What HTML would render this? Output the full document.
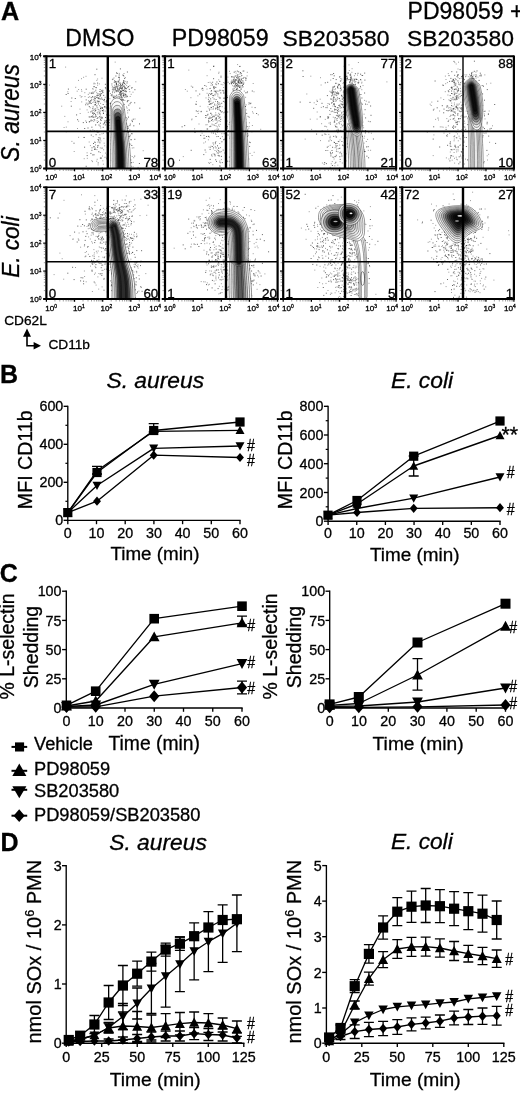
<!DOCTYPE html>
<html lang="en">
<head>
<meta charset="utf-8">
<title>Figure</title>
<style>
html,body{margin:0;padding:0;background:#fff;}
body{width:520px;height:1093px;overflow:hidden;}
svg{display:block;font-family:'Liberation Sans', sans-serif;fill:#000;}
text{stroke:#000;stroke-width:.3px;}
</style>
</head>
<body>
<svg width="520" height="1093" viewBox="0 0 520 1093">
<defs>
<clipPath id="cp00"><rect x="46.4" y="56.3" width="112.6" height="112.2"/></clipPath>
<clipPath id="cp01"><rect x="165" y="56.3" width="112.6" height="112.2"/></clipPath>
<clipPath id="cp02"><rect x="283.2" y="56.3" width="112.9" height="112.2"/></clipPath>
<clipPath id="cp03"><rect x="402.2" y="56.3" width="111.7" height="112.2"/></clipPath>
<clipPath id="cp10"><rect x="46.4" y="187.3" width="112.6" height="111.7"/></clipPath>
<clipPath id="cp11"><rect x="165" y="187.3" width="112.6" height="111.7"/></clipPath>
<clipPath id="cp12"><rect x="283.2" y="187.3" width="112.9" height="111.7"/></clipPath>
<clipPath id="cp13"><rect x="402.2" y="187.3" width="111.7" height="111.7"/></clipPath>
</defs>
<rect x="0" y="0" width="520" height="1093" fill="#fff"/>
<text x="1.1" y="19.7" font-size="25.2" font-weight="bold">A</text>
<text x="99.8" y="45.9" font-size="23" text-anchor="middle">DMSO</text>
<text x="220.2" y="46" font-size="23.2" text-anchor="middle">PD98059</text>
<text x="336" y="46" font-size="22.9" text-anchor="middle">SB203580</text>
<text x="407.6" y="18.6" font-size="23">PD98059 +</text>
<text x="407" y="45.5" font-size="22.9">SB203580</text>
<text transform="translate(19.1 112.9) rotate(-90) scale(1 1.1)" font-size="22.8" font-style="italic" text-anchor="middle">S. aureus</text>
<text transform="translate(18.6 247.1) rotate(-90) scale(1 1.07)" font-size="22.6" font-style="italic" text-anchor="middle">E. coli</text>
<g clip-path="url(#cp00)">
<path d="M114.5 92.6h0M124.5 86.4h0M114 89.5h0M123.2 93.3h0M126.9 96.9h0M119.5 88.1h0M120.4 91h0M118.4 89.6h0M121.2 94.8h0M113.6 88.8h0M113.4 90h0M116.5 91.5h0M118.7 94.6h0M119.6 92.6h0M120.5 83h0M123.1 90h0M124.3 85.8h0M124.5 89.1h0M123.5 93.3h0M127.4 87.4h0M122.5 93.6h0M115.4 87.2h0M122.7 100.6h0M124.4 97.4h0M128 87.7h0M116.9 103.7h0M121.1 96.8h0M120.8 95.3h0M120.6 83.8h0M119.5 92.6h0M116.6 95.6h0M125 88h0M111.9 83.7h0M120 94.5h0M119.3 73.4h0M123.6 106.2h0M131.2 94.3h0M120.5 100.9h0M119.6 103h0M122.9 92.1h0M111.8 85h0M117.3 86.3h0M118.5 90.8h0M121.9 96h0M117.9 88.4h0M117.8 81.3h0M120.8 91.4h0M129.8 91.7h0M112.8 91.3h0M112.8 114.4h0M125 94h0M122.7 75h0M115.9 98.5h0M127.4 81.7h0M116.9 85.1h0M114.6 85.2h0M125.6 94.8h0M119.4 80.8h0M112 94.9h0M126.5 95.9h0M118.3 82.2h0M112.4 79.6h0M120 91.1h0M125.5 84.3h0M111.1 95.3h0M116.9 99.2h0M123.2 85.3h0M116.6 87h0M123.5 96.2h0M119.5 94.2h0M116.6 91.7h0M121 97.1h0M124.9 89.1h0M121 90.8h0M120.9 88.5h0M122.4 90.5h0M119 90.4h0M121.6 85.5h0M115.5 82.6h0M124 73.5h0M118.8 85.7h0M119.4 85.7h0M119.4 96.4h0M118.2 82h0M121.6 88.3h0M126.6 85.4h0M123.4 95.6h0M125.8 81.4h0M124.7 87.3h0M118.2 86.1h0M122.2 104.6h0M132.3 87.6h0M112.3 87.2h0M124.2 93.8h0M112.7 86.3h0M118.9 90.1h0M116 100.6h0M121.6 93.1h0M112.8 88.8h0M121.8 89.1h0M121 98.4h0M118.2 101h0M118.3 96.3h0M125.4 77.6h0M122.3 103.2h0M114.8 88.1h0M119.2 89h0M125.3 88.4h0M119.4 87.6h0M115.5 88.3h0M129.8 85.8h0M123.9 76.2h0M116.1 90.9h0M122.2 99.1h0M121.1 94.7h0M118.5 84.3h0M116.2 97.7h0M120 94.6h0M115.3 88.6h0M116.7 95.1h0M116.4 83.4h0M123.7 82.3h0M122 86h0M116 104.5h0M123.2 114.6h0M121.8 87.6h0M122.3 83.6h0M120.6 86.5h0M114.4 96.1h0M122.2 89.3h0M112.4 89.6h0M113.2 89.8h0M114.9 87.3h0M117.7 88.4h0M121.2 94.3h0M130.2 96.5h0M112.6 92.8h0M117.7 97h0M93.9 83.9h0M101.2 118h0M97.5 93.8h0M107.9 92.6h0M94.1 83.1h0M93.1 97.1h0M97.2 132.4h0M97.6 85.2h0M100.8 94.8h0M98.7 93.8h0M97.5 101.5h0M93.7 117.3h0M99.9 134.7h0M94.8 96.6h0M93.1 92.9h0M94.4 86.6h0M99.5 105.7h0M89.4 93h0M95.7 109.8h0M97.9 132.1h0M90.1 101.6h0M99 101.6h0M88.3 94.4h0M113.5 113.7h0M96.1 103.3h0M104.9 101.8h0M88.7 103.3h0M95.7 124.6h0M97.7 107.9h0M98.1 109.5h0M98 102.2h0M114.8 104h0M111.6 117.6h0M81.7 101.9h0M96.7 92.7h0M110.8 103.1h0M98.7 109.8h0M94.4 104.9h0M88.3 112.3h0M99.5 91.5h0M115.3 105.6h0M97.5 97.2h0M94.5 113.4h0M94.4 91.8h0M89.7 96.7h0M110.4 93.5h0M100.4 107h0M97 118.5h0M107 115.3h0M88.6 100.7h0M92.4 115.8h0M101.2 108.7h0M101.6 90.4h0M98.6 97.7h0M86 76.3h0M94 119.5h0M97.6 79h0M100.6 108.4h0M90.6 100.6h0M95.7 96.7h0M103.2 111h0M96.3 87.8h0M97.2 112.5h0M95.7 90.9h0M112.5 92.1h0M104.4 99.3h0M111.6 95.8h0M98.1 117.4h0M93.6 114.5h0M100.5 91.7h0M102.7 92.8h0M103.3 124.1h0M89.3 101.7h0M107.9 102.4h0M98.9 101.9h0M96.8 80.4h0M106.6 114.6h0M105.2 121.6h0M86.2 103.2h0M93 112.7h0M108.3 102.4h0M104.2 99.7h0M102.8 90.2h0M105.7 88.7h0M87.1 103.2h0M100.4 94.1h0M94.5 109.2h0M100.1 118.1h0M93.2 136.6h0M103.6 109.7h0M105.2 111.1h0M84.8 92.7h0M101.3 107.3h0M93.9 101.2h0M100.3 114.9h0M103.5 123.9h0M97 131h0M103.5 100.4h0M81.2 97.2h0M100.2 94.8h0M89.7 103.5h0M94.7 142.1h0M89.4 121.5h0M95.8 90.1h0M100.2 111.9h0M83.6 77.3h0M97.1 120.8h0M105 122.7h0M102.8 110.7h0M97.3 100.7h0M90.2 107.7h0M99.8 93.9h0M100.6 103.4h0M100.2 98.7h0M95.7 115.6h0M103.3 110.7h0M87.1 109.9h0M80.2 113.5h0M102.9 90.7h0M104.8 106.9h0M119.6 108.4h0M99.5 98.2h0M93.7 99.4h0M89.9 117.1h0M97.8 114h0M97.3 95.3h0M99.4 101.3h0M100 110.1h0M93.2 89.1h0M102.2 110.6h0M100 111.2h0M95.7 108.6h0M99.4 83.9h0M93.3 113.1h0M96.9 107.1h0M92.9 92.1h0M104.2 107.3h0M92.4 120.6h0M102.4 91.3h0M104.5 123.2h0M105.2 97.3h0M106.4 104.8h0M95.1 83.7h0M103.5 133.3h0M88.4 97.4h0M90.3 130.3h0M93 116.2h0M89.4 101.9h0M92.9 102.5h0M116.3 85.9h0M94.4 130.8h0M98.5 121.6h0M100.2 99.3h0M114.5 103.7h0M94.7 97.4h0M92.6 88.7h0M102.8 160.8h0M104.9 157.3h0M95.5 144.9h0M98.6 145.4h0M97.9 142.1h0M110.5 143.9h0M100.7 128h0M74.2 151.5h0M108.3 127.9h0M90.4 145.6h0M84.2 158.7h0M98.8 151.6h0M100.1 137.8h0M97.5 145.5h0M106.2 157.2h0M94.2 146.5h0M97.2 159.3h0M100.3 152.5h0M87.3 158.3h0M102.3 167.6h0M84.2 137.4h0M100.3 147.9h0M100.3 158.1h0M98.7 151.8h0M97.9 146.1h0M116.8 153h0M96.7 161.2h0M94.9 174.1h0M104.2 143.2h0M103.9 138.4h0M103.4 164.2h0M105.9 171.1h0M103.6 149.8h0M99 141.7h0M93.7 121.3h0M96.9 149.6h0M102.5 156h0M92.8 129.8h0M91.8 160.7h0M110.6 140.1h0M98.1 164.9h0M119.3 166.4h0M94.7 142.2h0M99.9 169.6h0M105.6 153.1h0M106.6 171.6h0M102.1 147.8h0M87.1 152.8h0M89.2 142h0M92.5 161.6h0M102 133.8h0M104.7 145.8h0M100.9 140.9h0M95.4 142.5h0M122.7 160.4h0M123.5 163.5h0M120.3 135h0M123.6 146.4h0M129.6 137.9h0M115.6 144.5h0M114.6 123.4h0M123.2 119.3h0M125.4 150.1h0M121.2 164.2h0M132.2 156.5h0M124.4 149.9h0M128.2 143.5h0M119 146.6h0M123.9 133.8h0M111.7 145.1h0M126.7 139h0M124.8 127.3h0M143.2 150.7h0M122.9 99.3h0M122.6 151.7h0M118.1 150h0M130.9 131.4h0M128.4 140.5h0M127.7 112.9h0M127.5 118.9h0M112.2 161.4h0M125.3 160.4h0M124.3 147.7h0M123.6 159.1h0M124.9 123.7h0M120.1 140.7h0M119.8 115.5h0M110.5 166.1h0M120.9 118h0M119.6 144.7h0M123.1 132.5h0M119.2 154.5h0M133.7 157.7h0M118.2 145h0M125.6 138.2h0M120.6 131.8h0M120.6 118.5h0M120.5 102.8h0M124.6 146.9h0M125.1 123.3h0M120.4 154.5h0M122.4 141.2h0M127.4 132.2h0M115 91.7h0M124.1 167.9h0M120.1 127.9h0M116.2 144.6h0M127.9 143h0M116 149.4h0M126.8 163.2h0M122.2 144.7h0M119.5 108.4h0M121.6 130.5h0M117.2 148.2h0M115.7 122.3h0M119.7 150h0M127.9 138h0M124.9 157.8h0M109.9 98.7h0M116.5 156.9h0M116.3 147.1h0M120 175.8h0M126.6 120.2h0M119.8 154.4h0M125.7 133.2h0M123.7 149.8h0M118.2 145.1h0M112.6 136.3h0M113.3 125.8h0M114.3 172.7h0M118 167.2h0M118.7 103.4h0M113.6 136.7h0M118.4 148.2h0M121.9 107.8h0M118.6 134h0M124.3 138.2h0M130.1 155.6h0M128.8 172.6h0M123.5 129.7h0M121.8 161.2h0M120.8 115.9h0M116.5 167.1h0M128.7 100.5h0M127.7 100.5h0M126.5 150.2h0M119.7 121.1h0M125.4 132.8h0M119.4 113.8h0M117.6 118.7h0M123.4 139.4h0M119.6 169.8h0M125.3 134.6h0M118.1 148.5h0M125.9 95.1h0M120.6 156.4h0M119.2 109h0M123.1 123.2h0M123.4 144.3h0M121.4 138.9h0M118.7 130.1h0M118.3 122.5h0M124.2 137.5h0M126.4 123.2h0M125.6 141.6h0M115.3 137.2h0M124.3 114.3h0M129.7 144.9h0M135.8 81.8h0M110.5 149.6h0M121.4 121.5h0M115.1 163.5h0M119.1 159.6h0M126.5 136h0M124.8 100.4h0M112.6 158.5h0M127.2 101.8h0M120.6 118.9h0M123.2 132.4h0M117.9 127.7h0M115.9 158.6h0M118.8 149.1h0M126.7 124.1h0M121.7 107.4h0M120.3 122.6h0M124.8 142.5h0M117.3 146.1h0M106.4 122.5h0M125.8 178.5h0M106.9 159h0M123.3 157.1h0M120.9 121.8h0M124.5 153.9h0M125.7 134.2h0M117.8 118.9h0M127.7 110.7h0M113.6 134.1h0M131.3 162.6h0M118.5 145.5h0M115.2 118h0M120.3 134.5h0M125.4 129.7h0M102 148.5h0M121.6 116h0M135.8 182.7h0M117.3 135.9h0M127.1 108.1h0M124.4 134.7h0M129 109.7h0M121.9 174.9h0M120.3 166.1h0M129.4 147.5h0M123.7 110.1h0M108.5 120.4h0M123.1 122.9h0M120 142.6h0M125 144.4h0M112.3 162.6h0M111.6 103.2h0M129.5 110.2h0M125.2 165.9h0M121 136.6h0M114 114.6h0M123.4 145.4h0M119.5 111.9h0M119.3 146.3h0M132 133.9h0M121.5 114.3h0M111.3 153.6h0M116 148.2h0M106.5 132.9h0M119.1 178.6h0M119.1 177.1h0M118.8 113.3h0M119.8 137.6h0M117.4 143.7h0M106.9 154.8h0M119.1 141.2h0M125.9 124.8h0M116.8 144.6h0M133.2 162.4h0M127.3 146h0M114.7 160h0M131.1 139.5h0M116 139h0M116.5 139.2h0M128.5 134h0M126.5 106.9h0M115.2 62.1h0M125.9 200.3h0M123.6 155.5h0M126.1 152.2h0M114.3 109.7h0M121.7 175.2h0M120.7 97.2h0M135 119h0M128 138.1h0M114.2 128.9h0M128 155.1h0M123.9 141.9h0M116.6 133.6h0M123.4 158.6h0M115.3 126.3h0M123.8 126.7h0M114.6 151.8h0M133 92.2h0M121.2 136.7h0M126.4 157.5h0M125.1 136.9h0M116.7 189.4h0M126.5 143.1h0M133.1 166.8h0M118.4 157.4h0M107.9 134.7h0M117.7 146.4h0M121.7 118h0M115.6 145.2h0M133.8 147.8h0M129.4 145.2h0M118.1 148.8h0M117.3 136.6h0M122 109.6h0M108.2 104h0M116.2 157.2h0M118.3 148.7h0M111.2 131.3h0M124.7 138.2h0M121.9 152.5h0M119.8 167.4h0M138.1 167.4h0M124.8 117.9h0M132.3 148h0M130.7 144.1h0M107.9 118.8h0M121.4 133.9h0M121.4 112.2h0M114 77.9h0M122.1 113.6h0M115.4 142.6h0M126.2 148h0M117.9 111h0M124.5 142.2h0M116.1 185.7h0M109.9 125.5h0M131.4 166.3h0M120.4 136h0M61.7 106.2h0M64.1 127.5h0M95.6 125.2h0M85.7 120.9h0M67.8 91.8h0M68 121.8h0M90.6 102.8h0M77.2 91.2h0M78.6 137.3h0M66.3 127.1h0M64.8 116.4h0M49.5 85.1h0M80.1 95.7h0M71.9 141.4h0M98.1 111.8h0M99.4 94.7h0M81.9 96.5h0M81.8 91.3h0M81.5 78.7h0M102 78.2h0M75.7 87.3h0M78.6 89.5h0M80 109.1h0M71.1 101.5h0M78.6 121.2h0M77.5 128.5h0M85 96.6h0M78.5 80.4h0M65.6 67.1h0M81.5 89.7h0" stroke="#8c8c8c" stroke-width="0.85" stroke-linecap="square" fill="none"/><path d="M122.2 97.7h0M114.5 80.9h0M131.6 88h0M116.5 82h0M124.9 91.5h0M111.9 94.9h0M134.9 89.7h0M123.8 80.7h0M122.5 84.3h0M128.4 86.5h0M125.7 94.4h0M120.6 84.5h0M121.3 91.5h0M120.8 85.8h0M123.5 94.9h0M120.8 95.4h0M123.9 82h0M131 102.4h0M125 95h0M120.3 99.5h0M121.1 93.7h0M127 83h0M124.5 83.6h0M118.1 91.6h0M116.9 86.7h0M123.2 100h0M122.6 87.7h0M123.5 90.6h0M113.9 101.2h0M126.5 88.7h0M116.5 72.9h0M126.3 91.3h0M119.2 75h0M119.4 79.1h0M113.1 96.2h0M123.8 83.1h0M129.3 89.4h0M119.4 83.1h0M126 91.8h0M116.8 90.6h0M117.9 100h0M120.8 94.1h0M121.5 97h0M123.4 75.4h0M124.6 78.4h0M117.3 73.4h0M116.3 84.2h0M116.6 102.3h0M118.5 81.2h0M117.1 101.6h0M120.9 91.7h0M116.6 84.5h0M117.2 90.7h0M125.1 90.5h0M114.3 82.3h0M113.7 97.7h0M113 79.1h0M115.8 96.3h0M118.5 77.3h0M115.5 81.4h0M115.8 103.9h0M122.6 84.9h0M120.6 87.6h0M120.9 85.9h0M123.7 81h0M124.9 87.3h0M116.5 83.5h0M123.2 82.5h0M125.4 88.3h0M117.3 87.9h0M113.4 97.4h0M115.2 86.9h0M119.4 97.9h0M123.4 95.3h0M122.1 88.3h0M120.2 88.5h0M125.8 96.9h0M123.9 95.8h0M117.4 89.2h0M121.8 99.5h0M119.5 77.3h0M123.2 86.5h0M120.5 101.2h0M119.9 93.2h0M123 90.5h0M115.9 76h0M120.6 92.5h0M121 91.2h0M127.4 72h0M121.8 88.6h0M115.3 89.3h0M119.4 89.3h0M99.4 112.8h0M96.8 105.8h0M91.3 97.7h0M110.6 103.6h0M109.5 91h0M93.9 86.7h0M104.5 106.7h0M91.7 93.2h0M91.2 103.5h0M108 106h0M97.7 118.1h0M102.4 108.5h0M106.9 102.8h0M108 105.5h0M102.2 117.4h0M102 118.3h0M94.2 113.4h0M93 93.3h0M104.5 122.7h0M86.5 122.3h0M90.8 111.9h0M103.2 104.5h0M95.2 102.4h0M92.5 96.7h0M92.8 108.6h0M91.7 99.8h0M109.2 122.6h0M100.1 89.6h0M98.1 98.2h0M98.1 139.5h0M95.7 102.1h0M95.4 104.8h0M99.6 116.7h0M97.6 83.1h0M93.2 110.2h0M100.5 95.3h0M92 111.1h0M109.7 120h0M98.4 101.3h0M100.4 123.2h0M90.9 121h0M95.7 110.5h0M100 96.3h0M95.1 117h0M92.5 113.2h0M101.1 120.5h0M102.2 99.4h0M106.3 108h0M86.2 99.9h0M100.5 108.5h0M94.9 98.7h0M100.2 126.1h0M89.3 106.6h0M96 87.5h0M105.4 84.3h0M107.7 101.5h0M96.8 69.2h0M95 111.1h0M105.6 117.5h0M98.7 98.6h0M100 113.7h0M99 125h0M94.7 120h0M101.3 93.5h0M93.1 106.9h0M114.2 115h0M95.2 98.6h0M105.9 106.9h0M95.6 114.4h0M103.7 95.4h0M111 106.2h0M105.4 87.7h0M106.9 101.6h0M101.7 98h0M89.8 102.1h0M105.3 124.9h0M91.2 120.1h0M103.5 113.4h0M96.7 97.4h0M90.9 100.8h0M91.8 116.5h0M96.1 116.4h0M106.5 100.8h0M97 95.4h0M101 117h0M102.9 92.3h0M104.5 99.9h0M87.9 104.7h0M89.2 116.9h0M110.3 103.6h0M103.4 113.2h0M85.7 104.8h0M93 117.3h0M105 120.8h0M94.8 100.3h0M102.5 110.5h0M111.4 128.7h0M108 125.6h0M101.9 91.2h0M107.4 121.6h0M95.3 104.6h0M102.3 107.5h0M91.1 116.9h0M98.4 103.9h0M93.8 146.8h0M93.5 143.5h0M91.9 150.3h0M91.3 135.1h0M92.8 154.9h0M84.1 137.5h0M97.4 122.5h0M98.8 131.9h0M92 147.8h0M111.7 153.9h0M117.7 131.5h0M91.9 127.2h0M111.6 160.4h0M107.1 158.5h0M111.6 134.5h0M94 154.8h0M120.1 134.7h0M94.6 149.4h0M95.2 149.3h0M119.1 121h0M98.9 137.7h0M113.1 133.8h0M101.1 158.1h0M98.7 140.3h0M108 137.4h0M100.9 158.1h0M90.9 153.4h0M97.6 147.3h0M100.2 139h0M98.2 162.9h0M86.2 166.3h0M95 148h0M84.6 147.2h0M96.1 134.7h0M87.2 155.6h0M103.2 127.3h0M113.6 115.1h0M110.1 115.3h0M121.1 174.2h0M134.7 156.1h0M127.4 140h0M116.3 116.5h0M127.3 163.4h0M127.6 101.2h0M111 137.4h0M125.6 133.9h0M117.7 146.5h0M119.7 139h0M117.4 129.8h0M107.3 147.2h0M120.7 128.8h0M116.5 163.2h0M113.7 161.1h0M123.3 154.8h0M119.5 157.3h0M131.8 133.6h0M121.8 139.2h0M124.1 150.6h0M127.7 126.9h0M123 99.9h0M116.9 168.6h0M119.8 134.1h0M119.4 156.4h0M118.6 131.8h0M120.1 169.1h0M116.7 147.2h0M131.1 139.8h0M111.2 118.9h0M113.9 87.5h0M125.2 123.2h0M118.4 157.7h0M121.3 147.7h0M118.3 154.3h0M127 158.6h0M128.1 143.6h0M129.2 143.7h0M128.5 117.1h0M121.3 167.6h0M132.4 121.6h0M115.7 113h0M123.5 131.7h0M127.1 154.7h0M120 120.4h0M130.1 135.2h0M110.6 119.5h0M127.7 131.1h0M133.8 125.8h0M126.9 160.8h0M122.4 151.6h0M120.2 147.3h0M127.4 150.7h0M123 110.1h0M123.9 114h0M120.9 118.6h0M115.8 125.5h0M119.6 105.4h0M122.4 138.4h0M108.7 108.2h0M139.8 108.2h0M131.8 145.5h0M121.3 139.5h0M114.8 128.3h0M113.8 109.7h0M128.4 132.4h0M126.5 128.2h0M118.7 135.8h0M123 160h0M118.6 147.7h0M99.9 142.8h0M125.9 177.2h0M117 109.4h0M119.4 186.3h0M125.9 137.2h0M123.9 140.9h0M122.9 134.2h0M110.3 128.2h0M125 134.1h0M128.3 128.2h0M117.2 148.6h0M115.5 101.5h0M126.9 146.1h0M121.8 119.9h0M117.9 153.9h0M129.7 136.5h0M117.3 168.3h0M137 176h0M120.6 167.7h0M127.4 128.7h0M119.2 123.1h0M111.9 104.3h0M119.4 112.5h0M118.6 115.2h0M117.1 117.8h0M114.7 118.6h0M120.4 68.9h0M111.3 160.5h0M133.3 119.2h0M124.3 109.8h0M114.3 142.8h0M124.9 124.1h0M122.6 174.4h0M128.8 105.2h0M127.8 139.6h0M130.1 103.7h0M139.4 163.5h0M124.5 164.9h0M119 151.2h0M118.4 122.1h0M124.2 142.9h0M130.3 124.1h0M119.5 155.9h0M127.6 159.7h0M116.2 163.2h0M122.8 163.8h0M127.9 126.2h0M121.6 105.2h0M119.3 167.7h0M119.7 120.5h0M127.4 96.3h0M115.1 120.1h0M119.1 117.4h0M134.7 102.8h0M117.8 108.6h0M139.5 123.9h0M128.6 145h0M114.3 153.7h0M121.9 125.8h0M126.7 162.6h0M127.3 151.9h0M134.8 139.3h0M130.8 160h0M119.5 159.8h0M122.8 118.7h0M120.1 138.8h0M124.2 124.7h0M129.8 130h0M128.8 168.4h0M121 100.4h0M114.1 101.6h0M128.5 141.5h0M114.3 97.2h0M129.9 125.6h0M117.4 152.2h0M115.9 138h0M115.7 128.5h0M122.5 144.9h0M128.6 136.3h0M122.8 134.4h0M115.3 116.4h0M119 158.7h0M123.9 112.8h0M126.2 117.8h0M117.1 172.1h0M124.2 104.4h0M121.1 131.4h0M132 120.3h0M124.2 130.7h0M123.4 111.7h0M121.8 126.6h0M131.2 162.7h0M108.3 116.6h0M123.6 157.1h0M116.2 143.9h0M115.2 90.1h0M88 128h0M83.3 122.6h0M86.2 89.2h0M68.1 93.5h0M71.8 98h0M100.6 119.6h0M91.2 93.1h0M71.3 106.2h0M66.2 94.5h0M76.6 114.9h0M84.7 128.5h0M75.3 98.5h0M98.2 95.4h0M74 143.2h0M77.6 119.7h0M89.4 121.9h0M95 74.7h0M68.4 89.1h0M106.6 120.7h0M66.3 131.7h0" stroke="#3a3a3a" stroke-width="0.8" stroke-linecap="square" fill="none"/>
<path d="M116.6 98C115.6 98.1 114.3 98.6 113.5 99.2C112.7 99.8 112.3 100.7 111.8 101.5C111.3 102.2 110.9 102.2 110.6 103.9C110.4 105.6 110.3 109 110.2 111.6C110.1 114.1 110.1 116.7 110.1 119.2C110.1 121.8 110.1 124.4 110.1 126.9C110.1 129.5 110.1 132.1 110.2 134.6C110.2 137.2 110.3 139.7 110.3 142.2C110.4 144.7 110.4 147.2 110.4 149.7C110.4 152.1 110.4 154.5 110.4 157C110.4 159.5 110.4 162 110.4 164.6C110.4 167.1 110.3 170.2 110.5 172.1C110.7 174.1 110.9 175 111.7 176.3C112.4 177.7 113.5 179.3 115 180.3C116.6 181.2 118.9 182 120.8 182C122.7 182 125 181.1 126.5 180.1C128 179.1 129.1 177.5 129.8 176.1C130.5 174.7 130.7 173.8 130.8 171.9C131 169.9 130.8 166.8 130.7 164.2C130.6 161.6 130.5 159.1 130.4 156.5C130.2 153.9 130.1 151.2 129.8 148.6C129.6 146 129.3 143.4 128.9 140.9C128.6 138.3 128.2 135.7 127.8 133.2C127.5 130.7 127.1 128.2 126.8 125.7C126.4 123.2 126 120.7 125.7 118.2C125.3 115.7 125 113.2 124.6 110.6C124.2 108.1 123.7 104.7 123.2 103.1C122.8 101.5 122.3 101.6 121.8 100.9C121.2 100.2 120.7 99.3 119.8 98.8C118.9 98.3 117.6 97.9 116.6 98Z" fill="#fff" fill-opacity=".92"/>
<path d="M116.6 98C115.6 98.1 114.3 98.6 113.5 99.2C112.7 99.8 112.3 100.7 111.8 101.5C111.3 102.2 110.9 102.2 110.6 103.9C110.4 105.6 110.3 109 110.2 111.6C110.1 114.1 110.1 116.7 110.1 119.2C110.1 121.8 110.1 124.4 110.1 126.9C110.1 129.5 110.1 132.1 110.2 134.6C110.2 137.2 110.3 139.7 110.3 142.2C110.4 144.7 110.4 147.2 110.4 149.7C110.4 152.1 110.4 154.5 110.4 157C110.4 159.5 110.4 162 110.4 164.6C110.4 167.1 110.3 170.2 110.5 172.1C110.7 174.1 110.9 175 111.7 176.3C112.4 177.7 113.5 179.3 115 180.3C116.6 181.2 118.9 182 120.8 182C122.7 182 125 181.1 126.5 180.1C128 179.1 129.1 177.5 129.8 176.1C130.5 174.7 130.7 173.8 130.8 171.9C131 169.9 130.8 166.8 130.7 164.2C130.6 161.6 130.5 159.1 130.4 156.5C130.2 153.9 130.1 151.2 129.8 148.6C129.6 146 129.3 143.4 128.9 140.9C128.6 138.3 128.2 135.7 127.8 133.2C127.5 130.7 127.1 128.2 126.8 125.7C126.4 123.2 126 120.7 125.7 118.2C125.3 115.7 125 113.2 124.6 110.6C124.2 108.1 123.7 104.7 123.2 103.1C122.8 101.5 122.3 101.6 121.8 100.9C121.2 100.2 120.7 99.3 119.8 98.8C118.9 98.3 117.6 97.9 116.6 98Z" fill="none" stroke="rgba(0,0,0,0.8)" stroke-width="0.5"/>
<path d="M116.8 101.6C115.9 101.7 114.8 102.2 114 102.7C113.3 103.2 112.9 104.1 112.5 104.8C112.1 105.5 111.8 105.3 111.6 106.9C111.5 108.5 111.5 111.9 111.5 114.4C111.5 117 111.5 119.5 111.5 122C111.6 124.5 111.6 127 111.6 129.5C111.7 132 111.8 134.6 111.8 137.1C111.9 139.6 112 142 112.1 144.4C112.1 146.9 112.2 149.2 112.2 151.7C112.2 154.1 112.2 156.6 112.2 159C112.2 161.5 112.2 164 112.3 166.5C112.3 168.9 112.2 172.1 112.4 173.9C112.6 175.7 112.7 176.2 113.3 177.4C113.9 178.5 114.8 179.8 116.1 180.6C117.3 181.3 119.2 182 120.8 182C122.4 182 124.3 181.3 125.5 180.5C126.7 179.7 127.6 178.3 128.2 177.2C128.8 176 128.9 175.5 129 173.7C129.1 171.9 129 168.7 128.9 166.2C128.9 163.7 128.8 161.2 128.7 158.7C128.6 156.1 128.4 153.6 128.3 151C128.1 148.5 127.8 145.9 127.5 143.3C127.3 140.8 126.9 138.3 126.6 135.8C126.3 133.3 125.9 130.9 125.6 128.5C125.3 126 125 123.5 124.6 121.1C124.3 118.6 124 116.1 123.7 113.7C123.3 111.2 123 107.8 122.6 106.2C122.3 104.7 122 104.9 121.5 104.2C121 103.6 120.5 102.8 119.7 102.4C118.9 101.9 117.8 101.6 116.8 101.6Z" fill="none" stroke="rgba(0,0,0,0.8)" stroke-width="0.5"/>
<path d="M117 105.3C116.2 105.3 115.2 105.8 114.6 106.2C114 106.7 113.6 107.4 113.3 108C113 108.6 112.8 108.4 112.7 109.9C112.6 111.4 112.7 114.8 112.7 117.2C112.8 119.7 112.8 122.1 112.9 124.6C112.9 127 113 129.5 113.1 132C113.2 134.4 113.3 136.9 113.4 139.3C113.5 141.7 113.6 144.1 113.6 146.5C113.7 148.9 113.7 151.3 113.8 153.7C113.8 156.1 113.8 158.5 113.8 160.9C113.8 163.3 113.9 165.8 113.9 168.2C114 170.6 114 173.8 114.1 175.5C114.3 177.2 114.3 177.4 114.8 178.3C115.3 179.2 116 180.2 117 180.9C118 181.5 119.5 182 120.8 182C122.1 182 123.6 181.4 124.6 180.8C125.6 180.1 126.3 179 126.7 178.1C127.2 177.2 127.2 177 127.3 175.3C127.4 173.6 127.4 170.4 127.3 168C127.3 165.5 127.2 163.1 127.1 160.6C127.1 158.2 127 155.7 126.8 153.2C126.7 150.7 126.5 148.2 126.3 145.8C126 143.3 125.7 140.8 125.5 138.3C125.2 135.9 124.8 133.5 124.5 131.1C124.3 128.6 124 126.2 123.7 123.8C123.4 121.4 123.1 119 122.8 116.6C122.5 114.2 122.2 110.8 121.9 109.3C121.7 107.8 121.5 108.1 121.1 107.5C120.7 107 120.2 106.3 119.6 105.9C118.9 105.5 117.9 105.2 117 105.3Z" fill="rgba(0,0,0,0.1)" stroke="rgba(0,0,0,0.8)" stroke-width="0.5"/>
<path d="M117.3 108.9C116.6 109 115.8 109.3 115.2 109.7C114.7 110.1 114.3 110.7 114.1 111.2C113.9 111.7 113.9 111.3 113.9 112.8C113.8 114.2 113.8 117.5 113.9 119.9C113.9 122.3 114 124.7 114.1 127.1C114.2 129.5 114.3 131.9 114.4 134.3C114.5 136.7 114.7 139.1 114.8 141.4C114.9 143.8 115 146.1 115 148.5C115.1 150.8 115.2 153.1 115.2 155.5C115.2 157.8 115.2 160.2 115.3 162.6C115.3 165 115.3 167.4 115.4 169.7C115.4 172.1 115.4 175.3 115.5 176.9C115.6 178.4 115.7 178.4 116.1 179.1C116.4 179.8 117 180.6 117.8 181.1C118.6 181.6 119.8 182 120.8 182C121.8 182 123 181.5 123.8 181C124.5 180.5 125.1 179.7 125.5 178.9C125.8 178.2 125.9 178.3 126 176.7C126.1 175.2 126 172 125.9 169.6C125.9 167.2 125.8 164.8 125.8 162.4C125.7 160 125.7 157.6 125.5 155.2C125.4 152.8 125.3 150.3 125.1 147.9C124.9 145.5 124.7 143.1 124.4 140.7C124.2 138.3 123.9 135.9 123.6 133.6C123.3 131.2 123.1 128.8 122.8 126.5C122.5 124.1 122.3 121.8 122 119.4C121.8 117 121.3 113.7 121.1 112.3C120.9 110.9 121 111.3 120.7 110.8C120.4 110.3 119.9 109.8 119.4 109.4C118.8 109.1 118 108.9 117.3 108.9Z" fill="rgba(0,0,0,0.35)" stroke="rgba(0,0,0,0.8)" stroke-width="0.5"/>
<path d="M117.5 112.6C116.9 112.6 116.3 112.9 115.9 113.2C115.4 113.5 115.1 114 115 114.4C114.8 114.8 114.8 114.3 114.8 115.7C114.8 117 114.8 120.3 114.9 122.6C115 125 115.1 127.3 115.2 129.6C115.4 131.9 115.5 134.3 115.6 136.6C115.7 138.9 115.9 141.2 116 143.5C116.1 145.8 116.2 148.1 116.3 150.4C116.3 152.6 116.4 154.9 116.4 157.2C116.4 159.5 116.5 161.8 116.5 164.2C116.5 166.5 116.6 168.8 116.6 171.1C116.6 173.4 116.6 176.6 116.7 178.1C116.8 179.5 116.9 179.2 117.1 179.7C117.4 180.3 117.9 180.9 118.5 181.3C119.1 181.7 120 182 120.8 182C121.6 182 122.5 181.6 123.1 181.2C123.7 180.9 124.1 180.2 124.4 179.6C124.7 179.1 124.7 179.4 124.8 178C124.8 176.5 124.8 173.3 124.7 171C124.7 168.7 124.7 166.3 124.6 164C124.5 161.7 124.5 159.4 124.4 157C124.3 154.7 124.2 152.3 124.1 150C123.9 147.6 123.7 145.3 123.5 143C123.3 140.6 123 138.3 122.8 136C122.6 133.7 122.3 131.4 122.1 129.1C121.8 126.8 121.6 124.5 121.4 122.2C121.1 119.9 120.8 116.6 120.6 115.3C120.4 113.9 120.5 114.5 120.3 114.1C120 113.7 119.7 113.2 119.2 113C118.7 112.7 118.1 112.5 117.5 112.6Z" fill="rgba(0,0,0,0.5)" stroke="rgba(0,0,0,0.8)" stroke-width="0.5"/>
<path d="M117.7 116.2C117.3 116.2 116.8 116.4 116.5 116.7C116.2 116.9 116 117.3 115.8 117.6C115.7 117.9 115.7 117.3 115.7 118.5C115.7 119.8 115.8 123.1 115.9 125.3C116.1 127.6 116.2 129.8 116.3 132.1C116.5 134.3 116.6 136.6 116.8 138.8C116.9 141.1 117 143.3 117.1 145.5C117.2 147.7 117.3 150 117.4 152.2C117.5 154.4 117.5 156.7 117.5 158.9C117.6 161.1 117.6 163.4 117.6 165.6C117.7 167.9 117.7 170.1 117.7 172.4C117.8 174.6 117.8 177.8 117.9 179.1C117.9 180.5 117.9 180 118.2 180.4C118.4 180.8 118.7 181.2 119.1 181.5C119.6 181.8 120.2 182 120.8 182C121.4 182 122 181.7 122.5 181.5C122.9 181.2 123.2 180.7 123.4 180.3C123.6 179.9 123.6 180.4 123.7 179.1C123.7 177.7 123.6 174.6 123.6 172.3C123.6 170.1 123.6 167.8 123.5 165.5C123.5 163.3 123.4 161 123.4 158.8C123.3 156.5 123.2 154.2 123.1 152C123 149.7 122.8 147.4 122.7 145.2C122.5 142.9 122.3 140.6 122 138.4C121.8 136.1 121.6 133.9 121.4 131.7C121.2 129.4 120.9 127.2 120.7 125C120.5 122.7 120.2 119.5 120.1 118.3C119.9 117 120 117.6 119.8 117.3C119.6 117 119.4 116.7 119 116.5C118.7 116.3 118.2 116.2 117.7 116.2Z" fill="rgba(0,0,0,0.65)" stroke="rgba(0,0,0,0.8)" stroke-width="0.5"/>
<path d="M118 119.8C117.7 119.8 117.4 120 117.2 120.1C117 120.3 116.8 120.5 116.7 120.7C116.6 120.9 116.6 120.2 116.6 121.3C116.7 122.5 116.9 125.7 117 127.9C117.2 130.1 117.3 132.3 117.4 134.5C117.6 136.6 117.8 138.8 117.9 141C118.1 143.2 118.2 145.3 118.3 147.5C118.4 149.7 118.5 151.9 118.5 154C118.6 156.2 118.6 158.4 118.7 160.6C118.7 162.7 118.7 164.9 118.8 167.1C118.8 169.3 118.8 171.5 118.9 173.7C118.9 175.8 118.9 179 119 180.2C119 181.4 119 180.7 119.2 181C119.3 181.2 119.5 181.5 119.8 181.7C120 181.9 120.5 182 120.8 182C121.1 182 121.6 181.8 121.8 181.7C122.1 181.5 122.3 181.2 122.4 180.9C122.5 180.7 122.6 181.4 122.6 180.2C122.6 179 122.5 175.8 122.5 173.6C122.5 171.4 122.5 169.2 122.4 167C122.4 164.9 122.3 162.7 122.3 160.5C122.2 158.3 122.2 156.1 122.1 153.9C122 151.7 121.9 149.5 121.8 147.3C121.6 145.1 121.4 142.9 121.3 140.7C121.1 138.6 120.8 136.4 120.6 134.2C120.4 132 120.2 129.9 120.1 127.7C119.9 125.5 119.6 122.3 119.5 121.1C119.4 120 119.4 120.7 119.3 120.6C119.2 120.4 119 120.2 118.8 120C118.6 119.9 118.2 119.8 118 119.8Z" fill="rgba(0,0,0,0.6)" stroke="rgba(0,0,0,0.8)" stroke-width="0.5"/>
</g>
<path d="M46.4 55.5V169.4M159 55.5V169.4" fill="none" stroke="#000" stroke-width="2.2"/>
<line x1="43.2" y1="56.3" x2="159" y2="56.3" stroke="#000" stroke-width="1.9"/>
<line x1="43.2" y1="168.5" x2="159.9" y2="168.5" stroke="#000" stroke-width="1.9"/>
<line x1="107.8" y1="56.3" x2="107.8" y2="168.5" stroke="#000" stroke-width="2.4"/>
<line x1="46.4" y1="131.4" x2="159" y2="131.4" stroke="#000" stroke-width="1.6"/>
<line x1="43.2" y1="168.5" x2="46.4" y2="168.5" stroke="#000" stroke-width="1.2"/>
<line x1="46.4" y1="168.5" x2="46.4" y2="171.3" stroke="#000" stroke-width="1.2"/>
<text x="41.5" y="171.9" font-size="8.1" text-anchor="end">10<tspan font-size="4.9" dy="-2.5">0</tspan></text>
<text x="45.2" y="180.2" font-size="8.1">10<tspan font-size="4.9" dy="-2.5">0</tspan></text>
<line x1="43.2" y1="140.45" x2="46.4" y2="140.45" stroke="#000" stroke-width="1.2"/>
<line x1="74.55" y1="168.5" x2="74.55" y2="171.3" stroke="#000" stroke-width="1.2"/>
<text x="41.5" y="143.85" font-size="8.1" text-anchor="end">10<tspan font-size="4.9" dy="-2.5">1</tspan></text>
<text x="72.9" y="180.2" font-size="8.1">10<tspan font-size="4.9" dy="-2.5">1</tspan></text>
<line x1="43.2" y1="112.4" x2="46.4" y2="112.4" stroke="#000" stroke-width="1.2"/>
<line x1="102.7" y1="168.5" x2="102.7" y2="171.3" stroke="#000" stroke-width="1.2"/>
<text x="41.5" y="115.8" font-size="8.1" text-anchor="end">10<tspan font-size="4.9" dy="-2.5">2</tspan></text>
<text x="100.6" y="180.2" font-size="8.1">10<tspan font-size="4.9" dy="-2.5">2</tspan></text>
<line x1="43.2" y1="84.35" x2="46.4" y2="84.35" stroke="#000" stroke-width="1.2"/>
<line x1="130.85" y1="168.5" x2="130.85" y2="171.3" stroke="#000" stroke-width="1.2"/>
<text x="41.5" y="87.75" font-size="8.1" text-anchor="end">10<tspan font-size="4.9" dy="-2.5">3</tspan></text>
<text x="128.3" y="180.2" font-size="8.1">10<tspan font-size="4.9" dy="-2.5">3</tspan></text>
<line x1="43.2" y1="56.3" x2="46.4" y2="56.3" stroke="#000" stroke-width="1.2"/>
<line x1="159" y1="168.5" x2="159" y2="171.3" stroke="#000" stroke-width="1.2"/>
<text x="41.5" y="59.7" font-size="8.1" text-anchor="end">10<tspan font-size="4.9" dy="-2.5">4</tspan></text>
<text x="160.9" y="180.2" font-size="8.1" text-anchor="end">10<tspan font-size="4.9" dy="-2.5">4</tspan></text>
<path d="M45.4 160.1h-1.6M54.9 169.4v1.6M45.4 155.1h-1.6M59.8 169.4v1.6M45.4 151.6h-1.6M63.3 169.4v1.6M45.4 148.9h-1.6M66.1 169.4v1.6M45.4 146.7h-1.6M68.3 169.4v1.6M45.4 144.8h-1.6M70.2 169.4v1.6M45.4 143.2h-1.6M71.8 169.4v1.6M45.4 141.7h-1.6M73.3 169.4v1.6M45.4 132h-1.6M83 169.4v1.6M45.4 127.1h-1.6M88 169.4v1.6M45.4 123.6h-1.6M91.5 169.4v1.6M45.4 120.8h-1.6M94.2 169.4v1.6M45.4 118.6h-1.6M96.5 169.4v1.6M45.4 116.7h-1.6M98.3 169.4v1.6M45.4 115.1h-1.6M100 169.4v1.6M45.4 113.7h-1.6M101.4 169.4v1.6M45.4 104h-1.6M111.2 169.4v1.6M45.4 99h-1.6M116.1 169.4v1.6M45.4 95.5h-1.6M119.6 169.4v1.6M45.4 92.8h-1.6M122.4 169.4v1.6M45.4 90.6h-1.6M124.6 169.4v1.6M45.4 88.7h-1.6M126.5 169.4v1.6M45.4 87.1h-1.6M128.1 169.4v1.6M45.4 85.6h-1.6M129.6 169.4v1.6M45.4 75.9h-1.6M139.3 169.4v1.6M45.4 71h-1.6M144.3 169.4v1.6M45.4 67.5h-1.6M147.8 169.4v1.6M45.4 64.7h-1.6M150.5 169.4v1.6M45.4 62.5h-1.6M152.8 169.4v1.6M45.4 60.6h-1.6M154.6 169.4v1.6M45.4 59h-1.6M156.3 169.4v1.6M45.4 57.6h-1.6M157.7 169.4v1.6" stroke="#444" stroke-width=".5" fill="none"/>
<text x="48.7" y="68.1" font-size="13.4">1</text>
<text x="158.3" y="68.1" font-size="13.4" text-anchor="end">21</text>
<text x="48.7" y="167" font-size="13.4">0</text>
<text x="158.3" y="167" font-size="13.4" text-anchor="end">78</text>
<g clip-path="url(#cp01)">
<path d="M237.5 88.6h0M232.6 89.1h0M241.5 79.5h0M244.3 91.1h0M236.1 80.1h0M238.5 80.4h0M238 80.5h0M236.2 80.1h0M242.1 83.4h0M235.4 81.7h0M234.5 81.4h0M233.3 81.1h0M235.4 82.2h0M231.9 82.6h0M242.1 80.7h0M247.1 75.9h0M245.7 77.8h0M242.9 71.1h0M232.8 76.6h0M238.6 81h0M226.9 80.2h0M238 82.2h0M239.9 74h0M231.8 81h0M240 66.3h0M239 76.7h0M235.1 86.8h0M233.4 81.1h0M235 76.1h0M237.8 94.3h0M237.8 76.7h0M237.4 90.7h0M236.7 89.3h0M235.9 87.1h0M236.1 73.1h0M238.2 74.8h0M226.6 91.3h0M234.4 86.1h0M247.3 72.3h0M233.3 91h0M234.6 85.4h0M231.5 76.5h0M235.9 83.5h0M238.9 80.3h0M239.3 93.8h0M241 89.4h0M239.5 80.7h0M241 88.8h0M235.6 84.2h0M235.6 96h0M239.3 83.7h0M240.5 87.1h0M232 80.1h0M237.4 74.7h0M234.5 91.4h0M241.2 78.7h0M238.9 86.5h0M231.7 84h0M239.5 76.5h0M240.5 95.4h0M239.3 83.1h0M240 90.7h0M237.2 83.2h0M234.5 82.8h0M240.4 82.5h0M240 83.2h0M235.5 87.1h0M240.9 76.7h0M232.7 85.7h0M244.2 77.4h0M238.8 79.6h0M225.5 81h0M235 80.2h0M240.1 80.4h0M242 87.2h0M233.1 81.5h0M241.7 82.1h0M236.4 89.8h0M231.3 83h0M240.2 81.1h0M235.4 82.9h0M236.7 95h0M232.8 81.8h0M227.9 77.1h0M233.3 81.9h0M237.9 85.9h0M240.6 72.7h0M235.3 71.4h0M237.8 78.5h0M238.3 77.3h0M233.1 90.9h0M230.2 73.6h0M242.2 78.5h0M239.4 78.3h0M239.4 90.5h0M237.6 64.6h0M222.9 84.8h0M218.7 73.3h0M203 88.9h0M219.5 106.4h0M217.2 93.9h0M210.1 82.3h0M219.3 126.3h0M210.4 69.8h0M209.3 137h0M226.1 98.6h0M213.6 116.2h0M209.1 102.4h0M215.8 92.9h0M218.5 125h0M216.3 119.2h0M224.1 97.8h0M210.7 113.4h0M216.6 123.1h0M216.6 84.7h0M207.1 75.7h0M219.7 98h0M216.2 99.5h0M220.5 121.4h0M214.6 130.3h0M214.2 88h0M213.4 108.1h0M201.3 111.3h0M213.8 88.9h0M220.4 117.1h0M207.1 93.3h0M225 112.2h0M217.4 108.9h0M214.9 105.5h0M227.2 96h0M208 106.8h0M209.1 147.1h0M209.8 104.1h0M205.9 124.8h0M215.5 133.3h0M211 109.1h0M211.6 93.4h0M212.6 131h0M206.9 129h0M226.4 100.8h0M208.7 118.9h0M211 85.3h0M208 114.2h0M217.5 132.1h0M222.2 106.7h0M216.5 92.7h0M212.8 97.6h0M223.4 112.8h0M221 77.5h0M209.8 118.5h0M215.9 130h0M209 97.5h0M219.2 104.3h0M214.8 125.5h0M209.1 101.7h0M220.2 124.4h0M213.1 109.3h0M210.8 94h0M197.9 95.8h0M220.5 111.2h0M212.7 82.1h0M218.8 91.2h0M209.8 121.6h0M219.1 116.1h0M225.7 78.3h0M218.7 79.8h0M215.4 123.5h0M215.5 101.4h0M214.3 91.2h0M219 97.2h0M210.9 107.3h0M220.3 104.1h0M217.4 126.9h0M225.1 138.4h0M223.8 92.8h0M218.7 118.2h0M214.9 94.3h0M217.3 130.3h0M224.9 112.2h0M226.6 116.8h0M205.5 141.9h0M206.3 86.3h0M218.6 107.8h0M211.4 83.6h0M213 121.1h0M214.1 124.9h0M215.9 107.9h0M213 124.9h0M215.7 112.8h0M223.6 87.5h0M209.7 88.6h0M213.5 87.4h0M208.7 101.4h0M219 72.2h0M216.2 108.3h0M215.1 115.2h0M223.7 82.6h0M212.3 82.6h0M229.5 71.3h0M225.9 89.9h0M220 110.4h0M220.7 90.3h0M218.4 104.6h0M217 104.9h0M202.9 90.5h0M206.7 115.7h0M209.4 93.5h0M217.4 122h0M210.8 101.1h0M208.5 94.4h0M225.1 117h0M208.4 139.8h0M213.4 102.3h0M216.1 99.5h0M226.5 111.1h0M218.6 113.3h0M214 116.2h0M217.8 96h0M210.5 88.4h0M218 94.1h0M215.2 95h0M200.2 106.3h0M219.5 109.1h0M216.4 118.2h0M221.2 84.4h0M214.6 86.7h0M222.5 111.7h0M210.5 118.1h0M215.1 156h0M204 135.4h0M220.5 162.8h0M221.2 167.9h0M229.3 161.3h0M221.4 151.6h0M217.8 130.8h0M229.4 157.1h0M219.5 155.7h0M218.9 151.9h0M222.4 136.6h0M218.7 148.3h0M220.1 166.3h0M219.1 156.3h0M210.4 147.4h0M215 150.5h0M213.6 144.8h0M216.5 151.4h0M220.5 147.6h0M208.8 162.6h0M209.4 163.5h0M217 129h0M212 124.1h0M219.8 161h0M216.2 126h0M210.8 162.5h0M231.5 143.4h0M207.1 124.7h0M221.4 159.6h0M213.6 147.5h0M212.8 164.7h0M219.7 162.2h0M229.9 122.4h0M219.7 143.5h0M211 146.2h0M217.3 150h0M215.3 146.6h0M215.9 141.5h0M205.9 152.2h0M212.2 156.2h0M216.6 136.6h0M215.4 143.7h0M218 152.7h0M213.2 153.9h0M215.9 134.5h0M224.6 153h0M221.8 133.7h0M203.8 143h0M217.2 152.9h0M218.3 153.7h0M213.4 148.8h0M211.6 132.9h0M223.6 139.8h0M204.9 138.2h0M234.7 108h0M247.9 129.8h0M239.2 160.4h0M231.7 105.4h0M252.4 125.5h0M238.1 153.6h0M233 130.4h0M233.5 130.9h0M242.2 128h0M244.3 148.3h0M230.5 103.6h0M234.5 134.9h0M246.1 109.9h0M242.6 137.6h0M249 102.6h0M238.2 123.2h0M245.8 119.4h0M247.5 160.8h0M250 103.2h0M240.6 135h0M233.7 111.6h0M254.2 152.3h0M249.2 117.5h0M235.2 162.8h0M245.6 151.2h0M253.3 113.2h0M240.1 158.4h0M236.2 149.4h0M236.3 91.5h0M236.6 130.7h0M235.9 110h0M237 139h0M249.4 122.8h0M241.2 95.4h0M253.2 83.5h0M231.6 147.2h0M236.1 145.9h0M247.2 92.7h0M234 86.6h0M250.1 153.4h0M245.2 118.3h0M237.5 136.3h0M239.7 168.5h0M242.2 176.6h0M235.2 149.7h0M239.8 122.1h0M231.9 94.9h0M237.9 141.9h0M247.7 130.5h0M235 115.8h0M247.1 133.4h0M246.2 104.9h0M248.9 159h0M247.5 144.4h0M249.2 126.4h0M254 91.8h0M240.5 93.5h0M232.9 123.3h0M229 124.3h0M236.6 99.1h0M244 132.1h0M245.8 122.7h0M232.7 138h0M247.1 92.3h0M248.8 128.2h0M252.1 155.5h0M236.4 106.5h0M235.3 125.9h0M234.8 132.3h0M231 121.5h0M260.7 129.3h0M243.5 107.8h0M240.5 83.7h0M244.4 121.7h0M243.1 137.9h0M244.5 144.1h0M240.6 162.6h0M237.7 87.2h0M229.8 138.2h0M238.5 107.3h0M236.4 122.5h0M246.5 140.1h0M252.5 111.8h0M246 132h0M243.6 108.1h0M241.5 138.1h0M251.9 131.9h0M242.3 147.4h0M241.4 89.1h0M237.5 152.9h0M245.8 77.9h0M225.7 92h0M244 122.4h0M237.5 152.5h0M245.6 97.3h0M244.3 177.1h0M238.1 152.1h0M248.8 116.6h0M241.1 119.6h0M242.1 131h0M232.5 143.8h0M232.7 146.2h0M233.2 129.3h0M239.7 135.8h0M238.3 147.3h0M244.8 112.4h0M232 138.1h0M243.2 129.7h0M240.1 99.6h0M243.5 84h0M248.8 104.1h0M227.2 121h0M241.4 121.9h0M240.1 94.8h0M227.9 169.2h0M244.6 154.5h0M247.2 159.7h0M245 128.8h0M238.5 79h0M241 109h0M247.9 116.3h0M247.8 133.7h0M238.3 137.6h0M238.5 163.5h0M244.9 141.8h0M233.3 142.5h0M251 103.2h0M240.7 145.8h0M230.3 136.6h0M243 129.3h0M242.9 165.6h0M241.1 122.1h0M239.7 139.1h0M258.3 114.8h0M238.4 101.4h0M229.8 122.4h0M235.5 158.6h0M251.2 178.8h0M252 107.2h0M247.5 91.7h0M237.5 124.2h0M250.5 142.6h0M225.2 131.9h0M247.6 126.5h0M195.6 104.2h0M211 91.2h0M201.6 88.9h0M198.7 111.1h0M192 119h0M199 124h0M217.9 115.2h0M185.4 89.5h0M190.9 97.7h0M188.8 70.1h0M191.3 86.2h0M207 62.7h0M187.3 91.2h0M207 89.1h0M197.4 111.5h0M208.3 82.5h0M209.1 108.7h0M206 97.9h0M191.7 119.8h0M196.4 101.6h0M194.6 128.8h0M183.3 156.6h0M202.1 133.2h0M198.3 113.4h0" stroke="#8c8c8c" stroke-width="0.85" stroke-linecap="square" fill="none"/><path d="M233.6 79.8h0M238.1 96.6h0M235.1 80.8h0M240.4 81.6h0M243 81h0M241.3 73.7h0M234.3 82h0M235.8 76h0M239.2 85.8h0M233.8 90h0M241.6 82.9h0M231.9 77.1h0M238.9 82.6h0M243.8 71h0M237.3 71.1h0M238.5 82h0M243.8 83h0M236.6 89.9h0M238 85.1h0M236.9 88.8h0M236.7 94.3h0M238.2 86h0M243 86.8h0M237.1 86.2h0M235.4 84.1h0M238.7 71.8h0M229.7 83.7h0M241.7 82.6h0M246 78.6h0M232 93.6h0M241.8 75.5h0M241.2 79.9h0M236.3 83.6h0M236.1 85.6h0M238.6 81.2h0M237.3 84.4h0M234 79.9h0M239.8 66.5h0M237.9 81.8h0M237.3 75.9h0M238.4 92.6h0M231.2 82h0M234.2 78.1h0M231.5 83.4h0M233.5 83.3h0M239.5 79.7h0M236.4 85.6h0M236.5 77.7h0M234.1 88.3h0M228 82.2h0M234 77.1h0M241 85.8h0M237.9 77.8h0M240.4 72.6h0M232.4 82.4h0M235.1 93.1h0M245.8 80.2h0M234.2 72.2h0M237.3 95.5h0M241.7 83h0M242.5 85.5h0M245.8 92.8h0M235.5 79.8h0M236.8 79.9h0M211.5 90.7h0M211.8 114.9h0M213.5 86.9h0M214.1 116.7h0M220.2 98h0M224 98.4h0M227.7 112h0M209.4 101h0M217.8 107.2h0M211.5 120.4h0M219 102.9h0M207.7 114.9h0M196 90.9h0M212.2 103.2h0M215.2 91.1h0M216.9 82h0M217.6 101.5h0M220.3 110.5h0M208.9 118.3h0M212.5 84.9h0M221.4 112h0M213.2 106.5h0M219.7 114.3h0M218.2 136.5h0M214.3 88.1h0M211.7 117.8h0M209.5 110h0M220.8 92.9h0M215.7 91.6h0M213.6 66.4h0M199.7 94.1h0M210.8 126.2h0M200.7 135.4h0M220.4 138.4h0M213.6 78.7h0M215.8 84h0M217 91.1h0M213.8 66.2h0M222.9 90.4h0M213.4 133.1h0M202.5 88.3h0M209.9 126.6h0M215.2 119.9h0M214.7 104.2h0M216 115h0M217.9 109.6h0M221 76.2h0M218.3 129.2h0M205.7 115.5h0M208.6 95.7h0M212.5 119.5h0M205.8 117.6h0M225 83.2h0M216.8 120.1h0M208.4 99.3h0M217.5 107.7h0M225.2 108.2h0M218.1 116.4h0M212.5 116.9h0M216 118.3h0M219.8 90.2h0M210.8 104h0M210.9 113.3h0M209.3 104.5h0M215.5 108.9h0M218.4 83.7h0M215.8 87.4h0M209.9 117.2h0M223.4 101.4h0M210.9 103.7h0M219.6 117.8h0M214.1 99h0M219.1 120.8h0M223.3 91h0M220.2 106.3h0M213.7 95.7h0M212.9 95.5h0M219.8 81.4h0M219.5 106.8h0M201.1 111.7h0M217.6 103.1h0M210.6 98.9h0M216.3 117.9h0M223.8 93.1h0M224.9 102h0M211.9 93.7h0M217.4 106.1h0M221.7 103.3h0M205.1 150h0M212.3 146.5h0M203.8 154.6h0M208.5 136.4h0M218.6 150.7h0M221.9 141.8h0M221.4 156.4h0M218.2 155.5h0M222.3 162.6h0M210.1 149.4h0M224.1 139.6h0M210.2 159.4h0M218.7 148.1h0M215.7 159.8h0M224.2 133.7h0M231.9 171.8h0M204 138.3h0M230.4 149.9h0M217.5 145.8h0M213.1 143h0M216.5 161.4h0M215.4 142.7h0M223.2 150.1h0M213.6 186.5h0M227.2 128h0M211.6 155h0M220.7 119.4h0M219.8 165.9h0M208.6 122h0M220 152h0M214.6 154.2h0M216 147.9h0M206.6 136.5h0M215 155h0M208.6 120.8h0M214.2 170.2h0M231.6 126.3h0M243.5 132.6h0M227.4 126.4h0M227.6 161.2h0M237.7 133.8h0M238.2 115.7h0M230.1 165.1h0M240.2 131.5h0M249.6 142.2h0M241.7 153.4h0M241.5 132.2h0M235.4 105.9h0M235.1 178.8h0M242.6 161.3h0M250.2 103.7h0M248 135.2h0M238.3 141.3h0M239.5 87.5h0M243.5 136.3h0M243.8 103.1h0M247.5 155h0M232.1 108.9h0M234.9 145.5h0M233.3 153.8h0M232.4 150.6h0M240 148.9h0M246.3 154.7h0M242.3 121.7h0M241.7 147h0M235 136.8h0M242 134.6h0M242.5 96.5h0M228.6 179.1h0M229.9 169.9h0M242.5 134.1h0M236.5 135.5h0M228 135h0M238 115.7h0M243.2 84.5h0M243.3 135.4h0M234.8 120.3h0M241.1 106.8h0M245 136h0M241.1 96.1h0M238.5 117.8h0M243 140.1h0M247.1 165.7h0M244.3 125.8h0M241.8 179.2h0M246.7 113.4h0M232.9 138.2h0M233.4 132.6h0M246.6 134.7h0M238.9 132.8h0M235.9 143.2h0M246.1 152.3h0M241.4 166.2h0M240.7 118.3h0M235.1 149.4h0M241.5 110h0M244.7 127.1h0M241.2 116.5h0M245.5 106.5h0M245.5 134.2h0M240.3 166.9h0M237.3 142.5h0M239.7 132.3h0M237.1 108.7h0M241.3 131.9h0M238.6 128.6h0M242 98.1h0M233.6 128.9h0M236.4 104.3h0M231 121.4h0M227.5 97.6h0M247.6 136.4h0M228.6 130.7h0M234.9 174.6h0M249.6 146.4h0M239.7 119.6h0M252.3 91h0M245.4 146.3h0M231.3 140.8h0M255.1 107.6h0M234.9 114.2h0M246 126.9h0M240.4 145.8h0M243.4 78.1h0M239.8 87h0M234.4 126.9h0M241.2 144.7h0M256.6 113.5h0M238.5 82.7h0M241.1 121.9h0M235.3 96.3h0M237.7 106.4h0M201 131h0M192.7 87.2h0M184.7 125.6h0M210.8 94.4h0M196 116.5h0M196.3 104.3h0M209.6 53.9h0M196.3 110.9h0M204.8 85.5h0M211.4 107.5h0M206.9 111.3h0M179.5 160.2h0M207.6 129h0M182.1 126.8h0M191.2 150.3h0M195 132.4h0" stroke="#3a3a3a" stroke-width="0.8" stroke-linecap="square" fill="none"/>
<path d="M236.6 90C235.5 90 234.1 90.6 233.2 91.2C232.3 91.8 231.8 92.8 231.3 93.6C230.7 94.5 230.2 94.4 229.9 96.2C229.6 98.1 229.6 102 229.6 104.9C229.6 107.7 229.7 110.6 229.8 113.4C229.9 116.2 229.9 119 229.9 121.9C230 124.7 230 127.5 230 130.3C230 133.1 230 136 230 138.8C230 141.6 230 144.4 230 147.2C230 150.1 230 152.9 230 155.7C229.9 158.5 229.9 161.3 229.9 164.1C229.9 166.9 229.8 170.5 229.9 172.6C230.1 174.6 230.2 175.3 230.9 176.6C231.5 177.9 232.6 179.4 234 180.3C235.5 181.2 237.7 182 239.5 182C241.3 182 243.5 181.2 244.9 180.2C246.4 179.3 247.4 177.8 248.1 176.5C248.7 175.2 248.8 174.5 248.9 172.4C249.1 170.3 248.8 166.7 248.8 163.9C248.7 161 248.6 158.2 248.4 155.3C248.3 152.5 248.2 149.6 248 146.7C247.8 143.9 247.7 141 247.4 138.2C247.2 135.3 247 132.5 246.8 129.6C246.6 126.8 246.3 124 246.1 121.1C245.9 118.3 245.7 115.4 245.4 112.6C245.2 109.8 245 106.9 244.7 104.1C244.4 101.3 244.1 97.6 243.7 95.8C243.2 94 242.7 94.1 242.1 93.3C241.5 92.5 241 91.5 240.1 91C239.1 90.4 237.7 90 236.6 90Z" fill="#fff" fill-opacity=".92"/>
<path d="M236.6 90C235.5 90 234.1 90.6 233.2 91.2C232.3 91.8 231.8 92.8 231.3 93.6C230.7 94.5 230.2 94.4 229.9 96.2C229.6 98.1 229.6 102 229.6 104.9C229.6 107.7 229.7 110.6 229.8 113.4C229.9 116.2 229.9 119 229.9 121.9C230 124.7 230 127.5 230 130.3C230 133.1 230 136 230 138.8C230 141.6 230 144.4 230 147.2C230 150.1 230 152.9 230 155.7C229.9 158.5 229.9 161.3 229.9 164.1C229.9 166.9 229.8 170.5 229.9 172.6C230.1 174.6 230.2 175.3 230.9 176.6C231.5 177.9 232.6 179.4 234 180.3C235.5 181.2 237.7 182 239.5 182C241.3 182 243.5 181.2 244.9 180.2C246.4 179.3 247.4 177.8 248.1 176.5C248.7 175.2 248.8 174.5 248.9 172.4C249.1 170.3 248.8 166.7 248.8 163.9C248.7 161 248.6 158.2 248.4 155.3C248.3 152.5 248.2 149.6 248 146.7C247.8 143.9 247.7 141 247.4 138.2C247.2 135.3 247 132.5 246.8 129.6C246.6 126.8 246.3 124 246.1 121.1C245.9 118.3 245.7 115.4 245.4 112.6C245.2 109.8 245 106.9 244.7 104.1C244.4 101.3 244.1 97.6 243.7 95.8C243.2 94 242.7 94.1 242.1 93.3C241.5 92.5 241 91.5 240.1 91C239.1 90.4 237.7 90 236.6 90Z" fill="none" stroke="rgba(0,0,0,0.8)" stroke-width="0.5"/>
<path d="M236.7 92.1C235.7 92.2 234.5 92.7 233.7 93.2C233 93.7 232.5 94.5 232.1 95.3C231.6 96 231.2 95.7 231.1 97.6C230.9 99.4 231 103.3 231 106.2C231 109 231.2 111.9 231.2 114.7C231.3 117.6 231.4 120.4 231.4 123.2C231.5 126.1 231.5 128.9 231.5 131.8C231.6 134.6 231.6 137.4 231.6 140.3C231.6 143.1 231.6 145.9 231.6 148.8C231.6 151.6 231.6 154.4 231.6 157.3C231.6 160.1 231.6 162.9 231.6 165.8C231.6 168.6 231.5 172.3 231.7 174.3C231.8 176.2 231.9 176.5 232.4 177.5C233 178.6 233.8 179.9 235 180.6C236.2 181.4 238 182 239.5 182C241 182 242.8 181.3 244 180.6C245.1 179.8 246 178.5 246.5 177.5C247.1 176.4 247.1 176.1 247.2 174.2C247.3 172.2 247.2 168.4 247.1 165.6C247 162.7 247 159.8 246.8 157C246.7 154.1 246.6 151.2 246.5 148.4C246.3 145.5 246.2 142.6 246 139.8C245.8 136.9 245.6 134.1 245.4 131.2C245.2 128.3 245 125.5 244.8 122.6C244.6 119.8 244.3 116.9 244.1 114.1C243.9 111.2 243.7 108.4 243.5 105.5C243.2 102.7 242.9 98.9 242.6 97.1C242.3 95.3 241.9 95.7 241.5 95C241 94.3 240.5 93.5 239.7 93C238.9 92.5 237.7 92.1 236.7 92.1Z" fill="rgba(0,0,0,0.04)" stroke="rgba(0,0,0,0.8)" stroke-width="0.5"/>
<path d="M236.7 94.3C235.9 94.3 234.9 94.7 234.2 95.2C233.6 95.6 233.2 96.4 232.8 97C232.5 97.6 232.2 97.1 232.1 98.9C232 100.6 232.2 104.6 232.2 107.5C232.3 110.4 232.5 113.2 232.5 116.1C232.6 118.9 232.7 121.7 232.8 124.6C232.8 127.4 232.9 130.3 232.9 133.1C232.9 136 233 138.8 233 141.7C233 144.5 233.1 147.3 233.1 150.2C233.1 153 233.1 155.9 233.1 158.7C233.1 161.5 233.1 164.4 233.1 167.2C233.2 170.1 233.1 173.9 233.2 175.8C233.3 177.6 233.3 177.6 233.8 178.4C234.2 179.3 234.9 180.3 235.9 180.9C236.8 181.5 238.3 182 239.5 182C240.7 182 242.1 181.5 243.1 180.8C244 180.2 244.7 179.2 245.2 178.3C245.6 177.5 245.7 177.6 245.7 175.7C245.8 173.8 245.7 169.9 245.6 167.1C245.6 164.2 245.5 161.4 245.4 158.5C245.3 155.6 245.2 152.8 245.1 149.9C245 147 244.8 144.1 244.7 141.3C244.5 138.4 244.3 135.5 244.1 132.7C243.9 129.8 243.8 127 243.6 124.1C243.4 121.3 243.2 118.4 243 115.5C242.8 112.7 242.6 109.8 242.4 107C242.1 104.1 241.9 100.2 241.6 98.5C241.4 96.8 241.2 97.3 240.8 96.7C240.4 96.1 239.9 95.4 239.3 95C238.6 94.6 237.6 94.3 236.7 94.3Z" fill="rgba(0,0,0,0.2)" stroke="rgba(0,0,0,0.8)" stroke-width="0.5"/>
<path d="M236.8 96.4C236.1 96.5 235.3 96.8 234.7 97.2C234.2 97.5 233.8 98.2 233.6 98.7C233.4 99.2 233.4 98.5 233.3 100.2C233.3 101.9 233.3 106 233.4 108.8C233.4 111.7 233.6 114.5 233.7 117.4C233.8 120.2 233.9 123 233.9 125.9C234 128.7 234.1 131.6 234.1 134.4C234.2 137.3 234.2 140.1 234.3 143C234.3 145.8 234.3 148.7 234.4 151.5C234.4 154.3 234.4 157.2 234.4 160C234.4 162.9 234.5 165.7 234.5 168.5C234.5 171.4 234.4 175.3 234.5 177.1C234.6 178.9 234.6 178.5 235 179.2C235.4 179.8 235.9 180.7 236.7 181.1C237.4 181.6 238.6 182 239.5 182C240.4 182 241.6 181.6 242.3 181.1C243.1 180.6 243.6 179.8 244 179.1C244.3 178.4 244.3 178.8 244.4 177C244.5 175.3 244.4 171.3 244.3 168.4C244.3 165.6 244.2 162.7 244.1 159.9C244.1 157 244 154.1 243.9 151.3C243.8 148.4 243.6 145.5 243.5 142.7C243.4 139.8 243.2 136.9 243 134.1C242.9 131.2 242.7 128.4 242.5 125.5C242.3 122.7 242.1 119.8 242 116.9C241.8 114.1 241.6 111.2 241.4 108.4C241.1 105.5 240.8 101.6 240.6 99.9C240.4 98.2 240.4 98.9 240.2 98.4C239.9 97.9 239.5 97.3 238.9 97C238.3 96.7 237.5 96.4 236.8 96.4Z" fill="rgba(0,0,0,0.5)" stroke="rgba(0,0,0,0.8)" stroke-width="0.5"/>
<path d="M236.9 98.6C236.3 98.6 235.7 98.9 235.3 99.2C234.8 99.5 234.5 100 234.4 100.4C234.2 100.8 234.1 100 234.1 101.6C234.1 103.2 234.3 107.3 234.4 110.1C234.4 113 234.6 115.8 234.7 118.6C234.8 121.5 234.9 124.3 235 127.2C235 130 235.1 132.8 235.2 135.7C235.2 138.5 235.3 141.3 235.3 144.2C235.4 147 235.4 149.9 235.5 152.7C235.5 155.5 235.5 158.4 235.6 161.2C235.6 164 235.6 166.9 235.6 169.7C235.6 172.5 235.6 176.5 235.7 178.2C235.7 179.9 235.8 179.3 236 179.8C236.3 180.3 236.7 181 237.3 181.3C237.9 181.7 238.8 182 239.5 182C240.2 182 241.1 181.7 241.7 181.3C242.2 180.9 242.7 180.3 242.9 179.8C243.2 179.3 243.2 179.9 243.3 178.2C243.3 176.5 243.2 172.5 243.2 169.6C243.2 166.8 243.1 163.9 243 161.1C243 158.2 242.9 155.4 242.8 152.5C242.7 149.7 242.6 146.8 242.5 144C242.4 141.1 242.2 138.3 242.1 135.4C241.9 132.6 241.8 129.7 241.6 126.9C241.4 124 241.3 121.2 241.1 118.3C240.9 115.5 240.7 112.6 240.5 109.8C240.3 107 240 102.9 239.9 101.3C239.7 99.7 239.8 100.5 239.5 100.1C239.3 99.7 239 99.3 238.5 99C238.1 98.8 237.4 98.6 236.9 98.6Z" fill="rgba(0,0,0,0.6)" stroke="rgba(0,0,0,0.8)" stroke-width="0.5"/>
<path d="M237 100.7C236.6 100.8 236.1 101 235.8 101.2C235.5 101.4 235.2 101.8 235.1 102.1C235 102.3 234.9 101.4 234.9 103C235 104.5 235.2 108.6 235.3 111.5C235.4 114.3 235.5 117.1 235.6 119.9C235.7 122.8 235.8 125.6 235.9 128.4C236 131.2 236.1 134.1 236.2 136.9C236.2 139.7 236.3 142.5 236.4 145.4C236.4 148.2 236.5 151 236.5 153.8C236.5 156.6 236.6 159.5 236.6 162.3C236.6 165.1 236.7 168 236.7 170.8C236.7 173.6 236.7 177.7 236.7 179.3C236.8 180.9 236.8 180.1 237 180.4C237.2 180.8 237.5 181.2 237.9 181.5C238.3 181.8 239 182 239.5 182C240 182 240.7 181.8 241.1 181.5C241.5 181.2 241.8 180.8 242 180.4C242.2 180 242.2 180.8 242.2 179.2C242.3 177.6 242.2 173.6 242.2 170.7C242.1 167.9 242.1 165.1 242 162.2C242 159.4 241.9 156.6 241.8 153.7C241.8 150.9 241.7 148 241.5 145.2C241.4 142.4 241.3 139.5 241.2 136.7C241 133.9 240.9 131 240.7 128.2C240.6 125.4 240.4 122.5 240.3 119.7C240.1 116.9 240 114 239.8 111.2C239.6 108.4 239.3 104.3 239.2 102.8C239.1 101.2 239.1 102.2 239 101.9C238.8 101.6 238.5 101.3 238.2 101.1C237.9 100.9 237.4 100.7 237 100.7Z" fill="rgba(0,0,0,0.7)" stroke="rgba(0,0,0,0.8)" stroke-width="0.5"/>
<path d="M237.1 102.9C236.8 102.9 236.5 103 236.3 103.2C236.1 103.3 236 103.5 235.9 103.7C235.8 103.9 235.7 102.8 235.8 104.3C235.8 105.8 236.1 109.9 236.2 112.7C236.3 115.6 236.4 118.4 236.6 121.2C236.7 124 236.8 126.8 236.9 129.6C237 132.4 237.1 135.3 237.1 138.1C237.2 140.9 237.3 143.7 237.4 146.5C237.4 149.3 237.5 152.1 237.5 155C237.6 157.8 237.6 160.6 237.6 163.4C237.7 166.2 237.7 169 237.7 171.8C237.7 174.7 237.7 178.8 237.8 180.3C237.8 181.8 237.8 180.8 237.9 181C238.1 181.3 238.3 181.5 238.5 181.7C238.8 181.9 239.2 182 239.5 182C239.8 182 240.2 181.9 240.5 181.7C240.7 181.5 240.9 181.2 241 181C241.2 180.8 241.2 181.8 241.2 180.3C241.2 178.7 241.2 174.6 241.1 171.8C241.1 169 241.1 166.2 241 163.4C241 160.5 240.9 157.7 240.9 154.9C240.8 152.1 240.7 149.2 240.6 146.4C240.5 143.6 240.4 140.8 240.3 138C240.2 135.1 240 132.3 239.9 129.5C239.8 126.7 239.6 123.9 239.5 121C239.3 118.2 239.2 115.4 239 112.6C238.8 109.8 238.6 105.7 238.5 104.2C238.4 102.7 238.4 103.8 238.3 103.6C238.2 103.4 238.1 103.2 237.9 103.1C237.6 103 237.3 102.9 237.1 102.9Z" fill="rgba(0,0,0,0.5)" stroke="rgba(0,0,0,0.8)" stroke-width="0.5"/>
</g>
<path d="M165 55.5V169.4M277.6 55.5V169.4" fill="none" stroke="#000" stroke-width="2.2"/>
<line x1="161.8" y1="56.3" x2="277.6" y2="56.3" stroke="#000" stroke-width="1.9"/>
<line x1="161.8" y1="168.5" x2="278.5" y2="168.5" stroke="#000" stroke-width="1.9"/>
<line x1="226" y1="56.3" x2="226" y2="168.5" stroke="#000" stroke-width="2.4"/>
<line x1="165" y1="131.4" x2="277.6" y2="131.4" stroke="#000" stroke-width="1.6"/>
<line x1="161.8" y1="168.5" x2="165" y2="168.5" stroke="#000" stroke-width="1.2"/>
<line x1="165" y1="168.5" x2="165" y2="171.3" stroke="#000" stroke-width="1.2"/>
<text x="163.8" y="180.2" font-size="8.1">10<tspan font-size="4.9" dy="-2.5">0</tspan></text>
<line x1="161.8" y1="140.45" x2="165" y2="140.45" stroke="#000" stroke-width="1.2"/>
<line x1="193.15" y1="168.5" x2="193.15" y2="171.3" stroke="#000" stroke-width="1.2"/>
<text x="191.5" y="180.2" font-size="8.1">10<tspan font-size="4.9" dy="-2.5">1</tspan></text>
<line x1="161.8" y1="112.4" x2="165" y2="112.4" stroke="#000" stroke-width="1.2"/>
<line x1="221.3" y1="168.5" x2="221.3" y2="171.3" stroke="#000" stroke-width="1.2"/>
<text x="219.2" y="180.2" font-size="8.1">10<tspan font-size="4.9" dy="-2.5">2</tspan></text>
<line x1="161.8" y1="84.35" x2="165" y2="84.35" stroke="#000" stroke-width="1.2"/>
<line x1="249.45" y1="168.5" x2="249.45" y2="171.3" stroke="#000" stroke-width="1.2"/>
<text x="246.9" y="180.2" font-size="8.1">10<tspan font-size="4.9" dy="-2.5">3</tspan></text>
<line x1="161.8" y1="56.3" x2="165" y2="56.3" stroke="#000" stroke-width="1.2"/>
<line x1="277.6" y1="168.5" x2="277.6" y2="171.3" stroke="#000" stroke-width="1.2"/>
<text x="279.5" y="180.2" font-size="8.1" text-anchor="end">10<tspan font-size="4.9" dy="-2.5">4</tspan></text>
<path d="M164 160.1h-1.6M173.5 169.4v1.6M164 155.1h-1.6M178.4 169.4v1.6M164 151.6h-1.6M181.9 169.4v1.6M164 148.9h-1.6M184.7 169.4v1.6M164 146.7h-1.6M186.9 169.4v1.6M164 144.8h-1.6M188.8 169.4v1.6M164 143.2h-1.6M190.4 169.4v1.6M164 141.7h-1.6M191.9 169.4v1.6M164 132h-1.6M201.6 169.4v1.6M164 127.1h-1.6M206.6 169.4v1.6M164 123.6h-1.6M210.1 169.4v1.6M164 120.8h-1.6M212.8 169.4v1.6M164 118.6h-1.6M215.1 169.4v1.6M164 116.7h-1.6M216.9 169.4v1.6M164 115.1h-1.6M218.6 169.4v1.6M164 113.7h-1.6M220 169.4v1.6M164 104h-1.6M229.8 169.4v1.6M164 99h-1.6M234.7 169.4v1.6M164 95.5h-1.6M238.2 169.4v1.6M164 92.8h-1.6M241 169.4v1.6M164 90.6h-1.6M243.2 169.4v1.6M164 88.7h-1.6M245.1 169.4v1.6M164 87.1h-1.6M246.7 169.4v1.6M164 85.6h-1.6M248.2 169.4v1.6M164 75.9h-1.6M257.9 169.4v1.6M164 71h-1.6M262.9 169.4v1.6M164 67.5h-1.6M266.4 169.4v1.6M164 64.7h-1.6M269.1 169.4v1.6M164 62.5h-1.6M271.4 169.4v1.6M164 60.6h-1.6M273.2 169.4v1.6M164 59h-1.6M274.9 169.4v1.6M164 57.6h-1.6M276.3 169.4v1.6" stroke="#444" stroke-width=".5" fill="none"/>
<text x="167.3" y="68.1" font-size="13.4">1</text>
<text x="276.9" y="68.1" font-size="13.4" text-anchor="end">36</text>
<text x="167.3" y="167" font-size="13.4">0</text>
<text x="276.9" y="167" font-size="13.4" text-anchor="end">63</text>
<g clip-path="url(#cp02)">
<path d="M348.1 79.5h0M350.2 79.7h0M349.6 82.7h0M357.5 75.1h0M354.5 80.7h0M351.9 72.3h0M347.2 76.2h0M360.7 87.9h0M348.1 79.8h0M351.8 82.8h0M349.8 85.2h0M348.9 85.4h0M351.8 87.5h0M357.6 82.8h0M354 80.8h0M360.9 80.1h0M361.7 83.1h0M354.4 75.7h0M340.8 78.5h0M350.9 78.2h0M350.6 73.9h0M348 79.5h0M349.6 88.2h0M347 85.6h0M352.1 68.7h0M350.5 79.2h0M352.8 81.1h0M352.4 82.8h0M352.7 80.8h0M346.8 80.2h0M349.7 79.6h0M358.7 81h0M353.1 79.1h0M351.5 77h0M359.3 88.7h0M361.8 75.4h0M355.8 81.4h0M361.9 82.2h0M350.7 81.3h0M350.8 78.5h0M350.3 79.7h0M343.5 82.6h0M352.1 79.7h0M346.2 78.3h0M349.3 70.5h0M350.8 85h0M358.5 83.3h0M350.6 80.6h0M325.9 134.5h0M340.9 127.6h0M340.2 101.1h0M332.5 93.7h0M342.4 120.1h0M338.7 111.5h0M339.8 115.3h0M340.6 119.6h0M346.9 110.7h0M341.8 79.1h0M338.2 94.5h0M336 109.5h0M327.9 118.5h0M345.2 99.8h0M345.4 80.6h0M342.7 99.4h0M341 121.5h0M342.1 112.1h0M340.3 90.9h0M335.4 106.9h0M338.6 84.8h0M338.5 109.5h0M334.6 108.9h0M340.2 85.6h0M340.5 87.1h0M332.7 87h0M340.2 108.2h0M336.9 109.9h0M332.2 99.1h0M340.1 100.4h0M339 98.3h0M343.5 107h0M337.2 127.1h0M334.9 131.2h0M336.5 137.2h0M332.4 74.6h0M334.4 94h0M338.1 108h0M334.1 97.4h0M336.3 120h0M345.6 92.6h0M344.1 66.3h0M334.8 119h0M333.6 99.9h0M330.7 80.1h0M328.1 117.5h0M331.2 99.4h0M332 92.5h0M340.8 117.1h0M346.2 79.7h0M335.2 125.2h0M340.1 110.9h0M336.4 115.6h0M337.7 111.1h0M332.9 92.1h0M333.8 96.3h0M329.6 110.5h0M332.3 91.5h0M337.5 91.9h0M333.3 117.2h0M342.8 102.9h0M344 104.4h0M335.4 109.5h0M338.1 88.2h0M336.7 83.3h0M332.8 89.9h0M335.5 88.8h0M342.6 101.6h0M340 121.6h0M336.3 95.5h0M320.2 99.2h0M345.4 121.8h0M333.4 91.5h0M339.4 117.9h0M327.6 116.7h0M338.8 84.1h0M331.5 140.6h0M333.8 97.6h0M332.9 106h0M339 114.8h0M332.2 111.4h0M339.6 77.3h0M338.1 148.8h0M332.7 100.8h0M336.6 136.7h0M336.1 137.2h0M332.3 111.1h0M344.8 96.8h0M349.4 131.1h0M338.6 105.5h0M327.4 105.9h0M340 106.2h0M338.7 105.4h0M341.1 88.1h0M343.3 92.2h0M337.3 120.4h0M338.8 122.7h0M338.4 93h0M335.1 101.3h0M338.1 129.2h0M329.9 91.3h0M341.5 104.6h0M343.2 116.7h0M338.1 107.6h0M342.4 115.1h0M341.5 124.3h0M344 104.3h0M331.2 111.7h0M337.4 97.6h0M341.1 118.7h0M339.6 123.8h0M342.2 99h0M337.7 86.5h0M334.9 109.9h0M332.4 102.6h0M330.3 122.4h0M342.7 105.8h0M333.9 111.9h0M332.7 95.2h0M334.9 89.6h0M336.9 118.5h0M342.4 99.1h0M336.8 95.7h0M347.8 110.4h0M341.7 101.6h0M345.1 107.1h0M337.9 132.6h0M337.4 93.4h0M328 103.5h0M339.3 123h0M332.4 94.9h0M332.8 89.4h0M347.7 73.1h0M341 80.7h0M334.7 86.1h0M332.2 91.9h0M332.9 94.4h0M337.3 118.6h0M331 153.8h0M330.2 136.3h0M338.2 130.1h0M334 142.2h0M340 140h0M330.2 145.3h0M340.1 148.2h0M350.2 133.1h0M338.2 141.4h0M345.3 143.8h0M342.1 131.4h0M340.1 161.7h0M334.8 165.8h0M339.9 156.6h0M344.4 155.2h0M335.7 136h0M339.6 145.1h0M335 163.4h0M343.3 145.8h0M339.8 167.9h0M328.8 134.4h0M332.3 161.6h0M339.7 156.8h0M338 151.7h0M330.2 139.8h0M334.1 172.9h0M330.3 167.4h0M336.6 143.6h0M332.6 157.1h0M334.1 159h0M331.3 163.8h0M322.4 163h0M343.8 138.2h0M335.1 147.7h0M333.5 157.4h0M336.5 149.1h0M341.6 137h0M342.3 163h0M337.8 165.2h0M331.4 175.7h0M334.4 156.7h0M328.3 146.4h0M327.8 150.5h0M335.8 145.7h0M340.6 152.1h0M344.2 152.2h0M337.2 143.5h0M345 159.9h0M357.8 97.2h0M349.3 121.6h0M368.8 132.7h0M352.1 121.6h0M370.6 150.3h0M386.9 81.9h0M360.7 155.3h0M346.1 137.6h0M361.6 130.2h0M357.7 96.5h0M354.2 148.2h0M358.5 125.1h0M364.1 114.2h0M354.6 114.7h0M347.1 137.9h0M358.1 151.9h0M348.3 137.8h0M360.9 131.1h0M347.2 100.2h0M358.4 62.5h0M350.7 140.6h0M345.3 111.4h0M361.4 103.1h0M355 115.9h0M348.8 123.3h0M358 139.4h0M358.3 97.2h0M363.3 178.5h0M359.5 151h0M351.9 128.6h0M349.7 96.8h0M355.8 184.1h0M349.2 137.3h0M355.6 104.4h0M366.3 141.5h0M355.9 92.5h0M348.8 101.3h0M361.9 135.4h0M355.6 113.4h0M356.4 134.8h0M363 85.6h0M354.6 109.4h0M357.8 123.3h0M362.1 158.1h0M356.4 106.1h0M353.3 120.9h0M355.4 90.3h0M361.8 89.7h0M348 92.9h0M341.8 95.1h0M354 175.6h0M343 83.4h0M345.5 111.2h0M356.3 110.4h0M348.6 154.7h0M350.2 118.2h0M367.6 139.4h0M354.5 151.2h0M352.2 167.8h0M356.3 128.9h0M349.1 106.7h0M364.1 138.2h0M350.1 122.1h0M347 106.6h0M354.4 157.4h0M355.4 164.7h0M340.9 114.8h0M368.4 121.3h0M352.5 139.7h0M352 105.7h0M367.2 104.4h0M349.7 120.7h0M355.7 128h0M362.8 122.1h0M357.2 98.9h0M371.4 133.2h0M350.4 155.7h0M358.5 129.6h0M353 123h0M357.4 96.9h0M358 91.7h0M350.7 133.2h0M358.1 122.8h0M356.2 112.9h0M349.9 112.7h0M353.7 135.7h0M353.7 103.2h0M346.2 169.4h0M352.6 114h0M354.8 126.1h0M351.3 121.1h0M350.8 114.6h0M355.3 117.5h0M353.8 117.3h0M360.2 116.1h0M353.7 130h0M346.4 115h0M359.1 138.2h0M351.9 114.2h0M359 111.9h0M352.5 155.2h0M348.7 102.6h0M364.6 136.2h0M368.3 150.3h0M359.8 121.6h0M352.1 140.8h0M360.8 132.3h0M363.6 127.8h0M343.4 125.1h0M348.9 157h0M357.1 103h0M364.4 150h0M355.9 153.2h0M359.4 94.8h0M350.3 74.9h0M347.5 105.2h0M347.8 115.8h0M351.8 160.2h0M355.7 123.8h0M358.5 157.2h0M349 64.9h0M364.1 143.1h0M348.7 103.4h0M344.2 142.5h0M349.7 87.3h0M358.7 124.9h0M357.2 152.4h0M364.6 100.4h0M343.3 98.6h0M347.2 98.6h0M354.4 144.8h0M366.3 101.2h0M333.5 101.3h0M317.1 119.1h0M321.6 123.7h0M310.8 76.2h0M326.6 126.8h0M327.4 107.7h0M320.5 77.7h0M311.6 129.4h0M321.3 107.4h0M322.2 130.6h0M321.1 85h0M316.2 104.5h0M325.3 119.4h0M310.3 119.2h0M319.9 116.9h0M327.7 129.8h0M305.2 139.1h0M306.8 94h0M329 123.1h0M320.5 140.6h0M317.2 112h0M334.1 122.1h0M316.9 100.2h0M314.2 102.8h0" stroke="#8c8c8c" stroke-width="0.85" stroke-linecap="square" fill="none"/><path d="M355.4 73.7h0M350 74.9h0M360.6 79.5h0M355.5 84.3h0M356.9 79.5h0M358.7 82.5h0M364.7 73.1h0M360.6 74.2h0M354.5 79.3h0M350.7 75.2h0M350.9 80.3h0M351.6 78.9h0M347.9 86h0M347.5 78h0M349.8 81.9h0M364.9 80.1h0M346.7 76.4h0M356 79.1h0M343.7 87.2h0M348.3 86.9h0M350.9 77.2h0M348.4 73h0M350.4 79.7h0M344.5 86.4h0M349.9 82.1h0M345.7 82.3h0M351.3 87.4h0M352.2 84h0M350.8 77.3h0M353.8 84.4h0M360.5 86.4h0M358 73.3h0M339.6 105.2h0M344.8 119.5h0M331 92.2h0M339.9 76.6h0M333.2 78.5h0M326 107.6h0M337.5 87h0M341.1 103.9h0M336.1 127h0M343.9 114.4h0M341.6 113h0M340.4 81.1h0M334.7 109.9h0M335.3 106.5h0M341.3 89.9h0M339.2 115.9h0M328.2 117.9h0M343.3 97.6h0M337.3 107.7h0M345.9 110.2h0M344.1 91h0M335.7 126.5h0M330 137.8h0M333.6 98.9h0M344 121.3h0M342.3 125.9h0M327.7 82.3h0M332.3 90.3h0M336.3 93.8h0M341.7 107.7h0M334.2 86.6h0M333.5 101.2h0M331.5 103h0M340.8 130.4h0M334 103.6h0M332.8 88.1h0M338.8 130.4h0M325.3 82.8h0M336.2 79.6h0M341.9 141.5h0M343.6 107.3h0M335.6 83.3h0M333.8 87.2h0M343.3 117.9h0M335.1 112.5h0M339.4 98.6h0M350.8 106.7h0M341.6 95.5h0M341.7 118.1h0M330.8 108.6h0M327.4 95.6h0M343.9 111.6h0M333.8 97.4h0M332.9 92.6h0M336.8 130.3h0M330 114.4h0M331.6 95.9h0M330.9 98.9h0M338.7 93.3h0M340.1 106.8h0M334.7 122.1h0M344.1 100.5h0M334.6 106h0M342.1 96.6h0M337.2 115.3h0M329.4 104.2h0M342.5 104.6h0M333.9 104.4h0M338.3 116.8h0M337.6 87.7h0M334.2 75.8h0M337.8 93.2h0M334.5 142.5h0M328.6 117h0M330.9 74.7h0M335.3 92.1h0M334.2 104.3h0M336.6 92.8h0M338.3 85.2h0M341.6 116.4h0M335.3 99.2h0M337.5 113.2h0M336.2 100.8h0M337.2 99.1h0M332.1 93.2h0M337.7 110.5h0M333.9 92h0M340.4 88.5h0M337 112.4h0M335 94.8h0M333.6 73.5h0M335.2 117.6h0M334.5 121h0M330.8 153.8h0M336.4 151.2h0M335.8 162.3h0M349.3 152.7h0M341.6 153.9h0M341.9 156h0M325.9 150.5h0M328.9 141h0M324.7 162.5h0M324.9 134h0M336.2 146.9h0M332.6 147.3h0M330.4 152.3h0M327.3 147.2h0M326.4 163.6h0M337.5 177.1h0M335.5 143.7h0M340.2 159.4h0M345.9 160.9h0M344.2 129.5h0M342.6 145.2h0M337.1 145.7h0M330.9 155.9h0M324.2 164.2h0M332.5 152.8h0M339.3 148.4h0M332.4 165.5h0M335.7 156.6h0M336.3 155.3h0M339.9 152.9h0M332 150.5h0M345.9 153.8h0M361.9 140.8h0M345.1 114.3h0M349.6 108.7h0M365 151.5h0M350.3 127.6h0M373.4 139h0M362.3 104.2h0M347.4 143.9h0M350.4 154.2h0M355.1 110.9h0M333.7 136.4h0M356 119.5h0M350.5 128.7h0M347.3 78.4h0M349.9 106.5h0M365.4 132.9h0M360.9 94.5h0M355.5 140.3h0M357 131h0M365.1 109.7h0M344.7 133.5h0M364.6 151.6h0M361.7 163.3h0M363 131h0M361.9 98h0M356 121.6h0M358.9 143.6h0M368.2 146.7h0M371 115.3h0M336.8 123.9h0M348.6 131.2h0M360.7 109.7h0M365.3 130.8h0M352.2 102.7h0M357.2 143.8h0M356.3 79.4h0M356.6 116.5h0M353.9 127.3h0M365.4 130.9h0M356.7 138.8h0M349.3 127.4h0M358.7 155.9h0M354.9 82.1h0M353.4 116h0M357.4 134.6h0M355 132.1h0M366.9 156.2h0M358.8 123.1h0M346 130.8h0M366.6 146.9h0M370.6 106h0M352.1 119.1h0M357.8 132.7h0M368.6 157.8h0M357.8 156.7h0M345.6 98.7h0M362.5 136.6h0M353.3 124.2h0M361.4 146.8h0M360.2 103h0M358.7 142.6h0M338.8 141.6h0M357.7 138.9h0M366.6 131.4h0M364.6 93h0M351.2 119.3h0M356.2 135.1h0M365.6 117.9h0M362.9 125.8h0M351 127h0M369 102.1h0M355.6 102.7h0M359.4 147.2h0M365.5 104.1h0M351.9 88.1h0M361.5 117.7h0M359 151.3h0M347.6 147h0M352.7 127.2h0M347.7 124h0M370.2 121.7h0M357.2 142h0M362.6 75.5h0M358.7 120.2h0M361.7 120.8h0M359.1 123.4h0M348 96.9h0M310 102.4h0M320.5 116.8h0M300.2 102.1h0M338.1 116h0M330.4 124.1h0M323.4 106.7h0M322.2 135.2h0M317.3 101.4h0M302.9 70.8h0M303.1 76.5h0M339.4 84.5h0M325 126.3h0M322 103.3h0M316.6 134.1h0M313.7 108.3h0M315.8 131.4h0" stroke="#3a3a3a" stroke-width="0.8" stroke-linecap="square" fill="none"/>
<path d="M353 122C351.7 122.1 350.1 122.9 349.1 123.7C348.2 124.5 347.6 125.7 347.1 126.7C346.7 127.7 346.6 128.4 346.6 129.8C346.6 131.1 346.9 133.1 347 134.7C347.2 136.4 347.3 138.1 347.4 139.7C347.6 141.4 347.7 143.1 347.8 144.7C347.9 146.4 348 148.1 348.1 149.7C348.2 151.3 348.3 152.9 348.4 154.5C348.4 156.1 348.5 157.7 348.5 159.3C348.6 160.9 348.5 162.5 348.6 164.1C348.6 165.8 348.6 167.4 348.6 169.1C348.7 170.8 348.6 172.7 348.8 174.1C348.9 175.5 349.1 176.4 349.7 177.5C350.3 178.6 351.2 179.9 352.4 180.6C353.6 181.4 355.5 182 357 182C358.5 182 360.4 181.3 361.6 180.5C362.8 179.7 363.6 178.4 364.2 177.3C364.8 176.2 364.9 175.3 365 173.9C365.2 172.5 365 170.5 365 168.9C365 167.2 365 165.5 364.9 163.8C364.9 162.1 364.8 160.3 364.7 158.6C364.6 156.9 364.4 155.1 364.2 153.4C364.1 151.6 363.9 149.9 363.7 148.2C363.4 146.5 363.2 144.8 363 143.1C362.8 141.5 362.5 139.8 362.3 138.2C362.1 136.5 361.8 134.8 361.6 133.2C361.4 131.5 361.2 129.5 360.9 128.2C360.6 126.9 360.4 126.2 359.8 125.3C359.1 124.4 358.3 123.4 357.1 122.8C356 122.3 354.3 121.9 353 122Z" fill="#fff" fill-opacity=".92"/>
<path d="M353 122C351.7 122.1 350.1 122.9 349.1 123.7C348.2 124.5 347.6 125.7 347.1 126.7C346.7 127.7 346.6 128.4 346.6 129.8C346.6 131.1 346.9 133.1 347 134.7C347.2 136.4 347.3 138.1 347.4 139.7C347.6 141.4 347.7 143.1 347.8 144.7C347.9 146.4 348 148.1 348.1 149.7C348.2 151.3 348.3 152.9 348.4 154.5C348.4 156.1 348.5 157.7 348.5 159.3C348.6 160.9 348.5 162.5 348.6 164.1C348.6 165.8 348.6 167.4 348.6 169.1C348.7 170.8 348.6 172.7 348.8 174.1C348.9 175.5 349.1 176.4 349.7 177.5C350.3 178.6 351.2 179.9 352.4 180.6C353.6 181.4 355.5 182 357 182C358.5 182 360.4 181.3 361.6 180.5C362.8 179.7 363.6 178.4 364.2 177.3C364.8 176.2 364.9 175.3 365 173.9C365.2 172.5 365 170.5 365 168.9C365 167.2 365 165.5 364.9 163.8C364.9 162.1 364.8 160.3 364.7 158.6C364.6 156.9 364.4 155.1 364.2 153.4C364.1 151.6 363.9 149.9 363.7 148.2C363.4 146.5 363.2 144.8 363 143.1C362.8 141.5 362.5 139.8 362.3 138.2C362.1 136.5 361.8 134.8 361.6 133.2C361.4 131.5 361.2 129.5 360.9 128.2C360.6 126.9 360.4 126.2 359.8 125.3C359.1 124.4 358.3 123.4 357.1 122.8C356 122.3 354.3 121.9 353 122Z" fill="none" stroke="rgba(0,0,0,0.8)" stroke-width="0.5"/>
<path d="M353.2 123.5C352.1 123.6 350.9 124.2 350.1 124.8C349.4 125.4 348.9 126.4 348.6 127.2C348.2 128 348.2 128.3 348.2 129.6C348.2 130.8 348.5 133 348.7 134.8C348.8 136.5 349 138.2 349.1 139.9C349.2 141.7 349.4 143.4 349.5 145.1C349.6 146.8 349.8 148.5 349.9 150.3C350 152 350.1 153.7 350.2 155.3C350.2 157 350.3 158.6 350.3 160.3C350.3 162 350.3 163.7 350.4 165.5C350.4 167.2 350.4 168.9 350.5 170.6C350.5 172.4 350.5 174.5 350.6 175.8C350.7 177.1 350.8 177.6 351.3 178.5C351.8 179.3 352.5 180.3 353.4 180.9C354.4 181.5 355.8 182 357 182C358.2 182 359.6 181.4 360.6 180.8C361.5 180.2 362.2 179.2 362.6 178.3C363.1 177.5 363.1 177 363.2 175.7C363.3 174.4 363.2 172.2 363.2 170.4C363.2 168.7 363.2 167 363.1 165.2C363.1 163.5 363.1 161.7 363 159.9C362.9 158.2 362.7 156.3 362.6 154.5C362.4 152.7 362.2 150.9 362 149.2C361.8 147.4 361.6 145.6 361.4 143.9C361.2 142.2 360.9 140.4 360.7 138.7C360.5 137 360.3 135.2 360 133.5C359.8 131.8 359.6 129.6 359.3 128.3C359.1 127.1 359 126.8 358.5 126.1C358 125.4 357.3 124.6 356.4 124.1C355.5 123.7 354.2 123.4 353.2 123.5Z" fill="none" stroke="rgba(0,0,0,0.8)" stroke-width="0.5"/>
<path d="M353.3 125C352.6 125.1 351.6 125.5 351.1 126C350.5 126.5 350.1 127.2 349.9 127.8C349.7 128.4 349.6 128.3 349.6 129.5C349.7 130.7 350 133.1 350.1 134.9C350.3 136.7 350.5 138.4 350.6 140.2C350.8 142 350.9 143.8 351.1 145.6C351.2 147.4 351.4 149.1 351.5 150.9C351.6 152.6 351.7 154.4 351.8 156.1C351.9 157.9 351.9 159.6 351.9 161.3C352 163.1 352 164.9 352 166.7C352.1 168.5 352.1 170.3 352.1 172C352.2 173.8 352.2 176.2 352.3 177.4C352.4 178.6 352.4 178.7 352.8 179.4C353.1 180 353.6 180.8 354.3 181.2C355 181.6 356.1 182 357 182C357.9 182 359 181.6 359.7 181.1C360.3 180.7 360.8 179.9 361.2 179.3C361.5 178.6 361.6 178.5 361.6 177.3C361.7 176.1 361.6 173.7 361.6 171.9C361.6 170.1 361.6 168.3 361.5 166.5C361.5 164.7 361.5 162.9 361.4 161.1C361.3 159.3 361.2 157.4 361.1 155.6C360.9 153.7 360.8 151.9 360.6 150.1C360.4 148.3 360.2 146.5 359.9 144.7C359.7 142.9 359.5 141.1 359.3 139.3C359.1 137.5 358.8 135.7 358.6 134C358.4 132.2 358.2 129.8 357.9 128.6C357.7 127.4 357.7 127.5 357.3 126.9C356.9 126.4 356.4 125.8 355.8 125.5C355.1 125.1 354.1 124.9 353.3 125Z" fill="rgba(0,0,0,0.03)" stroke="rgba(0,0,0,0.8)" stroke-width="0.5"/>
<path d="M353.5 126.5C353 126.5 352.3 126.9 351.9 127.2C351.5 127.5 351.3 128 351.1 128.4C350.9 128.8 350.9 128.5 350.9 129.6C351 130.8 351.3 133.3 351.5 135.1C351.7 136.9 351.8 138.8 352 140.6C352.2 142.4 352.4 144.3 352.5 146.1C352.7 147.9 352.8 149.7 353 151.5C353.1 153.3 353.2 155.1 353.3 156.9C353.4 158.7 353.4 160.5 353.4 162.3C353.5 164.2 353.5 166 353.5 167.8C353.6 169.7 353.6 171.5 353.6 173.3C353.7 175.2 353.7 177.7 353.8 178.8C353.8 180 353.8 179.8 354.1 180.2C354.3 180.6 354.7 181.1 355.2 181.4C355.6 181.7 356.4 182 357 182C357.6 182 358.3 181.7 358.8 181.4C359.3 181.1 359.7 180.6 359.9 180.1C360.1 179.7 360.1 179.9 360.2 178.8C360.2 177.6 360.2 175.1 360.1 173.2C360.1 171.4 360.1 169.6 360.1 167.7C360.1 165.9 360 164 360 162.2C359.9 160.3 359.8 158.5 359.7 156.6C359.6 154.7 359.4 152.8 359.2 151C359.1 149.1 358.8 147.3 358.6 145.5C358.4 143.6 358.2 141.8 358 140C357.8 138.1 357.6 136.3 357.3 134.5C357.1 132.7 356.9 130.1 356.7 129C356.5 127.9 356.5 128.2 356.2 127.8C356 127.5 355.6 127 355.2 126.8C354.7 126.6 354 126.4 353.5 126.5Z" fill="rgba(0,0,0,0.08)" stroke="rgba(0,0,0,0.8)" stroke-width="0.5"/>
<path d="M353.7 128C353.4 128 353 128.2 352.8 128.4C352.6 128.5 352.4 128.8 352.3 129C352.3 129.3 352.2 128.7 352.3 129.7C352.4 130.8 352.7 133.5 352.8 135.3C353 137.2 353.2 139.1 353.4 141C353.6 142.8 353.8 144.7 354 146.6C354.1 148.4 354.3 150.3 354.4 152.2C354.6 154 354.7 155.9 354.8 157.7C354.9 159.6 354.9 161.5 354.9 163.3C355 165.2 355 167.1 355 169C355.1 170.9 355.1 172.7 355.1 174.6C355.2 176.5 355.2 179.2 355.2 180.3C355.3 181.3 355.3 180.8 355.4 181C355.5 181.2 355.7 181.5 356 181.7C356.3 181.9 356.7 182 357 182C357.3 182 357.7 181.8 358 181.7C358.3 181.5 358.5 181.2 358.6 181C358.7 180.7 358.7 181.3 358.7 180.2C358.8 179.2 358.7 176.5 358.7 174.6C358.7 172.7 358.7 170.8 358.6 168.9C358.6 167 358.6 165.2 358.5 163.3C358.5 161.4 358.4 159.5 358.3 157.6C358.2 155.7 358.1 153.8 357.9 151.9C357.7 150 357.5 148.1 357.3 146.2C357.1 144.3 356.9 142.5 356.7 140.6C356.5 138.7 356.3 136.9 356.1 135C355.9 133.1 355.6 130.4 355.4 129.4C355.3 128.3 355.3 128.9 355.2 128.7C355.1 128.5 354.8 128.3 354.6 128.2C354.3 128 354 127.9 353.7 128Z" fill="rgba(0,0,0,0.14)" stroke="rgba(0,0,0,0.8)" stroke-width="0.5"/>
<path d="M350.3 84C349.1 84.2 347.7 84.9 346.8 85.7C345.9 86.4 345.4 87.5 345 88.5C344.5 89.5 344 90.2 343.9 91.4C343.7 92.7 344 94.5 344.1 96.1C344.3 97.6 344.4 99.2 344.6 100.7C344.8 102.3 345 103.9 345.2 105.4C345.4 107 345.7 108.6 346 110.1C346.3 111.7 346.6 113.3 347 114.8C347.4 116.4 347.7 117.8 348.2 119.3C348.6 120.8 349 122.2 349.4 123.7C349.8 125.2 350.3 126.6 350.8 128C351.2 129.5 351.8 131.5 352.2 132.5C352.7 133.5 353.2 133.6 353.6 134.1C354.1 134.6 354.5 135.2 355.1 135.5C355.8 135.8 356.7 136.1 357.5 136C358.3 135.9 359.1 135.5 359.7 135C360.3 134.6 360.5 133.9 360.9 133.3C361.2 132.7 361.6 132.6 361.9 131.5C362.2 130.4 362.3 128.3 362.4 126.7C362.5 125.1 362.6 123.4 362.6 121.8C362.6 120.2 362.5 118.6 362.4 117C362.3 115.4 362.1 113.8 362 112.2C361.8 110.7 361.6 109.2 361.5 107.7C361.3 106.2 361.1 104.7 360.8 103.2C360.6 101.7 360.4 100.2 360.2 98.7C359.9 97.1 359.7 95.6 359.4 94.1C359.1 92.5 358.9 90.7 358.5 89.5C358 88.3 357.4 87.7 356.6 86.9C355.9 86.1 355.2 85.2 354.2 84.7C353.1 84.2 351.5 83.8 350.3 84Z" fill="#fff" fill-opacity=".92"/>
<path d="M350.3 84C349.1 84.2 347.7 84.9 346.8 85.7C345.9 86.4 345.4 87.5 345 88.5C344.5 89.5 344 90.2 343.9 91.4C343.7 92.7 344 94.5 344.1 96.1C344.3 97.6 344.4 99.2 344.6 100.7C344.8 102.3 345 103.9 345.2 105.4C345.4 107 345.7 108.6 346 110.1C346.3 111.7 346.6 113.3 347 114.8C347.4 116.4 347.7 117.8 348.2 119.3C348.6 120.8 349 122.2 349.4 123.7C349.8 125.2 350.3 126.6 350.8 128C351.2 129.5 351.8 131.5 352.2 132.5C352.7 133.5 353.2 133.6 353.6 134.1C354.1 134.6 354.5 135.2 355.1 135.5C355.8 135.8 356.7 136.1 357.5 136C358.3 135.9 359.1 135.5 359.7 135C360.3 134.6 360.5 133.9 360.9 133.3C361.2 132.7 361.6 132.6 361.9 131.5C362.2 130.4 362.3 128.3 362.4 126.7C362.5 125.1 362.6 123.4 362.6 121.8C362.6 120.2 362.5 118.6 362.4 117C362.3 115.4 362.1 113.8 362 112.2C361.8 110.7 361.6 109.2 361.5 107.7C361.3 106.2 361.1 104.7 360.8 103.2C360.6 101.7 360.4 100.2 360.2 98.7C359.9 97.1 359.7 95.6 359.4 94.1C359.1 92.5 358.9 90.7 358.5 89.5C358 88.3 357.4 87.7 356.6 86.9C355.9 86.1 355.2 85.2 354.2 84.7C353.1 84.2 351.5 83.8 350.3 84Z" fill="rgba(0,0,0,0.03)" stroke="rgba(0,0,0,0.8)" stroke-width="0.5"/>
<path d="M350.4 84.7C349.4 84.8 348.2 85.4 347.4 86.1C346.7 86.7 346.3 87.6 345.9 88.4C345.6 89.2 345.2 89.7 345.2 90.8C345.1 92 345.3 93.9 345.5 95.4C345.6 96.9 345.8 98.4 345.9 100C346.1 101.5 346.3 103 346.5 104.5C346.7 106.1 347 107.6 347.3 109.1C347.5 110.6 347.8 112.2 348.1 113.7C348.5 115.2 348.8 116.7 349.2 118.1C349.5 119.6 349.9 121 350.3 122.4C350.7 123.9 351 125.3 351.5 126.8C352 128.2 353 130.1 353.4 131.1C353.8 132 353.6 132.1 353.9 132.5C354.2 133 354.6 133.5 355.2 133.8C355.8 134.1 356.6 134.3 357.3 134.3C358 134.2 358.8 133.8 359.3 133.4C359.8 133 360.1 132.4 360.3 131.9C360.5 131.3 360.3 131.4 360.5 130.3C360.7 129.3 361.2 127.1 361.4 125.5C361.5 124 361.4 122.4 361.3 120.8C361.3 119.3 361.2 117.7 361.1 116.1C360.9 114.6 360.7 113.1 360.5 111.6C360.3 110.1 360.2 108.6 360 107.1C359.8 105.7 359.6 104.2 359.3 102.7C359.1 101.2 358.9 99.7 358.7 98.2C358.5 96.8 358.2 95.2 358 93.7C357.7 92.2 357.4 90.4 357.1 89.3C356.7 88.2 356.2 87.8 355.7 87.1C355.1 86.5 354.5 85.7 353.6 85.3C352.7 84.8 351.4 84.6 350.4 84.7Z" fill="rgba(0,0,0,0.18)" stroke="rgba(0,0,0,0.8)" stroke-width="0.5"/>
<path d="M350.5 85.4C349.6 85.5 348.7 86 348.1 86.5C347.5 87 347.2 87.8 346.9 88.4C346.6 89.1 346.3 89.3 346.3 90.4C346.3 91.5 346.5 93.4 346.7 94.8C346.8 96.3 346.9 97.8 347.1 99.3C347.3 100.8 347.5 102.3 347.7 103.7C347.9 105.2 348.1 106.7 348.4 108.2C348.6 109.7 348.9 111.2 349.2 112.6C349.5 114.1 349.8 115.6 350.1 117C350.5 118.5 350.8 119.8 351.1 121.2C351.5 122.7 351.8 124.1 352.2 125.5C352.5 126.9 352.9 128.9 353.2 129.8C353.6 130.7 353.8 130.6 354.1 131C354.5 131.4 354.8 131.9 355.3 132.1C355.8 132.4 356.5 132.6 357.1 132.5C357.7 132.5 358.4 132.1 358.9 131.8C359.3 131.4 359.5 130.9 359.8 130.4C360 130 360.2 130 360.3 129C360.5 128 360.4 126 360.4 124.5C360.4 123 360.3 121.4 360.2 119.9C360.1 118.4 359.9 116.8 359.8 115.3C359.6 113.8 359.4 112.4 359.2 111C359 109.5 358.8 108.1 358.6 106.6C358.4 105.2 358.2 103.7 358 102.3C357.8 100.8 357.6 99.4 357.4 97.9C357.2 96.4 356.9 95 356.7 93.5C356.4 92 356.2 90.2 355.8 89.1C355.5 88.1 355.2 87.9 354.8 87.4C354.3 86.8 353.8 86.2 353.1 85.8C352.4 85.5 351.3 85.3 350.5 85.4Z" fill="rgba(0,0,0,0.35)" stroke="rgba(0,0,0,0.8)" stroke-width="0.5"/>
<path d="M350.6 86.1C349.9 86.2 349.1 86.6 348.7 87C348.2 87.4 347.9 88 347.7 88.5C347.4 89 347.3 89.1 347.3 90.1C347.3 91.1 347.5 93 347.7 94.4C347.8 95.8 348 97.3 348.2 98.7C348.3 100.1 348.5 101.6 348.7 103C348.9 104.5 349.1 105.9 349.3 107.4C349.6 108.8 349.8 110.2 350.1 111.7C350.4 113.1 350.7 114.6 351 116C351.3 117.4 351.6 118.7 351.9 120.1C352.2 121.5 352.5 122.9 352.8 124.3C353.1 125.7 353.5 127.6 353.7 128.4C354 129.3 354.1 129.2 354.4 129.5C354.7 129.8 354.9 130.3 355.4 130.5C355.8 130.7 356.4 130.8 356.9 130.8C357.4 130.7 358 130.4 358.4 130.1C358.8 129.8 359 129.4 359.2 129C359.4 128.6 359.5 128.8 359.6 127.8C359.6 126.9 359.6 124.9 359.5 123.4C359.4 121.9 359.3 120.4 359.1 119C359 117.5 358.8 116 358.6 114.6C358.4 113.2 358.2 111.8 358 110.4C357.8 108.9 357.6 107.5 357.4 106.1C357.2 104.7 357 103.3 356.8 101.9C356.6 100.5 356.4 99 356.2 97.6C356 96.2 355.8 94.8 355.6 93.3C355.3 91.9 355 90 354.8 89.1C354.5 88.1 354.4 88.1 354 87.7C353.7 87.2 353.2 86.7 352.7 86.4C352.1 86.2 351.2 86 350.6 86.1Z" fill="rgba(0,0,0,0.45)" stroke="rgba(0,0,0,0.8)" stroke-width="0.5"/>
<path d="M350.7 86.8C350.1 86.8 349.5 87.2 349.2 87.5C348.8 87.8 348.6 88.3 348.4 88.7C348.2 89.1 348.1 89 348.2 89.9C348.2 90.8 348.4 92.7 348.6 94.1C348.7 95.5 348.9 96.8 349 98.2C349.2 99.6 349.4 101 349.6 102.4C349.8 103.8 350 105.2 350.2 106.6C350.4 108 350.6 109.4 350.9 110.8C351.1 112.2 351.4 113.6 351.7 114.9C351.9 116.3 352.2 117.6 352.5 119C352.8 120.4 353.1 121.7 353.3 123.1C353.6 124.4 353.9 126.3 354.2 127.1C354.4 128 354.4 127.7 354.6 128C354.9 128.3 355.1 128.6 355.5 128.8C355.8 129 356.3 129.1 356.8 129C357.2 129 357.7 128.8 358 128.5C358.3 128.3 358.4 127.9 358.6 127.6C358.7 127.2 358.9 127.4 358.9 126.6C358.9 125.7 358.7 123.7 358.6 122.3C358.5 120.9 358.4 119.5 358.2 118.1C358 116.7 357.8 115.3 357.6 113.9C357.4 112.5 357.2 111.1 357 109.8C356.8 108.4 356.6 107 356.4 105.7C356.2 104.3 356 102.9 355.8 101.6C355.6 100.2 355.4 98.8 355.2 97.4C355 96 354.8 94.6 354.6 93.3C354.4 91.9 354.1 90 353.9 89.1C353.7 88.2 353.6 88.4 353.4 88C353.1 87.7 352.7 87.3 352.3 87.1C351.9 86.9 351.2 86.7 350.7 86.8Z" fill="rgba(0,0,0,0.5)" stroke="rgba(0,0,0,0.8)" stroke-width="0.5"/>
<path d="M350.8 87.5C350.4 87.5 349.9 87.8 349.7 88C349.4 88.2 349.2 88.6 349.1 88.9C349 89.2 348.9 88.9 348.9 89.8C349 90.6 349.2 92.4 349.4 93.8C349.5 95.1 349.7 96.5 349.9 97.8C350 99.2 350.2 100.5 350.4 101.8C350.6 103.2 350.7 104.5 350.9 105.9C351.1 107.2 351.4 108.6 351.6 109.9C351.8 111.3 352.1 112.6 352.3 114C352.6 115.3 352.9 116.6 353.1 117.9C353.4 119.2 353.6 120.5 353.9 121.9C354.1 123.2 354.4 125.1 354.6 125.8C354.8 126.6 354.8 126.3 354.9 126.5C355.1 126.7 355.3 127 355.6 127.1C355.8 127.2 356.2 127.3 356.6 127.3C356.9 127.3 357.3 127.1 357.5 126.9C357.7 126.7 357.9 126.4 358 126.1C358.1 125.9 358.2 126.2 358.1 125.4C358.1 124.6 357.9 122.7 357.8 121.3C357.6 120 357.5 118.6 357.3 117.2C357.1 115.9 356.9 114.5 356.7 113.2C356.5 111.9 356.3 110.5 356.1 109.2C355.9 107.9 355.7 106.6 355.5 105.2C355.3 103.9 355.1 102.6 354.9 101.2C354.7 99.9 354.5 98.6 354.3 97.2C354.2 95.9 354 94.5 353.8 93.2C353.5 91.9 353.3 90 353.1 89.2C352.9 88.4 352.9 88.6 352.7 88.4C352.5 88.1 352.3 87.8 352 87.7C351.6 87.5 351.1 87.4 350.8 87.5Z" fill="rgba(0,0,0,0.5)" stroke="rgba(0,0,0,0.8)" stroke-width="0.5"/>
<path d="M350.9 88.2C350.6 88.2 350.3 88.3 350.2 88.5C350 88.6 349.9 88.9 349.8 89C349.7 89.2 349.7 88.9 349.8 89.6C349.8 90.3 350 92.2 350.2 93.5C350.3 94.8 350.5 96.1 350.7 97.4C350.8 98.7 351 100 351.2 101.3C351.4 102.6 351.5 103.9 351.7 105.2C351.9 106.5 352.1 107.8 352.3 109.1C352.5 110.4 352.8 111.7 353 113C353.2 114.3 353.5 115.6 353.7 116.9C354 118.2 354.2 119.5 354.4 120.7C354.7 122 354.9 123.9 355.1 124.6C355.2 125.3 355.2 124.9 355.3 125C355.4 125.2 355.5 125.4 355.7 125.4C355.9 125.5 356.1 125.6 356.4 125.6C356.6 125.5 356.8 125.4 357 125.3C357.1 125.2 357.2 125 357.3 124.8C357.3 124.6 357.4 125.1 357.4 124.3C357.3 123.6 357.1 121.7 356.9 120.4C356.7 119.1 356.6 117.8 356.4 116.5C356.2 115.2 355.9 113.9 355.7 112.6C355.5 111.3 355.3 110 355.1 108.7C354.9 107.4 354.7 106.1 354.5 104.8C354.4 103.5 354.2 102.2 354 100.9C353.8 99.6 353.6 98.3 353.5 97C353.3 95.7 353.1 94.4 352.9 93.1C352.7 91.8 352.4 90 352.3 89.3C352.2 88.5 352.2 88.9 352.1 88.7C352 88.6 351.8 88.4 351.6 88.3C351.4 88.2 351.1 88.1 350.9 88.2Z" fill="rgba(0,0,0,0.3)" stroke="rgba(0,0,0,0.8)" stroke-width="0.5"/>
</g>
<path d="M283.2 55.5V169.4M396.1 55.5V169.4" fill="none" stroke="#000" stroke-width="2.2"/>
<line x1="280" y1="56.3" x2="396.1" y2="56.3" stroke="#000" stroke-width="1.9"/>
<line x1="280" y1="168.5" x2="397" y2="168.5" stroke="#000" stroke-width="1.9"/>
<line x1="345" y1="56.3" x2="345" y2="168.5" stroke="#000" stroke-width="2.4"/>
<line x1="283.2" y1="131.4" x2="396.1" y2="131.4" stroke="#000" stroke-width="1.6"/>
<line x1="280" y1="168.5" x2="283.2" y2="168.5" stroke="#000" stroke-width="1.2"/>
<line x1="283.2" y1="168.5" x2="283.2" y2="171.3" stroke="#000" stroke-width="1.2"/>
<text x="282" y="180.2" font-size="8.1">10<tspan font-size="4.9" dy="-2.5">0</tspan></text>
<line x1="280" y1="140.45" x2="283.2" y2="140.45" stroke="#000" stroke-width="1.2"/>
<line x1="311.43" y1="168.5" x2="311.43" y2="171.3" stroke="#000" stroke-width="1.2"/>
<text x="309.78" y="180.2" font-size="8.1">10<tspan font-size="4.9" dy="-2.5">1</tspan></text>
<line x1="280" y1="112.4" x2="283.2" y2="112.4" stroke="#000" stroke-width="1.2"/>
<line x1="339.65" y1="168.5" x2="339.65" y2="171.3" stroke="#000" stroke-width="1.2"/>
<text x="337.55" y="180.2" font-size="8.1">10<tspan font-size="4.9" dy="-2.5">2</tspan></text>
<line x1="280" y1="84.35" x2="283.2" y2="84.35" stroke="#000" stroke-width="1.2"/>
<line x1="367.88" y1="168.5" x2="367.88" y2="171.3" stroke="#000" stroke-width="1.2"/>
<text x="365.32" y="180.2" font-size="8.1">10<tspan font-size="4.9" dy="-2.5">3</tspan></text>
<line x1="280" y1="56.3" x2="283.2" y2="56.3" stroke="#000" stroke-width="1.2"/>
<line x1="396.1" y1="168.5" x2="396.1" y2="171.3" stroke="#000" stroke-width="1.2"/>
<text x="398" y="180.2" font-size="8.1" text-anchor="end">10<tspan font-size="4.9" dy="-2.5">4</tspan></text>
<path d="M282.2 160.1h-1.6M291.7 169.4v1.6M282.2 155.1h-1.6M296.7 169.4v1.6M282.2 151.6h-1.6M300.2 169.4v1.6M282.2 148.9h-1.6M302.9 169.4v1.6M282.2 146.7h-1.6M305.2 169.4v1.6M282.2 144.8h-1.6M307.1 169.4v1.6M282.2 143.2h-1.6M308.7 169.4v1.6M282.2 141.7h-1.6M310.1 169.4v1.6M282.2 132h-1.6M319.9 169.4v1.6M282.2 127.1h-1.6M324.9 169.4v1.6M282.2 123.6h-1.6M328.4 169.4v1.6M282.2 120.8h-1.6M331.2 169.4v1.6M282.2 118.6h-1.6M333.4 169.4v1.6M282.2 116.7h-1.6M335.3 169.4v1.6M282.2 115.1h-1.6M336.9 169.4v1.6M282.2 113.7h-1.6M338.4 169.4v1.6M282.2 104h-1.6M348.1 169.4v1.6M282.2 99h-1.6M353.1 169.4v1.6M282.2 95.5h-1.6M356.6 169.4v1.6M282.2 92.8h-1.6M359.4 169.4v1.6M282.2 90.6h-1.6M361.6 169.4v1.6M282.2 88.7h-1.6M363.5 169.4v1.6M282.2 87.1h-1.6M365.1 169.4v1.6M282.2 85.6h-1.6M366.6 169.4v1.6M282.2 75.9h-1.6M376.4 169.4v1.6M282.2 71h-1.6M381.3 169.4v1.6M282.2 67.5h-1.6M384.9 169.4v1.6M282.2 64.7h-1.6M387.6 169.4v1.6M282.2 62.5h-1.6M389.8 169.4v1.6M282.2 60.6h-1.6M391.7 169.4v1.6M282.2 59h-1.6M393.4 169.4v1.6M282.2 57.6h-1.6M394.8 169.4v1.6" stroke="#444" stroke-width=".5" fill="none"/>
<text x="285.5" y="68.1" font-size="13.4">2</text>
<text x="395.4" y="68.1" font-size="13.4" text-anchor="end">77</text>
<text x="285.5" y="167" font-size="13.4">1</text>
<text x="395.4" y="167" font-size="13.4" text-anchor="end">21</text>
<g clip-path="url(#cp03)">
<path d="M465 74.8h0M476.1 74.8h0M470 77.7h0M463.6 78.7h0M463.5 78.1h0M465.5 76.7h0M468.3 76.7h0M470.8 78.6h0M474.1 79.7h0M475.9 72.1h0M474 75h0M473.7 78.4h0M473.2 76.1h0M469.3 78.7h0M476.6 76.1h0M476.4 81.2h0M476.1 78.1h0M472.7 78.2h0M484.8 74.9h0M469.6 74.4h0M478 77.1h0M472.7 84.7h0M470.9 75.5h0M475.3 83.3h0M475.9 75h0M472.8 72.3h0M465.9 76.3h0M474.1 78.5h0M471.3 76.8h0M471.7 76.1h0M455.3 127.4h0M455.4 106.9h0M450.1 109.3h0M443.1 127.2h0M455.7 126.6h0M465.8 117h0M463.1 124.1h0M460.5 96.2h0M458 75.3h0M458.5 62.2h0M461.9 108.6h0M455 89.2h0M453.3 114.9h0M456.8 93.5h0M454.7 75.3h0M457.8 115.4h0M454.5 118.1h0M456.4 50.7h0M455.8 93h0M451.2 110.2h0M464.5 121.2h0M449.7 133.3h0M452.5 87.3h0M456.9 104.2h0M446.8 118.6h0M459.4 104h0M457.2 86.6h0M461.3 111.5h0M455 85.7h0M455.4 85.1h0M451.7 88.5h0M462.1 104.6h0M458.6 90.5h0M462.3 110.1h0M462.3 81.4h0M447.4 82.6h0M462.7 91.9h0M452.9 89.3h0M459.8 107.7h0M456.2 99.7h0M456.6 107.1h0M448.4 125.8h0M457.3 87.3h0M455.2 78.5h0M455.3 96.8h0M462.7 99.9h0M454.1 82.6h0M452.4 88.9h0M458.1 104.2h0M440.9 97.9h0M457.5 76.7h0M454.7 99.5h0M457.9 105.4h0M452.8 115h0M467 96.6h0M458.2 108.1h0M456.6 98h0M458.4 88.4h0M454.8 62.6h0M466.7 74.9h0M445.7 83.7h0M455 98.4h0M446.4 110.5h0M457.3 124.6h0M456.4 98.7h0M460.9 93.4h0M457.5 122.9h0M458.1 77.8h0M458.1 95.8h0M466.1 98.1h0M447.9 95h0M458.5 82.4h0M463.7 104.7h0M457.3 90.5h0M461 78.3h0M461.9 129.5h0M458 129.6h0M458.4 97.3h0M452.9 106.1h0M458.5 88.5h0M457.1 97.8h0M453.1 119.3h0M454.4 103h0M459.1 84.2h0M456.4 96.8h0M460.8 102.2h0M448.7 120.3h0M456.8 76.6h0M461.1 107.7h0M451.1 108.2h0M459.5 78.6h0M457 108.2h0M454.3 139h0M450.4 119.4h0M443.7 99.5h0M448.9 99.8h0M449.2 110.5h0M456.5 89.2h0M453.4 109h0M458 69h0M453.4 99.8h0M454.5 104.8h0M453.1 98h0M459.3 121.8h0M450.9 98.4h0M461.6 105.6h0M456 121.2h0M447.8 106.2h0M462.1 116.9h0M457.6 114.8h0M452.6 93.7h0M451.7 103.1h0M449.6 89.5h0M446 79.5h0M454.7 135.8h0M456.3 106.2h0M445.3 91.7h0M455.2 109.3h0M447.1 110.6h0M442.7 85h0M463.9 83.3h0M460.7 131h0M453.9 86.4h0M448.3 73.6h0M460.4 88.4h0M450 116.5h0M454.2 92.2h0M454.9 111.6h0M454.8 120.3h0M451.9 110.7h0M454 91.1h0M456.2 64h0M460.7 116.2h0M454.2 108.3h0M451.2 87.5h0M454.6 75.4h0M458.6 84.1h0M454.4 94h0M460 96.7h0M450.4 101h0M458.8 98.3h0M463.6 126.3h0M449.9 107.5h0M456.3 137.5h0M450.3 174.1h0M446.4 157.9h0M461.3 151.5h0M452.2 160.2h0M453.2 156.3h0M450.3 152h0M456.6 137.9h0M460.3 175.6h0M460.8 156.3h0M454.6 163.1h0M454.5 146.3h0M454.1 152.5h0M462 158h0M454.1 140.8h0M463.6 145.6h0M460.7 139h0M463.4 135.6h0M448.9 159h0M460.4 144.9h0M457.3 147h0M451.9 150h0M457.5 133.9h0M456.3 157.2h0M457.4 159.8h0M456.6 159.2h0M456.3 149.9h0M455.9 147.7h0M456.6 151.9h0M460.5 155.1h0M456.2 132h0M450.3 144.1h0M458.3 140.8h0M463.9 141h0M458 149.3h0M454.5 158.3h0M456.7 168.9h0M458.1 150.9h0M447.1 136.5h0M450.2 145.9h0M456.8 137.7h0M464.6 137.4h0M451.9 149.5h0M468.7 121.7h0M471.4 113.6h0M482.6 109.5h0M468.8 117.8h0M484.4 114h0M469.5 120.1h0M481.9 135.6h0M486.2 131h0M488.6 154.3h0M475 104.8h0M477.8 121.7h0M489.6 142.3h0M470.4 124h0M466.2 116.4h0M479.1 109.8h0M486.5 83.9h0M470 138.3h0M485 118.9h0M473 109.3h0M475.3 127.2h0M473.6 81h0M469.1 173.8h0M487.2 155.8h0M477.1 112h0M471.6 122.1h0M481.5 101.9h0M483 127h0M492.5 125.8h0M475.1 159.7h0M476.8 94.4h0M464.4 164h0M472.6 132.5h0M472.2 107h0M479.8 152.2h0M472.6 129.1h0M481.5 113.5h0M474.5 113.4h0M471.9 101.9h0M471.2 127.8h0M475.5 100.7h0M470.3 118.7h0M471.8 103.9h0M480.7 129h0M483.3 127.7h0M465.5 159.1h0M472.7 139h0M471 110.6h0M479.7 126.3h0M476.8 103.2h0M470.4 123.1h0M462.8 153h0M479.3 97.6h0M469.4 156h0M472.1 105.7h0M474 98.7h0M476 117.8h0M469.3 82.8h0M477 97.6h0M482.2 145h0M476.1 110.6h0M472.1 143.4h0M473.1 95.3h0M475 138.6h0M472.5 90.5h0M479.6 117.7h0M484.3 161.5h0M472.5 112.9h0M483.3 135.7h0M468.6 116.4h0M474.9 140h0M483.2 176.1h0M480.9 107.1h0M489.2 111h0M474.5 114.2h0M480 119.8h0M475.6 175.2h0M480.4 157.3h0M474 127.9h0M479.9 119.3h0M477.6 147.5h0M474 139.7h0M473.7 143.4h0M459.9 138.3h0M475.4 99.7h0M477.4 86.8h0M464.8 123.3h0M467.5 175.7h0M459.1 136.2h0M459.9 145.5h0M472.5 151.3h0M480.6 159.1h0M469 121.1h0M487.5 160h0M473.3 144.3h0M481.8 137h0M471.2 143.4h0M476.8 151.1h0M470.7 146h0M481.1 160.6h0M467.7 118.2h0M473.6 103.6h0M482.8 137.1h0M484.1 133.4h0M478.6 143.2h0M477.2 157.9h0M478.9 127.4h0M479 135.8h0M474.9 138.1h0M479.5 150.7h0M483.8 132.1h0M484.1 111.5h0M468.8 96.4h0M490.8 83.2h0M488.4 114.5h0M480.1 103.6h0M487.5 130.1h0M479.7 139.3h0M477.9 102.4h0M466.2 111.1h0M475 109h0M441.9 126.9h0M446 127.3h0M440.3 126.9h0M435.6 119.4h0M431.8 102.1h0M438.5 120h0M433.9 134.9h0M431.2 105.5h0M444 133.1h0M453.9 126.8h0M434.1 109.1h0M427.3 132.2h0M430.2 104.2h0M448.5 108h0M447.4 134.6h0M439.6 111h0M445.4 76.1h0M433.2 155.6h0" stroke="#8c8c8c" stroke-width="0.85" stroke-linecap="square" fill="none"/><path d="M471.6 73.1h0M472.8 77.9h0M471.8 79.1h0M471.7 74.8h0M475.6 76.6h0M471.7 77.9h0M462.5 75.7h0M477 70.9h0M479.1 80.4h0M473.1 78.5h0M479.9 75.8h0M471.6 73.2h0M462.1 76.5h0M481.2 75.9h0M474.3 71.3h0M471.4 75.4h0M480.3 73.2h0M464.3 79.6h0M481 74.9h0M470.2 76.1h0M459.4 111.1h0M448.3 90.8h0M453 97.3h0M460.1 69.6h0M451.5 93.5h0M452.5 127.2h0M466.5 104.4h0M457.5 75.2h0M444 109.1h0M449 75.6h0M464.3 83.3h0M464 96h0M453.4 108.6h0M461.4 109.8h0M453.4 79.6h0M450.1 100.6h0M453.4 114.8h0M453.6 125.9h0M454.3 94.8h0M453.4 118.7h0M457.8 121.5h0M456.3 107.4h0M458.3 89.7h0M446.1 129.4h0M456.8 122.5h0M452.1 81.3h0M447.2 105.8h0M457.9 113.7h0M446.8 135.6h0M453.1 109.1h0M455.4 113.1h0M457.1 124.4h0M455.8 89.1h0M455.1 99.8h0M456.4 106.3h0M464.8 127.1h0M460.3 118.6h0M467.1 91.9h0M456.7 72h0M454.4 84h0M454.5 82.2h0M463.7 89.2h0M456.5 97.9h0M454.2 112.3h0M454.8 115.8h0M458.2 74.7h0M451.8 71.7h0M457.4 91.8h0M457.5 108h0M452.2 81.3h0M454.1 80.7h0M460.7 91.2h0M456.8 98h0M454 61.4h0M456.4 95.9h0M457.9 109.9h0M458.3 90.8h0M455.8 85h0M448.8 91.7h0M451.1 111.2h0M448.2 121.4h0M463.6 94.6h0M453.2 79.3h0M458.8 118.7h0M461.6 95.5h0M443.7 112.8h0M451.6 110.3h0M442.3 105.7h0M450.9 100.7h0M453.1 80.7h0M464 94.2h0M451.6 87.2h0M460.1 84.8h0M457 99.4h0M451.5 105.6h0M456 79.7h0M461.6 76.7h0M451.4 87.7h0M457.9 80.9h0M451.6 91h0M455.8 83.3h0M453.9 82.2h0M454.9 93.8h0M452 99.2h0M460.7 82.7h0M450.9 78.4h0M457.3 96h0M459.1 94.2h0M450.2 95.6h0M449.6 81.4h0M460.8 108.6h0M454.5 89.4h0M455.9 122.7h0M453 111.2h0M462.1 115.3h0M461.6 107.9h0M462.7 149.1h0M461.5 152h0M460 162.1h0M450.1 143.3h0M451.6 155.7h0M459.9 171.2h0M447.6 145.3h0M465.7 129.3h0M458.5 147h0M449.9 160.9h0M454.1 149.4h0M466.3 137.5h0M451.1 149.6h0M450.9 146.4h0M450.7 155.9h0M458.6 118.9h0M450.4 141.9h0M443.4 172.6h0M449.5 168.1h0M459.2 156.8h0M454.1 136.7h0M458.8 163.8h0M455.1 145.3h0M453.5 128.3h0M450.5 157.9h0M463.9 142.2h0M451.8 179h0M455.5 146.8h0M478.6 108.6h0M482.7 105.4h0M470.6 130h0M470.8 131.4h0M473.7 142.4h0M470.5 118.9h0M473.9 107.6h0M471.9 107.3h0M467.8 111.8h0M481.6 105.5h0M464.1 117h0M469.3 107.3h0M474.4 61.2h0M476.1 113.6h0M478.9 162.7h0M475 120.1h0M491.2 128.4h0M484.5 100.2h0M479.9 137h0M475.6 112.8h0M477.6 102.8h0M482.2 85.6h0M474.1 119.5h0M494.7 104.5h0M483.8 162.8h0M466.8 100.8h0M477.2 105.5h0M473.9 131.7h0M495.6 143.4h0M486.9 150.4h0M471.2 90.5h0M481.3 124.2h0M475.9 150.2h0M482.4 110.7h0M479.1 124.9h0M482.6 93.9h0M466.4 146.5h0M473.2 98.3h0M463.1 135.9h0M489.9 129h0M463.1 149.1h0M487.1 123.8h0M484.5 128.6h0M463.2 155.8h0M473.8 120.8h0M467.6 159.9h0M472.8 145.2h0M487.3 89.6h0M475.6 102.5h0M486 133h0M474.8 145.2h0M477.9 84.3h0M476 122.5h0M472.4 122h0M481.3 123.8h0M479.8 156.6h0M475.2 82h0M460.8 111.7h0M467.8 113.8h0M483.5 86.2h0M487.2 122.3h0M473.4 120.7h0M479.4 130.4h0M484.5 115.8h0M485 111.2h0M488.4 113.9h0M480.3 92.2h0M488.7 136.1h0M472.5 76.7h0M473.5 124.7h0M479.9 106.7h0M463.8 130.4h0M472.8 157.2h0M467.8 124.6h0M470.8 85.7h0M477.6 140h0M480 117.6h0M478.6 108.3h0M474 112.3h0M476.4 166.6h0M446.8 107.1h0M433.4 110h0M435.1 81h0M433.7 126.8h0M433.2 139.1h0M438 118.1h0M439.7 147h0M448.2 110.8h0M450.9 115.3h0M443.3 85.4h0M437.8 101.2h0M437.2 107.8h0" stroke="#3a3a3a" stroke-width="0.8" stroke-linecap="square" fill="none"/>
<path d="M474.5 112C473.3 112.1 471.8 112.7 470.8 113.3C469.9 114 469.2 115.1 468.8 116C468.3 116.9 468.3 117.3 468.2 118.8C468.2 120.3 468.4 123 468.4 125.1C468.5 127.1 468.6 129.2 468.6 131.3C468.7 133.4 468.7 135.5 468.8 137.6C468.8 139.6 468.9 141.7 468.9 143.8C468.9 145.9 468.9 147.9 468.9 150C468.9 152.1 468.9 154.1 468.9 156.2C468.9 158.3 468.8 160.4 468.8 162.4C468.8 164.5 468.8 166.6 468.8 168.7C468.8 170.8 468.8 173.5 468.9 175C469 176.5 469.1 177 469.7 178C470.2 178.9 470.9 180.1 472 180.7C473 181.4 474.7 182 476 182C477.3 182 479 181.4 480 180.7C481.1 180.1 481.8 178.9 482.3 178C482.9 177 483 176.5 483.1 175C483.2 173.5 483.2 170.8 483.2 168.7C483.2 166.6 483.2 164.5 483.2 162.4C483.2 160.3 483.1 158.2 483.1 156.1C483 154 483 151.9 482.9 149.7C482.8 147.6 482.7 145.5 482.6 143.4C482.5 141.3 482.4 139.2 482.3 137.1C482.2 135 482.1 132.9 482 130.8C481.9 128.7 481.8 126.6 481.7 124.5C481.6 122.4 481.5 119.7 481.3 118.2C481.2 116.7 481.1 116.4 480.5 115.5C480 114.6 479.3 113.6 478.3 113C477.3 112.4 475.7 111.9 474.5 112Z" fill="#fff" fill-opacity=".92"/>
<path d="M474.5 112C473.3 112.1 471.8 112.7 470.8 113.3C469.9 114 469.2 115.1 468.8 116C468.3 116.9 468.3 117.3 468.2 118.8C468.2 120.3 468.4 123 468.4 125.1C468.5 127.1 468.6 129.2 468.6 131.3C468.7 133.4 468.7 135.5 468.8 137.6C468.8 139.6 468.9 141.7 468.9 143.8C468.9 145.9 468.9 147.9 468.9 150C468.9 152.1 468.9 154.1 468.9 156.2C468.9 158.3 468.8 160.4 468.8 162.4C468.8 164.5 468.8 166.6 468.8 168.7C468.8 170.8 468.8 173.5 468.9 175C469 176.5 469.1 177 469.7 178C470.2 178.9 470.9 180.1 472 180.7C473 181.4 474.7 182 476 182C477.3 182 479 181.4 480 180.7C481.1 180.1 481.8 178.9 482.3 178C482.9 177 483 176.5 483.1 175C483.2 173.5 483.2 170.8 483.2 168.7C483.2 166.6 483.2 164.5 483.2 162.4C483.2 160.3 483.1 158.2 483.1 156.1C483 154 483 151.9 482.9 149.7C482.8 147.6 482.7 145.5 482.6 143.4C482.5 141.3 482.4 139.2 482.3 137.1C482.2 135 482.1 132.9 482 130.8C481.9 128.7 481.8 126.6 481.7 124.5C481.6 122.4 481.5 119.7 481.3 118.2C481.2 116.7 481.1 116.4 480.5 115.5C480 114.6 479.3 113.6 478.3 113C477.3 112.4 475.7 111.9 474.5 112Z" fill="none" stroke="rgba(0,0,0,0.8)" stroke-width="0.5"/>
<path d="M474.6 113.7C473.6 113.8 472.4 114.3 471.7 114.8C471 115.3 470.4 116.2 470.1 116.9C469.8 117.6 469.7 117.6 469.7 119.1C469.6 120.5 469.8 123.3 469.9 125.5C470 127.6 470 129.7 470.1 131.9C470.2 134 470.2 136.1 470.3 138.2C470.3 140.4 470.4 142.5 470.4 144.6C470.4 146.7 470.5 148.9 470.5 151C470.5 153.1 470.5 155.2 470.5 157.3C470.5 159.4 470.4 161.6 470.4 163.7C470.4 165.8 470.4 168 470.4 170.1C470.4 172.3 470.4 175.1 470.5 176.5C470.6 178 470.7 178.1 471.1 178.8C471.4 179.6 472 180.5 472.9 181C473.7 181.5 475 182 476 182C477 182 478.3 181.5 479.1 181C480 180.5 480.6 179.6 480.9 178.8C481.3 178.1 481.4 178 481.5 176.5C481.6 175.1 481.6 172.3 481.6 170.1C481.6 168 481.6 165.9 481.6 163.7C481.6 161.6 481.6 159.4 481.5 157.3C481.5 155.1 481.4 153 481.4 150.8C481.3 148.6 481.2 146.5 481.1 144.3C481.1 142.2 481 140 480.9 137.9C480.8 135.7 480.7 133.6 480.6 131.4C480.5 129.3 480.4 127.2 480.3 125C480.1 122.9 480.1 120 479.9 118.6C479.8 117.2 479.7 117.2 479.3 116.5C478.9 115.8 478.3 115 477.5 114.5C476.7 114.1 475.5 113.7 474.6 113.7Z" fill="none" stroke="rgba(0,0,0,0.8)" stroke-width="0.5"/>
<path d="M474.7 115.5C473.9 115.5 473.1 115.9 472.5 116.3C472 116.7 471.6 117.3 471.3 117.8C471.1 118.4 471 118.1 471 119.5C471 120.8 471.2 123.8 471.2 126C471.3 128.1 471.4 130.3 471.5 132.5C471.5 134.6 471.6 136.8 471.7 139C471.7 141.1 471.8 143.3 471.8 145.5C471.8 147.6 471.9 149.8 471.9 151.9C471.9 154.1 471.9 156.2 471.9 158.4C471.9 160.5 471.8 162.7 471.8 164.9C471.8 167.1 471.8 169.2 471.8 171.4C471.9 173.6 471.8 176.6 471.9 177.9C472 179.3 472 179.1 472.3 179.7C472.6 180.2 473.1 180.9 473.7 181.3C474.3 181.7 475.2 182 476 182C476.8 182 477.7 181.7 478.3 181.3C478.9 180.9 479.4 180.2 479.7 179.7C480 179.1 480 179.3 480.1 177.9C480.2 176.6 480.1 173.6 480.2 171.4C480.2 169.2 480.2 167.1 480.2 164.9C480.2 162.7 480.2 160.6 480.1 158.4C480.1 156.2 480.1 154 480 151.8C479.9 149.6 479.9 147.4 479.8 145.2C479.7 143.1 479.6 140.9 479.5 138.7C479.5 136.5 479.4 134.3 479.3 132.2C479.2 130 479.1 127.8 479 125.6C478.8 123.5 478.8 120.5 478.6 119.1C478.5 117.8 478.5 118 478.2 117.5C477.9 117 477.4 116.4 476.9 116.1C476.3 115.7 475.4 115.5 474.7 115.5Z" fill="none" stroke="rgba(0,0,0,0.8)" stroke-width="0.5"/>
<path d="M474.7 117.2C474.2 117.3 473.6 117.5 473.2 117.8C472.9 118.1 472.6 118.5 472.4 118.9C472.2 119.2 472.2 118.7 472.2 120C472.2 121.3 472.4 124.4 472.5 126.6C472.5 128.8 472.6 131 472.7 133.1C472.8 135.3 472.8 137.5 472.9 139.7C473 141.9 473 144.1 473.1 146.3C473.1 148.5 473.1 150.7 473.1 152.9C473.2 155.1 473.2 157.2 473.1 159.4C473.1 161.6 473.1 163.8 473.1 166C473.1 168.2 473.1 170.4 473.1 172.6C473.2 174.8 473.1 177.9 473.2 179.2C473.3 180.5 473.3 180 473.5 180.4C473.7 180.8 474 181.2 474.4 181.5C474.8 181.8 475.5 182 476 182C476.5 182 477.2 181.8 477.6 181.5C478 181.2 478.3 180.8 478.5 180.4C478.7 180 478.7 180.5 478.8 179.2C478.9 177.9 478.8 174.8 478.9 172.6C478.9 170.4 478.9 168.2 478.9 166C478.9 163.8 478.9 161.6 478.9 159.4C478.8 157.2 478.8 155 478.8 152.8C478.7 150.6 478.7 148.4 478.6 146.2C478.5 144 478.4 141.7 478.4 139.5C478.3 137.3 478.2 135.1 478.1 132.9C478 130.7 477.9 128.5 477.8 126.3C477.7 124.1 477.6 121 477.5 119.8C477.4 118.5 477.4 119 477.2 118.7C477 118.3 476.7 117.9 476.3 117.7C475.8 117.4 475.2 117.2 474.7 117.2Z" fill="rgba(0,0,0,0.03)" stroke="rgba(0,0,0,0.8)" stroke-width="0.5"/>
<path d="M474.8 119C474.5 119 474.2 119.1 474 119.3C473.8 119.4 473.6 119.7 473.5 119.9C473.4 120.1 473.4 119.3 473.4 120.5C473.4 121.7 473.6 124.9 473.7 127.2C473.8 129.4 473.9 131.6 473.9 133.8C474 136 474.1 138.3 474.2 140.5C474.2 142.7 474.3 144.9 474.3 147.1C474.4 149.4 474.4 151.6 474.4 153.8C474.4 156 474.4 158.2 474.4 160.4C474.4 162.7 474.4 164.9 474.4 167.1C474.4 169.3 474.4 171.6 474.4 173.8C474.4 176 474.4 179.2 474.5 180.5C474.5 181.7 474.5 180.9 474.6 181.1C474.7 181.3 474.9 181.6 475.1 181.7C475.3 181.9 475.7 182 476 182C476.3 182 476.7 181.9 476.9 181.7C477.1 181.6 477.3 181.3 477.4 181.1C477.5 180.9 477.5 181.7 477.5 180.5C477.6 179.2 477.6 176 477.6 173.8C477.6 171.6 477.6 169.3 477.6 167.1C477.6 164.9 477.6 162.7 477.6 160.4C477.6 158.2 477.6 156 477.5 153.8C477.5 151.5 477.4 149.3 477.4 147.1C477.3 144.8 477.2 142.6 477.2 140.4C477.1 138.2 477 135.9 476.9 133.7C476.8 131.5 476.7 129.3 476.6 127C476.5 124.8 476.4 121.6 476.3 120.4C476.2 119.2 476.3 120 476.2 119.8C476 119.6 475.9 119.4 475.6 119.2C475.4 119.1 475.1 119 474.8 119Z" fill="rgba(0,0,0,0.06)" stroke="rgba(0,0,0,0.8)" stroke-width="0.5"/>
<path d="M470.3 79C469 79.2 467.5 80 466.5 80.8C465.6 81.7 465.2 82.9 464.6 83.9C464.1 85 463.3 85.9 463.1 87.2C462.9 88.5 463.2 90.3 463.3 91.8C463.5 93.4 463.7 94.9 463.9 96.4C464.2 97.9 464.4 99.4 464.7 100.8C465 102.3 465.4 103.7 465.7 105.2C466.1 106.6 466.5 108.1 466.9 109.5C467.3 111 467.8 112.4 468.2 113.8C468.6 115.3 469.1 116.7 469.5 118.1C470 119.5 470.5 120.9 470.9 122.4C471.4 123.8 471.9 125.8 472.4 126.8C472.8 127.8 473.3 127.8 473.7 128.2C474.1 128.7 474.4 129.2 475 129.5C475.5 129.8 476.3 130 477 130C477.7 130 478.5 129.6 479 129.2C479.5 128.9 479.7 128.3 480 127.8C480.4 127.3 480.8 127.2 481.1 126.2C481.4 125.2 481.7 123.1 481.9 121.6C482.2 120 482.4 118.4 482.5 116.8C482.7 115.2 482.8 113.6 482.8 112C482.9 110.4 482.9 108.8 482.9 107.3C482.9 105.7 482.9 104.1 482.8 102.6C482.7 101.1 482.5 99.5 482.3 98C482.2 96.4 481.9 94.9 481.7 93.4C481.4 91.9 481.1 90.5 480.8 89C480.4 87.5 480.2 85.8 479.6 84.6C479 83.5 478 82.9 477.2 82.1C476.3 81.2 475.6 80.2 474.5 79.7C473.3 79.1 471.6 78.8 470.3 79Z" fill="#fff" fill-opacity=".92"/>
<path d="M470.3 79C469 79.2 467.5 80 466.5 80.8C465.6 81.7 465.2 82.9 464.6 83.9C464.1 85 463.3 85.9 463.1 87.2C462.9 88.5 463.2 90.3 463.3 91.8C463.5 93.4 463.7 94.9 463.9 96.4C464.2 97.9 464.4 99.4 464.7 100.8C465 102.3 465.4 103.7 465.7 105.2C466.1 106.6 466.5 108.1 466.9 109.5C467.3 111 467.8 112.4 468.2 113.8C468.6 115.3 469.1 116.7 469.5 118.1C470 119.5 470.5 120.9 470.9 122.4C471.4 123.8 471.9 125.8 472.4 126.8C472.8 127.8 473.3 127.8 473.7 128.2C474.1 128.7 474.4 129.2 475 129.5C475.5 129.8 476.3 130 477 130C477.7 130 478.5 129.6 479 129.2C479.5 128.9 479.7 128.3 480 127.8C480.4 127.3 480.8 127.2 481.1 126.2C481.4 125.2 481.7 123.1 481.9 121.6C482.2 120 482.4 118.4 482.5 116.8C482.7 115.2 482.8 113.6 482.8 112C482.9 110.4 482.9 108.8 482.9 107.3C482.9 105.7 482.9 104.1 482.8 102.6C482.7 101.1 482.5 99.5 482.3 98C482.2 96.4 481.9 94.9 481.7 93.4C481.4 91.9 481.1 90.5 480.8 89C480.4 87.5 480.2 85.8 479.6 84.6C479 83.5 478 82.9 477.2 82.1C476.3 81.2 475.6 80.2 474.5 79.7C473.3 79.1 471.6 78.8 470.3 79Z" fill="none" stroke="rgba(0,0,0,0.8)" stroke-width="0.5"/>
<path d="M470.4 79.9C469.3 80 467.9 80.8 467.1 81.5C466.3 82.2 465.9 83.3 465.4 84.2C465 85.2 464.4 85.9 464.3 87.1C464.1 88.3 464.4 89.9 464.5 91.4C464.7 92.8 464.9 94.2 465.1 95.6C465.3 97 465.5 98.4 465.8 99.8C466.1 101.1 466.4 102.5 466.7 103.9C467 105.2 467.3 106.6 467.7 108C468 109.3 468.4 110.6 468.7 112C469.1 113.3 469.5 114.6 469.9 116C470.2 117.3 470.5 118.7 471 120C471.5 121.4 472.6 123.1 473 124C473.4 125 473.1 125.1 473.4 125.5C473.7 126 474.2 126.6 474.7 126.9C475.3 127.2 476.1 127.4 476.8 127.4C477.5 127.3 478.3 127 478.8 126.6C479.3 126.2 479.7 125.6 479.9 125.1C480.1 124.6 479.9 124.5 480.1 123.5C480.4 122.5 481.1 120.6 481.4 119.1C481.7 117.6 481.7 116.2 481.7 114.7C481.8 113.2 481.9 111.7 481.9 110.3C481.9 108.8 481.8 107.3 481.8 105.9C481.7 104.4 481.6 103 481.5 101.6C481.3 100.1 481.2 98.7 481 97.3C480.8 95.9 480.6 94.5 480.3 93.1C480.1 91.7 479.8 90.3 479.5 89C479.2 87.6 478.9 85.9 478.4 84.9C477.9 83.8 477.2 83.3 476.5 82.6C475.8 81.8 475.1 80.9 474.1 80.5C473.1 80 471.6 79.7 470.4 79.9Z" fill="rgba(0,0,0,0.06)" stroke="rgba(0,0,0,0.8)" stroke-width="0.5"/>
<path d="M470.6 80.7C469.6 80.9 468.4 81.5 467.7 82.1C467 82.8 466.7 83.7 466.3 84.5C465.9 85.3 465.5 85.8 465.4 86.9C465.3 88 465.6 89.6 465.7 90.9C465.9 92.2 466 93.6 466.2 94.9C466.4 96.2 466.7 97.5 466.9 98.7C467.1 100 467.4 101.3 467.6 102.6C467.9 103.9 468.2 105.1 468.5 106.4C468.8 107.7 469.1 109 469.4 110.3C469.7 111.5 470 112.8 470.4 114C470.7 115.3 471 116.5 471.3 117.8C471.6 119.1 472 120.7 472.3 121.6C472.6 122.4 473 122.5 473.3 122.9C473.7 123.4 474 123.9 474.6 124.2C475.1 124.5 476 124.8 476.6 124.7C477.3 124.7 478.1 124.3 478.6 124C479.1 123.6 479.3 123 479.6 122.5C479.9 122 480.3 121.9 480.5 120.9C480.6 120 480.7 118.2 480.7 116.8C480.8 115.5 480.8 114.1 480.8 112.7C480.8 111.4 480.8 110 480.7 108.6C480.7 107.3 480.6 106 480.5 104.6C480.4 103.3 480.3 102 480.1 100.6C480 99.3 479.8 98 479.6 96.7C479.5 95.3 479.2 94 479 92.7C478.8 91.4 478.5 90.2 478.2 88.9C477.9 87.6 477.7 86 477.3 85.1C476.9 84.1 476.4 83.7 475.8 83.1C475.2 82.4 474.6 81.6 473.7 81.2C472.8 80.9 471.6 80.6 470.6 80.7Z" fill="rgba(0,0,0,0.16)" stroke="rgba(0,0,0,0.8)" stroke-width="0.5"/>
<path d="M470.7 81.6C469.9 81.7 468.9 82.3 468.3 82.8C467.7 83.3 467.5 84 467.2 84.7C466.9 85.3 466.6 85.7 466.6 86.7C466.5 87.6 466.8 89.2 466.9 90.4C467 91.6 467.2 92.9 467.4 94.1C467.6 95.3 467.8 96.5 468 97.8C468.2 99 468.4 100.2 468.7 101.4C468.9 102.6 469.1 103.8 469.4 105C469.6 106.2 469.9 107.4 470.2 108.6C470.4 109.7 470.7 110.9 471 112.1C471.2 113.3 471.5 114.5 471.8 115.7C472 116.8 472.3 118.4 472.6 119.2C472.9 120 473.1 120.1 473.4 120.5C473.7 120.9 474.1 121.4 474.6 121.6C475.1 121.9 475.8 122.1 476.4 122.1C477 122 477.8 121.7 478.2 121.4C478.7 121 478.9 120.5 479.2 120C479.4 119.5 479.6 119.5 479.8 118.6C479.9 117.7 479.8 116.1 479.8 114.8C479.8 113.5 479.8 112.3 479.7 111C479.7 109.7 479.6 108.5 479.5 107.2C479.4 106 479.3 104.7 479.2 103.5C479.1 102.2 479 101 478.8 99.8C478.7 98.5 478.5 97.3 478.3 96C478.1 94.8 477.9 93.6 477.7 92.4C477.4 91.2 477.2 90 476.9 88.8C476.7 87.6 476.5 86.1 476.1 85.2C475.8 84.3 475.5 84 475 83.5C474.5 83 474 82.3 473.3 82C472.6 81.7 471.5 81.5 470.7 81.6Z" fill="rgba(0,0,0,0.28)" stroke="rgba(0,0,0,0.8)" stroke-width="0.5"/>
<path d="M470.8 82.5C470.2 82.6 469.4 83 468.9 83.4C468.4 83.8 468.2 84.5 468 85C467.7 85.5 467.6 85.7 467.6 86.6C467.5 87.4 467.8 88.9 467.9 90C468.1 91.2 468.2 92.3 468.4 93.5C468.6 94.6 468.7 95.8 468.9 96.9C469.1 98 469.3 99.1 469.5 100.2C469.7 101.4 469.9 102.5 470.2 103.6C470.4 104.7 470.6 105.8 470.8 107C471.1 108.1 471.3 109.2 471.5 110.3C471.8 111.4 471.9 112.5 472.2 113.6C472.5 114.8 472.9 116.2 473.2 117C473.4 117.7 473.3 117.7 473.5 118.1C473.8 118.4 474.1 118.9 474.6 119.1C475 119.3 475.7 119.5 476.2 119.4C476.7 119.4 477.4 119.1 477.8 118.8C478.2 118.5 478.4 118 478.6 117.6C478.8 117.2 478.7 117.1 478.7 116.4C478.8 115.6 478.9 114 478.9 112.8C478.9 111.6 478.8 110.5 478.7 109.3C478.6 108.1 478.5 107 478.4 105.8C478.3 104.7 478.2 103.5 478.1 102.4C477.9 101.2 477.8 100.1 477.6 98.9C477.5 97.8 477.3 96.6 477.1 95.5C476.9 94.4 476.7 93.2 476.5 92.1C476.3 91 476.1 89.9 475.9 88.8C475.6 87.6 475.4 86.2 475.1 85.4C474.9 84.6 474.7 84.5 474.3 84C473.9 83.6 473.5 83.1 472.9 82.8C472.3 82.6 471.5 82.4 470.8 82.5Z" fill="rgba(0,0,0,0.38)" stroke="rgba(0,0,0,0.8)" stroke-width="0.5"/>
<path d="M471 83.4C470.4 83.4 469.9 83.8 469.5 84.1C469.1 84.4 468.9 84.9 468.8 85.3C468.6 85.7 468.5 85.7 468.5 86.4C468.6 87.2 468.8 88.6 468.9 89.7C469.1 90.7 469.2 91.8 469.4 92.8C469.5 93.9 469.7 95 469.9 96C470.1 97.1 470.2 98.1 470.4 99.2C470.6 100.2 470.8 101.3 471 102.3C471.2 103.4 471.4 104.4 471.6 105.4C471.8 106.5 472 107.5 472.2 108.6C472.4 109.6 472.6 110.7 472.7 111.7C472.9 112.7 473.2 114.2 473.3 114.8C473.5 115.5 473.6 115.4 473.8 115.7C474 116 474.3 116.4 474.6 116.5C475 116.7 475.5 116.9 476 116.8C476.4 116.8 476.9 116.5 477.2 116.3C477.5 116 477.7 115.6 477.9 115.3C478 115 478.1 115 478.1 114.3C478.1 113.6 478 112.1 477.9 111C477.8 110 477.7 108.9 477.6 107.8C477.5 106.7 477.4 105.7 477.3 104.6C477.2 103.5 477 102.5 476.9 101.4C476.7 100.3 476.6 99.3 476.4 98.2C476.3 97.1 476.1 96.1 475.9 95C475.7 93.9 475.6 92.9 475.4 91.9C475.2 90.8 475 89.8 474.8 88.7C474.6 87.7 474.4 86.3 474.2 85.6C474 84.9 473.9 84.9 473.6 84.5C473.3 84.2 473 83.8 472.5 83.6C472.1 83.4 471.5 83.3 471 83.4Z" fill="rgba(0,0,0,0.45)" stroke="rgba(0,0,0,0.8)" stroke-width="0.5"/>
<path d="M471.1 84.2C470.7 84.3 470.3 84.5 470 84.7C469.8 85 469.6 85.3 469.5 85.6C469.4 85.9 469.4 85.8 469.5 86.4C469.5 87.1 469.6 88.4 469.8 89.4C469.9 90.4 470.1 91.4 470.2 92.3C470.4 93.3 470.5 94.3 470.7 95.3C470.8 96.2 471 97.2 471.2 98.2C471.3 99.1 471.5 100.1 471.7 101.1C471.8 102.1 472 103 472.2 104C472.3 105 472.5 105.9 472.7 106.9C472.8 107.9 473 108.8 473.2 109.8C473.4 110.8 473.6 112.1 473.8 112.7C473.9 113.3 473.9 113.2 474 113.4C474.2 113.6 474.4 113.9 474.7 114C474.9 114.1 475.4 114.2 475.7 114.2C476 114.1 476.4 113.9 476.6 113.7C476.9 113.6 477 113.2 477.1 113C477.2 112.7 477.2 112.9 477.2 112.3C477.1 111.6 477 110.3 477 109.3C476.9 108.3 476.7 107.3 476.6 106.3C476.5 105.3 476.4 104.3 476.3 103.4C476.1 102.4 476 101.4 475.9 100.4C475.7 99.4 475.6 98.5 475.4 97.5C475.3 96.5 475.1 95.5 474.9 94.5C474.8 93.6 474.6 92.6 474.4 91.6C474.3 90.7 474.1 89.7 473.9 88.7C473.7 87.8 473.4 86.5 473.3 85.8C473.1 85.2 473.2 85.3 473 85.1C472.8 84.8 472.5 84.6 472.2 84.4C471.9 84.3 471.5 84.2 471.1 84.2Z" fill="rgba(0,0,0,0.5)" stroke="rgba(0,0,0,0.8)" stroke-width="0.5"/>
<path d="M471.2 85.1C471 85.1 470.7 85.3 470.6 85.4C470.4 85.5 470.3 85.8 470.3 85.9C470.2 86.1 470.2 85.9 470.3 86.4C470.3 87 470.5 88.2 470.6 89.1C470.7 90 470.9 90.9 471 91.8C471.2 92.7 471.3 93.6 471.5 94.5C471.6 95.4 471.8 96.3 471.9 97.2C472.1 98.1 472.2 99 472.4 99.9C472.5 100.8 472.7 101.7 472.8 102.6C473 103.5 473.1 104.4 473.3 105.3C473.4 106.2 473.5 107.1 473.7 108C473.8 108.8 474 110.1 474.1 110.6C474.2 111.2 474.2 110.9 474.3 111.1C474.4 111.2 474.5 111.4 474.7 111.4C474.9 111.5 475.1 111.6 475.3 111.5C475.6 111.5 475.8 111.4 475.9 111.3C476.1 111.2 476.2 111 476.2 110.8C476.3 110.7 476.3 110.9 476.3 110.3C476.2 109.8 476.1 108.5 476 107.6C475.8 106.7 475.7 105.8 475.6 104.9C475.5 104 475.4 103.1 475.2 102.2C475.1 101.3 475 100.4 474.8 99.5C474.7 98.6 474.5 97.7 474.4 96.8C474.3 95.9 474.1 95 473.9 94.1C473.8 93.2 473.6 92.3 473.5 91.4C473.3 90.5 473.2 89.6 473 88.7C472.9 87.9 472.6 86.6 472.5 86.1C472.4 85.5 472.5 85.7 472.3 85.6C472.2 85.5 472.1 85.3 471.9 85.2C471.7 85.1 471.4 85.1 471.2 85.1Z" fill="rgba(0,0,0,0.5)" stroke="rgba(0,0,0,0.8)" stroke-width="0.5"/>
</g>
<path d="M402.2 55.5V169.4M513.9 55.5V169.4" fill="none" stroke="#000" stroke-width="2.2"/>
<line x1="399" y1="56.3" x2="513.9" y2="56.3" stroke="#000" stroke-width="1.9"/>
<line x1="399" y1="168.5" x2="514.8" y2="168.5" stroke="#000" stroke-width="1.9"/>
<line x1="463" y1="56.3" x2="463" y2="168.5" stroke="#000" stroke-width="1.4"/>
<line x1="402.2" y1="131.4" x2="513.9" y2="131.4" stroke="#000" stroke-width="1.6"/>
<line x1="399" y1="168.5" x2="402.2" y2="168.5" stroke="#000" stroke-width="1.2"/>
<line x1="402.2" y1="168.5" x2="402.2" y2="171.3" stroke="#000" stroke-width="1.2"/>
<text x="401" y="180.2" font-size="8.1">10<tspan font-size="4.9" dy="-2.5">0</tspan></text>
<line x1="399" y1="140.45" x2="402.2" y2="140.45" stroke="#000" stroke-width="1.2"/>
<line x1="430.12" y1="168.5" x2="430.12" y2="171.3" stroke="#000" stroke-width="1.2"/>
<text x="428.48" y="180.2" font-size="8.1">10<tspan font-size="4.9" dy="-2.5">1</tspan></text>
<line x1="399" y1="112.4" x2="402.2" y2="112.4" stroke="#000" stroke-width="1.2"/>
<line x1="458.05" y1="168.5" x2="458.05" y2="171.3" stroke="#000" stroke-width="1.2"/>
<text x="455.95" y="180.2" font-size="8.1">10<tspan font-size="4.9" dy="-2.5">2</tspan></text>
<line x1="399" y1="84.35" x2="402.2" y2="84.35" stroke="#000" stroke-width="1.2"/>
<line x1="485.97" y1="168.5" x2="485.97" y2="171.3" stroke="#000" stroke-width="1.2"/>
<text x="483.42" y="180.2" font-size="8.1">10<tspan font-size="4.9" dy="-2.5">3</tspan></text>
<line x1="399" y1="56.3" x2="402.2" y2="56.3" stroke="#000" stroke-width="1.2"/>
<line x1="513.9" y1="168.5" x2="513.9" y2="171.3" stroke="#000" stroke-width="1.2"/>
<text x="515.8" y="180.2" font-size="8.1" text-anchor="end">10<tspan font-size="4.9" dy="-2.5">4</tspan></text>
<path d="M401.2 160.1h-1.6M410.6 169.4v1.6M401.2 155.1h-1.6M415.5 169.4v1.6M401.2 151.6h-1.6M419 169.4v1.6M401.2 148.9h-1.6M421.7 169.4v1.6M401.2 146.7h-1.6M423.9 169.4v1.6M401.2 144.8h-1.6M425.8 169.4v1.6M401.2 143.2h-1.6M427.4 169.4v1.6M401.2 141.7h-1.6M428.8 169.4v1.6M401.2 132h-1.6M438.5 169.4v1.6M401.2 127.1h-1.6M443.4 169.4v1.6M401.2 123.6h-1.6M446.9 169.4v1.6M401.2 120.8h-1.6M449.6 169.4v1.6M401.2 118.6h-1.6M451.9 169.4v1.6M401.2 116.7h-1.6M453.7 169.4v1.6M401.2 115.1h-1.6M455.3 169.4v1.6M401.2 113.7h-1.6M456.8 169.4v1.6M401.2 104h-1.6M466.5 169.4v1.6M401.2 99h-1.6M471.4 169.4v1.6M401.2 95.5h-1.6M474.9 169.4v1.6M401.2 92.8h-1.6M477.6 169.4v1.6M401.2 90.6h-1.6M479.8 169.4v1.6M401.2 88.7h-1.6M481.6 169.4v1.6M401.2 87.1h-1.6M483.3 169.4v1.6M401.2 85.6h-1.6M484.7 169.4v1.6M401.2 75.9h-1.6M494.4 169.4v1.6M401.2 71h-1.6M499.3 169.4v1.6M401.2 67.5h-1.6M502.8 169.4v1.6M401.2 64.7h-1.6M505.5 169.4v1.6M401.2 62.5h-1.6M507.7 169.4v1.6M401.2 60.6h-1.6M509.6 169.4v1.6M401.2 59h-1.6M511.2 169.4v1.6M401.2 57.6h-1.6M512.6 169.4v1.6" stroke="#444" stroke-width=".5" fill="none"/>
<text x="404.5" y="68.1" font-size="13.4">2</text>
<text x="513.2" y="68.1" font-size="13.4" text-anchor="end">88</text>
<text x="404.5" y="167" font-size="13.4">0</text>
<text x="513.2" y="167" font-size="13.4" text-anchor="end">10</text>
<g clip-path="url(#cp10)">
<path d="M101.2 225.7h0M106.6 228.8h0M126.4 226.4h0M94.2 219.4h0M104.8 214.3h0M98.7 223.1h0M89.6 224.2h0M108.4 226.9h0M99.3 218.6h0M101.9 232.2h0M110.4 216.9h0M92 218.5h0M92.4 213.1h0M103.4 225.6h0M99.3 223.7h0M108.7 228h0M98.5 221.5h0M97.8 215.5h0M96.9 221.3h0M103.4 224.3h0M99.2 213.8h0M101.8 217.7h0M117.4 218.6h0M99.6 221.8h0M108.7 224.6h0M91.2 235.2h0M108.8 227.3h0M100.6 226.8h0M113.7 221.9h0M101.6 227.1h0M100.1 225.5h0M119.4 224.5h0M101.9 226.5h0M111.9 213.3h0M111.4 222.5h0M109.2 216.1h0M94.9 205.4h0M103.5 220.8h0M110.2 222.5h0M103 220.7h0M110.4 219h0M92.8 229.6h0M113.9 231h0M106 213.4h0M88.9 209h0M107.3 222h0M115.7 224.2h0M113.8 221.7h0M99.9 225.9h0M129 206.1h0M109.9 221.5h0M97.7 231.6h0M107.1 232.6h0M105.3 213.6h0M104.9 230.9h0M104.9 209.9h0M108 225.1h0M110.6 229.4h0M102.6 228.4h0M85.4 214.1h0M102.8 219.6h0M114.2 211.4h0M106.7 231.2h0M109.1 218.7h0M111.3 219.1h0M89.7 228.3h0M94.7 226.5h0M96 214.1h0M97.2 225.7h0M118.6 224.8h0M113.7 232.2h0M107.7 216.9h0M104.7 220.8h0M115.5 222.4h0M93.1 224.1h0M94.2 223.7h0M107.9 225.6h0M106.9 226.5h0M121.9 227.6h0M94.9 224.5h0M121.6 234.6h0M94.1 222.6h0M100.7 214.5h0M103 219.9h0M107.7 224h0M106.8 222.8h0M90 209.7h0M100.6 232.6h0M103.4 227.1h0M110.4 223.3h0M103.2 227.6h0M96.3 221.7h0M102 221.9h0M119.5 215.5h0M111.7 218h0M99.1 233.2h0M103.4 208.3h0M110.7 232.5h0M100.3 214.9h0M111.7 219.4h0M94.7 220.5h0M118.4 215.2h0M97.6 214.8h0M90.7 220.8h0M114.3 222.3h0M125.2 215h0M91.9 214.4h0M105.9 225.7h0M119.5 217.4h0M106.1 222.4h0M114.6 221.9h0M117.9 211.7h0M93.3 227.2h0M125.3 223h0M108.6 228.5h0M111.3 216.4h0M97.8 221h0M110.7 220.3h0M106 231.8h0M110.1 220.3h0M97.6 220.6h0M105.7 232.8h0M92.5 222.9h0M115.3 228.4h0M108.5 222.5h0M103.8 225.2h0M92.6 221.9h0M103.8 214h0M112.8 225.1h0M98.8 229.1h0M99.8 217.7h0M95.6 226.3h0M111.7 219h0M102.9 220.9h0M106.2 230.6h0M98.4 215.2h0M103.6 239.5h0M102.6 222.9h0M123.2 228.3h0M96.7 221.4h0M92.5 219.6h0M105.4 212.8h0M111.3 230h0M120.3 220.6h0M114.4 216h0M98.2 215.6h0M102.6 214.5h0M114.5 225.2h0M107.3 220.7h0M102.6 212.5h0M94.4 223h0M97.4 218.7h0M107.4 214.8h0M109.6 213.3h0M104 222.2h0M106.7 223.7h0M87 226.5h0M97.4 227.3h0M103.6 225.2h0M100.6 205.5h0M105.4 226.4h0M115.6 220.5h0M122.9 220.6h0M127.6 222.3h0M100.1 218.5h0M120.2 228.5h0M101.3 225.2h0M102.5 219h0M102.9 220.1h0M114.5 216.9h0M110.8 212.7h0M115.1 219.5h0M91.6 207.8h0M94.4 221.2h0M105.2 220.9h0M107.5 229h0M104.7 227.9h0M115.1 227.5h0M106.3 229.5h0M115.4 223.6h0M119.7 236.3h0M109.9 241h0M116.9 248.2h0M114.1 247.5h0M116.2 225.9h0M110.8 228.2h0M115.4 238.1h0M122.3 225.2h0M129.2 245.7h0M130.7 220.4h0M119 224.9h0M107.6 249.6h0M113.4 236.9h0M116.9 250.5h0M119.6 239.7h0M116.8 246.2h0M112.6 219.5h0M111 222.8h0M121.4 251.9h0M137.1 236.1h0M123.5 215.4h0M128.9 226.5h0M130.9 224.9h0M121.6 244.7h0M121.4 227.6h0M108.8 251.3h0M127.8 239.5h0M117.1 230.2h0M117.6 220.9h0M110.3 232.5h0M132.3 215.6h0M115.5 233.4h0M122.6 228.8h0M128 246.4h0M108.2 241h0M113.7 256.7h0M125.6 253.3h0M134.3 236.6h0M126.2 225h0M118.9 237h0M116.1 236.2h0M118.1 233.9h0M119.2 228.5h0M112.4 226.6h0M108.6 240.6h0M133.8 235h0M119.1 233.6h0M109.8 239.6h0M131.1 212.1h0M113 256.1h0M112.8 249.1h0M110.3 240.5h0M126.4 238.5h0M134 221.8h0M116.1 235.9h0M108.5 229.8h0M113 254.2h0M112.3 226.8h0M122.5 215h0M118.3 225.8h0M123.9 246.5h0M121.6 230.3h0M119.2 238.5h0M128.3 224.3h0M126.5 279.8h0M125.5 244.5h0M124.3 237.6h0M129.5 240h0M127.3 243.9h0M117.5 241.2h0M115.4 250.7h0M120.4 244.1h0M116.3 243.8h0M119.7 231.6h0M124 246.2h0M131.6 253.4h0M118.1 229.5h0M120.2 233h0M112.8 237.1h0M121.4 240.7h0M119.8 225.2h0M108.2 252.8h0M117.1 224.6h0M113.8 233.3h0M108.3 229.5h0M106.4 235.2h0M116.3 264.3h0M119.3 237.7h0M121.3 256.2h0M112.2 222.1h0M112.5 236.9h0M126.3 240.6h0M125.7 237.5h0M128.2 238.5h0M113.5 269h0M110.1 211.6h0M112.2 264.9h0M132.7 270.3h0M114 252.8h0M120.3 235.2h0M127.7 220.2h0M120.7 217.3h0M119.1 230.6h0M115.1 242.2h0M112.6 221.2h0M122.7 233.9h0M120.9 240.6h0M118.2 230.9h0M116.3 246.6h0M123.9 240.3h0M110 243.9h0M108 250.2h0M125.4 228.5h0M117.7 230.1h0M119.1 259.7h0M116.4 252.8h0M113.5 285.1h0M129.3 253.5h0M118.3 250.2h0M124.3 243.4h0M119.5 263.4h0M131.5 234.3h0M129.8 246.1h0M113.9 223.5h0M106.1 242.1h0M120.8 252.4h0M117.4 254.6h0M110.3 237.6h0M123.9 246.4h0M102.5 237.2h0M119 239.7h0M103.4 221.3h0M109.4 232.7h0M105.7 222.9h0M109.2 238.1h0M115 240.2h0M116.7 236.8h0M113.3 241.7h0M121.9 247.3h0M117.4 233.6h0M122.1 228.1h0M122.4 240.1h0M125.5 233.7h0M109.4 247.4h0M112.1 265.3h0M116 254.7h0M121 213.3h0M109 238.4h0M110.4 236.1h0M119 229.5h0M113.2 252.5h0M117.1 256.7h0M122.7 236.2h0M124.5 251.9h0M121.8 228.6h0M117.6 266.3h0M115.5 258.2h0M112.6 257.8h0M121.6 215.8h0M108.3 217.7h0M115.7 241.8h0M120 242h0M123.9 245.1h0M119.6 219h0M121.5 275.1h0M120.3 238.7h0M109.5 232.3h0M127.3 236.1h0M107.5 268.5h0M119.9 248.6h0M114 225.5h0M133.7 238.9h0M120.3 252.7h0M110.2 242.6h0M121.2 227.1h0M117.3 250.6h0M115.2 235.6h0M114.2 237.9h0M116.5 243.9h0M125.8 239.7h0M109.9 253.8h0M112.1 236.1h0M121.9 248.1h0M118.3 240.9h0M118.9 236.3h0M114 225.5h0M119 236.7h0M115.3 266.3h0M119.3 247.4h0M118.7 241.5h0M122.6 248.5h0M129.4 234.2h0M122.3 243.2h0M117.4 243.7h0M136.6 234h0M104.7 256.8h0M123.4 237h0M102.6 223.5h0M123.8 247.9h0M115.4 232.1h0M124.9 237.4h0M116.7 215.9h0M115.4 251.6h0M111.4 232.4h0M126 282.1h0M119.6 273.9h0M129.9 271h0M126.5 296.7h0M113.7 302.4h0M128.8 284.9h0M111.7 274.2h0M109.3 304.5h0M119.5 265.8h0M111.1 269.7h0M126.7 276.6h0M131.3 267.7h0M126.3 263.3h0M124.6 275h0M117.5 267.5h0M122.4 286.4h0M121.1 285.9h0M109.9 298.8h0M118.6 294.4h0M120.9 278.5h0M129.6 269.9h0M126.3 262.3h0M128.8 271.2h0M102.9 270.4h0M112.5 277h0M123.8 252.8h0M125.3 265.3h0M123.7 274.3h0M136.4 271.3h0M125.3 294h0M136.7 272.7h0M115.6 271h0M126.2 278h0M121.3 268.4h0M118.8 297.2h0M126.1 274.1h0M117.2 293.7h0M126.4 283.2h0M120.2 276.2h0M118.8 281.6h0M128.2 281.8h0M122.5 278.1h0M120.7 276.5h0M116.1 240.6h0M124 269.3h0M126.1 251.1h0M129.2 262.3h0M118.5 281.4h0M130.9 259.2h0M123.9 289.5h0M127 306h0M134.5 287.6h0M129.3 283.4h0M123.8 280.1h0M134.7 267h0M116.7 270.5h0M118.2 271.2h0M134.1 264.6h0M127.9 292.2h0M133.3 298.7h0M122 277.2h0M120.9 262.2h0M136.7 293.5h0M120.6 288.3h0M134.7 267h0M111.3 285.9h0M127 253.2h0M123.3 254.7h0M129.9 306.2h0M126 294.6h0M125.7 276.4h0M116.8 262h0M137.4 262h0M130.2 287.9h0M120.8 257h0M130.2 288.9h0M135.3 297.8h0M124.7 277.2h0M135.4 264.3h0M138 264.9h0M123.7 289.7h0M121.7 281.5h0M114.1 263h0M122.5 281h0M137.7 266.4h0M109.6 255.7h0M116.1 268.4h0M124.2 283.8h0M133.1 285.8h0M111.7 284.9h0M115 248.2h0M128.8 278.8h0M130 276.1h0M137.5 292.5h0M120.4 291.3h0M119.7 286.3h0M121.8 251h0M120.5 266.9h0M130.7 276.7h0M115.1 290.6h0M133.9 272h0M118.9 261.5h0M134.3 266.6h0M120.8 281.1h0M115.8 291.7h0M122.6 294.1h0M136.3 265.6h0M134.4 254.5h0M128.4 250.4h0M127.8 287.6h0M133.2 297h0M120.2 277.5h0M138.2 268.1h0M114.7 275.5h0M127.4 264.9h0M127.9 289h0M122.2 298h0M124.1 268.2h0M126.7 278.5h0M119.3 257.2h0M123.3 248.9h0M121 264.9h0M123.8 243.4h0M136.7 271.6h0M120.9 275.5h0M116.6 276.1h0M125 256.8h0M125.6 265.9h0M121.2 277.3h0M132.6 285.3h0M138.9 291.1h0M137.5 291.7h0M135.7 284.1h0M118.7 272.7h0M117.6 257.2h0M131.5 269.1h0M130.9 285.8h0M135.5 264.5h0M115.4 252.2h0M112.5 286.4h0M112.3 264.5h0M121.1 284.6h0M133.7 275h0M133.2 274.8h0M129.7 290h0M116.9 291.2h0M127 278.7h0M126.6 282.4h0M113.6 282.2h0M115.8 278.8h0M131.6 243.1h0M119.1 286.3h0M129.9 261.3h0M140.6 286.5h0M132.6 252.3h0M122.6 287.2h0M124.5 253.7h0M145.8 273.6h0M111 255.5h0M137.1 261.4h0M134.3 287.1h0M116.5 256.1h0M120.2 285h0M116.9 284.2h0M132.5 286h0M139 275.6h0M137.4 266.8h0M116.4 279.3h0M129.1 288.7h0M122.4 281.2h0M117.7 267.1h0M119.7 295.2h0M124.5 274.4h0M118.1 295.2h0M125.1 260.2h0M121.6 275.7h0M123.3 285.5h0M114.6 283.5h0M124.2 276.8h0M108.8 270.9h0M104.6 269.3h0M98.6 262.2h0M92.4 291.5h0M94.5 274.3h0M97.9 276.9h0M100.7 242.1h0M103.4 238.6h0M85.9 256.1h0M96.4 251.3h0M98.2 251h0M98.8 256.7h0M94.6 230.6h0M105 250h0M88.9 225h0M100.9 237.4h0M86.5 251.6h0M94.2 256.5h0M99.8 263h0M95.1 266.3h0M101.1 267.7h0M100.1 274.1h0M92.5 243.1h0M110.2 248h0M106.9 248.6h0M96.1 285.1h0M111.5 264.6h0M95.6 262.1h0M97.1 252.9h0M106.7 250.2h0M98.9 259.9h0M85.2 252.5h0M114.2 239.3h0M93.2 260.5h0M102.2 261h0M88.3 228.7h0M106.3 253.6h0M95.6 267.6h0M104.2 278.4h0M107.1 292h0M94.1 254.9h0M108.4 245.3h0M84.4 246h0M102.2 273.6h0M98.7 289.1h0M102 270.4h0M102.1 240.7h0M107.8 229h0M84.6 276.5h0M102.1 286.9h0M95.1 283h0M86.2 281.8h0M93.9 249.6h0M107.2 246.6h0M94.4 252.9h0M99.2 263.5h0M98.6 238.5h0M102.9 239.2h0M107 266.9h0M108.1 278.4h0M95.9 267.6h0M101.6 267.6h0M99.3 246.9h0M88.4 254.3h0M102.9 257.2h0M101.6 251.7h0M91.7 241.7h0M100.2 247.6h0M98.9 273.5h0M90.5 266.1h0M114.6 258.1h0M105.3 262.9h0M84.4 271h0M94.8 195.6h0M102 243.5h0M95.4 273h0M90.3 239h0M109.9 234.2h0M102.7 265.1h0M115.7 217.5h0M140.9 199.2h0M107.9 207.1h0M127.8 205.3h0M113.7 210.8h0M133.5 206.5h0M121.7 210.5h0M112.2 207.4h0M129.3 202.9h0M116.1 206.7h0M116.3 210.4h0M115.1 205.3h0M133.2 210.3h0M124.1 209.4h0M124.4 203.5h0M148.1 205.2h0M116.8 203.5h0M120.8 207.4h0M140 215.6h0M124 215.6h0M117.5 202h0M110.2 214.3h0M115.4 203.9h0M127.3 210.7h0M112.3 208.3h0M135.1 208.4h0M127.2 206.6h0M122.2 200.1h0M107.1 206.9h0M128 210.7h0M114.2 210.1h0M126.8 218.3h0M134.1 209.4h0M128.8 212.1h0M120.3 213.5h0M129.5 216.6h0M108.7 216.5h0M146.7 215.3h0M120.2 218.2h0M121.4 206.6h0M131.8 211.9h0M107.7 206.3h0M120 209.5h0M118.3 213.3h0M125.9 207.3h0M103.6 211.8h0M115.4 212.7h0M113.5 209.7h0M118.9 210.5h0M134.4 199.9h0M109.8 206.6h0M124.8 206.6h0M126.5 214.3h0M128.2 211.3h0M126.3 195.9h0M126.6 207h0M126.6 217h0M120.3 209.7h0M130.9 201.3h0M121.9 219.5h0M87.6 247.4h0M70.1 235.6h0M54.1 274.6h0M78.3 238.9h0M88.6 236.9h0M105 261.2h0M110.6 238.9h0M97.5 200.2h0M62.2 258.7h0M81.5 194.8h0M103.7 217.5h0M85 256.8h0M96.1 236.4h0M73.2 239h0M48.4 229.3h0M59.9 253.1h0M85.6 256.3h0M80.6 247.2h0M92.7 255.8h0M75.5 267.5h0M88.2 225.2h0M63.7 279.2h0M118.5 263.3h0M79.1 233h0M59.7 213.2h0M64 200.3h0M86.3 231.3h0M93.3 234.7h0M81 226.3h0M72.8 239.3h0" stroke="#8c8c8c" stroke-width="0.85" stroke-linecap="square" fill="none"/><path d="M107.4 230.8h0M92 232.8h0M107.9 214h0M77.8 226.1h0M131.5 221.6h0M95.2 214.4h0M104 223.8h0M108.5 228.7h0M103.4 228.9h0M102.3 219.4h0M125.7 218.6h0M101.3 220.1h0M103 226.3h0M115.4 221.6h0M102.1 222.5h0M107.9 232.1h0M101.3 221.6h0M100.8 221.1h0M102.3 225.4h0M98.4 230.4h0M117.7 209.1h0M100.8 221.3h0M115.6 237.6h0M105.3 225.7h0M92.4 208.9h0M114 227.9h0M91.8 219.7h0M115.7 225h0M110.8 213.6h0M103.1 222.7h0M104.4 223.1h0M108.5 226.8h0M102.2 218.6h0M93.7 223.7h0M108.1 223.4h0M111.9 207.8h0M116.8 225.5h0M95.3 229.2h0M109.7 231.8h0M109.3 223.2h0M89.3 208.7h0M95.4 222.2h0M104.2 218.2h0M89.4 206.9h0M109.6 229.5h0M96.4 231.2h0M109 224.4h0M110.6 238.1h0M113.3 212.4h0M119.7 233.8h0M97.3 220.7h0M103.5 224.9h0M119.7 222.8h0M111.1 223.3h0M102.1 226.6h0M94.7 222.7h0M99 219.8h0M95.9 217.5h0M113.1 218.8h0M102.6 215.1h0M100.6 223.9h0M93 223h0M110.4 226h0M119.2 226.2h0M88.7 225.8h0M82.6 224.5h0M97 225.4h0M98.5 230.1h0M98.9 212.9h0M106.6 218.1h0M106.3 229.3h0M110.5 218.5h0M107.2 210.3h0M103.5 223h0M85 211.3h0M100.8 216.8h0M108 225.5h0M100.6 228.4h0M101.2 227.9h0M107.7 223h0M95.7 213.8h0M125 214.4h0M107.8 225.6h0M110 212.3h0M107 228.5h0M109.9 221.4h0M106.6 221.2h0M112.9 217.1h0M98.8 228.4h0M115.5 221.2h0M95.7 224.8h0M106.6 228.1h0M91.4 229h0M84.4 225.8h0M111.1 223.3h0M117.3 222.1h0M105.6 218.7h0M91.5 223.6h0M122 212h0M96.1 215.8h0M94.1 224.9h0M99.6 211h0M100.4 221.9h0M89.1 223.7h0M99.9 220.6h0M108.5 226h0M113.8 200.4h0M100.4 218.2h0M96.5 222.8h0M105.4 216h0M96.3 218h0M120.2 232.3h0M107.8 226.6h0M111.7 231.7h0M98.9 239.2h0M108.2 224.7h0M117.2 223.4h0M110.6 224.2h0M93.2 233h0M106.6 226.7h0M116.3 240h0M123.7 240.7h0M114 208.5h0M108 231.9h0M101 239.7h0M111.1 247.9h0M124.2 230.7h0M115.4 222.8h0M118.9 249.3h0M122.2 220.9h0M116.6 238h0M122 212.8h0M125.9 263.8h0M120.1 231.6h0M119.5 231.9h0M110.9 260.1h0M115 248.5h0M121.7 257.8h0M117 241.3h0M108 235.1h0M134.4 232.3h0M119.9 242.5h0M121.9 245.4h0M117.5 230h0M122.1 240.4h0M110.5 231.5h0M106 242h0M130.4 237.7h0M111.6 244.6h0M118.8 219.9h0M121.8 210.3h0M118.3 241.9h0M111 223.7h0M123.4 232.2h0M129.8 244.3h0M124.3 250.6h0M114.8 244.9h0M117.5 273.3h0M112 236.9h0M132.6 252.5h0M122.5 252.3h0M109.8 221.3h0M117.1 242.5h0M124.5 282.7h0M119.6 250.8h0M117 230.7h0M115.6 243.2h0M123 235.8h0M131.3 223.6h0M109 243.8h0M112.3 241.2h0M113.2 235.6h0M107.8 238.4h0M117.8 249h0M127.5 233.6h0M120.2 227.3h0M114.5 255.3h0M122.4 251.2h0M113.7 219.4h0M114.8 235.1h0M118.6 220.5h0M126.6 244.1h0M123.4 224.9h0M109.6 243.5h0M113.3 232.4h0M116.2 237h0M121.5 256.7h0M128.7 248.8h0M127 247.1h0M121.2 233.9h0M122.8 228.4h0M129.2 252.8h0M115.5 237.1h0M132.6 240.5h0M120 256.3h0M136.6 236.8h0M112.2 250.4h0M129.6 254h0M124.4 236.4h0M112.3 260.1h0M121 215.8h0M115.1 236.8h0M107.9 218h0M132.6 238.3h0M124.2 234.3h0M128.7 219.7h0M115.5 252.4h0M126.4 263.6h0M112 244.1h0M127.9 236.1h0M114.1 246.2h0M119.2 254.8h0M120.8 263.4h0M113.2 249.4h0M121.4 244.3h0M124.4 224.9h0M114.2 279h0M119.4 250.7h0M108.4 248.3h0M122.1 233.2h0M125.1 214.4h0M111.5 240.9h0M123 255.1h0M118.9 223.4h0M118.5 232.9h0M116.7 260.6h0M112 237.1h0M132.9 247.1h0M105.7 248.5h0M109.1 249.5h0M117.7 247.6h0M114 237.2h0M123.2 233.2h0M118.4 225.5h0M109 228.3h0M124 256.3h0M119.4 251.5h0M113.7 218.6h0M120.8 231h0M117.4 247.7h0M118.5 231.3h0M131.3 238.6h0M110.1 249.7h0M129.6 242.5h0M125.2 200h0M122.6 239.3h0M121 252.8h0M114.1 237.5h0M110.6 242.6h0M105.5 231.2h0M110.8 280.9h0M107.6 239.9h0M106.9 230h0M113.8 260.1h0M109.1 243.1h0M118.2 232.2h0M112.1 282.7h0M124.3 280.6h0M117.8 275.4h0M123.9 281.3h0M120.7 283.4h0M132.5 283.9h0M122.4 246.7h0M124.1 283.6h0M126.3 283.9h0M140.3 261.7h0M132.6 276.4h0M114.5 269.2h0M119.8 244.1h0M131.5 295.6h0M108.9 270.5h0M115.6 286.7h0M116.8 254.6h0M124.9 266.2h0M121.1 291.5h0M128.6 248.1h0M141.6 250.7h0M127.5 267.1h0M127.3 253.3h0M123.5 267.5h0M124.6 283.1h0M125.9 281.3h0M124.3 279h0M124.7 267.9h0M126.6 282.9h0M127.5 271.1h0M119.7 261.8h0M122.6 260.6h0M132.8 279.1h0M115.1 283.2h0M127.8 275h0M135 262.8h0M129.7 291.6h0M131 237.9h0M125.3 261.4h0M117.6 301.3h0M126.3 283.8h0M119 273.1h0M141 261.2h0M139.3 279h0M126.6 265h0M119.9 273.1h0M126.6 273.2h0M123.5 281.6h0M115.1 276.9h0M125.7 279.8h0M117.8 258.6h0M124.7 259.8h0M128.1 294.1h0M118.2 285.1h0M116.6 262.1h0M110.7 267.1h0M126.9 286.9h0M120.9 283.3h0M122.1 243.2h0M128.3 271.4h0M140.5 265.6h0M125.5 276h0M112.5 250h0M132.7 280.8h0M109.2 264.1h0M115.8 265h0M124.6 305.5h0M132.5 281.6h0M120.4 257.3h0M132.3 270.9h0M136.3 277.8h0M125.3 296.2h0M122.1 257.8h0M112.5 268.1h0M126.6 284.8h0M136.1 281.9h0M125.1 285.9h0M111.9 290.6h0M128.3 284.9h0M126.5 271.4h0M114.6 268h0M110.2 255.9h0M121 260.4h0M125.3 284.3h0M128.5 286.5h0M121.9 309.3h0M122 287.1h0M134.2 286.4h0M141.2 287.3h0M135.2 257.3h0M135.3 289.8h0M128.2 260.5h0M127.6 268.5h0M129 292.2h0M126.7 288.2h0M123.5 273.1h0M136.4 262.8h0M118.3 260.1h0M142.1 291.3h0M125.5 288.9h0M129.1 281.6h0M124.7 275.9h0M127.4 273.3h0M118.1 280.4h0M120.6 269.5h0M118.7 274.4h0M131.4 289.7h0M131.5 284.4h0M136.1 284.9h0M134 278.6h0M125.1 269.4h0M119.4 287.6h0M132 287.3h0M126.6 292.9h0M117.9 295.5h0M136.8 250.6h0M129.2 251.6h0M115.7 257.6h0M107.7 275.5h0M120.4 282h0M101.6 238.6h0M100.9 273.7h0M101.8 275.4h0M85.2 240.4h0M97.1 260.4h0M93.3 230.6h0M103.9 279.2h0M104.3 257.7h0M92.7 262.1h0M107.9 278.2h0M98.2 236.5h0M83.6 283.8h0M92.1 263.7h0M103.8 242.2h0M101.9 265.2h0M101.7 247.9h0M114.9 244.4h0M101 263.3h0M89.8 256.5h0M108.7 272.8h0M94.7 242.6h0M94.2 258.4h0M100.9 261.5h0M111.7 273.2h0M118.1 260.4h0M92.7 264.3h0M91.9 229.1h0M105 264.2h0M94.2 262.9h0M97.6 237h0M105.1 250h0M84.6 244.8h0M105.6 244.1h0M111.1 256.8h0M98.8 235.3h0M111.5 285.1h0M88 246.5h0M103.4 248.2h0M105.5 261.5h0M95.9 264.6h0M114.7 259h0M100.3 243h0M95.2 240.4h0M91.5 260.4h0M83.6 281.2h0M104 290.2h0M106.4 269.1h0M102.3 237.1h0M100 210h0M108 232.2h0M82.8 277.9h0M94.2 282h0M129.6 218.5h0M121.2 212.5h0M126.6 206.3h0M108.1 210.7h0M113.6 204.3h0M120.7 216.6h0M123.1 217.7h0M122.1 206.7h0M119.6 209.2h0M117.6 210.9h0M129.8 209.5h0M118.6 210.3h0M105.7 212.8h0M123.4 207.1h0M107.5 217.8h0M114.1 207.3h0M132 216.5h0M128.2 218.9h0M122.6 211.2h0M116.5 209.6h0M115.3 207.9h0M101.3 214.8h0M104.6 222.3h0M113.2 217.1h0M119.2 210.8h0M115 209.4h0M119.3 208.4h0M135 204.9h0M114.5 212.1h0M119.4 207.5h0M117.4 200.9h0M120.3 211.6h0M112 207.5h0M106.6 208.3h0M100.4 209.4h0M94.9 202.2h0M119.3 204.9h0M126.2 203.5h0M118.3 219.7h0M129.4 201.8h0M87.1 233.7h0M92 270.2h0M83 231.8h0M50.3 217.8h0M96 210.8h0M58.1 218h0M78.8 240.1h0M74.1 279.6h0M72.6 267.3h0M86.3 219.9h0M81.1 277.7h0M79.9 219.7h0M67.8 273.2h0M93.4 215.9h0M92.1 271.2h0M85.8 236.4h0M105.5 261.5h0M80.6 280.9h0M74.6 232.1h0M77.2 242h0" stroke="#3a3a3a" stroke-width="0.8" stroke-linecap="square" fill="none"/>
<path d="M90.5 226.5C90.6 227.4 91.2 228.5 91.8 229.2C92.4 229.9 93.3 230.1 94 230.5C94.8 230.9 95.7 231.4 96.3 231.6C96.9 231.8 97.1 231.6 97.6 231.6C98 231.6 98.5 231.6 98.9 231.6C99.3 231.6 99.8 231.6 100.2 231.6C100.6 231.5 101.1 231.5 101.5 231.5C101.9 231.5 102.4 231.4 102.8 231.4C103.2 231.4 103.6 231.4 103.9 231.4C104.3 231.4 104.7 231.4 105.1 231.4C105.6 231.3 106 231.3 106.4 231.3C106.7 231.3 106.9 231.4 107.5 231.3C108 231.2 109 231.1 109.9 230.6C110.7 230.2 111.9 229.6 112.6 228.6C113.3 227.7 113.9 226.2 114 225C114.1 223.8 113.6 222.2 113.1 221.2C112.5 220.2 111.5 219.4 110.6 218.9C109.7 218.4 108.3 218.1 107.6 218C106.8 217.9 106.5 218 106 218C105.5 218 105 218.1 104.5 218.1C104 218.1 103.5 218.2 103 218.2C102.5 218.3 101.9 218.4 101.5 218.4C101 218.5 100.5 218.6 100.1 218.7C99.6 218.7 99.2 218.8 98.7 218.9C98.2 219 97.8 219.1 97.3 219.2C96.9 219.3 96.4 219.4 96 219.5C95.5 219.6 95.2 219.6 94.6 219.9C94.1 220.2 93.3 221 92.7 221.6C92.1 222.2 91.3 222.7 91 223.5C90.6 224.3 90.4 225.6 90.5 226.5Z" fill="#fff" fill-opacity=".92"/>
<path d="M90.5 226.5C90.6 227.4 91.2 228.5 91.8 229.2C92.4 229.9 93.3 230.1 94 230.5C94.8 230.9 95.7 231.4 96.3 231.6C96.9 231.8 97.1 231.6 97.6 231.6C98 231.6 98.5 231.6 98.9 231.6C99.3 231.6 99.8 231.6 100.2 231.6C100.6 231.5 101.1 231.5 101.5 231.5C101.9 231.5 102.4 231.4 102.8 231.4C103.2 231.4 103.6 231.4 103.9 231.4C104.3 231.4 104.7 231.4 105.1 231.4C105.6 231.3 106 231.3 106.4 231.3C106.7 231.3 106.9 231.4 107.5 231.3C108 231.2 109 231.1 109.9 230.6C110.7 230.2 111.9 229.6 112.6 228.6C113.3 227.7 113.9 226.2 114 225C114.1 223.8 113.6 222.2 113.1 221.2C112.5 220.2 111.5 219.4 110.6 218.9C109.7 218.4 108.3 218.1 107.6 218C106.8 217.9 106.5 218 106 218C105.5 218 105 218.1 104.5 218.1C104 218.1 103.5 218.2 103 218.2C102.5 218.3 101.9 218.4 101.5 218.4C101 218.5 100.5 218.6 100.1 218.7C99.6 218.7 99.2 218.8 98.7 218.9C98.2 219 97.8 219.1 97.3 219.2C96.9 219.3 96.4 219.4 96 219.5C95.5 219.6 95.2 219.6 94.6 219.9C94.1 220.2 93.3 221 92.7 221.6C92.1 222.2 91.3 222.7 91 223.5C90.6 224.3 90.4 225.6 90.5 226.5Z" fill="none" stroke="rgba(0,0,0,0.8)" stroke-width="0.5"/>
<path d="M92.3 226.2C92.4 227 92.9 227.9 93.4 228.5C93.8 229 94.6 229.3 95.2 229.6C95.8 229.9 96.5 230.2 97 230.3C97.5 230.4 97.9 230.3 98.3 230.2C98.7 230.2 99.2 230.2 99.6 230.2C100 230.2 100.5 230.1 100.9 230.1C101.4 230.1 101.8 230.1 102.2 230C102.6 230 103 230 103.4 230C103.8 229.9 104.3 229.9 104.7 229.9C105.1 229.9 105.4 229.9 105.8 229.9C106.2 229.9 106.6 229.9 107 229.9C107.4 229.9 107.7 230 108.2 229.9C108.8 229.8 109.5 229.7 110.2 229.4C110.9 229 111.8 228.6 112.3 227.8C112.8 227.1 113.3 225.9 113.4 225C113.5 224 113.1 222.8 112.7 222C112.2 221.2 111.5 220.6 110.8 220.2C110.1 219.8 109.1 219.6 108.4 219.5C107.8 219.4 107.5 219.4 107 219.5C106.5 219.5 106 219.5 105.5 219.5C105 219.5 104.5 219.6 104 219.6C103.5 219.6 103.1 219.7 102.6 219.7C102.1 219.8 101.6 219.9 101.1 219.9C100.6 220 100.2 220.1 99.8 220.1C99.3 220.2 98.9 220.3 98.4 220.4C98 220.5 97.5 220.6 97.1 220.7C96.6 220.7 96.2 220.7 95.7 220.9C95.2 221.2 94.6 221.7 94.1 222.1C93.6 222.6 92.9 223.1 92.6 223.8C92.3 224.4 92.1 225.4 92.3 226.2Z" fill="none" stroke="rgba(0,0,0,0.8)" stroke-width="0.5"/>
<path d="M94 226C94.1 226.6 94.5 227.3 94.9 227.7C95.2 228.2 95.8 228.4 96.3 228.6C96.8 228.9 97.3 229 97.7 229C98.2 229.1 98.6 229 99 229C99.4 228.9 99.9 228.9 100.3 228.9C100.7 228.8 101.2 228.8 101.6 228.8C102 228.7 102.4 228.7 102.8 228.7C103.2 228.6 103.7 228.6 104.1 228.6C104.5 228.6 104.9 228.6 105.3 228.6C105.7 228.5 106.1 228.5 106.5 228.5C106.9 228.5 107.3 228.5 107.7 228.5C108.1 228.5 108.4 228.6 108.9 228.5C109.3 228.5 109.9 228.5 110.4 228.2C110.9 228 111.6 227.6 112 227.1C112.4 226.5 112.8 225.6 112.8 224.9C112.9 224.2 112.6 223.3 112.3 222.7C111.9 222.1 111.4 221.7 110.9 221.4C110.3 221 109.7 220.9 109.2 220.8C108.7 220.7 108.3 220.8 107.8 220.8C107.3 220.8 106.8 220.8 106.3 220.8C105.9 220.8 105.4 220.8 104.9 220.9C104.5 220.9 104 220.9 103.5 221C103 221 102.6 221.1 102.1 221.1C101.7 221.2 101.2 221.2 100.8 221.3C100.3 221.4 99.9 221.4 99.4 221.5C99 221.6 98.6 221.6 98.1 221.7C97.7 221.8 97.2 221.8 96.8 222C96.4 222.1 95.9 222.4 95.5 222.7C95.1 223.1 94.6 223.5 94.3 224C94.1 224.5 93.9 225.3 94 226Z" fill="rgba(0,0,0,0.03)" stroke="rgba(0,0,0,0.8)" stroke-width="0.5"/>
<path d="M95.8 225.7C95.8 226.2 96.1 226.7 96.4 227C96.6 227.3 97.1 227.5 97.4 227.7C97.7 227.8 98 227.9 98.4 227.9C98.8 227.9 99.3 227.8 99.7 227.8C100.1 227.7 100.5 227.7 101 227.7C101.4 227.6 101.8 227.6 102.2 227.5C102.6 227.5 103 227.5 103.4 227.5C103.8 227.4 104.2 227.4 104.6 227.4C105.1 227.4 105.4 227.4 105.9 227.4C106.3 227.3 106.7 227.3 107.1 227.3C107.5 227.3 107.9 227.3 108.3 227.3C108.7 227.3 109.1 227.4 109.5 227.3C109.8 227.3 110.2 227.3 110.6 227.2C110.9 227 111.4 226.7 111.7 226.4C111.9 226 112.2 225.4 112.2 224.9C112.3 224.4 112.1 223.8 111.9 223.4C111.6 222.9 111.2 222.6 110.9 222.4C110.5 222.2 110.2 222.2 109.8 222.1C109.3 222 108.8 222 108.4 222C107.9 222 107.5 222 107 222C106.6 222 106.1 222 105.7 222C105.2 222 104.8 222.1 104.3 222.1C103.9 222.1 103.5 222.2 103 222.2C102.6 222.3 102.1 222.3 101.7 222.4C101.2 222.4 100.8 222.5 100.4 222.5C99.9 222.6 99.5 222.7 99.1 222.7C98.7 222.8 98.2 222.8 97.8 222.9C97.4 223 97.1 223.2 96.8 223.4C96.5 223.6 96.2 223.9 96 224.3C95.8 224.7 95.7 225.3 95.8 225.7Z" fill="rgba(0,0,0,0.06)" stroke="rgba(0,0,0,0.8)" stroke-width="0.5"/>
<path d="M97.5 225.5C97.5 225.7 97.7 226 97.9 226.2C98 226.4 98.2 226.5 98.4 226.6C98.6 226.7 98.7 226.7 99 226.7C99.3 226.7 99.9 226.6 100.3 226.6C100.7 226.5 101.1 226.5 101.5 226.4C101.9 226.4 102.3 226.3 102.8 226.3C103.2 226.3 103.6 226.3 104 226.2C104.4 226.2 104.8 226.2 105.2 226.2C105.6 226.2 106 226.1 106.4 226.1C106.9 226.1 107.2 226.1 107.7 226.1C108.1 226.1 108.5 226.1 108.9 226.2C109.3 226.2 109.8 226.2 110.1 226.2C110.4 226.2 110.5 226.2 110.7 226.1C110.9 226 111.2 225.9 111.3 225.7C111.5 225.5 111.6 225.1 111.6 224.9C111.7 224.6 111.6 224.2 111.4 224C111.3 223.8 111.1 223.6 110.9 223.5C110.7 223.4 110.6 223.4 110.3 223.3C110 223.3 109.4 223.2 109 223.2C108.6 223.2 108.1 223.2 107.7 223.2C107.3 223.2 106.8 223.2 106.4 223.2C105.9 223.2 105.5 223.2 105.1 223.2C104.7 223.3 104.2 223.3 103.8 223.3C103.4 223.4 102.9 223.4 102.5 223.4C102.1 223.5 101.6 223.5 101.2 223.6C100.8 223.6 100.4 223.7 100 223.8C99.5 223.8 99 223.9 98.7 223.9C98.4 224 98.3 224 98.1 224.2C98 224.3 97.8 224.4 97.7 224.7C97.6 224.9 97.5 225.2 97.5 225.5Z" fill="rgba(0,0,0,0.1)" stroke="rgba(0,0,0,0.8)" stroke-width="0.5"/>
<path d="M107 223C106.7 224.1 106.9 225.6 107.2 226.6C107.5 227.6 108.6 228.4 108.6 229C108.6 229.5 107.4 229 107.3 229.9C107.2 230.8 107.7 232.3 107.9 234.4C108.1 236.5 108.3 239.5 108.5 242.3C108.7 245.1 108.9 248.2 109.1 251.2C109.4 254.1 109.8 257.1 110.1 260C110.4 262.9 110.8 265.9 111.1 268.8C111.4 271.6 111.7 274.4 111.8 277C112 279.6 112 281.6 112.1 284.2C112.1 286.7 112.1 289.5 112.1 292.2C112.1 294.9 111.9 298.3 112.1 300.5C112.3 302.7 112.4 303.8 113.2 305.4C114 306.9 115.3 308.8 117 309.9C118.7 311 121.4 312 123.6 312C125.8 312 128.5 311 130.2 309.9C131.9 308.8 133.2 306.9 134 305.4C134.8 303.8 134.9 302.8 135.1 300.5C135.3 298.2 135.1 294.7 134.9 291.8C134.8 288.8 134.8 285.9 134.4 282.8C134 279.7 133.3 276.1 132.6 273.1C131.8 270.1 130.6 267.4 129.7 264.7C128.9 262 128.1 259.5 127.4 256.8C126.7 254.2 126.2 251.5 125.7 248.8C125.1 246.1 124.7 243.6 124.2 240.8C123.7 237.9 123.8 235.2 122.6 231.9C121.5 228.5 119.3 222.8 117.5 220.6C115.8 218.4 113.5 218.8 112.1 218.7C110.7 218.6 109.7 219.2 108.9 219.9C108 220.6 107.3 221.9 107 223Z" fill="#fff" fill-opacity=".92"/>
<path d="M107 223C106.7 224.1 106.9 225.6 107.2 226.6C107.5 227.6 108.6 228.4 108.6 229C108.6 229.5 107.4 229 107.3 229.9C107.2 230.8 107.7 232.3 107.9 234.4C108.1 236.5 108.3 239.5 108.5 242.3C108.7 245.1 108.9 248.2 109.1 251.2C109.4 254.1 109.8 257.1 110.1 260C110.4 262.9 110.8 265.9 111.1 268.8C111.4 271.6 111.7 274.4 111.8 277C112 279.6 112 281.6 112.1 284.2C112.1 286.7 112.1 289.5 112.1 292.2C112.1 294.9 111.9 298.3 112.1 300.5C112.3 302.7 112.4 303.8 113.2 305.4C114 306.9 115.3 308.8 117 309.9C118.7 311 121.4 312 123.6 312C125.8 312 128.5 311 130.2 309.9C131.9 308.8 133.2 306.9 134 305.4C134.8 303.8 134.9 302.8 135.1 300.5C135.3 298.2 135.1 294.7 134.9 291.8C134.8 288.8 134.8 285.9 134.4 282.8C134 279.7 133.3 276.1 132.6 273.1C131.8 270.1 130.6 267.4 129.7 264.7C128.9 262 128.1 259.5 127.4 256.8C126.7 254.2 126.2 251.5 125.7 248.8C125.1 246.1 124.7 243.6 124.2 240.8C123.7 237.9 123.8 235.2 122.6 231.9C121.5 228.5 119.3 222.8 117.5 220.6C115.8 218.4 113.5 218.8 112.1 218.7C110.7 218.6 109.7 219.2 108.9 219.9C108 220.6 107.3 221.9 107 223Z" fill="none" stroke="rgba(0,0,0,0.8)" stroke-width="0.6"/>
<path d="M108.2 223.3C108 224.2 108.3 225.5 108.4 226.4C108.5 227.2 109 227.8 108.9 228.2C108.9 228.7 108.2 228 108.2 229.1C108.3 230.2 109 232.4 109.3 234.7C109.5 237 109.7 240.1 109.9 243C110.2 245.8 110.4 249 110.7 251.9C111 254.9 111.4 257.8 111.8 260.8C112.2 263.8 112.6 266.9 112.9 269.7C113.3 272.5 113.6 275.2 113.8 277.8C114 280.5 114 282.9 114.1 285.6C114.1 288.3 114.1 291.2 114.2 294C114.2 296.9 114 300.5 114.2 302.6C114.3 304.7 114.4 305.3 115.1 306.6C115.7 307.8 116.8 309.4 118.2 310.3C119.6 311.2 121.8 312 123.6 312C125.4 312 127.6 311.2 129 310.3C130.4 309.4 131.5 307.8 132.1 306.6C132.8 305.3 132.9 304.7 133 302.6C133.2 300.4 133 296.7 132.9 293.7C132.9 290.7 132.8 287.9 132.5 284.8C132.2 281.7 131.8 278.3 131.1 275.2C130.4 272.1 129.3 269.2 128.4 266.3C127.6 263.5 126.8 260.9 126.1 258.2C125.4 255.4 124.9 252.6 124.3 249.9C123.8 247.1 123.4 244.5 122.9 241.6C122.4 238.7 122.4 235.9 121.4 232.6C120.5 229.3 118.4 224 117.1 221.9C115.7 219.8 114.3 220.2 113.1 220C111.9 219.8 110.6 220.1 109.8 220.7C109 221.2 108.5 222.4 108.2 223.3Z" fill="rgba(0,0,0,0.12)" stroke="rgba(0,0,0,0.8)" stroke-width="0.6"/>
<path d="M109.4 223.6C109.2 224.4 109.5 225.5 109.5 226.1C109.5 226.8 109.5 227.2 109.4 227.6C109.3 228 109 227.3 109.2 228.5C109.4 229.7 110.2 232.5 110.5 235C110.9 237.5 111 240.7 111.3 243.6C111.5 246.5 111.8 249.6 112.2 252.6C112.5 255.6 112.9 258.6 113.3 261.6C113.7 264.6 114.3 267.8 114.6 270.6C115 273.5 115.4 276.1 115.6 278.9C115.8 281.6 115.8 284.2 115.9 287C116 289.8 116 292.7 116 295.6C116 298.5 115.9 302.4 116 304.4C116.1 306.4 116.2 306.6 116.7 307.6C117.3 308.7 118.1 309.9 119.2 310.6C120.4 311.4 122.1 312 123.6 312C125.1 312 126.8 311.4 128 310.6C129.1 309.9 129.9 308.7 130.5 307.6C131 306.6 131.1 306.4 131.2 304.4C131.3 302.4 131.2 298.5 131.1 295.5C131.1 292.5 131.1 289.5 130.8 286.4C130.6 283.3 130.3 280 129.7 276.9C129.1 273.8 128.1 270.6 127.3 267.7C126.5 264.8 125.6 262.2 124.9 259.4C124.3 256.6 123.7 253.8 123.2 250.9C122.6 248.1 122.2 245.3 121.8 242.4C121.3 239.5 121.2 236.6 120.4 233.4C119.5 230.1 117.7 225.1 116.6 223.1C115.6 221.1 114.9 221.7 113.9 221.4C113 221.2 111.6 221.1 110.9 221.5C110.1 221.8 109.7 222.8 109.4 223.6Z" fill="rgba(0,0,0,0.3)" stroke="rgba(0,0,0,0.8)" stroke-width="0.6"/>
<path d="M110.7 223.9C110.3 224.5 110.3 225.4 110.2 225.9C110.1 226.5 110.1 226.9 110.1 227.2C110 227.6 109.8 226.7 110.1 228.1C110.3 229.5 111.3 232.7 111.6 235.4C112 238.1 112.1 241.2 112.4 244.2C112.7 247.2 113 250.2 113.4 253.3C113.8 256.3 114.3 259.3 114.7 262.4C115.2 265.4 115.7 268.5 116.1 271.4C116.6 274.3 117 277 117.2 279.8C117.4 282.6 117.4 285.3 117.5 288.2C117.6 291.1 117.6 294.1 117.6 297.1C117.6 300 117.5 304.1 117.6 306C117.7 307.9 117.8 307.7 118.2 308.5C118.6 309.4 119.3 310.3 120.2 310.9C121.1 311.5 122.5 312 123.6 312C124.7 312 126.1 311.5 127 310.9C127.9 310.3 128.6 309.4 129 308.5C129.4 307.7 129.5 307.9 129.6 306C129.7 304.1 129.6 300 129.6 297C129.5 294 129.5 291 129.3 287.9C129.1 284.8 128.9 281.5 128.4 278.3C127.9 275.2 127 272 126.2 269.1C125.5 266.1 124.6 263.4 123.9 260.6C123.2 257.7 122.7 254.8 122.1 252C121.6 249.1 121.2 246.2 120.7 243.2C120.3 240.2 120.2 237.3 119.4 234.1C118.7 231 117.1 226.1 116.3 224.2C115.5 222.3 115.2 223.1 114.5 222.8C113.8 222.5 112.8 222.3 112.1 222.5C111.5 222.7 111 223.3 110.7 223.9Z" fill="rgba(0,0,0,0.4)" stroke="rgba(0,0,0,0.8)" stroke-width="0.6"/>
<path d="M111.7 224.6C111.4 224.9 111.2 225.6 111.1 226C110.9 226.4 110.9 226.8 110.9 227.2C110.8 227.5 110.6 226.5 110.9 227.9C111.2 229.4 112.2 233 112.6 235.8C113.1 238.7 113.2 241.8 113.5 244.8C113.8 247.8 114.1 250.9 114.5 253.9C114.9 257 115.4 260 115.9 263.1C116.4 266.1 117 269.2 117.5 272.1C117.9 275.1 118.3 277.8 118.6 280.6C118.8 283.5 118.8 286.4 118.9 289.4C119 292.3 119 295.4 119 298.4C119 301.4 118.9 305.6 119 307.4C119.1 309.2 119.1 308.7 119.4 309.3C119.8 310 120.3 310.7 121 311.2C121.7 311.6 122.7 312 123.6 312C124.5 312 125.5 311.6 126.2 311.2C126.9 310.7 127.4 310 127.8 309.3C128.1 308.7 128.1 309.2 128.2 307.4C128.3 305.6 128.2 301.3 128.2 298.3C128.2 295.2 128.1 292.2 128 289.1C127.8 286 127.8 282.9 127.3 279.7C126.9 276.6 126.1 273.3 125.4 270.3C124.6 267.3 123.7 264.5 123.1 261.6C122.4 258.7 121.8 255.8 121.3 252.9C120.7 250 120.3 247 119.9 244C119.4 241.1 119.3 238.1 118.7 235C118 231.8 116.6 227.1 115.9 225.3C115.3 223.5 115.2 224.4 114.8 224.2C114.3 223.9 113.7 223.6 113.2 223.7C112.7 223.8 112.1 224.2 111.7 224.6Z" fill="rgba(0,0,0,0.4)" stroke="rgba(0,0,0,0.8)" stroke-width="0.6"/>
<path d="M112.6 225.4C112.3 225.7 112.1 226.1 111.9 226.4C111.8 226.7 111.7 227 111.7 227.3C111.7 227.5 111.5 226.5 111.8 228C112.1 229.5 113.1 233.4 113.5 236.3C114 239.2 114.1 242.3 114.4 245.4C114.8 248.4 115.1 251.5 115.6 254.6C116 257.7 116.5 260.7 117.1 263.7C117.6 266.8 118.3 269.8 118.7 272.8C119.2 275.7 119.6 278.6 119.8 281.5C120.1 284.4 120.1 287.4 120.2 290.4C120.2 293.4 120.2 296.5 120.3 299.5C120.3 302.6 120.2 306.9 120.3 308.7C120.3 310.4 120.3 309.6 120.6 310.1C120.8 310.5 121.2 311.1 121.7 311.4C122.2 311.7 123 312 123.6 312C124.2 312 125 311.7 125.5 311.4C126 311.1 126.4 310.5 126.6 310.1C126.9 309.6 126.9 310.4 126.9 308.7C127 306.9 127 302.6 126.9 299.5C126.9 296.4 126.9 293.4 126.8 290.3C126.7 287.2 126.6 284 126.2 280.9C125.9 277.8 125.2 274.6 124.5 271.5C123.9 268.5 123 265.6 122.3 262.7C121.6 259.7 121 256.8 120.5 253.8C120 250.8 119.5 247.9 119.1 244.9C118.7 241.8 118.5 238.8 117.9 235.7C117.3 232.6 116 228 115.5 226.2C115 224.5 115.2 225.7 114.9 225.5C114.6 225.3 114.1 225 113.8 225C113.4 225 112.9 225.2 112.6 225.4Z" fill="rgba(0,0,0,0.2)" stroke="rgba(0,0,0,0.8)" stroke-width="0.6"/>
<path d="M113.3 226.4C113.1 226.6 112.9 226.8 112.8 227C112.7 227.2 112.6 227.4 112.6 227.6C112.6 227.8 112.4 226.5 112.7 228.1C113 229.6 114 233.8 114.4 236.8C114.9 239.8 115 242.9 115.4 246C115.7 249 116.2 252.1 116.6 255.2C117.1 258.3 117.6 261.3 118.2 264.4C118.8 267.4 119.5 270.4 120 273.4C120.5 276.4 120.9 279.4 121.1 282.4C121.4 285.4 121.4 288.4 121.4 291.5C121.5 294.5 121.5 297.6 121.5 300.7C121.5 303.8 121.5 308.2 121.5 309.9C121.6 311.6 121.6 310.5 121.7 310.8C121.9 311.1 122.1 311.4 122.4 311.6C122.7 311.8 123.2 312 123.6 312C124 312 124.5 311.8 124.8 311.6C125.1 311.4 125.3 311.1 125.5 310.8C125.6 310.5 125.6 311.6 125.7 309.9C125.7 308.2 125.7 303.8 125.7 300.7C125.7 297.6 125.6 294.5 125.6 291.4C125.5 288.3 125.4 285.1 125.1 282C124.8 278.9 124.3 275.8 123.6 272.7C123 269.7 122.1 266.7 121.5 263.7C120.8 260.7 120.2 257.7 119.7 254.7C119.2 251.7 118.7 248.7 118.3 245.6C117.9 242.6 117.7 239.5 117.2 236.4C116.6 233.3 115.5 228.7 115.1 227.1C114.7 225.5 114.9 226.7 114.7 226.6C114.5 226.5 114.3 226.3 114.1 226.3C113.8 226.3 113.5 226.3 113.3 226.4Z" fill="none" stroke="rgba(0,0,0,0.8)" stroke-width="0.6"/>
</g>
<path d="M46.4 186.5V299.9M159 186.5V299.9" fill="none" stroke="#000" stroke-width="2.2"/>
<line x1="43.2" y1="187.3" x2="159" y2="187.3" stroke="#000" stroke-width="1.4"/>
<line x1="43.2" y1="299" x2="159.9" y2="299" stroke="#000" stroke-width="1.9"/>
<line x1="107.8" y1="187.3" x2="107.8" y2="299" stroke="#000" stroke-width="2.4"/>
<line x1="46.4" y1="261.8" x2="159" y2="261.8" stroke="#000" stroke-width="1.6"/>
<line x1="43.2" y1="299" x2="46.4" y2="299" stroke="#000" stroke-width="1.2"/>
<line x1="46.4" y1="299" x2="46.4" y2="301.8" stroke="#000" stroke-width="1.2"/>
<text x="41.5" y="302.4" font-size="8.1" text-anchor="end">10<tspan font-size="4.9" dy="-2.5">0</tspan></text>
<text x="45.2" y="310.7" font-size="8.1">10<tspan font-size="4.9" dy="-2.5">0</tspan></text>
<line x1="43.2" y1="271.07" x2="46.4" y2="271.07" stroke="#000" stroke-width="1.2"/>
<line x1="74.55" y1="299" x2="74.55" y2="301.8" stroke="#000" stroke-width="1.2"/>
<text x="41.5" y="274.47" font-size="8.1" text-anchor="end">10<tspan font-size="4.9" dy="-2.5">1</tspan></text>
<text x="72.9" y="310.7" font-size="8.1">10<tspan font-size="4.9" dy="-2.5">1</tspan></text>
<line x1="43.2" y1="243.15" x2="46.4" y2="243.15" stroke="#000" stroke-width="1.2"/>
<line x1="102.7" y1="299" x2="102.7" y2="301.8" stroke="#000" stroke-width="1.2"/>
<text x="41.5" y="246.55" font-size="8.1" text-anchor="end">10<tspan font-size="4.9" dy="-2.5">2</tspan></text>
<text x="100.6" y="310.7" font-size="8.1">10<tspan font-size="4.9" dy="-2.5">2</tspan></text>
<line x1="43.2" y1="215.23" x2="46.4" y2="215.23" stroke="#000" stroke-width="1.2"/>
<line x1="130.85" y1="299" x2="130.85" y2="301.8" stroke="#000" stroke-width="1.2"/>
<text x="41.5" y="218.63" font-size="8.1" text-anchor="end">10<tspan font-size="4.9" dy="-2.5">3</tspan></text>
<text x="128.3" y="310.7" font-size="8.1">10<tspan font-size="4.9" dy="-2.5">3</tspan></text>
<line x1="43.2" y1="187.3" x2="46.4" y2="187.3" stroke="#000" stroke-width="1.2"/>
<line x1="159" y1="299" x2="159" y2="301.8" stroke="#000" stroke-width="1.2"/>
<text x="41.5" y="190.7" font-size="8.1" text-anchor="end">10<tspan font-size="4.9" dy="-2.5">4</tspan></text>
<text x="160.9" y="310.7" font-size="8.1" text-anchor="end">10<tspan font-size="4.9" dy="-2.5">4</tspan></text>
<path d="M45.4 290.6h-1.6M54.9 299.9v1.6M45.4 285.7h-1.6M59.8 299.9v1.6M45.4 282.2h-1.6M63.3 299.9v1.6M45.4 279.5h-1.6M66.1 299.9v1.6M45.4 277.3h-1.6M68.3 299.9v1.6M45.4 275.4h-1.6M70.2 299.9v1.6M45.4 273.8h-1.6M71.8 299.9v1.6M45.4 272.4h-1.6M73.3 299.9v1.6M45.4 262.7h-1.6M83 299.9v1.6M45.4 257.8h-1.6M88 299.9v1.6M45.4 254.3h-1.6M91.5 299.9v1.6M45.4 251.6h-1.6M94.2 299.9v1.6M45.4 249.3h-1.6M96.5 299.9v1.6M45.4 247.5h-1.6M98.3 299.9v1.6M45.4 245.9h-1.6M100 299.9v1.6M45.4 244.4h-1.6M101.4 299.9v1.6M45.4 234.7h-1.6M111.2 299.9v1.6M45.4 229.8h-1.6M116.1 299.9v1.6M45.4 226.3h-1.6M119.6 299.9v1.6M45.4 223.6h-1.6M122.4 299.9v1.6M45.4 221.4h-1.6M124.6 299.9v1.6M45.4 219.6h-1.6M126.5 299.9v1.6M45.4 217.9h-1.6M128.1 299.9v1.6M45.4 216.5h-1.6M129.6 299.9v1.6M45.4 206.8h-1.6M139.3 299.9v1.6M45.4 201.9h-1.6M144.3 299.9v1.6M45.4 198.4h-1.6M147.8 299.9v1.6M45.4 195.7h-1.6M150.5 299.9v1.6M45.4 193.5h-1.6M152.8 299.9v1.6M45.4 191.6h-1.6M154.6 299.9v1.6M45.4 190h-1.6M156.3 299.9v1.6M45.4 188.6h-1.6M157.7 299.9v1.6" stroke="#444" stroke-width=".5" fill="none"/>
<text x="48.7" y="199.1" font-size="13.4">7</text>
<text x="158.3" y="199.1" font-size="13.4" text-anchor="end">33</text>
<text x="48.7" y="297.5" font-size="13.4">0</text>
<text x="158.3" y="297.5" font-size="13.4" text-anchor="end">60</text>
<g clip-path="url(#cp11)">
<path d="M237.1 218.5h0M217.9 224.9h0M224.7 210.9h0M226 215.4h0M235 223h0M222.6 222.2h0M221 217.5h0M218.5 229h0M223 240.8h0M223.3 229h0M242.7 219.2h0M220.4 222.9h0M222.9 212.3h0M230.5 202.2h0M211.3 205.4h0M230.4 204.1h0M205.2 222.6h0M235.7 223.2h0M223 209h0M194.1 226.6h0M242.1 227h0M222.9 213.2h0M226.3 209.6h0M221.3 234.1h0M232.9 223.6h0M219.3 229.6h0M234.3 210.2h0M218.5 203.5h0M243.9 220.7h0M220.6 221.8h0M203.2 222.7h0M232.2 213.9h0M215.4 230.6h0M220 209.3h0M220 211.3h0M230.2 221.5h0M227.6 225.1h0M198.9 225.5h0M221 216.4h0M220.3 214h0M231.4 220.6h0M214.3 230.4h0M213.2 215.7h0M216.2 227h0M211.4 232h0M231.6 225.7h0M240.2 222.3h0M226.7 217.3h0M213.6 224h0M203.4 209.8h0M234.1 224.7h0M234.1 228.1h0M215.8 235.6h0M222.3 225.5h0M206.4 218.9h0M213.6 227.8h0M238.9 230.6h0M232.5 241.7h0M231.2 223.4h0M228.5 222.5h0M223 212.7h0M215.4 214.5h0M209.6 198.1h0M234.5 222.9h0M206.9 219.3h0M222.7 212.8h0M201.2 224.6h0M231.6 213h0M209.4 218.3h0M202.1 213.9h0M232.3 226h0M229.9 218.2h0M225.9 223.4h0M215.2 227.1h0M229.7 201.7h0M232.5 224.1h0M220.4 231.5h0M222.8 222.4h0M225.7 231.3h0M224.3 219.2h0M214.5 220.3h0M229.4 219.4h0M217.7 231h0M226.8 223.5h0M218.8 230h0M232.5 219.1h0M224.3 221.5h0M223.2 227.7h0M224.7 228.4h0M222.4 218h0M223 212.6h0M223.5 219.2h0M220.3 224.3h0M236.6 228.1h0M207.3 205.6h0M208.5 224.4h0M224.5 212.5h0M217.4 221.5h0M234.6 217.7h0M226.1 227h0M212.4 229.1h0M253 231.2h0M244.4 224.3h0M226.1 219.4h0M209.2 238.8h0M212.2 221h0M224 217.1h0M220.8 218.4h0M229.5 208.9h0M211.5 227.5h0M205.9 226h0M199 216.6h0M217.2 227.3h0M216.9 209.8h0M209.6 223.8h0M220.6 212h0M207.8 237.3h0M240.6 224.5h0M196.9 216.9h0M219.1 220.9h0M224.2 231.8h0M239.2 220.9h0M225.1 227.6h0M227.4 210.4h0M209.9 218.6h0M209.5 208.4h0M234.3 227.2h0M242.1 218.5h0M217.9 226.6h0M234.4 229.7h0M211.1 228.7h0M230.6 230.4h0M211.2 226.2h0M228.7 218.3h0M226.7 229.2h0M214.4 212.2h0M232.6 223.8h0M225.7 221.7h0M212.1 213.8h0M212.5 219h0M230.6 213.6h0M218.4 211.1h0M222.9 223.3h0M218 216.8h0M228.8 216.7h0M226 219.8h0M221.2 213.3h0M222.9 213.5h0M210.3 228.2h0M230.4 222.4h0M211.2 217.1h0M220.3 199.7h0M208.8 213.3h0M211.1 224h0M221.5 233.2h0M221.9 227h0M237.7 232.7h0M222.3 218.4h0M224.1 228.1h0M238.1 224h0M225.7 230.9h0M240.4 221h0M217.4 228.6h0M229 220.2h0M231.5 222.6h0M227.6 221.5h0M228.1 212.8h0M240.8 228.4h0M208.3 223.4h0M200.5 218.9h0M238.1 211.7h0M219.5 219.8h0M209.1 237h0M220.5 223.9h0M221.4 227h0M233.6 216.2h0M218.4 209.3h0M238.9 223.8h0M234.9 233h0M208.8 220.8h0M200.2 216.5h0M215.8 212.3h0M224 218h0M225.8 211.4h0M218 215.8h0M242.9 210.3h0M209.6 228.1h0M224.4 202.9h0M206.7 210.2h0M228.7 223.9h0M213.2 208.5h0M208.9 223.1h0M226.2 242.3h0M244.5 257.6h0M222.8 244.8h0M232.5 244.9h0M233.8 255.9h0M234.5 245.9h0M216.2 270.3h0M234 255.4h0M225.4 247h0M241.5 241.2h0M246.5 214.9h0M249.3 215.8h0M223.1 226.2h0M233.3 232.5h0M246.7 239.9h0M249.9 227.9h0M235 232.7h0M229 244.3h0M250 262.2h0M225.2 237.5h0M235.2 234.8h0M238.7 248.8h0M236.8 252.9h0M240.9 245.9h0M242.1 250.5h0M230.4 237.9h0M235.4 235.1h0M264.9 273.9h0M238 246.1h0M235.7 241.6h0M234.1 256.1h0M239.5 230.5h0M249.3 231.3h0M241.7 245h0M231 219.5h0M233.6 242.5h0M246.2 257.5h0M235.8 257.4h0M253 224.6h0M239.4 224.6h0M254.2 243.7h0M239.9 242.3h0M244.7 232.8h0M222.2 235.2h0M240.2 215h0M246.3 243.7h0M242.4 253.6h0M248.5 262.6h0M239.1 250.5h0M240.9 217.2h0M232.4 208.2h0M229.6 243.6h0M239.5 256.5h0M248.4 242.3h0M239.6 232.4h0M238.3 262.7h0M237.5 233.2h0M240.1 252.2h0M237.6 246.8h0M228.9 233.7h0M245.9 233.3h0M244.3 253.5h0M248.7 270.8h0M238.4 241.9h0M239.3 257.9h0M246.4 256.3h0M234.7 238.5h0M225.8 240.3h0M249 238.6h0M233.7 262.3h0M232.2 227h0M255.1 247.2h0M236.9 258.7h0M245.2 239.7h0M243.9 238.8h0M247 245.9h0M245.9 259.2h0M244.9 243.4h0M236.7 236.2h0M245.7 261.2h0M243.3 235.8h0M236.7 253.9h0M235.7 246h0M239.7 242.1h0M240.7 244.6h0M231 257.3h0M245.2 264.5h0M254.7 210.5h0M236.9 246.7h0M247.6 227.9h0M219.3 230.1h0M230.8 251.9h0M234.2 243.8h0M225.2 234.3h0M232.9 238.4h0M237 254.4h0M254.8 274.9h0M231.6 264.8h0M244.7 243.9h0M224.8 239.2h0M238.9 230.4h0M231.7 216.2h0M232.5 237.7h0M223.5 269.8h0M236.1 258.1h0M237.6 254.3h0M243.7 256.7h0M240 216.9h0M242.6 252.9h0M243.6 223.1h0M219.2 246.1h0M229 250.2h0M241.2 255.8h0M237.2 263.7h0M247 230.6h0M243.1 230.5h0M254.5 261.1h0M228.5 244h0M247.4 250.3h0M248.5 260.3h0M218.6 222.2h0M239.1 265.1h0M258 247.8h0M238 254.5h0M221.7 240.3h0M247.1 242h0M239.6 237.3h0M247 235.7h0M227.4 233.3h0M228.2 227.4h0M238.9 254.8h0M233.7 230.9h0M250.1 227.4h0M253.2 253.7h0M241 237.2h0M232.8 255.9h0M236.1 254.1h0M221.3 252.8h0M249.5 248.4h0M239.8 253.1h0M251.3 220.2h0M235 250.1h0M246.6 236.4h0M240.7 244.6h0M244.3 254.3h0M249.9 241.5h0M228 257.1h0M239.9 243.1h0M234.5 259.5h0M224.1 228.6h0M239.5 238.2h0M248.5 258.6h0M223.9 262.2h0M240.7 252.8h0M223 252.4h0M240.3 230.3h0M236.7 237.9h0M239.9 263.6h0M257.2 246.1h0M233.2 256.5h0M233.4 248.2h0M241.3 247.2h0M245.2 260.7h0M231.3 240.1h0M234.9 227.2h0M235.2 245.1h0M231.3 274.3h0M229.8 256.1h0M212.7 255.8h0M242.3 244h0M240.9 234.8h0M256.1 242.4h0M223.9 259.5h0M235.2 231.2h0M234.1 253.2h0M250.4 227.9h0M240 263h0M245.1 237h0M246.4 236.3h0M222.7 224.6h0M239.5 270h0M240.6 278.4h0M246.1 278.2h0M233.7 281.3h0M242.3 290.8h0M218.8 293.9h0M228.1 275.2h0M247.3 275.4h0M244 289.1h0M236.6 290.5h0M242.9 293.7h0M242.4 263h0M247.6 266.7h0M237 289.1h0M238.5 268.2h0M224.5 276.5h0M244.1 277h0M255.5 258.9h0M232.1 282.8h0M245.2 300h0M259.9 284.6h0M244 280.5h0M246.7 279h0M235.6 292.1h0M243.5 270.5h0M235.2 283.8h0M232.5 287.7h0M238.6 261.1h0M260 273.1h0M257.1 289.3h0M235.3 283.5h0M232.9 279.3h0M215 272.4h0M256.1 272.8h0M208.4 284.9h0M242.5 279h0M247.2 270.6h0M227.1 266.2h0M240.6 262.6h0M258.4 276.9h0M239.7 275.9h0M214.1 281h0M234 266.5h0M220.9 292.6h0M230.8 289.3h0M245 283.5h0M238 278.2h0M249.6 269.1h0M259 271.8h0M241.9 268.6h0M241.4 276.6h0M248.2 276.4h0M251.9 295.9h0M248 298.6h0M243.4 276.9h0M244.7 280.4h0M246.7 275h0M225 289.4h0M246.1 266.2h0M222.9 260.2h0M247.1 296h0M241.9 277.9h0M249.7 294.3h0M231.9 272.1h0M221.3 264.4h0M245.9 271.9h0M241.6 274.9h0M253.9 267.3h0M230.4 279h0M232.6 281.1h0M221.4 283.7h0M249.5 305.2h0M240.2 269.1h0M235.1 268.7h0M244.5 276.6h0M229.6 286.5h0M236.9 279.3h0M241.6 280.1h0M246.7 268h0M242.7 299h0M227.7 279.3h0M239.3 281.4h0M230.4 293.1h0M257.6 275.3h0M242.4 277.4h0M231.7 281.3h0M243.5 257.1h0M244.7 269.6h0M256.6 283.1h0M241.3 276.6h0M250.1 260.1h0M244 293.4h0M242.6 282.8h0M244.1 265.6h0M245.2 286.1h0M250.7 278.9h0M247.7 276.3h0M238.6 305.4h0M230 280h0M249.8 286.5h0M227.4 289.5h0M237.5 260.9h0M227.3 287.9h0M247.2 279.9h0M248.5 277.5h0M244.6 260.4h0M237.7 292h0M235.8 261.1h0M219 263.9h0M230.8 270.3h0M242.9 279.3h0M244.6 288.2h0M227.1 280.6h0M244 284.5h0M250.3 268.2h0M243.1 304.1h0M225.9 266.4h0M229.5 274.6h0M248.9 265.6h0M238.4 278h0M242.6 275.7h0M234.5 264.3h0M246.9 278h0M234.3 256.4h0M248.8 279.4h0M241 292.6h0M240.9 268.4h0M227.5 290.5h0M236.5 282.8h0M247.5 297.7h0M231.5 271.4h0M243.6 274.2h0M225 265h0M221.7 264.8h0M203.7 281.8h0M220.4 253.1h0M221.7 270.8h0M214 272.4h0M214.5 254.7h0M215.1 270.9h0M221 250.7h0M214.6 247.5h0M210.1 250.5h0M223.4 256.5h0M224.8 263.8h0M214.1 267.1h0M218 254.2h0M220.5 243.1h0M204.3 240.6h0M201.2 281.6h0M206 270.6h0M216.4 260.1h0M207.3 282.9h0M230.9 269.6h0M216.1 280h0M225 236.9h0M211.9 257h0M211.5 271.1h0M225.3 239.1h0M221.4 280.1h0M230.1 271.1h0M213.4 275.7h0M235.7 264.5h0M215.7 259.6h0M219.1 249.6h0M226.3 254h0M215.9 259.9h0M229.4 261.1h0M218.5 256.7h0M233.2 248.2h0M212.7 274h0M236.3 292.9h0M222.1 292.6h0M208.8 260.2h0M215.4 266.2h0M215.8 273.6h0M226.6 257.2h0M203 234.3h0M205.2 281.9h0M223.1 279.3h0M202.4 240.5h0M215.9 276.1h0M224.9 260.1h0M219.1 259.7h0M218.5 265.4h0M222 279.6h0M233.6 256.2h0M232.2 239.7h0M232 245.2h0M212.8 275.5h0M216.1 246.3h0M225 270.4h0M217.1 252.3h0M209.4 284.3h0M221.6 251.1h0M222.5 273.3h0M209.8 270.9h0M216.6 265.9h0M220.7 246.5h0M222 289.6h0M223.5 262.4h0M214.4 261.2h0M223.5 263.9h0M221.3 266.9h0M218.5 278h0M222.7 286.7h0M207 265h0M211 273.8h0M226.2 265.5h0M219.4 286.3h0M211 253h0M204 250.2h0M218.6 277.2h0M215 290.3h0M219.1 245.6h0M217.7 252.1h0M212.1 260.3h0M226.9 296.9h0M223.1 269.8h0M223.5 248.3h0M217.5 260.2h0M225.2 234h0M191.4 244.2h0M211.2 227.9h0M219 222.9h0M201.1 233.7h0M210.2 224.5h0M205.2 235.5h0M210.3 226.4h0M204.5 239.3h0M195.7 237.3h0M213.4 241.5h0M193.6 226.2h0M204.7 243.7h0M202.8 234.2h0M209.8 238.1h0M191.6 223.2h0M211.9 216.2h0M205.6 237.6h0M190 231.7h0M195.2 244.5h0M206.8 223.1h0M199.9 219.8h0M196.4 227.3h0M204.2 241h0M229.3 255.9h0M191.2 227.8h0M209.5 260.3h0M215 233.3h0M191.5 238.5h0M225 234.1h0M214.4 221.5h0M206.4 217.2h0M210.2 261.9h0M213.9 249.8h0M194.2 221.1h0M215.5 239.7h0M223 253.3h0M214.2 244.8h0M220 224.1h0M217.9 223.3h0M206.2 200.3h0M209.7 243.8h0M214.8 213.9h0M194.8 220.8h0M194.2 220.4h0M209.7 206.6h0M207 243.1h0M174.2 248.2h0M219.9 222.6h0" stroke="#8c8c8c" stroke-width="0.85" stroke-linecap="square" fill="none"/><path d="M219.1 219.1h0M213.8 226.7h0M231.8 225.8h0M214.3 222.8h0M215.6 227.5h0M234.7 217h0M230.3 216.9h0M232 224.1h0M218.1 218.2h0M218.3 214.5h0M208.8 204.9h0M228.6 222.2h0M228.2 223.9h0M220 217.8h0M238.9 213h0M231.9 224.8h0M223 217.4h0M210.6 220.8h0M212 213.2h0M241.2 216.5h0M232.3 209.8h0M217.2 216.8h0M216.6 217.5h0M216.8 227.3h0M206.5 229.2h0M239.3 220h0M227.9 222.2h0M221.4 217.8h0M234.3 214.7h0M213.5 205.9h0M208.4 225.2h0M218.4 219.5h0M211.4 221.9h0M226.3 228.2h0M228.7 231.9h0M233.9 206.4h0M210.8 224.2h0M232.5 225.8h0M217.9 220h0M212.1 211.9h0M229.2 230.9h0M224.4 214.2h0M228 208.2h0M222.3 225.8h0M222 218.3h0M218.6 210.7h0M215.4 215.7h0M223.8 208.7h0M217.5 218.9h0M196.4 224.9h0M227.2 229h0M203.3 227.3h0M215.6 224.1h0M222.4 213.8h0M213.8 230.2h0M228.4 210.4h0M196.3 225.7h0M237.8 215.5h0M214.4 219.3h0M207.8 210.4h0M216.9 211.6h0M219 218.4h0M201.7 227.1h0M218.4 228.9h0M215.5 220.9h0M213.4 224h0M222.9 219h0M204.8 223.7h0M218.1 232.8h0M222.3 219.3h0M212.2 214.3h0M251 209.6h0M238 218.2h0M230.4 228.1h0M207.1 220.4h0M222.6 223.4h0M228.3 217h0M228.2 214.2h0M208.8 227.8h0M223.6 231.7h0M227.1 219.3h0M247.8 229.6h0M228.8 225.7h0M215.5 219.9h0M242.4 218.9h0M218.3 218.1h0M216.7 219.7h0M227.8 224.4h0M222.2 220.8h0M210.7 219.7h0M237.1 206.5h0M239.2 216.5h0M230.9 216.1h0M222 231.4h0M228.9 212.7h0M220.6 213.7h0M235.9 215.9h0M220.6 210h0M224.2 224.7h0M221.9 221.8h0M244.3 207.5h0M201.4 225.6h0M220.1 220.5h0M222.2 219.7h0M230 220.7h0M204.6 238.6h0M225.5 218.7h0M243.5 217.3h0M222 223h0M228.5 222h0M225.7 225h0M242.2 224.1h0M205.3 217.5h0M226.6 235.6h0M233.6 219.2h0M212.7 216.6h0M222.6 237.4h0M227.2 217.8h0M219.8 230.1h0M221.2 221.3h0M224.4 227.5h0M226.7 220.5h0M218.1 224.5h0M216.9 225.4h0M219.3 217.4h0M225.8 225.2h0M211.5 210.6h0M212.6 223.3h0M233 282h0M235.9 224.4h0M268.6 251.8h0M245.6 245.7h0M247.8 228.9h0M255.2 259.9h0M233.5 265h0M241 217.1h0M253.8 265.2h0M226.9 264.3h0M240.8 232.9h0M223.6 254.6h0M247.6 231.6h0M235.3 250.6h0M243 251.3h0M244.4 252.3h0M233.7 235.1h0M231.8 250h0M243.2 251.5h0M240.6 258.9h0M245.2 234.4h0M231.8 261.9h0M246 244.8h0M247 237h0M226.3 235h0M233 230.9h0M232.9 246.8h0M236.8 250.5h0M242 246.6h0M226.2 248.2h0M231.5 241.8h0M238.4 230.3h0M238.9 244.6h0M245.1 258.2h0M225 256.7h0M236.2 218.3h0M241.8 240.8h0M239 259.7h0M247.2 264.3h0M228.4 254.9h0M238.3 250.7h0M230.2 249.1h0M254.1 224.1h0M236.9 243.9h0M237.9 251.4h0M238.1 231h0M228.4 219.3h0M231.6 225.8h0M215.6 255.4h0M231 231h0M256.5 230.4h0M246.8 272.6h0M239.6 223.7h0M247.8 261.8h0M264.3 240.7h0M247.4 232.2h0M242.1 230.2h0M245.6 249.6h0M248.3 249.5h0M220.1 279.7h0M231.5 252.3h0M245.6 270.6h0M232.7 235.7h0M249.4 265.3h0M243.9 235.7h0M228.4 241.4h0M227.9 244h0M232.4 247.2h0M231.3 227.9h0M240.7 238.7h0M242.6 267.3h0M241.7 260.3h0M243.8 253.1h0M235.8 238h0M231.8 261.5h0M231.2 266.1h0M239.1 250.6h0M237.9 238.3h0M243.1 231.9h0M229.6 239.6h0M246.9 250.5h0M230.4 259h0M238.3 258.2h0M251.5 265.6h0M238 234.6h0M231 260h0M260.3 239.2h0M262.4 234.6h0M252.9 265.8h0M239.3 249.2h0M248 248.7h0M253.2 234.8h0M239.6 244.9h0M246.1 246.4h0M233.9 246.4h0M256.9 239.4h0M220.9 250.3h0M247.9 255.6h0M234.3 243.4h0M243.5 242.3h0M242 247.6h0M246.5 253.1h0M234 254.5h0M234.9 231.5h0M243.2 231.5h0M245.1 253.6h0M241.7 252.7h0M233.6 249.2h0M242.8 273.8h0M233.5 241.5h0M247.5 248.3h0M251.7 221.3h0M229.9 234.6h0M239 254.7h0M245 218.6h0M227.3 273.2h0M246.5 266.5h0M261.1 276h0M239.1 245.2h0M233.7 262.2h0M248.8 273.7h0M239.5 285.6h0M237.6 279.7h0M253.3 284.9h0M258.2 270.8h0M226.4 270.1h0M244.2 271.1h0M243.5 259.8h0M253.8 274.9h0M249.4 277.8h0M234.1 286.3h0M250.7 288.9h0M246.4 287.7h0M239.7 282.2h0M249 270.1h0M246 268.6h0M255 275.9h0M233.9 283.5h0M246.7 283.6h0M237.8 286.3h0M243.9 279.8h0M243.4 285h0M247 297.5h0M243.3 268h0M237.2 284.2h0M220.2 293.3h0M227.1 276.9h0M231 268.4h0M247.2 275.1h0M240.9 279.3h0M225.6 254.1h0M237.3 290h0M248.5 288h0M244.3 279.6h0M234.9 284.5h0M242.8 270.1h0M240.5 289.4h0M252 280.7h0M226.3 299.6h0M236.5 276.9h0M242.8 272.3h0M231 288.8h0M247.3 276.9h0M235.6 289.5h0M240.2 256.6h0M237.7 275.7h0M228.8 289.8h0M233.2 259.6h0M244 281.3h0M244.2 279.2h0M234.4 271.6h0M232.1 275h0M243.1 275.8h0M235.4 287.2h0M244.1 272.3h0M251.2 283.7h0M241.3 256.8h0M254 280.1h0M232.9 274.3h0M237.5 264.5h0M236.6 266.4h0M255.9 261.5h0M240.7 274.9h0M240.6 277.8h0M262.4 263.3h0M253.1 281h0M244.7 266.5h0M238.8 282.1h0M253.8 273.5h0M242.2 286.8h0M244.3 267.1h0M251.6 271h0M248.4 268.8h0M235.9 282.8h0M237.6 281.2h0M225.1 266.4h0M241.4 281.8h0M241.5 280.1h0M248.2 270.4h0M251.9 281.7h0M247.5 287.1h0M232.5 279.7h0M230.2 291.9h0M235.8 282.3h0M236.1 280.9h0M238.5 277.4h0M239.5 287.4h0M240.2 266.2h0M212.4 280.4h0M208.6 263.7h0M218.9 272.5h0M212 252.9h0M216.7 269.9h0M212.1 257h0M221.1 253.7h0M206.6 254h0M213.4 266.9h0M214.8 238.2h0M215.9 278h0M220.6 257.3h0M211.4 267.4h0M218.1 288.6h0M218.6 252.2h0M228.3 287h0M205.7 272.4h0M220.1 249.9h0M222.3 254.4h0M230 284.7h0M207.5 289.9h0M224.3 269.6h0M220.5 256.1h0M221.9 272h0M210.5 247.5h0M221.9 277h0M206.5 284.6h0M213.8 265.9h0M218.1 258.6h0M212.1 287.9h0M209.3 260.4h0M234.5 242.2h0M221 261.5h0M215.1 283.8h0M218.3 269.9h0M216 254.2h0M217.9 264.1h0M218.6 262.7h0M213.2 242.5h0M226.3 264.7h0M223.2 267.2h0M219.6 235.6h0M210.3 274.8h0M218.5 261.5h0M211.4 266h0M218 258h0M199.1 300.5h0M224.1 260.6h0M212.9 266.7h0M221 269.2h0M225.9 255.6h0M227.6 270.1h0M217.9 256.1h0M216.1 252.9h0M209.9 249.3h0M232.5 248.9h0M215.6 260h0M229.2 252.1h0M206.3 262.9h0M219.3 275h0M216.2 249.1h0M204.3 233.5h0M193.2 231.8h0M206.9 251.9h0M197.4 244.3h0M215.9 220h0M198.9 246.5h0M215.8 229h0M190.9 246.9h0M214.4 228.7h0M194.1 244h0M204.4 225.9h0M217 224.8h0M222.6 225.8h0M211.9 211.9h0M220.6 256h0M183.2 244.9h0M193.4 223.1h0M193.5 235.1h0M188.7 219.1h0M197.4 228h0M205 237.7h0M209.5 221.9h0M198.9 217.9h0M205.8 223h0M210 233.3h0M185.2 248.8h0M205.6 225.4h0M222.2 248.1h0M187.9 233.3h0M201.2 243.5h0M208.6 254.8h0" stroke="#3a3a3a" stroke-width="0.8" stroke-linecap="square" fill="none"/>
<path d="M239 254C237.2 254.1 235 254.9 233.6 255.9C232.2 256.8 231.2 258.4 230.6 259.8C229.9 261.1 229.7 262.4 229.5 263.8C229.3 265.2 229.5 266.6 229.5 268C229.5 269.4 229.4 270.8 229.4 272.2C229.4 273.6 229.3 275 229.3 276.4C229.2 277.8 229.2 279.2 229.1 280.6C229.1 282 229.1 283.4 229.1 284.8C229.1 286.1 229.1 287.6 229.1 288.9C229.1 290.3 229.2 291.6 229.2 293C229.2 294.3 229.2 295.7 229.3 297C229.3 298.4 229.1 299.7 229.3 301.1C229.5 302.5 229.7 304.2 230.5 305.6C231.3 307.1 232.5 309 234.2 310C235.9 311.1 238.4 312 240.5 312C242.6 312 245.1 311.1 246.8 310C248.5 309 249.7 307.2 250.5 305.6C251.3 304.1 251.5 302.4 251.7 300.9C251.8 299.4 251.7 298.1 251.6 296.6C251.6 295.2 251.6 293.8 251.5 292.4C251.5 290.9 251.4 289.5 251.3 288.1C251.2 286.7 251.1 285.3 251 283.9C250.9 282.5 250.8 281.1 250.6 279.7C250.5 278.4 250.3 277 250.2 275.6C250 274.2 249.9 272.8 249.8 271.5C249.6 270.1 249.5 268.7 249.4 267.3C249.3 265.9 249.4 264.5 249.1 263.2C248.8 261.8 248.5 260.5 247.8 259.2C247 257.9 246 256.4 244.5 255.5C243 254.7 240.8 253.9 239 254Z" fill="#fff" fill-opacity=".92"/>
<path d="M239 254C237.2 254.1 235 254.9 233.6 255.9C232.2 256.8 231.2 258.4 230.6 259.8C229.9 261.1 229.7 262.4 229.5 263.8C229.3 265.2 229.5 266.6 229.5 268C229.5 269.4 229.4 270.8 229.4 272.2C229.4 273.6 229.3 275 229.3 276.4C229.2 277.8 229.2 279.2 229.1 280.6C229.1 282 229.1 283.4 229.1 284.8C229.1 286.1 229.1 287.6 229.1 288.9C229.1 290.3 229.2 291.6 229.2 293C229.2 294.3 229.2 295.7 229.3 297C229.3 298.4 229.1 299.7 229.3 301.1C229.5 302.5 229.7 304.2 230.5 305.6C231.3 307.1 232.5 309 234.2 310C235.9 311.1 238.4 312 240.5 312C242.6 312 245.1 311.1 246.8 310C248.5 309 249.7 307.2 250.5 305.6C251.3 304.1 251.5 302.4 251.7 300.9C251.8 299.4 251.7 298.1 251.6 296.6C251.6 295.2 251.6 293.8 251.5 292.4C251.5 290.9 251.4 289.5 251.3 288.1C251.2 286.7 251.1 285.3 251 283.9C250.9 282.5 250.8 281.1 250.6 279.7C250.5 278.4 250.3 277 250.2 275.6C250 274.2 249.9 272.8 249.8 271.5C249.6 270.1 249.5 268.7 249.4 267.3C249.3 265.9 249.4 264.5 249.1 263.2C248.8 261.8 248.5 260.5 247.8 259.2C247 257.9 246 256.4 244.5 255.5C243 254.7 240.8 253.9 239 254Z" fill="none" stroke="rgba(0,0,0,0.8)" stroke-width="0.55"/>
<path d="M239 254.5C237.5 254.5 235.7 255.2 234.6 256C233.4 256.8 232.6 258.1 232.1 259.2C231.5 260.3 231.4 261.2 231.3 262.5C231.1 263.8 231.3 265.5 231.3 267.1C231.3 268.6 231.3 270.1 231.2 271.6C231.2 273.1 231.2 274.6 231.2 276.2C231.1 277.7 231.1 279.2 231.1 280.7C231.1 282.2 231.1 283.7 231.1 285.2C231.1 286.7 231.1 288.3 231.1 289.8C231.2 291.2 231.2 292.7 231.2 294.2C231.3 295.6 231.3 297.1 231.3 298.6C231.3 300 231.3 301.6 231.5 303C231.7 304.4 231.7 305.6 232.3 306.8C233 308 234 309.5 235.3 310.4C236.7 311.2 238.8 312 240.5 312C242.2 312 244.3 311.2 245.7 310.4C247 309.5 248 308 248.7 306.8C249.3 305.6 249.4 304.4 249.5 303C249.7 301.6 249.6 299.9 249.6 298.4C249.6 296.8 249.6 295.2 249.6 293.7C249.5 292.1 249.4 290.6 249.4 289.1C249.3 287.5 249.2 286 249.1 284.5C249 283 248.9 281.5 248.7 280C248.6 278.5 248.4 277 248.3 275.5C248.1 274 248 272.5 247.9 271C247.8 269.5 247.6 268 247.5 266.5C247.4 265 247.5 263.3 247.3 262C247 260.7 246.8 259.8 246.2 258.7C245.6 257.7 244.7 256.4 243.5 255.7C242.3 255 240.5 254.4 239 254.5Z" fill="rgba(0,0,0,0.06)" stroke="rgba(0,0,0,0.8)" stroke-width="0.55"/>
<path d="M239 254.9C237.9 255 236.5 255.5 235.6 256.1C234.7 256.8 234 257.8 233.6 258.6C233.2 259.5 233.1 260 233 261.2C232.9 262.5 233 264.5 233 266.1C233.1 267.7 233.1 269.4 233.1 271C233.1 272.6 233.1 274.3 233 275.9C233 277.6 233 279.2 233 280.8C233 282.4 233 284.1 233.1 285.7C233.1 287.3 233.1 289 233.2 290.6C233.2 292.2 233.2 293.7 233.3 295.3C233.3 296.9 233.3 298.5 233.3 300.1C233.4 301.7 233.3 303.7 233.5 305C233.6 306.3 233.6 307 234.1 307.9C234.6 308.9 235.4 310 236.5 310.7C237.5 311.4 239.2 312 240.5 312C241.8 312 243.5 311.4 244.5 310.7C245.6 310 246.4 308.9 246.9 307.9C247.4 307 247.4 306.3 247.5 305C247.7 303.6 247.6 301.7 247.6 300C247.6 298.4 247.6 296.7 247.6 295.1C247.5 293.4 247.5 291.7 247.4 290C247.3 288.4 247.2 286.8 247.1 285.2C247 283.5 246.9 281.9 246.8 280.3C246.7 278.7 246.5 277 246.4 275.4C246.3 273.8 246.1 272.2 246 270.6C245.9 268.9 245.8 267.3 245.7 265.7C245.6 264.1 245.6 262.1 245.4 260.8C245.3 259.6 245.1 259.1 244.7 258.3C244.2 257.5 243.5 256.5 242.6 255.9C241.6 255.4 240.2 254.9 239 254.9Z" fill="rgba(0,0,0,0.14)" stroke="rgba(0,0,0,0.8)" stroke-width="0.55"/>
<path d="M239 255.4C238.2 255.4 237.1 255.8 236.4 256.3C235.8 256.8 235.3 257.5 235 258.2C234.7 258.8 234.6 258.9 234.5 260.1C234.5 261.3 234.6 263.6 234.6 265.3C234.6 267.1 234.7 268.8 234.7 270.5C234.7 272.3 234.7 274 234.7 275.7C234.7 277.5 234.7 279.2 234.7 280.9C234.8 282.7 234.8 284.4 234.8 286.1C234.9 287.9 234.9 289.6 235 291.3C235 293 235 294.7 235.1 296.4C235.1 298.1 235.1 299.8 235.1 301.6C235.2 303.3 235.1 305.5 235.2 306.7C235.3 308 235.3 308.2 235.7 309C236.1 309.7 236.7 310.5 237.5 311C238.3 311.6 239.5 312 240.5 312C241.5 312 242.7 311.6 243.5 311C244.3 310.5 244.9 309.7 245.3 309C245.7 308.2 245.7 308 245.8 306.7C245.9 305.5 245.9 303.2 245.9 301.5C245.9 299.7 245.8 298 245.8 296.2C245.8 294.5 245.7 292.7 245.7 291C245.6 289.2 245.5 287.5 245.4 285.7C245.3 284 245.2 282.3 245.1 280.5C245 278.8 244.8 277.1 244.7 275.4C244.6 273.6 244.5 271.9 244.4 270.2C244.3 268.5 244.2 266.7 244.1 265C244 263.3 244 261 243.8 259.8C243.7 258.6 243.6 258.5 243.3 257.9C242.9 257.3 242.4 256.6 241.7 256.1C241 255.7 239.9 255.4 239 255.4Z" fill="rgba(0,0,0,0.2)" stroke="rgba(0,0,0,0.8)" stroke-width="0.55"/>
<path d="M239.1 255.9C238.5 255.9 237.8 256.2 237.3 256.5C236.9 256.8 236.6 257.3 236.3 257.7C236.1 258.1 236.1 257.9 236.1 259C236 260.1 236.1 262.7 236.2 264.5C236.2 266.4 236.3 268.2 236.3 270C236.3 271.9 236.3 273.7 236.4 275.6C236.4 277.4 236.4 279.2 236.5 281.1C236.5 282.9 236.6 284.8 236.6 286.6C236.7 288.4 236.7 290.2 236.8 292C236.8 293.9 236.8 295.7 236.9 297.5C236.9 299.3 236.9 301.1 236.9 303C236.9 304.8 236.9 307.3 237 308.5C237 309.6 237.1 309.5 237.3 310C237.6 310.4 237.9 311 238.5 311.4C239 311.7 239.8 312 240.5 312C241.2 312 242 311.7 242.5 311.4C243.1 311 243.4 310.4 243.7 310C243.9 309.5 244 309.6 244 308.5C244.1 307.3 244.1 304.8 244.1 303C244.1 301.1 244.1 299.3 244 297.4C244 295.5 244 293.7 243.9 291.9C243.8 290 243.8 288.2 243.7 286.3C243.6 284.5 243.5 282.6 243.4 280.8C243.3 279 243.1 277.1 243 275.3C242.9 273.5 242.8 271.6 242.7 269.8C242.6 268 242.6 266.2 242.5 264.3C242.4 262.5 242.3 259.9 242.2 258.8C242.1 257.7 242.1 257.9 241.9 257.5C241.6 257.1 241.3 256.6 240.8 256.4C240.4 256.1 239.6 255.8 239.1 255.9Z" fill="rgba(0,0,0,0.25)" stroke="rgba(0,0,0,0.8)" stroke-width="0.55"/>
<path d="M239.1 256.3C238.7 256.3 238.3 256.5 238.1 256.7C237.8 256.8 237.7 257.1 237.5 257.4C237.4 257.6 237.4 257 237.4 258.1C237.4 259.2 237.5 261.9 237.5 263.9C237.6 265.8 237.6 267.7 237.7 269.7C237.7 271.6 237.8 273.5 237.8 275.4C237.9 277.4 237.9 279.3 238 281.2C238 283.1 238.1 285.1 238.2 287C238.2 288.9 238.3 290.8 238.3 292.7C238.4 294.7 238.4 296.6 238.5 298.5C238.5 300.4 238.5 302.3 238.5 304.2C238.5 306.2 238.5 308.9 238.5 310C238.6 311.1 238.6 310.6 238.7 310.9C238.8 311.1 239.1 311.5 239.4 311.6C239.7 311.8 240.1 312 240.5 312C240.9 312 241.3 311.8 241.6 311.6C241.9 311.5 242.2 311.1 242.3 310.9C242.4 310.6 242.4 311.1 242.5 310C242.5 308.9 242.5 306.2 242.5 304.2C242.5 302.3 242.5 300.4 242.5 298.4C242.5 296.5 242.4 294.6 242.4 292.6C242.3 290.7 242.2 288.8 242.1 286.8C242.1 284.9 242 283 241.9 281.1C241.8 279.1 241.7 277.2 241.6 275.3C241.5 273.4 241.4 271.5 241.3 269.5C241.2 267.6 241.1 265.7 241.1 263.8C241 261.8 240.9 259.1 240.9 258C240.8 256.9 240.8 257.5 240.7 257.3C240.5 257 240.3 256.8 240.1 256.6C239.8 256.4 239.4 256.3 239.1 256.3Z" fill="rgba(0,0,0,0.25)" stroke="rgba(0,0,0,0.8)" stroke-width="0.55"/>
<path d="M208 224C208.3 226.1 209.6 228.5 210.9 230C212.1 231.5 214 232.2 215.6 233C217.1 233.8 218.8 234.7 220.3 235C221.8 235.3 223.5 234.7 224.6 234.6C225.7 234.5 226.7 234.5 227 234.3C227.3 234.1 226.6 233.4 226.7 233.2C226.7 232.9 227 232.4 227.2 232.8C227.4 233.2 227.7 234.4 227.9 235.7C228.1 237 228.2 239 228.4 240.7C228.5 242.4 228.6 244.2 228.7 245.9C228.8 247.7 228.8 249.5 228.9 251.3C229 253.1 228.9 255.1 229.1 256.7C229.3 258.3 229.6 259.4 230.3 260.7C231 262 232.1 263.5 233.5 264.4C235 265.3 237.2 266 239 266C240.8 266 243 265.1 244.4 264.2C245.8 263.2 246.8 261.7 247.5 260.4C248.2 259 248.4 257.9 248.5 256.3C248.7 254.7 248.5 252.7 248.5 250.9C248.5 249.1 248.5 247.3 248.5 245.4C248.5 243.6 248.5 241.7 248.4 239.8C248.4 237.9 248.5 236.3 248.3 234C248 231.8 248.2 229.1 247.2 226.2C246.2 223.3 244.7 219.3 242.2 216.7C239.7 214.1 235.4 211.8 232.4 210.7C229.4 209.5 226.5 209.8 224 209.8C221.5 209.7 219.3 209.6 217.5 210.1C215.7 210.7 214.4 212 213 213.2C211.6 214.5 209.9 215.7 209.1 217.5C208.2 219.3 207.7 221.9 208 224Z" fill="#fff" fill-opacity=".92"/>
<path d="M208 224C208.3 226.1 209.6 228.5 210.9 230C212.1 231.5 214 232.2 215.6 233C217.1 233.8 218.8 234.7 220.3 235C221.8 235.3 223.5 234.7 224.6 234.6C225.7 234.5 226.7 234.5 227 234.3C227.3 234.1 226.6 233.4 226.7 233.2C226.7 232.9 227 232.4 227.2 232.8C227.4 233.2 227.7 234.4 227.9 235.7C228.1 237 228.2 239 228.4 240.7C228.5 242.4 228.6 244.2 228.7 245.9C228.8 247.7 228.8 249.5 228.9 251.3C229 253.1 228.9 255.1 229.1 256.7C229.3 258.3 229.6 259.4 230.3 260.7C231 262 232.1 263.5 233.5 264.4C235 265.3 237.2 266 239 266C240.8 266 243 265.1 244.4 264.2C245.8 263.2 246.8 261.7 247.5 260.4C248.2 259 248.4 257.9 248.5 256.3C248.7 254.7 248.5 252.7 248.5 250.9C248.5 249.1 248.5 247.3 248.5 245.4C248.5 243.6 248.5 241.7 248.4 239.8C248.4 237.9 248.5 236.3 248.3 234C248 231.8 248.2 229.1 247.2 226.2C246.2 223.3 244.7 219.3 242.2 216.7C239.7 214.1 235.4 211.8 232.4 210.7C229.4 209.5 226.5 209.8 224 209.8C221.5 209.7 219.3 209.6 217.5 210.1C215.7 210.7 214.4 212 213 213.2C211.6 214.5 209.9 215.7 209.1 217.5C208.2 219.3 207.7 221.9 208 224Z" fill="none" stroke="rgba(0,0,0,0.8)" stroke-width="0.5"/>
<path d="M209.6 223.8C209.8 225.6 211 227.7 212.1 229.1C213.2 230.4 214.9 231.3 216.2 231.8C217.6 232.3 218.9 232 220.3 232.2C221.7 232.4 223.6 232.8 224.9 232.8C226.1 232.9 227.1 232.8 227.7 232.7C228.2 232.5 227.8 232.2 228 232.1C228.2 232.1 228.4 231.7 228.7 232.4C228.9 233.1 229.2 234.7 229.4 236.2C229.6 237.6 229.7 239.6 229.8 241.4C230 243.1 230 244.8 230.1 246.6C230.2 248.4 230.2 250.3 230.3 252.1C230.4 253.9 230.3 256.1 230.5 257.6C230.7 259.1 230.9 259.9 231.5 261C232.1 262.1 233 263.4 234.3 264.2C235.5 265 237.4 265.6 239 265.6C240.6 265.6 242.4 264.8 243.7 264C244.9 263.2 245.7 261.9 246.3 260.7C246.9 259.6 247 258.8 247.2 257.3C247.3 255.8 247.2 253.6 247.2 251.8C247.2 249.9 247.2 248.2 247.1 246.3C247.1 244.4 247.1 242.5 247 240.6C247 238.7 247 237 246.9 234.9C246.7 232.7 247 230.5 246.1 227.7C245.2 225 243.9 221 241.6 218.5C239.4 215.9 235.5 213.7 232.7 212.5C229.8 211.3 227 211.4 224.6 211.5C222.1 211.5 219.9 212.4 218.2 212.8C216.4 213.3 215.3 213.4 214 214.2C212.8 215.1 211.3 216.4 210.5 218C209.8 219.6 209.3 221.9 209.6 223.8Z" fill="rgba(0,0,0,0.03)" stroke="rgba(0,0,0,0.8)" stroke-width="0.5"/>
<path d="M211.1 223.6C211.4 225.1 212.3 227 213.3 228.1C214.2 229.3 215.7 229.9 216.9 230.5C218.1 231 219.1 231.3 220.5 231.4C221.8 231.6 223.8 231.2 225.1 231.1C226.3 231 227.4 231 228.1 231C228.8 231 228.8 230.8 229.2 231C229.5 231.2 229.8 231.2 230.1 232.2C230.4 233.1 230.7 235 230.9 236.6C231.1 238.2 231.2 240.2 231.3 242C231.4 243.8 231.5 245.6 231.5 247.4C231.6 249.2 231.7 251.1 231.7 252.9C231.8 254.8 231.7 257.1 231.9 258.5C232.1 259.9 232.2 260.4 232.7 261.4C233.2 262.3 234 263.4 235 264C236.1 264.7 237.7 265.2 239 265.2C240.3 265.2 241.9 264.6 242.9 263.9C243.9 263.2 244.6 262.1 245.1 261.1C245.6 260.2 245.7 259.6 245.8 258.2C245.9 256.8 245.8 254.5 245.8 252.7C245.8 250.8 245.8 249 245.8 247.1C245.7 245.2 245.7 243.3 245.7 241.4C245.6 239.5 245.6 237.7 245.5 235.6C245.3 233.6 245.6 231.6 244.8 229.1C244.1 226.5 243.1 222.8 241.1 220.3C239.2 217.9 235.7 215.6 233 214.4C230.3 213.2 227.4 213.4 225 213.2C222.6 213.1 220.1 213.2 218.5 213.6C216.8 213.9 216.1 214.5 215 215.4C213.9 216.2 212.6 217.2 212 218.6C211.3 219.9 210.9 222 211.1 223.6Z" fill="rgba(0,0,0,0.1)" stroke="rgba(0,0,0,0.8)" stroke-width="0.5"/>
<path d="M212.7 223.3C212.9 224.6 213.7 226.2 214.5 227.1C215.3 228.1 216.4 228.7 217.4 229.1C218.4 229.5 219.1 229.6 220.4 229.7C221.7 229.7 223.9 229.4 225.2 229.3C226.6 229.3 227.8 229.3 228.6 229.3C229.5 229.4 229.9 229.4 230.4 229.9C230.9 230.4 231.3 231.1 231.7 232.3C232 233.5 232.2 235.4 232.3 237.1C232.5 238.8 232.6 240.7 232.7 242.6C232.8 244.4 232.9 246.2 232.9 248.1C233 250 233.1 251.9 233.1 253.7C233.2 255.6 233.1 258.1 233.3 259.4C233.4 260.7 233.5 261 233.9 261.7C234.3 262.5 234.9 263.4 235.8 263.9C236.6 264.4 237.9 264.8 239 264.8C240 264.8 241.3 264.3 242.1 263.8C243 263.2 243.5 262.3 243.9 261.5C244.3 260.8 244.4 260.5 244.5 259.2C244.6 257.9 244.5 255.4 244.4 253.5C244.4 251.6 244.4 249.8 244.4 247.9C244.4 246 244.3 244 244.3 242.1C244.2 240.2 244.2 238.4 244.1 236.3C243.9 234.3 244.1 232.3 243.5 229.9C242.9 227.5 242.2 224.2 240.5 221.9C238.7 219.7 235.6 217.3 233.1 216.2C230.5 215 227.6 215.1 225.2 215C222.9 214.8 220.4 215 218.8 215.3C217.3 215.5 216.8 215.9 215.9 216.6C215 217.2 214 218.1 213.4 219.2C212.9 220.3 212.5 222 212.7 223.3Z" fill="rgba(0,0,0,0.2)" stroke="rgba(0,0,0,0.8)" stroke-width="0.5"/>
<path d="M214.3 223.1C214.4 224.2 215 225.4 215.7 226.2C216.3 227 217.3 227.5 218.1 227.8C218.9 228.1 219.3 228.2 220.5 228.2C221.7 228.2 224 227.9 225.5 227.9C226.9 227.8 228.2 227.8 229.2 228C230.2 228.2 230.9 228.4 231.5 229.2C232.1 229.9 232.7 231.1 233 232.5C233.4 233.9 233.4 235.8 233.6 237.5C233.7 239.3 233.8 241.2 233.9 243.1C234 244.9 234.1 246.8 234.1 248.7C234.2 250.6 234.2 252.5 234.3 254.4C234.4 256.3 234.4 258.9 234.5 260.1C234.6 261.4 234.6 261.4 235 262C235.3 262.6 235.8 263.3 236.4 263.7C237.1 264.1 238.1 264.4 239 264.4C239.8 264.4 240.8 264 241.5 263.6C242.1 263.1 242.6 262.4 242.9 261.8C243.2 261.2 243.2 261.2 243.3 260C243.3 258.7 243.3 256.1 243.3 254.2C243.3 252.3 243.2 250.4 243.2 248.5C243.2 246.6 243.2 244.7 243.1 242.8C243.1 240.8 243 239 242.9 236.9C242.8 234.9 242.9 232.9 242.4 230.6C241.8 228.3 241.3 225.5 239.8 223.4C238.3 221.2 235.5 218.9 233.1 217.8C230.8 216.6 227.9 216.6 225.6 216.5C223.3 216.3 220.7 216.5 219.2 216.7C217.8 216.9 217.6 217.2 216.9 217.7C216.2 218.2 215.3 218.9 214.9 219.8C214.4 220.7 214.1 222.1 214.3 223.1Z" fill="rgba(0,0,0,0.3)" stroke="rgba(0,0,0,0.8)" stroke-width="0.5"/>
<path d="M215.8 222.9C215.9 223.7 216.4 224.6 216.9 225.2C217.4 225.8 218.1 226.2 218.7 226.4C219.3 226.7 219.3 226.7 220.5 226.7C221.6 226.7 224.1 226.4 225.7 226.4C227.3 226.4 228.7 226.4 229.9 226.7C231 227.1 231.9 227.6 232.7 228.6C233.4 229.5 233.9 231 234.3 232.6C234.7 234.2 234.7 236.1 234.8 237.9C235 239.8 235.1 241.7 235.2 243.6C235.2 245.5 235.3 247.4 235.3 249.3C235.4 251.2 235.4 253.2 235.5 255.1C235.5 257 235.6 259.6 235.7 260.8C235.7 262 235.8 261.8 236 262.2C236.2 262.6 236.6 263.2 237.1 263.5C237.6 263.8 238.3 264 239 264C239.6 264 240.3 263.7 240.8 263.4C241.3 263.1 241.6 262.5 241.9 262.1C242.1 261.6 242.1 261.9 242.1 260.7C242.2 259.5 242.1 256.9 242.1 254.9C242.1 253 242.1 251.1 242 249.2C242 247.2 242 245.3 241.9 243.4C241.9 241.4 241.8 239.5 241.7 237.5C241.6 235.5 241.7 233.5 241.2 231.3C240.8 229.2 240.4 226.6 239 224.6C237.6 222.6 235.2 220.4 233 219.3C230.8 218.2 228.1 218.1 225.8 218C223.6 217.8 220.9 218.1 219.6 218.2C218.2 218.4 218.4 218.5 217.8 218.9C217.3 219.2 216.6 219.8 216.3 220.4C216 221.1 215.7 222.1 215.8 222.9Z" fill="rgba(0,0,0,0.4)" stroke="rgba(0,0,0,0.8)" stroke-width="0.5"/>
<path d="M217.4 222.7C217.5 223.3 217.8 224 218.1 224.4C218.5 224.8 219 225.1 219.4 225.2C219.8 225.4 219.6 225.4 220.7 225.4C221.8 225.4 224.5 225.1 226.1 225.1C227.8 225.2 229.4 225.2 230.7 225.8C231.9 226.3 233 227.2 233.8 228.3C234.6 229.5 235.1 231.1 235.4 232.8C235.7 234.4 235.8 236.5 235.9 238.3C236 240.2 236.1 242.1 236.2 244C236.2 246 236.3 247.9 236.3 249.8C236.4 251.7 236.4 253.7 236.5 255.6C236.5 257.5 236.5 260.2 236.6 261.4C236.7 262.5 236.7 262 236.9 262.3C237 262.6 237.3 263 237.6 263.2C238 263.4 238.5 263.6 239 263.6C239.4 263.6 239.9 263.4 240.3 263.2C240.6 263 240.9 262.6 241 262.3C241.2 261.9 241.2 262.4 241.2 261.3C241.2 260.2 241.2 257.4 241.1 255.5C241.1 253.6 241.1 251.6 241.1 249.7C241 247.8 241 245.8 240.9 243.9C240.9 241.9 240.8 240 240.7 238C240.6 236.1 240.7 234.1 240.3 232C239.9 230 239.5 227.5 238.3 225.6C237.1 223.7 235 221.6 233 220.6C231 219.5 228.4 219.4 226.2 219.2C224.1 219 221.3 219.3 220.1 219.4C218.9 219.5 219.2 219.6 218.8 219.8C218.4 220.1 218 220.5 217.8 221C217.5 221.5 217.3 222.2 217.4 222.7Z" fill="rgba(0,0,0,0.45)" stroke="rgba(0,0,0,0.8)" stroke-width="0.5"/>
<path d="M219 222.6C219 222.9 219.2 223.3 219.4 223.5C219.6 223.8 219.9 223.9 220.2 224C220.4 224.1 219.8 224.1 220.9 224.1C221.9 224.1 224.7 223.8 226.5 223.9C228.2 224 230 224.1 231.4 224.8C232.8 225.5 234.1 226.7 235 228C235.8 229.4 236.1 231.2 236.5 233C236.8 234.8 236.8 236.8 236.9 238.7C237 240.6 237.1 242.6 237.2 244.5C237.3 246.4 237.3 248.4 237.3 250.3C237.4 252.2 237.4 254.2 237.5 256.1C237.5 258 237.5 260.9 237.6 261.9C237.6 263 237.6 262.3 237.7 262.5C237.8 262.7 238 262.9 238.2 263C238.4 263.1 238.7 263.2 238.9 263.2C239.2 263.2 239.5 263.1 239.7 263C239.9 262.8 240.1 262.6 240.1 262.4C240.2 262.3 240.3 262.9 240.3 261.9C240.3 260.8 240.2 258 240.2 256.1C240.1 254.1 240.1 252.2 240.1 250.2C240 248.3 240 246.4 240 244.4C239.9 242.5 239.8 240.5 239.7 238.6C239.6 236.6 239.7 234.7 239.3 232.7C239 230.7 238.7 228.4 237.6 226.6C236.5 224.8 234.7 222.9 232.9 221.9C231.1 220.8 228.6 220.7 226.6 220.5C224.5 220.2 221.7 220.6 220.6 220.6C219.4 220.7 220.1 220.7 219.8 220.9C219.6 221 219.3 221.2 219.2 221.5C219.1 221.8 219 222.2 219 222.6Z" fill="rgba(0,0,0,0.3)" stroke="rgba(0,0,0,0.8)" stroke-width="0.5"/>
</g>
<path d="M165 186.5V299.9M277.6 186.5V299.9" fill="none" stroke="#000" stroke-width="2.2"/>
<line x1="161.8" y1="187.3" x2="277.6" y2="187.3" stroke="#000" stroke-width="1.4"/>
<line x1="161.8" y1="299" x2="278.5" y2="299" stroke="#000" stroke-width="1.9"/>
<line x1="226" y1="187.3" x2="226" y2="299" stroke="#000" stroke-width="2.4"/>
<line x1="165" y1="261.8" x2="277.6" y2="261.8" stroke="#000" stroke-width="1.6"/>
<line x1="161.8" y1="299" x2="165" y2="299" stroke="#000" stroke-width="1.2"/>
<line x1="165" y1="299" x2="165" y2="301.8" stroke="#000" stroke-width="1.2"/>
<text x="163.8" y="310.7" font-size="8.1">10<tspan font-size="4.9" dy="-2.5">0</tspan></text>
<line x1="161.8" y1="271.07" x2="165" y2="271.07" stroke="#000" stroke-width="1.2"/>
<line x1="193.15" y1="299" x2="193.15" y2="301.8" stroke="#000" stroke-width="1.2"/>
<text x="191.5" y="310.7" font-size="8.1">10<tspan font-size="4.9" dy="-2.5">1</tspan></text>
<line x1="161.8" y1="243.15" x2="165" y2="243.15" stroke="#000" stroke-width="1.2"/>
<line x1="221.3" y1="299" x2="221.3" y2="301.8" stroke="#000" stroke-width="1.2"/>
<text x="219.2" y="310.7" font-size="8.1">10<tspan font-size="4.9" dy="-2.5">2</tspan></text>
<line x1="161.8" y1="215.23" x2="165" y2="215.23" stroke="#000" stroke-width="1.2"/>
<line x1="249.45" y1="299" x2="249.45" y2="301.8" stroke="#000" stroke-width="1.2"/>
<text x="246.9" y="310.7" font-size="8.1">10<tspan font-size="4.9" dy="-2.5">3</tspan></text>
<line x1="161.8" y1="187.3" x2="165" y2="187.3" stroke="#000" stroke-width="1.2"/>
<line x1="277.6" y1="299" x2="277.6" y2="301.8" stroke="#000" stroke-width="1.2"/>
<text x="279.5" y="310.7" font-size="8.1" text-anchor="end">10<tspan font-size="4.9" dy="-2.5">4</tspan></text>
<path d="M164 290.6h-1.6M173.5 299.9v1.6M164 285.7h-1.6M178.4 299.9v1.6M164 282.2h-1.6M181.9 299.9v1.6M164 279.5h-1.6M184.7 299.9v1.6M164 277.3h-1.6M186.9 299.9v1.6M164 275.4h-1.6M188.8 299.9v1.6M164 273.8h-1.6M190.4 299.9v1.6M164 272.4h-1.6M191.9 299.9v1.6M164 262.7h-1.6M201.6 299.9v1.6M164 257.8h-1.6M206.6 299.9v1.6M164 254.3h-1.6M210.1 299.9v1.6M164 251.6h-1.6M212.8 299.9v1.6M164 249.3h-1.6M215.1 299.9v1.6M164 247.5h-1.6M216.9 299.9v1.6M164 245.9h-1.6M218.6 299.9v1.6M164 244.4h-1.6M220 299.9v1.6M164 234.7h-1.6M229.8 299.9v1.6M164 229.8h-1.6M234.7 299.9v1.6M164 226.3h-1.6M238.2 299.9v1.6M164 223.6h-1.6M241 299.9v1.6M164 221.4h-1.6M243.2 299.9v1.6M164 219.6h-1.6M245.1 299.9v1.6M164 217.9h-1.6M246.7 299.9v1.6M164 216.5h-1.6M248.2 299.9v1.6M164 206.8h-1.6M257.9 299.9v1.6M164 201.9h-1.6M262.9 299.9v1.6M164 198.4h-1.6M266.4 299.9v1.6M164 195.7h-1.6M269.1 299.9v1.6M164 193.5h-1.6M271.4 299.9v1.6M164 191.6h-1.6M273.2 299.9v1.6M164 190h-1.6M274.9 299.9v1.6M164 188.6h-1.6M276.3 299.9v1.6" stroke="#444" stroke-width=".5" fill="none"/>
<text x="167.3" y="199.1" font-size="13.4">19</text>
<text x="276.9" y="199.1" font-size="13.4" text-anchor="end">60</text>
<text x="167.3" y="297.5" font-size="13.4">1</text>
<text x="276.9" y="297.5" font-size="13.4" text-anchor="end">20</text>
<g clip-path="url(#cp12)">
<path d="M324.8 209.8h0M337.8 223.1h0M333.7 228.5h0M351.5 224.2h0M329.8 219h0M328.2 208.2h0M342.3 217.6h0M325.3 218.8h0M340.8 214.9h0M346.4 210.5h0M335.3 240.2h0M330.3 226.6h0M330.3 206.6h0M323.9 207.2h0M355.2 224.8h0M333.1 224.6h0M326.4 207.5h0M353.8 239.7h0M334.9 231.5h0M317.5 236.7h0M339.7 238.7h0M372.2 225.7h0M353.5 211.5h0M338.2 224.2h0M333.5 242h0M358.7 202.7h0M331.8 210.3h0M356.4 235.7h0M317.5 224.8h0M346.4 217.5h0M348.2 230h0M326.7 204.9h0M340.3 212h0M365.9 224.4h0M323.9 222h0M341.4 197.1h0M358.8 234.3h0M342 226.4h0M360.9 225.8h0M340.3 221.4h0M338.4 229.7h0M336.4 224.3h0M324.5 213.7h0M345.6 223h0M320.4 229.2h0M347.4 220.1h0M326.2 221.1h0M345.6 224.6h0M335.6 227.3h0M338 199.9h0M349.3 217.3h0M338.6 207.6h0M358.7 217.3h0M352.9 225.9h0M317.7 226.5h0M330.4 232h0M355.6 224.9h0M348.8 221.3h0M358.9 221.5h0M311 231.2h0M350.4 212.7h0M329.3 217.1h0M333.5 216.1h0M332.8 215.5h0M350.2 223.7h0M332.8 225.7h0M322.9 225.6h0M347.1 225.9h0M333.7 232.2h0M329.9 204.8h0M328.6 215.4h0M331.7 220.7h0M346.1 212.2h0M320.9 217.5h0M335.2 255h0M349.4 243.7h0M345.6 216.4h0M342.5 248.5h0M309.2 211.7h0M335.9 229.7h0M326.6 210.7h0M344.3 217.7h0M345.3 227.1h0M350 219.6h0M362.2 226.2h0M333.6 216.6h0M324.7 229.8h0M320.5 209.8h0M346.7 215.3h0M347.4 225.7h0M340.2 234.8h0M333.3 210.7h0M348.9 218.9h0M338.9 214.2h0M341.2 208.3h0M354.4 212h0M322.4 237.4h0M342.9 224.2h0M320.9 218h0M325.6 243.3h0M344.5 230.4h0M323.8 234.6h0M348.2 211.3h0M341.1 210.2h0M370.4 206.6h0M337.9 226.7h0M347.2 226.5h0M349.8 225.3h0M344.5 219.8h0M305.8 229.8h0M339.9 226.4h0M354.3 212.6h0M334.7 218.1h0M344.2 206.2h0M335.6 215.7h0M334 214.9h0M352.2 241.2h0M345.3 209.3h0M350.1 218.5h0M347.8 219.8h0M321.9 217.9h0M355.5 234h0M348.9 216.3h0M342.6 212.5h0M336.3 210.9h0M331.4 216.9h0M358.8 200.3h0M338 207.2h0M355.7 226.7h0M336.1 220.3h0M320.4 222.6h0M318.1 206.4h0M356.6 202.1h0M361.5 222.8h0M332.3 242.8h0M348.3 221.2h0M314.5 223.7h0M339.1 218.9h0M330.3 227.5h0M352.6 238h0M353.2 210.1h0M328.5 219.2h0M342.2 210h0M320 218.1h0M334.5 235.5h0M321.9 227.3h0M353.9 235.9h0M345.9 221.6h0M351.8 221.7h0M337.5 239.1h0M332 229.2h0M336.9 221.6h0M370.1 228.6h0M351 226.2h0M354.6 200.6h0M341 233.3h0M329.6 206.3h0M362.7 229.1h0M360.1 215.4h0M332.3 218.2h0M333.5 215.6h0M363.8 210.9h0M349.7 236.3h0M345.2 240.4h0M332.2 246.9h0M359.2 209.2h0M352.4 207h0M347.3 205h0M341.2 215.7h0M353.7 240.8h0M334.3 215h0M360 210.8h0M357.7 232.8h0M335.8 221h0M333.9 222.1h0M347.8 226.9h0M354.3 222.3h0M351.6 221.9h0M322.9 215.7h0M344.9 236.5h0M324.4 229.9h0M338.2 214h0M356.1 242h0M334.8 210.5h0M334.1 218.9h0M342.3 214.4h0M346.6 223.6h0M323.2 209.1h0M334.9 216.7h0M332.4 226.4h0M337.6 228.9h0M348.6 216.6h0M345.9 254.7h0M349 225.7h0M358.9 254.8h0M364.3 271.5h0M352 256.2h0M353.8 265.8h0M334.3 239.5h0M356 266.1h0M344.8 268.2h0M361.2 248.8h0M345.5 265.4h0M341.5 254.2h0M336.7 258h0M353.3 240.8h0M338.8 242.7h0M358.7 258.8h0M340.8 231.8h0M345.2 236.4h0M369.3 247.6h0M342.5 243h0M342.6 270.3h0M341.3 253.4h0M363.8 266.4h0M341.1 265.4h0M358 248.5h0M345.1 234.6h0M356.1 258.1h0M340.1 258h0M359.7 250.6h0M362.7 278.7h0M354.5 249h0M341.3 261.8h0M368.4 262.3h0M368 231h0M354.5 249.4h0M354.5 249.8h0M361.6 265.4h0M361.2 244.8h0M349.1 264.6h0M338.7 245.8h0M347.1 266.8h0M342.2 251.7h0M357.5 254.6h0M339.2 269.8h0M352.3 253h0M351 283h0M362.6 250.5h0M343.4 241h0M360.9 237.3h0M337 270.7h0M342.9 257.6h0M352 254.5h0M364 254.6h0M360.2 265h0M359.9 226.2h0M349.5 248.6h0M356.5 257h0M349.7 256.6h0M351.7 274.6h0M354.7 259.7h0M350.3 260.6h0M362.1 268.6h0M346.2 266.9h0M368.5 250.1h0M347.3 256.2h0M348.1 236.4h0M349.9 265.2h0M342.1 236.3h0M354.3 253.2h0M354 262h0M358.3 244.5h0M350.1 253.2h0M350.6 243.6h0M355.2 267.9h0M364 253.3h0M336.5 274.8h0M375.2 244.7h0M360.1 258.6h0M372 239.4h0M352.4 250.6h0M369.7 266.6h0M347.6 267.3h0M333.3 276.2h0M358.3 266.9h0M344.9 258.9h0M351.7 291.6h0M362.4 275.1h0M349 238.8h0M356.3 254.1h0M352.5 236.7h0M364.9 260.1h0M355.9 249.8h0M339.6 259.5h0M357.3 253.6h0M359.3 233.4h0M351.1 274h0M343 234.6h0M360.1 261.6h0M360.7 241.7h0M356.3 277.9h0M347.4 278.1h0M342.5 263.3h0M356.2 267.2h0M345.9 245.2h0M350.9 253.5h0M350.2 253.3h0M360.5 262.4h0M349.1 265.7h0M363.4 273.6h0M357.9 289.5h0M354.7 289.1h0M337.7 304h0M356.8 282.7h0M358.4 295.6h0M337 286.9h0M363.9 278.2h0M353.9 277.6h0M344.5 268.8h0M353 302.7h0M331.5 253.7h0M349.9 278.6h0M346.3 282.8h0M345 277.8h0M352.9 300.6h0M354.7 284.3h0M331 293.1h0M341 280.8h0M352.6 281h0M348.6 280.3h0M347.2 293.4h0M340.9 281.3h0M339.7 296.4h0M338.5 287.5h0M330.4 294.5h0M344.6 277.3h0M346.2 291.9h0M344.1 276.5h0M355.3 278.7h0M336.3 290.7h0M345.6 276.2h0M369 283.3h0M353.5 278.7h0M345.7 280.9h0M343.6 289.4h0M349.9 292.3h0M359 283.1h0M344.4 292.1h0M345.1 279.3h0M352 293.2h0M343.7 273h0M346.1 269.5h0M338.7 291.7h0M356 289.8h0M350.4 279.2h0M339.9 275.7h0M338.2 287.2h0M356.7 285h0M331 281.7h0M337.4 268.6h0M355 290h0M352.8 301.2h0M348.5 276.4h0M359.4 264.7h0M337.7 276h0M345.8 277.8h0M340.9 297.6h0M348.3 284.2h0M339.2 273h0M322.6 283.8h0M358.2 272.7h0M353.1 298.5h0M362.6 272.5h0M348.7 287.2h0M355.1 291.3h0M356.6 290.3h0M343.5 286.5h0M347.1 276h0M366.8 306h0M342.4 278h0M349.7 282.5h0M343.6 296.5h0M347.1 292.9h0M347.2 276.6h0M344.7 296.5h0M358.2 288.3h0M342.1 285.1h0M335.1 292.8h0M366.3 273.2h0M350.3 291.5h0M375.9 294.3h0M348.5 274.6h0M353.7 271.8h0M351.7 272.2h0M359.4 284.2h0M348.6 273h0M355.8 282.8h0M365 292.2h0M337.8 274.5h0M355.5 294.3h0M338.8 281.7h0M339.5 268.3h0M352.3 279.5h0M349.5 286.5h0M345.7 281.1h0M354.4 294.5h0M356.4 288.2h0M343.5 291.5h0M360.5 290.2h0M350.6 280.3h0M362.9 277.1h0M338.7 285.5h0M331.1 277.4h0M338.5 297.3h0M320.1 266.3h0M343.9 261.4h0M330.8 280.2h0M342.6 252.4h0M317.9 247.3h0M338.1 263.2h0M351 280.1h0M330.1 262.5h0M332.6 240.7h0M344.1 238.8h0M337.7 254.4h0M330.8 260.2h0M325.5 248.4h0M331.5 281.9h0M335.9 265h0M342.9 263.6h0M333.6 262.5h0M335.2 268.8h0M328.8 264h0M331.8 293.3h0M335.4 261.3h0M325.8 256.2h0M345.2 293.8h0M340.4 254.4h0M329.3 274.6h0M350.5 256.3h0M330.7 247.8h0M331.7 273.9h0M314.8 270.1h0M337.2 255.7h0M338.1 252.8h0M335.5 278.5h0M328.8 254.5h0M336.4 245.2h0M332.5 264.8h0M344.2 280.2h0M318.8 246.2h0M343.7 275.4h0M323.7 267.1h0M341.6 264.4h0M343.1 249.7h0M317.9 260h0M335.3 275.1h0M328.7 264h0M325.8 268.1h0M333.9 271.5h0M339.5 285.5h0M317.8 287.5h0M326 283.4h0M347.4 262.6h0M319.6 282.6h0M330.4 273h0M328 290.5h0M335.6 287.4h0M327.8 265.2h0M321.8 278h0M341.7 271.2h0M333.9 221h0M317.5 239.1h0M321.4 246h0M322.7 230.7h0M323.3 242.7h0M315.3 239.9h0M306.1 239.3h0M332 225.3h0M319.1 219.8h0M322.7 251.7h0M323.2 218.4h0M326.1 277.3h0M317.9 231.4h0M320.3 239h0M321.5 221.5h0M316.6 248.9h0M322.2 255.6h0M317.6 259.5h0M314.6 248.8h0M318.5 256.9h0M321 224.5h0M330.1 250.8h0M326.9 223h0M323 225.9h0M325 261.3h0M324.5 261.8h0M301.4 228.1h0M323.3 246h0M341.5 229h0M319.9 247.5h0M312.4 246.6h0M313.6 256h0M316.7 246.4h0M315.5 253.7h0M328.4 261.4h0M323.5 224h0" stroke="#8c8c8c" stroke-width="0.85" stroke-linecap="square" fill="none"/><path d="M331.5 227.9h0M325.4 238.5h0M327.5 234.1h0M335.7 232.1h0M331.1 211.5h0M358.2 207h0M325.7 240h0M356.8 237.2h0M337.3 213.9h0M345.6 219.4h0M314.7 227.4h0M320.2 216.1h0M328.7 200.3h0M349.9 211.4h0M315.8 208.2h0M342.1 227.2h0M325.4 217.1h0M314 225.5h0M362.8 228.8h0M356.9 223.2h0M352.1 211.2h0M346.2 209h0M324.9 225.4h0M328.4 218.3h0M320 224.2h0M323.3 214h0M349.3 217h0M336.2 219h0M349.3 231.4h0M355.9 223.3h0M331.3 215h0M331.5 217.9h0M365.3 240.4h0M352.8 219.8h0M364.6 224h0M340.2 217.1h0M369.9 225.9h0M350.8 214.7h0M354.9 210h0M339.5 226.1h0M342.5 208.3h0M345.1 212.4h0M326.4 224.3h0M342.2 222.6h0M363.6 234.1h0M343.6 238.8h0M343.9 219h0M326.5 218.8h0M343.4 216.1h0M335.5 215.7h0M328.1 215.7h0M333.3 217.7h0M335.4 208.7h0M314.7 222.3h0M346.5 216.4h0M342.3 230.5h0M355.9 214.5h0M334 220.4h0M357.9 215.4h0M358.3 217.7h0M319.4 234.9h0M330.9 229.8h0M340.5 246.1h0M336.7 222h0M337.9 217.7h0M331.2 200h0M333.1 218.5h0M342 220.6h0M357.7 234.2h0M336.8 220.4h0M328.4 228.1h0M332.2 211.4h0M323 219.8h0M331.7 221.2h0M348.2 216h0M358 233.9h0M323.4 213.8h0M341.6 224.1h0M321.5 230.9h0M336.9 216.1h0M341.7 224.2h0M332 218.3h0M344.7 227.5h0M330.6 223.1h0M346.2 225.3h0M318.3 233.6h0M370.4 219.5h0M369.4 236.5h0M351.1 230.4h0M325.9 218.8h0M344 216.8h0M357.4 204.9h0M351.5 218.3h0M358.2 231.7h0M349.5 236.1h0M346 223.9h0M329.2 212.3h0M335 229.9h0M335 225.1h0M330.5 226.9h0M352.4 218.3h0M335.7 230h0M348.4 233.6h0M327.7 227.3h0M339 215.1h0M356.2 216.5h0M328.5 208.6h0M355.1 213.2h0M351.4 207.6h0M348 218.3h0M307.6 226.4h0M324 233.7h0M340.6 210.3h0M334.8 211.6h0M327.2 237.8h0M332.6 224.2h0M347.5 206.2h0M334.8 203.5h0M332.9 225.7h0M323.5 245.8h0M352.8 222.6h0M353.3 215.8h0M333 195.6h0M360.2 230.9h0M345 215.8h0M308.7 229.1h0M343.2 222.6h0M340.3 208.6h0M349.3 242.1h0M344.9 255h0M361.5 266.8h0M351.6 269.2h0M349.8 252.6h0M351.2 248.4h0M344.5 253h0M337.9 248.6h0M343.7 275.2h0M358.5 244.5h0M344.7 246.4h0M354.7 229h0M343.6 220h0M344.5 262h0M351.7 249.4h0M369.7 244.2h0M367.1 242.6h0M363.5 247.6h0M365.9 257.8h0M344.2 278.4h0M343.4 257.5h0M348.4 260.9h0M343.2 274.2h0M349 248.7h0M345.9 239.9h0M342.9 245.8h0M347.5 242.5h0M341.6 253.2h0M338.6 248.9h0M368.3 258.5h0M350.3 245.4h0M357.3 243.1h0M357.1 256.6h0M362.6 264.1h0M346.3 262.3h0M377.9 241.3h0M340 237.6h0M350.9 245.1h0M344.7 274h0M362.1 257h0M351.9 245h0M349.1 265.5h0M363 241h0M348.9 255.5h0M341.5 264.9h0M354 232h0M356.4 244.1h0M350.9 249.7h0M355.1 255.2h0M355.3 239.7h0M363.8 240h0M353.6 283.4h0M345 262.1h0M350.9 236.2h0M334.6 262.9h0M344.2 233.4h0M358.3 258.2h0M352.9 290.7h0M344.9 252.9h0M348.5 259.3h0M352.1 245.3h0M345.1 265.5h0M348.9 258.5h0M349.8 259.8h0M354.1 252.5h0M333 235.6h0M349 238.7h0M359.7 245.5h0M368.1 263.7h0M346.3 256.9h0M360.9 262.6h0M346.8 276h0M348 279.6h0M378.1 310.9h0M351.2 286.8h0M362.7 272.9h0M349.8 280.8h0M369.5 265.6h0M355.6 280.8h0M349.1 282.5h0M356 288.8h0M359 293.2h0M354 280.7h0M335.8 279h0M368.6 272.3h0M355.4 273.2h0M353.1 289.4h0M349.2 292.6h0M362.1 281.6h0M355.1 276.9h0M336.4 280h0M364.9 274.7h0M340 287.9h0M346.3 309.5h0M368.1 262.9h0M349.9 287.6h0M343.9 275.6h0M348 284h0M337.9 279.3h0M351.6 287.8h0M358.5 282.7h0M345.6 271.3h0M351.1 295.5h0M350.7 279.5h0M340.3 293.5h0M365.5 277.8h0M337.8 273.1h0M349.3 262.3h0M347 299.5h0M346 288.9h0M349.9 268h0M353.9 284.2h0M349.2 280.7h0M364.2 285.5h0M358.1 278.9h0M347 278.6h0M350.9 291.7h0M346.8 273h0M347.4 280.1h0M353.1 267.6h0M338.9 286h0M352.4 253.1h0M342.5 281.1h0M356.8 293.6h0M349.6 290.9h0M350.8 289.3h0M337.9 276h0M351.5 277.7h0M348.6 277.9h0M347.9 267.9h0M354.3 285.3h0M351.4 280.8h0M341.7 291.2h0M362.9 297.7h0M342.3 277.5h0M350.9 282.7h0M369.3 278.6h0M330.6 263.3h0M356.2 279.6h0M357.1 294.8h0M335 275.2h0M328.5 275.8h0M326.9 274.6h0M324.9 264.8h0M344.2 246.8h0M335.5 239.4h0M316.4 252h0M328.5 253.1h0M334.5 276.3h0M323.3 287.5h0M344.8 254.2h0M326.3 293.2h0M324.3 252.1h0M332.1 259.7h0M336.3 252.6h0M325.4 272.7h0M319.1 257.7h0M322.8 258.2h0M344.6 282.8h0M335.6 258.6h0M342.7 262.2h0M337.2 282h0M333.6 279.6h0M344.4 289.8h0M322.9 250.6h0M334.2 255.4h0M328.5 258.1h0M341.3 287.6h0M328.8 281.3h0M324.1 271h0M326.6 276.9h0M334.9 268.1h0M335.9 282.2h0M341.7 264h0M340.2 267.9h0M323.8 295.4h0M339.8 279.1h0M331.3 265.3h0M311.1 258.5h0M316.8 265h0M329.8 246.4h0M319.2 218.7h0M321.6 216.5h0M319.1 249.6h0M334.2 243.6h0M323.6 240.2h0M331.7 242.4h0M323.8 233.9h0M317.7 243.4h0M327.4 249.8h0M320.8 241.9h0M322.6 241.4h0M306.8 224.3h0M328.2 240.2h0M333.3 232.2h0M324.6 233.5h0M312.4 243h0M312.8 264.4h0M317.4 246.1h0M310.9 245.3h0M313.5 247.5h0M305.2 194.3h0M322.3 247.3h0M317.1 245.8h0" stroke="#3a3a3a" stroke-width="0.8" stroke-linecap="square" fill="none"/>
<path d="M358 236C356.9 236.3 355.7 237.1 355 237.9C354.3 238.6 354 239.7 353.8 240.6C353.7 241.5 353.8 241.8 354.1 243.2C354.5 244.5 355.4 246.8 355.9 248.7C356.4 250.5 356.8 252.3 357.1 254.2C357.4 256.1 357.7 258 357.9 260C358.1 261.9 358.2 264 358.4 266C358.5 268 358.6 270 358.6 271.9C358.7 273.9 358.7 276 358.7 277.9C358.7 279.9 358.8 281.9 358.8 283.9C358.8 285.9 358.8 287.9 358.9 290C358.9 292 358.9 294.7 358.9 296C359 297.3 359.1 297.1 359.4 297.7C359.7 298.2 360.1 298.9 360.7 299.3C361.3 299.7 362.2 300 363 300C363.8 300 364.7 299.7 365.3 299.3C365.9 298.9 366.3 298.2 366.6 297.7C366.9 297.1 367 297.3 367.1 296C367.1 294.7 367.1 292 367.1 290C367.1 287.9 367.2 285.9 367.2 283.9C367.1 281.8 367.1 279.8 367.1 277.8C367 275.7 366.9 273.7 366.8 271.7C366.8 269.6 366.7 267.6 366.6 265.6C366.5 263.5 366.5 261.5 366.4 259.5C366.3 257.4 366.3 255.3 366.2 253.2C366.1 251.1 365.9 248.9 365.7 246.8C365.4 244.6 365.1 241.9 364.8 240.5C364.5 239 364.4 238.8 363.9 238.1C363.3 237.4 362.5 236.6 361.5 236.2C360.6 235.9 359.1 235.7 358 236Z" fill="#fff" fill-opacity=".92"/>
<path d="M358 236C356.9 236.3 355.7 237.1 355 237.9C354.3 238.6 354 239.7 353.8 240.6C353.7 241.5 353.8 241.8 354.1 243.2C354.5 244.5 355.4 246.8 355.9 248.7C356.4 250.5 356.8 252.3 357.1 254.2C357.4 256.1 357.7 258 357.9 260C358.1 261.9 358.2 264 358.4 266C358.5 268 358.6 270 358.6 271.9C358.7 273.9 358.7 276 358.7 277.9C358.7 279.9 358.8 281.9 358.8 283.9C358.8 285.9 358.8 287.9 358.9 290C358.9 292 358.9 294.7 358.9 296C359 297.3 359.1 297.1 359.4 297.7C359.7 298.2 360.1 298.9 360.7 299.3C361.3 299.7 362.2 300 363 300C363.8 300 364.7 299.7 365.3 299.3C365.9 298.9 366.3 298.2 366.6 297.7C366.9 297.1 367 297.3 367.1 296C367.1 294.7 367.1 292 367.1 290C367.1 287.9 367.2 285.9 367.2 283.9C367.1 281.8 367.1 279.8 367.1 277.8C367 275.7 366.9 273.7 366.8 271.7C366.8 269.6 366.7 267.6 366.6 265.6C366.5 263.5 366.5 261.5 366.4 259.5C366.3 257.4 366.3 255.3 366.2 253.2C366.1 251.1 365.9 248.9 365.7 246.8C365.4 244.6 365.1 241.9 364.8 240.5C364.5 239 364.4 238.8 363.9 238.1C363.3 237.4 362.5 236.6 361.5 236.2C360.6 235.9 359.1 235.7 358 236Z" fill="none" stroke="rgba(0,0,0,0.8)" stroke-width="0.5"/>
<path d="M358.4 237.6C357.6 237.8 356.8 238.3 356.3 238.8C355.8 239.4 355.6 240.1 355.5 240.7C355.4 241.3 355.3 241.2 355.6 242.5C356 243.7 356.9 246.3 357.3 248.3C357.8 250.2 358.2 252.1 358.5 254.1C358.8 256.1 359 258.1 359.2 260.1C359.4 262.1 359.5 264.2 359.6 266.3C359.7 268.3 359.8 270.4 359.9 272.4C359.9 274.5 359.9 276.6 360 278.6C360 280.7 360 282.7 360.1 284.8C360.1 286.9 360.1 288.9 360.1 291C360.1 293.1 360.1 296 360.2 297.2C360.3 298.4 360.3 298 360.5 298.4C360.7 298.8 361 299.2 361.4 299.5C361.8 299.8 362.5 300 363 300C363.5 300 364.2 299.8 364.6 299.5C365 299.2 365.3 298.8 365.5 298.4C365.7 298 365.7 298.4 365.8 297.2C365.9 296 365.9 293.1 365.9 291C365.9 288.9 365.9 286.8 365.9 284.8C365.9 282.7 365.9 280.6 365.8 278.5C365.8 276.4 365.7 274.3 365.6 272.3C365.6 270.2 365.4 268.1 365.4 266C365.3 263.9 365.2 261.9 365.1 259.8C365.1 257.7 365 255.5 364.9 253.4C364.7 251.3 364.5 249 364.2 246.9C363.9 244.8 363.4 241.9 363.1 240.6C362.8 239.3 362.8 239.5 362.4 239C362.1 238.5 361.5 238 360.8 237.7C360.2 237.5 359.1 237.4 358.4 237.6Z" fill="none" stroke="rgba(0,0,0,0.8)" stroke-width="0.5"/>
<path d="M358.8 239.1C358.4 239.2 357.9 239.5 357.6 239.8C357.3 240.1 357.2 240.6 357.1 240.9C357.1 241.2 356.9 240.7 357.2 241.9C357.5 243.1 358.3 245.9 358.8 247.9C359.2 250 359.6 252 359.9 254.1C360.1 256.1 360.3 258.2 360.5 260.3C360.6 262.4 360.8 264.5 360.9 266.6C361 268.8 361.1 270.9 361.1 273C361.2 275.1 361.2 277.2 361.2 279.3C361.3 281.4 361.3 283.6 361.3 285.7C361.3 287.8 361.3 289.9 361.4 292C361.4 294.2 361.4 297.2 361.4 298.4C361.4 299.6 361.4 298.9 361.5 299.1C361.7 299.3 361.8 299.6 362.1 299.7C362.3 299.9 362.7 300 363 300C363.3 300 363.7 299.9 363.9 299.7C364.2 299.6 364.3 299.3 364.5 299.1C364.6 298.9 364.6 299.6 364.6 298.4C364.6 297.2 364.6 294.2 364.6 292C364.6 289.9 364.7 287.8 364.7 285.7C364.6 283.5 364.6 281.4 364.6 279.3C364.6 277.1 364.5 275 364.4 272.9C364.3 270.7 364.2 268.6 364.2 266.5C364.1 264.4 364 262.2 363.9 260.1C363.8 258 363.7 255.8 363.5 253.7C363.3 251.5 363 249.3 362.7 247.2C362.4 245 361.8 242 361.5 240.8C361.2 239.6 361.3 240.2 361.1 239.9C360.9 239.6 360.5 239.3 360.1 239.2C359.8 239.1 359.2 239 358.8 239.1Z" fill="none" stroke="rgba(0,0,0,0.8)" stroke-width="0.5"/>
<path d="M320.2 210.6C321.9 208.4 325.8 206.8 328.8 205.8C331.9 204.8 335.3 204.8 338.5 204.6C341.7 204.4 345.1 204.2 348 204.6C350.9 204.9 353.6 205.5 355.8 206.7C358.1 207.8 360.1 209.4 361.5 211.5C362.9 213.6 363.9 216.3 364.4 219.2C364.9 222.1 364.8 225.9 364.6 228.8C364.5 231.7 364.6 234.5 363.5 236.5C362.4 238.5 360.3 240.7 357.7 241C355.1 241.3 351.2 239.2 348 238.5C344.8 237.8 341.4 237.3 338.5 236.5C335.6 235.7 333.4 235.3 330.8 233.7C328.2 232.1 325 229.4 323 227C321 224.6 319.2 221.9 318.7 219.2C318.2 216.5 318.5 212.8 320.2 210.6Z" fill="#fff" fill-opacity=".92"/>
<path d="M320.2 210.6C321.9 208.4 325.8 206.8 328.8 205.8C331.9 204.8 335.3 204.8 338.5 204.6C341.7 204.4 345.1 204.2 348 204.6C350.9 204.9 353.6 205.5 355.8 206.7C358.1 207.8 360.1 209.4 361.5 211.5C362.9 213.6 363.9 216.3 364.4 219.2C364.9 222.1 364.8 225.9 364.6 228.8C364.5 231.7 364.6 234.5 363.5 236.5C362.4 238.5 360.3 240.7 357.7 241C355.1 241.3 351.2 239.2 348 238.5C344.8 237.8 341.4 237.3 338.5 236.5C335.6 235.7 333.4 235.3 330.8 233.7C328.2 232.1 325 229.4 323 227C321 224.6 319.2 221.9 318.7 219.2C318.2 216.5 318.5 212.8 320.2 210.6Z" fill="none" stroke="rgba(0,0,0,0.8)" stroke-width="0.5"/>
<path d="M321.9 211.2C323.5 209.1 327 207.7 329.8 206.8C332.7 205.8 335.8 205.8 338.8 205.7C341.7 205.5 344.9 205.3 347.5 205.7C350.2 206 352.6 206.5 354.7 207.6C356.8 208.6 358.6 210.1 359.9 212C361.3 213.9 362.1 216.4 362.6 219.1C363.1 221.7 362.9 225.3 362.8 227.9C362.6 230.6 362.8 233.1 361.8 235C360.7 236.9 358.8 238.8 356.4 239.1C354.1 239.5 350.5 237.5 347.5 236.8C344.6 236.2 341.4 235.7 338.8 235C336.1 234.3 334.1 233.9 331.7 232.4C329.3 231 326.4 228.5 324.5 226.3C322.7 224 321 221.6 320.6 219.1C320.1 216.6 320.4 213.2 321.9 211.2Z" fill="none" stroke="rgba(0,0,0,0.8)" stroke-width="0.5"/>
<path d="M323.7 211.8C325.1 209.9 328.3 208.6 330.9 207.7C333.5 206.9 336.4 206.9 339 206.7C341.7 206.5 344.6 206.4 347 206.7C349.4 207 351.7 207.5 353.6 208.5C355.5 209.4 357.2 210.8 358.4 212.5C359.6 214.3 360.4 216.6 360.8 219C361.2 221.4 361.1 224.6 361 227C360.8 229.5 361 231.8 360 233.5C359.1 235.2 357.3 237 355.2 237.3C353 237.6 349.7 235.8 347 235.2C344.3 234.6 341.5 234.2 339 233.5C336.6 232.8 334.7 232.5 332.6 231.2C330.4 229.8 327.7 227.6 326 225.5C324.3 223.5 322.8 221.3 322.4 219C322 216.7 322.3 213.6 323.7 211.8Z" fill="rgba(0,0,0,0.02)" stroke="rgba(0,0,0,0.8)" stroke-width="0.5"/>
<path d="M325.4 212.3C326.7 210.6 329.6 209.4 331.9 208.7C334.3 207.9 336.9 207.9 339.3 207.8C341.7 207.6 344.3 207.5 346.5 207.8C348.7 208 350.8 208.5 352.5 209.4C354.2 210.2 355.7 211.4 356.8 213C357.9 214.6 358.6 216.7 359 218.9C359.4 221.1 359.3 224 359.2 226.2C359 228.4 359.2 230.5 358.3 232C357.4 233.6 355.9 235.2 353.9 235.4C351.9 235.7 349 234.1 346.5 233.5C344.1 233 341.5 232.6 339.3 232C337.1 231.4 335.4 231.1 333.5 229.9C331.5 228.7 329.1 226.6 327.5 224.8C326 223 324.6 220.9 324.3 218.9C323.9 216.8 324.1 214 325.4 212.3Z" fill="rgba(0,0,0,0.04)" stroke="rgba(0,0,0,0.8)" stroke-width="0.5"/>
<path d="M327.1 212.9C328.3 211.4 330.9 210.3 333 209.6C335.1 209 337.4 209 339.6 208.8C341.8 208.7 344.1 208.6 346 208.8C348 209.1 349.8 209.5 351.3 210.3C352.9 211 354.3 212.1 355.2 213.5C356.2 214.9 356.8 216.8 357.2 218.8C357.5 220.7 357.4 223.3 357.3 225.3C357.2 227.2 357.4 229.1 356.6 230.5C355.8 231.9 354.4 233.4 352.6 233.6C350.9 233.8 348.2 232.4 346 231.9C343.9 231.4 341.5 231.1 339.6 230.5C337.6 230 336.1 229.7 334.3 228.6C332.6 227.5 330.4 225.7 329 224.1C327.7 222.4 326.4 220.6 326.1 218.8C325.8 216.9 326 214.4 327.1 212.9Z" fill="rgba(0,0,0,0.06)" stroke="rgba(0,0,0,0.8)" stroke-width="0.5"/>
<path d="M328.9 213.5C329.9 212.1 332.2 211.2 334 210.6C335.9 210 337.9 210 339.9 209.9C341.8 209.8 343.8 209.7 345.6 209.9C347.3 210.1 348.9 210.5 350.2 211.1C351.6 211.8 352.8 212.8 353.7 214C354.5 215.3 355.1 216.9 355.4 218.6C355.7 220.4 355.6 222.7 355.5 224.4C355.4 226.1 355.5 227.8 354.9 229C354.2 230.2 352.9 231.5 351.4 231.7C349.8 231.9 347.5 230.7 345.6 230.2C343.6 229.8 341.6 229.5 339.9 229C338.1 228.5 336.8 228.3 335.2 227.3C333.7 226.4 331.8 224.8 330.6 223.3C329.3 221.9 328.3 220.3 328 218.6C327.7 217 327.9 214.8 328.9 213.5Z" fill="rgba(0,0,0,0.08)" stroke="rgba(0,0,0,0.8)" stroke-width="0.5"/>
<path d="M330.6 214.1C331.5 212.9 333.5 212.1 335.1 211.6C336.7 211.1 338.5 211.1 340.1 210.9C341.8 210.8 343.6 210.8 345.1 210.9C346.6 211.1 348 211.4 349.1 212C350.3 212.6 351.3 213.5 352.1 214.5C352.8 215.6 353.3 217 353.6 218.5C353.9 220 353.8 222 353.7 223.5C353.6 225 353.7 226.5 353.1 227.5C352.5 228.6 351.5 229.7 350.1 229.9C348.8 230 346.7 229 345.1 228.6C343.4 228.2 341.6 228 340.1 227.5C338.6 227.1 337.5 226.9 336.1 226.1C334.8 225.3 333.1 223.9 332.1 222.6C331 221.3 330.1 220 329.8 218.5C329.6 217.1 329.7 215.2 330.6 214.1Z" fill="rgba(0,0,0,0.1)" stroke="rgba(0,0,0,0.8)" stroke-width="0.5"/>
<path d="M332.1 214.5C332.9 213.5 334.6 212.8 336 212.4C337.4 211.9 338.9 211.9 340.4 211.8C341.8 211.8 343.4 211.7 344.6 211.8C345.9 212 347.1 212.3 348.2 212.8C349.2 213.3 350.1 214 350.7 214.9C351.4 215.9 351.8 217.1 352 218.4C352.3 219.7 352.2 221.4 352.1 222.7C352.1 224 352.1 225.3 351.6 226.2C351.1 227.1 350.2 228.1 349 228.2C347.9 228.4 346.1 227.4 344.6 227.1C343.2 226.8 341.7 226.6 340.4 226.2C339.1 225.8 338.1 225.7 336.9 224.9C335.7 224.2 334.3 223 333.4 221.9C332.5 220.8 331.7 219.6 331.5 218.4C331.3 217.2 331.4 215.5 332.1 214.5Z" fill="rgba(0,0,0,0.12)" stroke="rgba(0,0,0,0.8)" stroke-width="0.5"/>
<path d="M320.8 222C320.8 219 322.7 214.9 325 212.9C327.3 210.9 331.5 210.1 334.8 210.1C338.1 210.1 342.3 211.2 344.6 212.9C346.9 214.7 348.8 217.7 348.8 220.6C348.8 223.5 346.9 228.2 344.6 230.4C342.3 232.6 338.1 233.8 334.8 233.9C331.5 234 327.3 233.1 325 231.1C322.7 229.1 320.8 225 320.8 222Z" fill="#fff" fill-opacity=".92"/>
<path d="M320.8 222C320.8 219 322.7 214.9 325 212.9C327.3 210.9 331.5 210.1 334.8 210.1C338.1 210.1 342.3 211.2 344.6 212.9C346.9 214.7 348.8 217.7 348.8 220.6C348.8 223.5 346.9 228.2 344.6 230.4C342.3 232.6 338.1 233.8 334.8 233.9C331.5 234 327.3 233.1 325 231.1C322.7 229.1 320.8 225 320.8 222Z" fill="rgba(0,0,0,0.12)" stroke="rgba(0,0,0,0.8)" stroke-width="0.5"/>
<path d="M323.4 222C323.4 219.5 325 216.2 326.9 214.5C328.8 212.9 332.2 212.2 334.9 212.2C337.6 212.2 341.1 213.1 343 214.5C344.9 216 346.4 218.5 346.4 220.8C346.4 223.2 344.9 227.1 343 228.9C341.1 230.7 337.6 231.7 334.9 231.8C332.2 231.9 328.8 231.1 326.9 229.5C325 227.8 323.4 224.5 323.4 222Z" fill="rgba(0,0,0,0.25)" stroke="rgba(0,0,0,0.8)" stroke-width="0.5"/>
<path d="M325.8 222C325.8 220 327.1 217.3 328.6 216C330.1 214.7 332.9 214.2 335 214.2C337.2 214.2 339.9 214.9 341.5 216C343 217.2 344.2 219.2 344.2 221.1C344.2 223 343 226.1 341.5 227.5C339.9 229 337.2 229.7 335 229.8C332.9 229.9 330.1 229.3 328.6 228C327.1 226.7 325.8 224 325.8 222Z" fill="rgba(0,0,0,0.4)" stroke="rgba(0,0,0,0.8)" stroke-width="0.5"/>
<path d="M328.1 222C328.1 220.5 329.1 218.4 330.2 217.4C331.4 216.5 333.5 216.1 335.1 216.1C336.8 216.1 338.9 216.6 340.1 217.4C341.2 218.3 342.1 219.8 342.1 221.3C342.1 222.8 341.2 225.1 340.1 226.2C338.9 227.3 336.8 227.9 335.1 227.9C333.5 228 331.4 227.5 330.2 226.6C329.1 225.6 328.1 223.5 328.1 222Z" fill="rgba(0,0,0,0.55)" stroke="rgba(0,0,0,0.8)" stroke-width="0.5"/>
<path d="M330.5 222C330.5 221 331.1 219.6 331.9 218.9C332.7 218.2 334.1 217.9 335.3 217.9C336.4 217.9 337.8 218.3 338.6 218.9C339.4 219.5 340.1 220.5 340.1 221.5C340.1 222.5 339.4 224.1 338.6 224.9C337.8 225.6 336.4 226 335.3 226.1C334.1 226.1 332.7 225.8 331.9 225.1C331.1 224.4 330.5 223 330.5 222Z" fill="rgba(0,0,0,0.8)" stroke="rgba(0,0,0,0.8)" stroke-width="0.5"/>
<path d="M338.4 212.7C338.6 210.1 339.8 207.1 341.7 205.6C343.6 204 347.3 203.3 350.1 203.6C353 203.9 356.8 205.6 358.6 207.5C360.4 209.4 361.5 212.7 361.2 215.3C360.9 217.9 358.7 221.5 356.6 223.1C354.6 224.7 351.5 225.4 348.9 225.1C346.2 224.7 342.8 223.2 341.1 221.2C339.3 219.1 338.3 215.3 338.4 212.7Z" fill="#fff" fill-opacity=".92"/>
<path d="M338.4 212.7C338.6 210.1 339.8 207.1 341.7 205.6C343.6 204 347.3 203.3 350.1 203.6C353 203.9 356.8 205.6 358.6 207.5C360.4 209.4 361.5 212.7 361.2 215.3C360.9 217.9 358.7 221.5 356.6 223.1C354.6 224.7 351.5 225.4 348.9 225.1C346.2 224.7 342.8 223.2 341.1 221.2C339.3 219.1 338.3 215.3 338.4 212.7Z" fill="rgba(0,0,0,0.12)" stroke="rgba(0,0,0,0.8)" stroke-width="0.5"/>
<path d="M340.3 212.9C340.4 210.8 341.4 208.2 343 207C344.6 205.7 347.7 205.1 350 205.4C352.4 205.6 355.5 207 357.1 208.6C358.6 210.2 359.5 212.9 359.2 215.1C359 217.2 357.1 220.2 355.4 221.6C353.7 222.9 351.1 223.5 349 223.2C346.8 222.9 343.9 221.7 342.5 219.9C341 218.2 340.2 215.1 340.3 212.9Z" fill="rgba(0,0,0,0.25)" stroke="rgba(0,0,0,0.8)" stroke-width="0.5"/>
<path d="M342.2 213.1C342.3 211.4 343 209.4 344.3 208.4C345.6 207.4 348.1 206.9 349.9 207.1C351.8 207.3 354.3 208.4 355.5 209.7C356.7 211 357.5 213.1 357.2 214.9C357 216.6 355.6 218.9 354.2 220C352.9 221.1 350.8 221.5 349.1 221.3C347.4 221.1 345.1 220.1 343.9 218.7C342.8 217.4 342.1 214.9 342.2 213.1Z" fill="rgba(0,0,0,0.4)" stroke="rgba(0,0,0,0.8)" stroke-width="0.5"/>
<path d="M344.1 213.4C344.1 212.1 344.7 210.6 345.7 209.8C346.6 209.1 348.4 208.7 349.8 208.9C351.2 209 353.1 209.8 354 210.8C354.9 211.8 355.4 213.4 355.3 214.6C355.1 215.9 354 217.7 353 218.5C352 219.3 350.5 219.6 349.2 219.4C347.9 219.3 346.2 218.5 345.3 217.5C344.5 216.5 344 214.6 344.1 213.4Z" fill="rgba(0,0,0,0.55)" stroke="rgba(0,0,0,0.8)" stroke-width="0.5"/>
<path d="M345.8 213.6C345.8 212.7 346.2 211.7 346.9 211.1C347.5 210.6 348.8 210.4 349.7 210.5C350.7 210.6 352 211.1 352.6 211.8C353.2 212.5 353.6 213.6 353.5 214.4C353.3 215.3 352.6 216.5 351.9 217.1C351.2 217.6 350.2 217.9 349.3 217.7C348.4 217.6 347.2 217.1 346.6 216.4C346.1 215.7 345.7 214.4 345.8 213.6Z" fill="rgba(0,0,0,0.8)" stroke="rgba(0,0,0,0.8)" stroke-width="0.5"/>
<ellipse cx="351" cy="213.3" rx="1.5" ry="0.9" fill="#eee"/>
<ellipse cx="335.5" cy="221.5" rx="2.2" ry="0.7" fill="#aaa"/>
<ellipse cx="362.6" cy="278.5" rx="1.9" ry="7" fill="none" stroke="rgba(0,0,0,.8)" stroke-width=".5"/>
</g>
<path d="M283.2 186.5V299.9M396.1 186.5V299.9" fill="none" stroke="#000" stroke-width="2.2"/>
<line x1="280" y1="187.3" x2="396.1" y2="187.3" stroke="#000" stroke-width="1.4"/>
<line x1="280" y1="299" x2="397" y2="299" stroke="#000" stroke-width="1.9"/>
<line x1="345" y1="187.3" x2="345" y2="299" stroke="#000" stroke-width="2.4"/>
<line x1="283.2" y1="261.8" x2="396.1" y2="261.8" stroke="#000" stroke-width="1.6"/>
<line x1="280" y1="299" x2="283.2" y2="299" stroke="#000" stroke-width="1.2"/>
<line x1="283.2" y1="299" x2="283.2" y2="301.8" stroke="#000" stroke-width="1.2"/>
<text x="282" y="310.7" font-size="8.1">10<tspan font-size="4.9" dy="-2.5">0</tspan></text>
<line x1="280" y1="271.07" x2="283.2" y2="271.07" stroke="#000" stroke-width="1.2"/>
<line x1="311.43" y1="299" x2="311.43" y2="301.8" stroke="#000" stroke-width="1.2"/>
<text x="309.78" y="310.7" font-size="8.1">10<tspan font-size="4.9" dy="-2.5">1</tspan></text>
<line x1="280" y1="243.15" x2="283.2" y2="243.15" stroke="#000" stroke-width="1.2"/>
<line x1="339.65" y1="299" x2="339.65" y2="301.8" stroke="#000" stroke-width="1.2"/>
<text x="337.55" y="310.7" font-size="8.1">10<tspan font-size="4.9" dy="-2.5">2</tspan></text>
<line x1="280" y1="215.23" x2="283.2" y2="215.23" stroke="#000" stroke-width="1.2"/>
<line x1="367.88" y1="299" x2="367.88" y2="301.8" stroke="#000" stroke-width="1.2"/>
<text x="365.32" y="310.7" font-size="8.1">10<tspan font-size="4.9" dy="-2.5">3</tspan></text>
<line x1="280" y1="187.3" x2="283.2" y2="187.3" stroke="#000" stroke-width="1.2"/>
<line x1="396.1" y1="299" x2="396.1" y2="301.8" stroke="#000" stroke-width="1.2"/>
<text x="398" y="310.7" font-size="8.1" text-anchor="end">10<tspan font-size="4.9" dy="-2.5">4</tspan></text>
<path d="M282.2 290.6h-1.6M291.7 299.9v1.6M282.2 285.7h-1.6M296.7 299.9v1.6M282.2 282.2h-1.6M300.2 299.9v1.6M282.2 279.5h-1.6M302.9 299.9v1.6M282.2 277.3h-1.6M305.2 299.9v1.6M282.2 275.4h-1.6M307.1 299.9v1.6M282.2 273.8h-1.6M308.7 299.9v1.6M282.2 272.4h-1.6M310.1 299.9v1.6M282.2 262.7h-1.6M319.9 299.9v1.6M282.2 257.8h-1.6M324.9 299.9v1.6M282.2 254.3h-1.6M328.4 299.9v1.6M282.2 251.6h-1.6M331.2 299.9v1.6M282.2 249.3h-1.6M333.4 299.9v1.6M282.2 247.5h-1.6M335.3 299.9v1.6M282.2 245.9h-1.6M336.9 299.9v1.6M282.2 244.4h-1.6M338.4 299.9v1.6M282.2 234.7h-1.6M348.1 299.9v1.6M282.2 229.8h-1.6M353.1 299.9v1.6M282.2 226.3h-1.6M356.6 299.9v1.6M282.2 223.6h-1.6M359.4 299.9v1.6M282.2 221.4h-1.6M361.6 299.9v1.6M282.2 219.6h-1.6M363.5 299.9v1.6M282.2 217.9h-1.6M365.1 299.9v1.6M282.2 216.5h-1.6M366.6 299.9v1.6M282.2 206.8h-1.6M376.4 299.9v1.6M282.2 201.9h-1.6M381.3 299.9v1.6M282.2 198.4h-1.6M384.9 299.9v1.6M282.2 195.7h-1.6M387.6 299.9v1.6M282.2 193.5h-1.6M389.8 299.9v1.6M282.2 191.6h-1.6M391.7 299.9v1.6M282.2 190h-1.6M393.4 299.9v1.6M282.2 188.6h-1.6M394.8 299.9v1.6" stroke="#444" stroke-width=".5" fill="none"/>
<text x="285.5" y="199.1" font-size="13.4">52</text>
<text x="395.4" y="199.1" font-size="13.4" text-anchor="end">42</text>
<text x="285.5" y="297.5" font-size="13.4">1</text>
<text x="395.4" y="297.5" font-size="13.4" text-anchor="end">5</text>
<g clip-path="url(#cp13)">
<path d="M466.8 215.9h0M479.8 214.8h0M452.4 223h0M451.4 214.3h0M464 226h0M450 227h0M478.7 222.6h0M448.8 229.6h0M454.3 233.2h0M460.5 218.5h0M463.5 218.4h0M474.9 225.3h0M468.4 239.3h0M466.6 204.8h0M457 233.9h0M469.6 232.1h0M428.2 242.3h0M456.1 225.5h0M460.5 232.5h0M454.4 239.7h0M445.1 220.8h0M462.8 232.9h0M453.6 230.1h0M474.4 227.2h0M449 230.1h0M455.5 215.7h0M460.6 237.4h0M471.5 224.1h0M473.4 233.3h0M463.3 225.7h0M453.7 231.9h0M453.5 215.4h0M467.7 213.4h0M476.5 229.9h0M457.9 245h0M460.9 226.2h0M472.6 209.7h0M467.7 209.3h0M438.4 238.6h0M436.6 241.5h0M446.2 221.3h0M465.2 236.2h0M476.8 218.8h0M474.5 236.1h0M458 221.6h0M457.1 230h0M453.8 208.4h0M448.5 231h0M431.5 204.1h0M458.2 228.5h0M467.6 239.6h0M454.5 238.6h0M472.6 192.2h0M465.6 242.2h0M455.4 225.4h0M439.9 212.6h0M445.7 235.6h0M451.6 230.3h0M444.8 206.9h0M431.4 239.2h0M440.8 214.6h0M452.5 245.5h0M439.7 210.3h0M457.2 239.3h0M433.9 209.6h0M472.5 209.4h0M462.9 234.3h0M446.2 235h0M463.2 200.3h0M476 231.4h0M436.4 205.9h0M445.1 224.2h0M458.3 225.1h0M435.5 230.7h0M471 221.8h0M457.2 214.9h0M450.6 209.4h0M453.1 211.1h0M473.7 220.3h0M464 223.4h0M454.9 225.4h0M474.7 236.9h0M445.9 225.5h0M469.6 222.3h0M451.6 215.7h0M455 225.9h0M461.5 220.9h0M457 222.1h0M479.8 222.6h0M464.1 219.6h0M454 221.1h0M465.5 246.2h0M477.1 223.2h0M454.5 229.6h0M471.4 221.1h0M470.5 200.6h0M455.2 225.2h0M458.1 224.6h0M417.6 219.9h0M485 223h0M508.6 230.7h0M458 211.9h0M448 231.6h0M444.2 210.3h0M479.7 217.9h0M470.5 238.9h0M458.8 220.5h0M443.8 209.7h0M455.3 227.2h0M443.4 228.1h0M435.7 225.3h0M509.1 234.9h0M434.5 209.6h0M473.2 220.3h0M444.4 230.7h0M477.3 213.3h0M446.4 216.4h0M461.3 230.9h0M473 214.2h0M446.3 237.8h0M422.1 223.1h0M462 229.5h0M456.7 234.1h0M485.1 209h0M468.5 238.2h0M470.1 213.6h0M441.9 222.3h0M462 232.2h0M473.2 225.3h0M440.6 234.7h0M447 242.2h0M477.2 224.3h0M456.3 212.2h0M466.5 223.6h0M445.5 229.5h0M473.9 229.5h0M488 216.5h0M444.6 228.8h0M465.7 224.4h0M448.6 216.8h0M466.9 226.6h0M451.3 233.1h0M479.1 225.6h0M455.7 227.8h0M457.3 237.2h0M463.6 210.2h0M457 219.3h0M449.7 221.6h0M471.6 228.2h0M465.1 222h0M457.2 229.8h0M461.6 224.9h0M467.1 238.8h0M449.3 246.9h0M473.6 212.4h0M459.7 232.2h0M471 224.9h0M448.1 229.5h0M463 214.8h0M449.1 204h0M447.5 211h0M456.7 213.4h0M455.7 214h0M461.3 243.6h0M452.6 211.7h0M472.8 210.4h0M447.7 236.5h0M451.7 210.7h0M461.3 228.4h0M466.5 223h0M433 223.5h0M469.2 212.2h0M453.2 216.9h0M449.1 220.2h0M457.5 213.8h0M450.6 231.8h0M463.4 201h0M463.7 248.2h0M453.2 194h0M460 225h0M455 218.3h0M452.6 230.5h0M471.5 224.2h0M470.5 221.9h0M468.2 205.9h0M488.7 227.9h0M446.7 238h0M468.5 228.8h0M451.8 215.2h0M452.6 224.2h0M465 232.3h0M468.6 225.7h0M472.5 258.4h0M473 256.1h0M455.2 243.2h0M468.5 258.5h0M458.6 255.2h0M458.6 246h0M473.3 240.8h0M455.1 281.6h0M478.8 259h0M479.7 269.4h0M452.2 257.2h0M447.1 250.1h0M464.4 271.7h0M464.6 247.5h0M461.8 275.7h0M463.4 272h0M478.3 259.6h0M448.8 272.2h0M468.3 212.7h0M470.1 291.7h0M479.8 260.6h0M457.9 237h0M470.4 249.9h0M483.9 269h0M469.6 271h0M458.9 249.7h0M468.4 252.6h0M463.4 274.6h0M469.3 262.3h0M478.3 245h0M462.2 249.2h0M458.3 254.1h0M460.1 273.9h0M467.1 245.3h0M463.1 246.2h0M463.1 246.4h0M452.2 236.4h0M456.6 233.7h0M463.8 284.4h0M482.5 261.8h0M451.5 256.3h0M451.8 252.5h0M466.2 261.1h0M457.4 253.5h0M475.8 290.8h0M457.1 252.9h0M447.1 306h0M467.6 256h0M471.3 254.1h0M456.8 260h0M458.2 272.2h0M456.6 260.8h0M454.8 245.9h0M451.3 250.5h0M480.8 271.4h0M477.7 263.2h0M457 243.1h0M465.4 261.2h0M454.8 226.3h0M450.8 250.8h0M480.8 259.2h0M458.5 248.9h0M473.6 241.1h0M461.5 270.8h0M464 255.2h0M481.6 278.4h0M470.2 251.1h0M462.5 244.8h0M466.6 268.6h0M461.5 252.9h0M437.6 238.1h0M460.7 251.4h0M463.9 255.2h0M463.8 259.3h0M471.3 283.5h0M461.2 259.4h0M460.1 254.4h0M484.6 261.4h0M450.6 266.2h0M464.2 264.5h0M448.6 236.3h0M462.6 240.7h0M469.6 264.3h0M468.4 259.1h0M464 253.6h0M457.1 263.6h0M457.1 240.8h0M467.2 274.4h0M444.4 252h0M483.1 237.3h0M461.4 246.9h0M466.5 252.8h0M470.5 251.8h0M468.8 248.5h0M473 251h0M463.4 258.9h0M488.3 230.1h0M458.3 247.2h0M468 242.2h0M476.7 256.9h0M463.1 252h0M458.9 233.3h0M466 278.7h0M478 260h0M453.6 281h0M463.6 268h0M453.4 261.6h0M456.4 269.2h0M451.9 275.7h0M463.2 255.2h0M456.6 249h0M474.4 263.9h0M465.7 256.3h0M455 266.4h0M460.6 256h0M467.6 268.3h0M466.6 297.9h0M477.2 261.6h0M462.6 264.5h0M471.4 274.7h0M452.3 265h0M459.1 258.9h0M486.8 249.1h0M454.5 261.2h0M443.6 283h0M474.8 257.6h0M466.2 247.7h0M456.4 216.3h0M467.3 261.9h0M472.1 248.3h0M455.2 242.5h0M455.8 265h0M460.8 255.3h0M460.6 266.3h0M459.4 257.9h0M469.6 244.5h0M462.5 258.7h0M460.7 232.4h0M468.4 240.3h0M453 252.5h0M470.4 245.4h0M458.6 231.5h0M468 257.2h0M484.1 264.3h0M471.5 258.6h0M458 235.5h0M476.2 264.5h0M439.9 250.2h0M453.2 243.9h0M444.5 243.4h0M446.1 286.6h0M479.7 260.5h0M470.3 275h0M469.8 260.9h0M460.5 263.9h0M468 248.2h0M459.3 300.1h0M462.5 285.4h0M463.4 292.6h0M464.7 288.3h0M483 268.7h0M450.8 275.8h0M459.5 286.4h0M463.3 298h0M480 292.7h0M458.8 275.6h0M461.8 286.5h0M478.4 291.6h0M477 289.8h0M475.5 281.2h0M463.4 277.6h0M472.6 291h0M483.5 285h0M476.3 276.1h0M466.8 277.9h0M480.4 283.6h0M465.7 290.3h0M460.7 284.9h0M466.7 285h0M477.1 283.8h0M462.6 281.3h0M479.6 275.4h0M474.1 281.1h0M477.3 289.5h0M461.8 271.1h0M456.5 298.3h0M454.8 273.7h0M460.5 263.3h0M468 270.5h0M458.3 297.4h0M454.4 285.1h0M454.9 295.2h0M464.6 277.9h0M461 285.1h0M485.7 286.9h0M459.4 297.6h0M466.3 297h0M464.1 293.2h0M464.8 281.4h0M474.6 274.3h0M471.5 268.4h0M472.2 279.5h0M482.9 286h0M485 279.1h0M451.5 292.5h0M468.7 290.8h0M457.6 279h0M474.6 284.2h0M493.9 280.1h0M471.7 279h0M467.1 261.6h0M465.3 290.9h0M476.7 291.6h0M480.3 280.9h0M474.4 285.9h0M475.5 286.6h0M431.7 257.8h0M439.6 249.9h0M429.8 241.7h0M451.3 267.4h0M435.7 246.2h0M441.5 215.6h0M456.8 239.7h0M443.4 240.7h0M443.4 247.8h0M447.8 243.8h0M464.9 228.9h0M444.9 255.7h0M447.2 234h0M452.3 220.9h0M437.5 236.9h0M445 248.8h0M457.3 251.7h0M444.1 225.4h0M466.6 249h0M435.7 250.7h0M436.4 258.6h0M433.5 259.1h0M458.9 254.8h0M445.3 256h0M448.7 240.5h0M442.5 245.7h0M441 259.2h0M446.8 245.2h0M446.6 234.1h0M448.3 254.5h0M438.5 239.1h0M436.5 262.5h0M434.7 234.9h0M446 249.5h0M451.5 245.4h0M441.8 246.5h0M448.3 258.9h0M450.9 228h0M442 232.3h0M442.1 257.5h0M434.2 228h0M452.9 250.1h0M445.6 245.9h0M443.7 250.2h0M433.7 259.6h0M432 247.5h0M440.6 249.8h0M435.2 244.7h0" stroke="#8c8c8c" stroke-width="0.85" stroke-linecap="square" fill="none"/><path d="M456.2 214.7h0M476.5 224h0M482.9 224.1h0M439.6 229.6h0M463 226.3h0M452.8 232.2h0M456.8 231h0M450.2 220h0M447.7 226h0M454.6 235.5h0M441.9 217.5h0M472.3 214.8h0M464.7 208.1h0M451.6 227.4h0M442.2 227.6h0M487.9 217.8h0M461.7 235.7h0M457.8 216h0M454.1 199.6h0M455.2 221h0M469.6 227.5h0M469.2 239.5h0M454.2 218.9h0M474.4 237.7h0M461.4 243.9h0M479.9 209.1h0M467.7 211.5h0M458.9 224.7h0M475.1 241.5h0M443.1 205.8h0M444.6 234.7h0M461.4 222.9h0M458.5 223h0M463.7 238.5h0M459.2 237h0M458.7 228.8h0M471.8 227.6h0M468.2 213.4h0M457.2 224.7h0M462.1 239h0M457.7 218.1h0M473.3 226.1h0M451.6 219.8h0M482.4 227h0M444.3 212.3h0M466.8 228.5h0M433.5 210.8h0M459.7 211.9h0M461.1 225.6h0M463.8 206.5h0M478 216.6h0M444.4 231.1h0M467.2 226.3h0M458.1 219.7h0M458.5 242.2h0M461.9 212.5h0M440.3 215.6h0M466.9 223.9h0M467.9 213.9h0M463.7 230h0M478.3 212.7h0M460.8 236.7h0M457 227.4h0M448.9 214.1h0M465.1 228.1h0M469 234h0M457.6 236.2h0M481.8 229.3h0M477.5 216.3h0M461.7 212.7h0M475 218.5h0M444.7 232.3h0M457.2 230.5h0M444.2 225h0M456.7 227.5h0M457.7 231.4h0M481.5 209h0M453.4 210.5h0M460.8 226.3h0M431.1 220.2h0M473.6 222.5h0M467.7 239.4h0M462 224.2h0M460.3 223.7h0M462.7 217.7h0M457.8 224.6h0M464.4 225.2h0M461.1 204.2h0M474 223.6h0M438.5 230.7h0M444.3 227.1h0M457.8 232.1h0M457.3 223.3h0M450.4 233.7h0M443.3 209.6h0M476.2 227h0M471.3 217.3h0M456.9 232.7h0M442.5 225.2h0M474.8 210.8h0M449.2 219.1h0M470 215.6h0M475.2 232.5h0M447 218.3h0M450.3 226.5h0M468.5 226.1h0M462.8 209.9h0M461.5 237.6h0M474.5 223.9h0M439.5 217h0M456.8 235h0M435.7 235.1h0M466.5 245.7h0M450.7 212.9h0M456.4 207.9h0M447.4 229.7h0M471.1 232.7h0M452.7 229.2h0M422.5 222.1h0M466.7 226.4h0M448.3 222.4h0M443.2 222.9h0M448 222.4h0M442.1 224h0M447.3 237.6h0M441 225.9h0M448 214.7h0M450.9 227.9h0M477.5 260.5h0M466.1 251.3h0M465.1 240.4h0M471.4 249.9h0M479.2 262.8h0M468.7 259.8h0M461.8 265.3h0M472.8 250.1h0M465.1 258.1h0M464.2 262.1h0M466.3 256.1h0M442.4 264.1h0M462.2 246.5h0M480.5 265h0M466.1 263.8h0M468.1 242.1h0M476.9 267.1h0M474.9 259.3h0M448.7 250.9h0M467.9 269.5h0M489.9 253.6h0M465 251.2h0M471.8 240.2h0M478.6 257.4h0M462.8 264.8h0M466.1 252.6h0M465.8 273.4h0M466.4 245.5h0M469 245.1h0M473.2 245.8h0M471.1 238.9h0M437.5 262.4h0M463.6 265.6h0M446.6 243.8h0M447.4 238.8h0M469.2 264.6h0M472 269.3h0M454.9 269.4h0M471.7 251.5h0M476.6 238.3h0M451.8 255.1h0M470.4 252.3h0M454.9 241.2h0M452.6 263.3h0M450.3 246.2h0M471.8 259h0M456.1 251.2h0M463.6 238.5h0M440.9 283.8h0M465.2 264.9h0M454.1 271.8h0M461.8 240.1h0M462.2 263.4h0M459.6 272.9h0M449.7 261.9h0M460.8 233.8h0M477.2 259.9h0M474.8 270.7h0M445.7 248.1h0M458.4 245.8h0M460.2 258.9h0M453.2 251.3h0M465.6 255.4h0M445.5 255.1h0M460.9 249.5h0M449 255h0M463.9 264.7h0M445.1 228.8h0M464 243.6h0M453.4 272.8h0M447.8 269.3h0M455.1 250.7h0M463.4 253.1h0M461.6 259h0M451.4 246.9h0M477.2 228h0M456.9 245.6h0M455.4 260.8h0M447.6 257.6h0M475.6 258.6h0M459.9 263.9h0M456.4 261.5h0M482.4 260h0M464.3 244h0M470.9 238.5h0M463.8 231h0M454.6 238.6h0M475 232.4h0M461.8 278.8h0M468.5 273.3h0M464.6 248.2h0M467.6 250.5h0M457.2 241.2h0M438.8 264.6h0M473.9 260.7h0M482 258.7h0M480.9 243.4h0M438.4 265.5h0M448.7 254.9h0M455.8 257.5h0M453.7 255.5h0M482.5 221.3h0M469.1 251.7h0M473.9 261.8h0M458.5 275.2h0M471.1 268.1h0M471.2 289.8h0M460.9 293.3h0M460.6 267.8h0M461.7 277.4h0M481.7 263.3h0M472.8 304.4h0M461.2 280h0M459.3 296.3h0M470.1 288.8h0M454.1 289.1h0M460.4 269.5h0M475 292.3h0M473.8 290.3h0M463.3 285.9h0M461.6 284h0M460.6 268h0M456.9 276.4h0M486.4 264h0M452.5 285.5h0M456.7 286.3h0M447.5 279.5h0M467.8 278.8h0M471 276.9h0M457.5 283.2h0M451.3 298.7h0M453.8 284.7h0M451.5 289.7h0M480.1 273.3h0M485.8 277.1h0M484.2 289.2h0M453.5 297.4h0M466.2 260.8h0M435 291.6h0M461.2 289.5h0M461.2 271.2h0M470.6 272.7h0M471.1 284.5h0M458.4 267.7h0M463.7 266.2h0M451.1 248.3h0M446.4 256.5h0M440.7 234.5h0M452.8 250h0M463.3 234.1h0M439 246.2h0M446.7 250.5h0M444 247.4h0M474.2 261.3h0M427.9 251h0M454.8 244.8h0M442.3 241.5h0M444.9 261h0M441.2 237.5h0M455.4 230.3h0M439.2 234.2h0M434.1 246.2h0M433 242.9h0M445.2 242.2h0M432.6 247.5h0M436.9 251.9h0M453.3 236.5h0M443.1 262.7h0M447.3 244.4h0M451.3 248.3h0M450.8 236.1h0M450.9 252.4h0M437.5 234.9h0M455.5 244.9h0M441.8 262.6h0M436.8 256.3h0" stroke="#3a3a3a" stroke-width="0.8" stroke-linecap="square" fill="none"/>
<path d="M435.8 214.4C436 212.3 437 210.9 439 209.6C441 208.3 444.3 207.4 447.7 206.7C451.1 206 455.7 205.6 459.2 205.6C462.7 205.6 466.1 205.7 468.8 206.7C471.5 207.7 473.7 209.4 475.6 211.5C477.5 213.6 479.3 216.8 480.4 219.2C481.5 221.6 482.5 224.3 482.3 226C482.1 227.7 481 228.2 479.4 229.2C477.8 230.1 474.9 230.5 472.7 231.7C470.5 232.9 467.9 234.9 466 236.5C464.1 238.1 462.8 240.3 461.2 241.3C459.6 242.3 458.1 243 456.3 242.7C454.5 242.4 452.7 241.4 450.6 239.4C448.5 237.4 445.9 233.7 443.8 230.8C441.7 227.9 439.3 224.8 438 222.1C436.7 219.4 435.6 216.5 435.8 214.4Z" fill="#fff" fill-opacity=".92"/>
<path d="M435.8 214.4C436 212.3 437 210.9 439 209.6C441 208.3 444.3 207.4 447.7 206.7C451.1 206 455.7 205.6 459.2 205.6C462.7 205.6 466.1 205.7 468.8 206.7C471.5 207.7 473.7 209.4 475.6 211.5C477.5 213.6 479.3 216.8 480.4 219.2C481.5 221.6 482.5 224.3 482.3 226C482.1 227.7 481 228.2 479.4 229.2C477.8 230.1 474.9 230.5 472.7 231.7C470.5 232.9 467.9 234.9 466 236.5C464.1 238.1 462.8 240.3 461.2 241.3C459.6 242.3 458.1 243 456.3 242.7C454.5 242.4 452.7 241.4 450.6 239.4C448.5 237.4 445.9 233.7 443.8 230.8C441.7 227.9 439.3 224.8 438 222.1C436.7 219.4 435.6 216.5 435.8 214.4Z" fill="none" stroke="rgba(0,0,0,0.8)" stroke-width="0.5"/>
<path d="M437.7 214.7C437.9 212.7 438.8 211.4 440.7 210.2C442.5 209.1 445.6 208.2 448.7 207.6C451.8 207 456 206.6 459.2 206.6C462.5 206.6 465.6 206.7 468.1 207.6C470.6 208.5 472.5 210.1 474.3 212C476.1 213.9 477.7 216.9 478.7 219.1C479.8 221.3 480.6 223.8 480.5 225.3C480.3 226.9 479.3 227.4 477.8 228.3C476.3 229.1 473.7 229.5 471.7 230.6C469.6 231.7 467.3 233.5 465.5 235C463.7 236.5 462.6 238.5 461.1 239.4C459.6 240.4 458.2 241 456.6 240.7C454.9 240.4 453.2 239.5 451.3 237.7C449.4 235.8 447 232.4 445.1 229.7C443.1 227.1 441 224.3 439.7 221.7C438.5 219.2 437.6 216.6 437.7 214.7Z" fill="rgba(0,0,0,0.03)" stroke="rgba(0,0,0,0.8)" stroke-width="0.5"/>
<path d="M439.6 214.9C439.8 213.2 440.6 212 442.3 210.9C444 209.8 446.8 209 449.6 208.4C452.4 207.9 456.3 207.5 459.3 207.5C462.2 207.5 465 207.6 467.3 208.4C469.6 209.3 471.4 210.7 473 212.5C474.7 214.2 476.1 216.9 477.1 218.9C478 221 478.8 223.3 478.7 224.7C478.5 226.1 477.6 226.6 476.2 227.3C474.9 228.1 472.5 228.4 470.6 229.4C468.7 230.5 466.6 232.1 465 233.5C463.4 234.8 462.3 236.6 460.9 237.5C459.6 238.4 458.3 239 456.8 238.7C455.3 238.4 453.8 237.6 452 235.9C450.3 234.3 448.1 231.1 446.3 228.7C444.6 226.3 442.6 223.7 441.5 221.4C440.3 219.1 439.5 216.7 439.6 214.9Z" fill="rgba(0,0,0,0.08)" stroke="rgba(0,0,0,0.8)" stroke-width="0.5"/>
<path d="M441.5 215.2C441.6 213.6 442.4 212.5 443.9 211.5C445.5 210.6 448 209.8 450.6 209.3C453.1 208.8 456.6 208.5 459.3 208.5C462 208.5 464.5 208.6 466.6 209.3C468.7 210.1 470.3 211.4 471.8 213C473.2 214.6 474.6 217 475.4 218.8C476.3 220.7 477 222.7 476.9 224C476.7 225.3 475.9 225.7 474.7 226.4C473.4 227.1 471.3 227.4 469.6 228.3C467.9 229.2 465.9 230.8 464.5 232C463 233.2 462.1 234.8 460.8 235.6C459.6 236.4 458.4 236.9 457.1 236.7C455.8 236.4 454.3 235.7 452.8 234.2C451.2 232.7 449.2 229.8 447.6 227.6C446 225.4 444.2 223.1 443.2 221C442.2 218.9 441.4 216.8 441.5 215.2Z" fill="rgba(0,0,0,0.15)" stroke="rgba(0,0,0,0.8)" stroke-width="0.5"/>
<path d="M443.4 215.4C443.5 214 444.3 213 445.6 212.2C446.9 211.3 449.2 210.6 451.5 210.2C453.8 209.7 456.9 209.4 459.3 209.4C461.7 209.4 464 209.5 465.9 210.2C467.7 210.9 469.2 212 470.5 213.5C471.8 214.9 473 217.1 473.8 218.7C474.5 220.3 475.2 222.2 475 223.3C474.9 224.5 474.2 224.8 473.1 225.5C472 226.1 470 226.4 468.5 227.2C467 228 465.3 229.4 464 230.5C462.7 231.5 461.8 233 460.7 233.7C459.6 234.4 458.6 234.9 457.4 234.7C456.2 234.5 454.9 233.8 453.5 232.4C452.1 231.1 450.3 228.5 448.9 226.6C447.4 224.6 445.8 222.5 444.9 220.7C444 218.8 443.3 216.8 443.4 215.4Z" fill="rgba(0,0,0,0.22)" stroke="rgba(0,0,0,0.8)" stroke-width="0.5"/>
<path d="M445.3 215.7C445.4 214.4 446.1 213.6 447.2 212.8C448.4 212 450.4 211.5 452.5 211.1C454.5 210.7 457.3 210.4 459.4 210.4C461.5 210.4 463.5 210.5 465.1 211.1C466.8 211.7 468.1 212.7 469.2 213.9C470.4 215.2 471.4 217.1 472.1 218.6C472.8 220 473.3 221.7 473.2 222.7C473.1 223.7 472.5 224 471.5 224.6C470.5 225.1 468.8 225.3 467.5 226.1C466.1 226.8 464.6 228 463.4 228.9C462.3 229.9 461.5 231.2 460.6 231.8C459.6 232.5 458.7 232.9 457.6 232.7C456.6 232.5 455.5 231.9 454.2 230.7C453 229.5 451.4 227.3 450.1 225.5C448.9 223.8 447.4 221.9 446.6 220.3C445.8 218.7 445.2 216.9 445.3 215.7Z" fill="rgba(0,0,0,0.3)" stroke="rgba(0,0,0,0.8)" stroke-width="0.5"/>
<path d="M447.2 215.9C447.3 214.9 447.9 214.1 448.9 213.5C449.9 212.8 451.7 212.3 453.4 211.9C455.2 211.6 457.6 211.4 459.4 211.4C461.2 211.4 463 211.4 464.4 211.9C465.8 212.5 466.9 213.4 467.9 214.4C468.9 215.5 469.8 217.2 470.4 218.4C471 219.7 471.5 221.1 471.4 222C471.3 222.8 470.7 223.2 469.9 223.6C469.1 224.1 467.6 224.3 466.4 224.9C465.3 225.6 463.9 226.6 462.9 227.4C461.9 228.3 461.3 229.4 460.4 229.9C459.6 230.5 458.8 230.8 457.9 230.7C457 230.5 456 230 454.9 228.9C453.8 227.9 452.5 226 451.4 224.5C450.3 223 449.1 221.4 448.4 220C447.7 218.5 447.1 217 447.2 215.9Z" fill="rgba(0,0,0,0.35)" stroke="rgba(0,0,0,0.8)" stroke-width="0.5"/>
<path d="M449.1 216.2C449.2 215.3 449.7 214.7 450.6 214.1C451.4 213.5 452.9 213.1 454.4 212.8C455.9 212.5 457.9 212.3 459.4 212.3C461 212.3 462.5 212.4 463.7 212.8C464.9 213.3 465.8 214 466.7 214.9C467.5 215.8 468.3 217.3 468.8 218.3C469.3 219.4 469.7 220.6 469.6 221.3C469.5 222 469 222.3 468.3 222.7C467.6 223.1 466.4 223.3 465.4 223.8C464.4 224.4 463.3 225.2 462.4 225.9C461.6 226.6 461 227.6 460.3 228C459.6 228.5 458.9 228.8 458.2 228.7C457.4 228.5 456.6 228.1 455.7 227.2C454.7 226.3 453.6 224.7 452.7 223.4C451.7 222.2 450.7 220.8 450.1 219.6C449.5 218.4 449.1 217.1 449.1 216.2Z" fill="rgba(0,0,0,0.4)" stroke="rgba(0,0,0,0.8)" stroke-width="0.5"/>
<path d="M451 216.5C451.1 215.7 451.5 215.2 452.2 214.7C452.9 214.3 454.1 213.9 455.3 213.7C456.5 213.5 458.2 213.3 459.5 213.3C460.7 213.3 461.9 213.3 462.9 213.7C463.9 214 464.7 214.7 465.4 215.4C466.1 216.2 466.7 217.3 467.1 218.2C467.5 219.1 467.8 220 467.8 220.6C467.7 221.2 467.3 221.4 466.7 221.8C466.2 222.1 465.1 222.3 464.3 222.7C463.5 223.1 462.6 223.8 461.9 224.4C461.2 225 460.8 225.8 460.2 226.1C459.6 226.5 459.1 226.8 458.4 226.7C457.8 226.5 457.1 226.2 456.4 225.5C455.6 224.8 454.7 223.4 453.9 222.4C453.2 221.3 452.3 220.2 451.8 219.2C451.4 218.3 451 217.2 451 216.5Z" fill="rgba(0,0,0,0.4)" stroke="rgba(0,0,0,0.8)" stroke-width="0.5"/>
<path d="M453 216.7C453 216.1 453.3 215.7 453.8 215.4C454.4 215 455.3 214.8 456.3 214.6C457.2 214.4 458.5 214.3 459.5 214.3C460.5 214.3 461.4 214.3 462.2 214.6C463 214.8 463.6 215.3 464.1 215.9C464.6 216.5 465.1 217.4 465.4 218.1C465.8 218.7 466 219.5 466 220C465.9 220.4 465.6 220.6 465.2 220.9C464.7 221.1 463.9 221.2 463.3 221.6C462.7 221.9 461.9 222.5 461.4 222.9C460.9 223.4 460.5 224 460.1 224.3C459.6 224.5 459.2 224.7 458.7 224.6C458.2 224.6 457.7 224.3 457.1 223.7C456.5 223.2 455.8 222.1 455.2 221.3C454.6 220.5 453.9 219.6 453.6 218.9C453.2 218.1 452.9 217.3 453 216.7Z" fill="rgba(0,0,0,0.4)" stroke="rgba(0,0,0,0.8)" stroke-width="0.5"/>
<path d="M454.9 217C454.9 216.6 455.1 216.3 455.5 216C455.9 215.8 456.6 215.6 457.2 215.4C457.9 215.3 458.8 215.2 459.5 215.2C460.2 215.2 460.9 215.2 461.5 215.4C462 215.6 462.4 216 462.8 216.4C463.2 216.8 463.6 217.5 463.8 217.9C464 218.4 464.2 219 464.2 219.3C464.1 219.6 463.9 219.8 463.6 219.9C463.3 220.1 462.7 220.2 462.2 220.4C461.8 220.7 461.3 221.1 460.9 221.4C460.5 221.7 460.3 222.2 459.9 222.4C459.6 222.6 459.3 222.7 459 222.6C458.6 222.6 458.2 222.4 457.8 222C457.4 221.6 456.9 220.8 456.5 220.3C456 219.7 455.6 219.1 455.3 218.5C455 218 454.8 217.4 454.9 217Z" fill="rgba(0,0,0,0.4)" stroke="rgba(0,0,0,0.8)" stroke-width="0.5"/>
<ellipse cx="460.5" cy="215.8" rx="3.2" ry="0.9" fill="#ddd"/>
<ellipse cx="457" cy="221" rx="2" ry="0.7" fill="#aaa"/>
</g>
<path d="M402.2 186.5V299.9M513.9 186.5V299.9" fill="none" stroke="#000" stroke-width="2.2"/>
<line x1="399" y1="187.3" x2="513.9" y2="187.3" stroke="#000" stroke-width="1.4"/>
<line x1="399" y1="299" x2="514.8" y2="299" stroke="#000" stroke-width="1.9"/>
<line x1="463" y1="187.3" x2="463" y2="299" stroke="#000" stroke-width="2.4"/>
<line x1="402.2" y1="261.8" x2="513.9" y2="261.8" stroke="#000" stroke-width="1.6"/>
<line x1="399" y1="299" x2="402.2" y2="299" stroke="#000" stroke-width="1.2"/>
<line x1="402.2" y1="299" x2="402.2" y2="301.8" stroke="#000" stroke-width="1.2"/>
<text x="401" y="310.7" font-size="8.1">10<tspan font-size="4.9" dy="-2.5">0</tspan></text>
<line x1="399" y1="271.07" x2="402.2" y2="271.07" stroke="#000" stroke-width="1.2"/>
<line x1="430.12" y1="299" x2="430.12" y2="301.8" stroke="#000" stroke-width="1.2"/>
<text x="428.48" y="310.7" font-size="8.1">10<tspan font-size="4.9" dy="-2.5">1</tspan></text>
<line x1="399" y1="243.15" x2="402.2" y2="243.15" stroke="#000" stroke-width="1.2"/>
<line x1="458.05" y1="299" x2="458.05" y2="301.8" stroke="#000" stroke-width="1.2"/>
<text x="455.95" y="310.7" font-size="8.1">10<tspan font-size="4.9" dy="-2.5">2</tspan></text>
<line x1="399" y1="215.23" x2="402.2" y2="215.23" stroke="#000" stroke-width="1.2"/>
<line x1="485.97" y1="299" x2="485.97" y2="301.8" stroke="#000" stroke-width="1.2"/>
<text x="483.42" y="310.7" font-size="8.1">10<tspan font-size="4.9" dy="-2.5">3</tspan></text>
<line x1="399" y1="187.3" x2="402.2" y2="187.3" stroke="#000" stroke-width="1.2"/>
<line x1="513.9" y1="299" x2="513.9" y2="301.8" stroke="#000" stroke-width="1.2"/>
<text x="515.8" y="310.7" font-size="8.1" text-anchor="end">10<tspan font-size="4.9" dy="-2.5">4</tspan></text>
<path d="M401.2 290.6h-1.6M410.6 299.9v1.6M401.2 285.7h-1.6M415.5 299.9v1.6M401.2 282.2h-1.6M419 299.9v1.6M401.2 279.5h-1.6M421.7 299.9v1.6M401.2 277.3h-1.6M423.9 299.9v1.6M401.2 275.4h-1.6M425.8 299.9v1.6M401.2 273.8h-1.6M427.4 299.9v1.6M401.2 272.4h-1.6M428.8 299.9v1.6M401.2 262.7h-1.6M438.5 299.9v1.6M401.2 257.8h-1.6M443.4 299.9v1.6M401.2 254.3h-1.6M446.9 299.9v1.6M401.2 251.6h-1.6M449.6 299.9v1.6M401.2 249.3h-1.6M451.9 299.9v1.6M401.2 247.5h-1.6M453.7 299.9v1.6M401.2 245.9h-1.6M455.3 299.9v1.6M401.2 244.4h-1.6M456.8 299.9v1.6M401.2 234.7h-1.6M466.5 299.9v1.6M401.2 229.8h-1.6M471.4 299.9v1.6M401.2 226.3h-1.6M474.9 299.9v1.6M401.2 223.6h-1.6M477.6 299.9v1.6M401.2 221.4h-1.6M479.8 299.9v1.6M401.2 219.6h-1.6M481.6 299.9v1.6M401.2 217.9h-1.6M483.3 299.9v1.6M401.2 216.5h-1.6M484.7 299.9v1.6M401.2 206.8h-1.6M494.4 299.9v1.6M401.2 201.9h-1.6M499.3 299.9v1.6M401.2 198.4h-1.6M502.8 299.9v1.6M401.2 195.7h-1.6M505.5 299.9v1.6M401.2 193.5h-1.6M507.7 299.9v1.6M401.2 191.6h-1.6M509.6 299.9v1.6M401.2 190h-1.6M511.2 299.9v1.6M401.2 188.6h-1.6M512.6 299.9v1.6" stroke="#444" stroke-width=".5" fill="none"/>
<text x="404.5" y="199.1" font-size="13.4">72</text>
<text x="513.2" y="199.1" font-size="13.4" text-anchor="end">27</text>
<text x="404.5" y="297.5" font-size="13.4">0</text>
<text x="513.2" y="297.5" font-size="13.4" text-anchor="end">1</text>
<text x="4.2" y="325.1" font-size="13.7">CD62L</text>
<text x="48.4" y="349.1" font-size="13.7">CD11b</text>
<path d="M27 334V345.8H35" fill="none" stroke="#000" stroke-width="1.6"/>
<path d="M27 328.6L31 336.8H23Z"/>
<path d="M41 345.8L33.6 349.6V342Z"/>
<text x="0.1" y="382.6" font-size="25" font-weight="bold">B</text>
<text x="155.3" y="387.6" font-size="22.8" text-anchor="middle" font-style="italic">S. aureus</text>
<text x="422" y="387.6" font-size="22.8" text-anchor="middle" font-style="italic">E. coli</text>
<text x="31.6" y="459.8" font-size="19.6" text-anchor="middle" transform="rotate(-90 31.6 459.8)">MFI CD11b</text>
<text x="292" y="459.8" font-size="19.6" text-anchor="middle" transform="rotate(-90 292 459.8)">MFI CD11b</text>
<text x="155" y="559.8" font-size="18.8" text-anchor="middle">Time (min)</text>
<text x="414.7" y="560.8" font-size="18.9" text-anchor="middle">Time (min)</text>
<path d="M67.8 406.3V520.4H240" fill="none" stroke="#000" stroke-width="1.35" stroke-linecap="square"/>
<line x1="63.6" y1="406.3" x2="67.8" y2="406.3" stroke="#000" stroke-width="1.35"/>
<text x="63.3" y="411.45" font-size="14.3" text-anchor="end">600</text>
<line x1="63.6" y1="444.3" x2="67.8" y2="444.3" stroke="#000" stroke-width="1.35"/>
<text x="63.3" y="449.45" font-size="14.3" text-anchor="end">400</text>
<line x1="63.6" y1="482.3" x2="67.8" y2="482.3" stroke="#000" stroke-width="1.35"/>
<text x="63.3" y="487.45" font-size="14.3" text-anchor="end">200</text>
<line x1="63.6" y1="520.3" x2="67.8" y2="520.3" stroke="#000" stroke-width="1.35"/>
<text x="63.3" y="525.45" font-size="14.3" text-anchor="end">0</text>
<line x1="65.4" y1="425.3" x2="67.8" y2="425.3" stroke="#000" stroke-width="1.22"/>
<line x1="65.4" y1="463.3" x2="67.8" y2="463.3" stroke="#000" stroke-width="1.22"/>
<line x1="65.4" y1="501.3" x2="67.8" y2="501.3" stroke="#000" stroke-width="1.22"/>
<line x1="67.8" y1="520.4" x2="67.8" y2="524.2" stroke="#000" stroke-width="1.35"/>
<text x="67.8" y="537.6" font-size="14.3" text-anchor="middle">0</text>
<line x1="96.5" y1="520.4" x2="96.5" y2="524.2" stroke="#000" stroke-width="1.35"/>
<text x="96.5" y="537.6" font-size="14.3" text-anchor="middle">10</text>
<line x1="125.2" y1="520.4" x2="125.2" y2="524.2" stroke="#000" stroke-width="1.35"/>
<text x="125.2" y="537.6" font-size="14.3" text-anchor="middle">20</text>
<line x1="153.9" y1="520.4" x2="153.9" y2="524.2" stroke="#000" stroke-width="1.35"/>
<text x="153.9" y="537.6" font-size="14.3" text-anchor="middle">30</text>
<line x1="182.6" y1="520.4" x2="182.6" y2="524.2" stroke="#000" stroke-width="1.35"/>
<text x="182.6" y="537.6" font-size="14.3" text-anchor="middle">40</text>
<line x1="211.3" y1="520.4" x2="211.3" y2="524.2" stroke="#000" stroke-width="1.35"/>
<text x="211.3" y="537.6" font-size="14.3" text-anchor="middle">50</text>
<line x1="240" y1="520.4" x2="240" y2="524.2" stroke="#000" stroke-width="1.35"/>
<text x="240" y="537.6" font-size="14.3" text-anchor="middle">60</text>
<path d="M97 466.3V474M92 466.3H102M92 474H102" fill="none" stroke="#000" stroke-width="1.3"/>
<path d="M153.7 423.7V432M148.7 423.7H158.7M148.7 432H158.7" fill="none" stroke="#000" stroke-width="1.3"/>
<path d="M67.8 512.6L97 472.5L153.7 430.5L240 422" fill="none" stroke="#000" stroke-width="1.35" stroke-linejoin="round"/>
<path d="M67.8 512.6L97 470.8L153.7 431.3L240 430.3" fill="none" stroke="#000" stroke-width="1.35" stroke-linejoin="round"/>
<path d="M67.8 512.6L97 485.5L153.7 448.4L240 446" fill="none" stroke="#000" stroke-width="1.35" stroke-linejoin="round"/>
<path d="M67.8 512.6L97 501.2L153.7 455.2L240 457.5" fill="none" stroke="#000" stroke-width="1.35" stroke-linejoin="round"/>
<rect x="63.2" y="508" width="9.2" height="9.2"/>
<rect x="92.4" y="467.9" width="9.2" height="9.2"/>
<rect x="149.1" y="425.9" width="9.2" height="9.2"/>
<rect x="235.4" y="417.4" width="9.2" height="9.2"/>
<path d="M67.8 508.1L72.3 516.38H63.3Z"/>
<path d="M97 466.3L101.5 474.58H92.5Z"/>
<path d="M153.7 426.8L158.2 435.08H149.2Z"/>
<path d="M240 425.8L244.5 434.08H235.5Z"/>
<path d="M67.8 517.1L72.3 508.82H63.3Z"/>
<path d="M97 490L101.5 481.72H92.5Z"/>
<path d="M153.7 452.9L158.2 444.62H149.2Z"/>
<path d="M240 450.5L244.5 442.22H235.5Z"/>
<path d="M67.8 507.99L71.75 512.6L67.8 517.21L63.85 512.6Z"/>
<path d="M97 496.59L100.95 501.2L97 505.81L93.05 501.2Z"/>
<path d="M153.7 450.59L157.65 455.2L153.7 459.81L149.75 455.2Z"/>
<path d="M240 452.89L243.95 457.5L240 462.11L236.05 457.5Z"/>
<text transform="translate(247 451.41) scale(0.86 1)" font-size="16.5">#</text>
<text transform="translate(247 465.61) scale(0.86 1)" font-size="16.5">#</text>
<path d="M328.1 406.3V521.2H500" fill="none" stroke="#000" stroke-width="1.35" stroke-linecap="square"/>
<line x1="323.9" y1="406.3" x2="328.1" y2="406.3" stroke="#000" stroke-width="1.35"/>
<text x="323.4" y="411.45" font-size="14.3" text-anchor="end">800</text>
<line x1="323.9" y1="435" x2="328.1" y2="435" stroke="#000" stroke-width="1.35"/>
<text x="323.4" y="440.15" font-size="14.3" text-anchor="end">600</text>
<line x1="323.9" y1="463.7" x2="328.1" y2="463.7" stroke="#000" stroke-width="1.35"/>
<text x="323.4" y="468.85" font-size="14.3" text-anchor="end">400</text>
<line x1="323.9" y1="492.5" x2="328.1" y2="492.5" stroke="#000" stroke-width="1.35"/>
<text x="323.4" y="497.65" font-size="14.3" text-anchor="end">200</text>
<line x1="323.9" y1="521.2" x2="328.1" y2="521.2" stroke="#000" stroke-width="1.35"/>
<text x="323.4" y="526.35" font-size="14.3" text-anchor="end">0</text>
<line x1="325.7" y1="420.7" x2="328.1" y2="420.7" stroke="#000" stroke-width="1.22"/>
<line x1="325.7" y1="449.4" x2="328.1" y2="449.4" stroke="#000" stroke-width="1.22"/>
<line x1="325.7" y1="478.1" x2="328.1" y2="478.1" stroke="#000" stroke-width="1.22"/>
<line x1="325.7" y1="506.8" x2="328.1" y2="506.8" stroke="#000" stroke-width="1.22"/>
<line x1="328.1" y1="521.2" x2="328.1" y2="525" stroke="#000" stroke-width="1.35"/>
<text x="328.1" y="538.4" font-size="14.3" text-anchor="middle">0</text>
<line x1="356.75" y1="521.2" x2="356.75" y2="525" stroke="#000" stroke-width="1.35"/>
<text x="356.75" y="538.4" font-size="14.3" text-anchor="middle">10</text>
<line x1="385.4" y1="521.2" x2="385.4" y2="525" stroke="#000" stroke-width="1.35"/>
<text x="385.4" y="538.4" font-size="14.3" text-anchor="middle">20</text>
<line x1="414.05" y1="521.2" x2="414.05" y2="525" stroke="#000" stroke-width="1.35"/>
<text x="414.05" y="538.4" font-size="14.3" text-anchor="middle">30</text>
<line x1="442.7" y1="521.2" x2="442.7" y2="525" stroke="#000" stroke-width="1.35"/>
<text x="442.7" y="538.4" font-size="14.3" text-anchor="middle">40</text>
<line x1="471.35" y1="521.2" x2="471.35" y2="525" stroke="#000" stroke-width="1.35"/>
<text x="471.35" y="538.4" font-size="14.3" text-anchor="middle">50</text>
<line x1="500" y1="521.2" x2="500" y2="525" stroke="#000" stroke-width="1.35"/>
<text x="500" y="538.4" font-size="14.3" text-anchor="middle">60</text>
<path d="M413.7 456V476M408.7 456H418.7M408.7 476H418.7" fill="none" stroke="#000" stroke-width="1.3"/>
<path d="M328 515.2L357 500.5L413.7 456.2L500 421" fill="none" stroke="#000" stroke-width="1.35" stroke-linejoin="round"/>
<path d="M328 515.2L357 504L413.7 466L500 435.5" fill="none" stroke="#000" stroke-width="1.35" stroke-linejoin="round"/>
<path d="M328 515.2L357 508.5L413.7 498.2L500 477" fill="none" stroke="#000" stroke-width="1.35" stroke-linejoin="round"/>
<path d="M328 515.2L357 512.5L413.7 508.3L500 507.7" fill="none" stroke="#000" stroke-width="1.35" stroke-linejoin="round"/>
<rect x="323.4" y="510.6" width="9.2" height="9.2"/>
<rect x="352.4" y="495.9" width="9.2" height="9.2"/>
<rect x="409.1" y="451.6" width="9.2" height="9.2"/>
<rect x="495.4" y="416.4" width="9.2" height="9.2"/>
<path d="M328 510.7L332.5 518.98H323.5Z"/>
<path d="M357 499.5L361.5 507.78H352.5Z"/>
<path d="M413.7 461.5L418.2 469.78H409.2Z"/>
<path d="M500 431L504.5 439.28H495.5Z"/>
<path d="M328 519.7L332.5 511.42H323.5Z"/>
<path d="M357 513L361.5 504.72H352.5Z"/>
<path d="M413.7 502.7L418.2 494.42H409.2Z"/>
<path d="M500 481.5L504.5 473.22H495.5Z"/>
<path d="M328 510.59L331.95 515.2L328 519.81L324.05 515.2Z"/>
<path d="M357 507.89L360.95 512.5L357 517.11L353.05 512.5Z"/>
<path d="M413.7 503.69L417.65 508.3L413.7 512.91L409.75 508.3Z"/>
<path d="M500 503.09L503.95 507.7L500 512.31L496.05 507.7Z"/>
<text x="501.5" y="441.9" font-size="21.4">**</text>
<text transform="translate(506.8 477.61) scale(0.86 1)" font-size="16.5">#</text>
<text transform="translate(506.8 514.61) scale(0.86 1)" font-size="16.5">#</text>
<text x="-0.2" y="581.7" font-size="25" font-weight="bold">C</text>
<text x="14" y="646.4" font-size="19.5" text-anchor="middle" transform="rotate(-90 14 646.4)">% L-selectin</text>
<text x="37.6" y="647" font-size="19.5" text-anchor="middle" transform="rotate(-90 37.6 647)">Shedding</text>
<text x="277.5" y="646.4" font-size="19.5" text-anchor="middle" transform="rotate(-90 277.5 646.4)">% L-selectin</text>
<text x="301.1" y="647" font-size="19.5" text-anchor="middle" transform="rotate(-90 301.1 647)">Shedding</text>
<text x="154.2" y="750.3" font-size="19.3" text-anchor="middle">Time (min)</text>
<text x="418.1" y="750.3" font-size="19.2" text-anchor="middle">Time (min)</text>
<path d="M66.3 591.2V708H242" fill="none" stroke="#000" stroke-width="1.35" stroke-linecap="square"/>
<line x1="62.1" y1="591.2" x2="66.3" y2="591.2" stroke="#000" stroke-width="1.35"/>
<text x="61.5" y="596.35" font-size="14.3" text-anchor="end">100</text>
<line x1="62.1" y1="620.4" x2="66.3" y2="620.4" stroke="#000" stroke-width="1.35"/>
<text x="61.5" y="625.55" font-size="14.3" text-anchor="end">75</text>
<line x1="62.1" y1="649.6" x2="66.3" y2="649.6" stroke="#000" stroke-width="1.35"/>
<text x="61.5" y="654.75" font-size="14.3" text-anchor="end">50</text>
<line x1="62.1" y1="678.8" x2="66.3" y2="678.8" stroke="#000" stroke-width="1.35"/>
<text x="61.5" y="683.95" font-size="14.3" text-anchor="end">25</text>
<line x1="62.1" y1="708" x2="66.3" y2="708" stroke="#000" stroke-width="1.35"/>
<text x="61.5" y="713.15" font-size="14.3" text-anchor="end">0</text>
<line x1="66.5" y1="708" x2="66.5" y2="711.8" stroke="#000" stroke-width="1.35"/>
<text x="66.5" y="726.3" font-size="14.3" text-anchor="middle">0</text>
<line x1="95.75" y1="708" x2="95.75" y2="711.8" stroke="#000" stroke-width="1.35"/>
<text x="95.75" y="726.3" font-size="14.3" text-anchor="middle">10</text>
<line x1="125" y1="708" x2="125" y2="711.8" stroke="#000" stroke-width="1.35"/>
<text x="125" y="726.3" font-size="14.3" text-anchor="middle">20</text>
<line x1="154.25" y1="708" x2="154.25" y2="711.8" stroke="#000" stroke-width="1.35"/>
<text x="154.25" y="726.3" font-size="14.3" text-anchor="middle">30</text>
<line x1="183.5" y1="708" x2="183.5" y2="711.8" stroke="#000" stroke-width="1.35"/>
<text x="183.5" y="726.3" font-size="14.3" text-anchor="middle">40</text>
<line x1="212.75" y1="708" x2="212.75" y2="711.8" stroke="#000" stroke-width="1.35"/>
<text x="212.75" y="726.3" font-size="14.3" text-anchor="middle">50</text>
<line x1="242" y1="708" x2="242" y2="711.8" stroke="#000" stroke-width="1.35"/>
<text x="242" y="726.3" font-size="14.3" text-anchor="middle">60</text>
<path d="M242 616.2V625M237 616.2H247M237 625H247" fill="none" stroke="#000" stroke-width="1.3"/>
<path d="M242 681.2V693.8M237 681.2H247M237 693.8H247" fill="none" stroke="#000" stroke-width="1.3"/>
<path d="M66.5 705.3L95.7 691.2L154.2 618.7L242 606.2" fill="none" stroke="#000" stroke-width="1.35" stroke-linejoin="round"/>
<path d="M66.5 706L95.7 701L154.2 636.8L242 622.8" fill="none" stroke="#000" stroke-width="1.35" stroke-linejoin="round"/>
<path d="M66.5 706.5L95.7 705L154.2 684.4L242 663.6" fill="none" stroke="#000" stroke-width="1.35" stroke-linejoin="round"/>
<path d="M66.5 707L95.7 706.8L154.2 696.2L242 687.5" fill="none" stroke="#000" stroke-width="1.35" stroke-linejoin="round"/>
<rect x="61.7" y="700.5" width="9.6" height="9.6"/>
<rect x="90.9" y="686.4" width="9.6" height="9.6"/>
<rect x="149.4" y="613.9" width="9.6" height="9.6"/>
<rect x="237.2" y="601.4" width="9.6" height="9.6"/>
<path d="M66.5 700.6L71.9 710.54H61.1Z"/>
<path d="M95.7 695.6L101.1 705.54H90.3Z"/>
<path d="M154.2 631.4L159.6 641.34H148.8Z"/>
<path d="M242 617.4L247.4 627.34H236.6Z"/>
<path d="M66.5 711.9L71.9 701.96H61.1Z"/>
<path d="M95.7 710.4L101.1 700.46H90.3Z"/>
<path d="M154.2 689.8L159.6 679.86H148.8Z"/>
<path d="M242 669L247.4 659.06H236.6Z"/>
<path d="M66.5 701.02L71.62 707L66.5 712.98L61.38 707Z"/>
<path d="M95.7 700.82L100.82 706.8L95.7 712.78L90.58 706.8Z"/>
<path d="M154.2 690.22L159.32 696.2L154.2 702.18L149.08 696.2Z"/>
<path d="M242 681.52L247.12 687.5L242 693.48L236.88 687.5Z"/>
<text transform="translate(247.3 630.61) scale(0.86 1)" font-size="16.5">#</text>
<text transform="translate(247.3 667.61) scale(0.86 1)" font-size="16.5">#</text>
<text transform="translate(247.3 694.31) scale(0.86 1)" font-size="16.5">#</text>
<path d="M329.7 591.2V708H505.5" fill="none" stroke="#000" stroke-width="1.35" stroke-linecap="square"/>
<line x1="325.5" y1="591.2" x2="329.7" y2="591.2" stroke="#000" stroke-width="1.35"/>
<text x="325.1" y="596.35" font-size="14.3" text-anchor="end">100</text>
<line x1="325.5" y1="620.4" x2="329.7" y2="620.4" stroke="#000" stroke-width="1.35"/>
<text x="325.1" y="625.55" font-size="14.3" text-anchor="end">75</text>
<line x1="325.5" y1="649.6" x2="329.7" y2="649.6" stroke="#000" stroke-width="1.35"/>
<text x="325.1" y="654.75" font-size="14.3" text-anchor="end">50</text>
<line x1="325.5" y1="678.8" x2="329.7" y2="678.8" stroke="#000" stroke-width="1.35"/>
<text x="325.1" y="683.95" font-size="14.3" text-anchor="end">25</text>
<line x1="325.5" y1="708" x2="329.7" y2="708" stroke="#000" stroke-width="1.35"/>
<text x="325.1" y="713.15" font-size="14.3" text-anchor="end">0</text>
<line x1="329.7" y1="708" x2="329.7" y2="711.8" stroke="#000" stroke-width="1.35"/>
<text x="329.7" y="726.3" font-size="14.3" text-anchor="middle">0</text>
<line x1="359" y1="708" x2="359" y2="711.8" stroke="#000" stroke-width="1.35"/>
<text x="359" y="726.3" font-size="14.3" text-anchor="middle">10</text>
<line x1="388.3" y1="708" x2="388.3" y2="711.8" stroke="#000" stroke-width="1.35"/>
<text x="388.3" y="726.3" font-size="14.3" text-anchor="middle">20</text>
<line x1="417.6" y1="708" x2="417.6" y2="711.8" stroke="#000" stroke-width="1.35"/>
<text x="417.6" y="726.3" font-size="14.3" text-anchor="middle">30</text>
<line x1="446.9" y1="708" x2="446.9" y2="711.8" stroke="#000" stroke-width="1.35"/>
<text x="446.9" y="726.3" font-size="14.3" text-anchor="middle">40</text>
<line x1="476.2" y1="708" x2="476.2" y2="711.8" stroke="#000" stroke-width="1.35"/>
<text x="476.2" y="726.3" font-size="14.3" text-anchor="middle">50</text>
<line x1="505.5" y1="708" x2="505.5" y2="711.8" stroke="#000" stroke-width="1.35"/>
<text x="505.5" y="726.3" font-size="14.3" text-anchor="middle">60</text>
<path d="M417.5 658.7V690.2M412.5 658.7H422.5M412.5 690.2H422.5" fill="none" stroke="#000" stroke-width="1.3"/>
<path d="M329.6 704.4L358.8 697L417.5 642.5L505.5 603.7" fill="none" stroke="#000" stroke-width="1.35" stroke-linejoin="round"/>
<path d="M329.6 705.3L358.8 703.5L417.5 675L505.5 626.2" fill="none" stroke="#000" stroke-width="1.35" stroke-linejoin="round"/>
<path d="M329.6 706.3L358.8 706L417.5 702L505.5 688" fill="none" stroke="#000" stroke-width="1.35" stroke-linejoin="round"/>
<path d="M329.6 707.3L358.8 707.3L417.5 706.8L505.5 705" fill="none" stroke="#000" stroke-width="1.35" stroke-linejoin="round"/>
<rect x="324.6" y="699.4" width="10" height="10"/>
<rect x="353.8" y="692" width="10" height="10"/>
<rect x="412.5" y="637.5" width="10" height="10"/>
<rect x="500.5" y="598.7" width="10" height="10"/>
<path d="M329.6 699.9L335 709.84H324.2Z"/>
<path d="M358.8 698.1L364.2 708.04H353.4Z"/>
<path d="M417.5 669.6L422.9 679.54H412.1Z"/>
<path d="M505.5 620.8L510.9 630.74H500.1Z"/>
<path d="M329.6 711.7L335 701.76H324.2Z"/>
<path d="M358.8 711.4L364.2 701.46H353.4Z"/>
<path d="M417.5 707.4L422.9 697.46H412.1Z"/>
<path d="M505.5 693.4L510.9 683.46H500.1Z"/>
<path d="M329.6 701.32L334.72 707.3L329.6 713.28L324.48 707.3Z"/>
<path d="M358.8 701.32L363.92 707.3L358.8 713.28L353.68 707.3Z"/>
<path d="M417.5 700.82L422.62 706.8L417.5 712.78L412.38 706.8Z"/>
<path d="M505.5 699.02L510.62 705L505.5 710.98L500.38 705Z"/>
<text transform="translate(509.3 633.11) scale(0.86 1)" font-size="16.5">#</text>
<text transform="translate(509.3 692.31) scale(0.86 1)" font-size="16.5">#</text>
<text transform="translate(509.3 708.61) scale(0.86 1)" font-size="16.5">#</text>
<line x1="11.5" y1="746.9" x2="27.2" y2="746.9" stroke="#000" stroke-width="2"/>
<line x1="11.5" y1="770.8" x2="27.2" y2="770.8" stroke="#000" stroke-width="2"/>
<line x1="11.5" y1="789.8" x2="27.2" y2="789.8" stroke="#000" stroke-width="2"/>
<line x1="11.5" y1="815.7" x2="27.2" y2="815.7" stroke="#000" stroke-width="2"/>
<rect x="15" y="742.4" width="9.1" height="9.1"/>
<path d="M19.3 763.5L26.4 775.9H12.3Z"/>
<path d="M19.3 798.2L26.4 786.3H12.3Z"/>
<path d="M19.2 809.2L24.7 815.7L19.2 822.1L13.6 815.7Z"/>
<text x="34" y="750.2" font-size="18.25">Vehicle</text>
<text x="34" y="774.6" font-size="18.25">PD98059</text>
<text x="34" y="797.4" font-size="18.25">SB203580</text>
<text x="34" y="820.6" font-size="18.25">PD98059/SB203580</text>
<text x="0.4" y="851" font-size="25" font-weight="bold">D</text>
<text x="158" y="849.5" font-size="22.8" text-anchor="middle" font-style="italic">S. aureus</text>
<text x="421.8" y="849.4" font-size="22.7" text-anchor="middle" font-style="italic">E. coli</text>
<text x="41.5" y="951.7" font-size="20" text-anchor="middle" transform="rotate(-90 41.5 951.7)">nmol SOx / 10<tspan font-size="12.5" dy="-7">6</tspan><tspan dy="7"> PMN</tspan></text>
<text x="301.5" y="951.7" font-size="20" text-anchor="middle" transform="rotate(-90 301.5 951.7)">nmol SOx / 10<tspan font-size="12.5" dy="-7">6</tspan><tspan dy="7"> PMN</tspan></text>
<text x="155.2" y="1086.2" font-size="19.2" text-anchor="middle">Time (min)</text>
<text x="415.2" y="1086.2" font-size="19.2" text-anchor="middle">Time (min)</text>
<path d="M66.2 865.7V1043.2H243.8" fill="none" stroke="#000" stroke-width="1.35" stroke-linecap="square"/>
<line x1="62" y1="865.7" x2="66.2" y2="865.7" stroke="#000" stroke-width="1.35"/>
<text x="61.8" y="870.85" font-size="14.3" text-anchor="end">3</text>
<line x1="62" y1="924.9" x2="66.2" y2="924.9" stroke="#000" stroke-width="1.35"/>
<text x="61.8" y="930.05" font-size="14.3" text-anchor="end">2</text>
<line x1="62" y1="984" x2="66.2" y2="984" stroke="#000" stroke-width="1.35"/>
<text x="61.8" y="989.15" font-size="14.3" text-anchor="end">1</text>
<line x1="62" y1="1043.2" x2="66.2" y2="1043.2" stroke="#000" stroke-width="1.35"/>
<text x="61.8" y="1048.35" font-size="14.3" text-anchor="end">0</text>
<line x1="66.2" y1="1043.2" x2="66.2" y2="1047" stroke="#000" stroke-width="1.35"/>
<text x="66.2" y="1061.6" font-size="14.3" text-anchor="middle">0</text>
<line x1="101.72" y1="1043.2" x2="101.72" y2="1047" stroke="#000" stroke-width="1.35"/>
<text x="101.72" y="1061.6" font-size="14.3" text-anchor="middle">25</text>
<line x1="137.24" y1="1043.2" x2="137.24" y2="1047" stroke="#000" stroke-width="1.35"/>
<text x="137.24" y="1061.6" font-size="14.3" text-anchor="middle">50</text>
<line x1="172.76" y1="1043.2" x2="172.76" y2="1047" stroke="#000" stroke-width="1.35"/>
<text x="172.76" y="1061.6" font-size="14.3" text-anchor="middle">75</text>
<line x1="208.28" y1="1043.2" x2="208.28" y2="1047" stroke="#000" stroke-width="1.35"/>
<text x="208.28" y="1061.6" font-size="14.3" text-anchor="middle">100</text>
<line x1="243.8" y1="1043.2" x2="243.8" y2="1047" stroke="#000" stroke-width="1.35"/>
<text x="243.8" y="1061.6" font-size="14.3" text-anchor="middle">125</text>
<path d="M94.4 1015.5V1033.5M89.4 1015.5H99.4M89.4 1033.5H99.4" fill="none" stroke="#000" stroke-width="1.3"/>
<path d="M108.65 985.5V1019.5M103.65 985.5H113.65M103.65 1019.5H113.65" fill="none" stroke="#000" stroke-width="1.3"/>
<path d="M108.65 1022.5V1032.5M103.65 1022.5H113.65M103.65 1032.5H113.65" fill="none" stroke="#000" stroke-width="1.3"/>
<path d="M108.65 1023V1033M103.65 1023H113.65M103.65 1033H113.65" fill="none" stroke="#000" stroke-width="1.3"/>
<path d="M108.65 1039V1043M103.65 1039H113.65M103.65 1043H113.65" fill="none" stroke="#000" stroke-width="1.3"/>
<path d="M122.9 965.5V1005.5M117.9 965.5H127.9M117.9 1005.5H127.9" fill="none" stroke="#000" stroke-width="1.3"/>
<path d="M122.9 1003.5V1029.5M117.9 1003.5H127.9M117.9 1029.5H127.9" fill="none" stroke="#000" stroke-width="1.3"/>
<path d="M122.9 1012V1040M117.9 1012H127.9M117.9 1040H127.9" fill="none" stroke="#000" stroke-width="1.3"/>
<path d="M122.9 1037V1043M117.9 1037H127.9M117.9 1043H127.9" fill="none" stroke="#000" stroke-width="1.3"/>
<path d="M137.15 961.2V986.2M132.15 961.2H142.15M132.15 986.2H142.15" fill="none" stroke="#000" stroke-width="1.3"/>
<path d="M137.15 988V1019M132.15 988H142.15M132.15 1019H142.15" fill="none" stroke="#000" stroke-width="1.3"/>
<path d="M137.15 1011.5V1041.5M132.15 1011.5H142.15M132.15 1041.5H142.15" fill="none" stroke="#000" stroke-width="1.3"/>
<path d="M137.15 1034.5V1042.5M132.15 1034.5H142.15M132.15 1042.5H142.15" fill="none" stroke="#000" stroke-width="1.3"/>
<path d="M151.4 952.1V971.1M146.4 952.1H156.4M146.4 971.1H156.4" fill="none" stroke="#000" stroke-width="1.3"/>
<path d="M151.4 963.5V1013.5M146.4 963.5H156.4M146.4 1013.5H156.4" fill="none" stroke="#000" stroke-width="1.3"/>
<path d="M151.4 1015V1040M146.4 1015H156.4M146.4 1040H156.4" fill="none" stroke="#000" stroke-width="1.3"/>
<path d="M151.4 1032V1042M146.4 1032H156.4M146.4 1042H156.4" fill="none" stroke="#000" stroke-width="1.3"/>
<path d="M165.65 943.1V956.1M160.65 943.1H170.65M160.65 956.1H170.65" fill="none" stroke="#000" stroke-width="1.3"/>
<path d="M165.65 945.5V1007.1M160.65 945.5H170.65M160.65 1007.1H170.65" fill="none" stroke="#000" stroke-width="1.3"/>
<path d="M165.65 1013.7V1037.7M160.65 1013.7H170.65M160.65 1037.7H170.65" fill="none" stroke="#000" stroke-width="1.3"/>
<path d="M165.65 1031V1041M160.65 1031H170.65M160.65 1041H170.65" fill="none" stroke="#000" stroke-width="1.3"/>
<path d="M179.9 937V950.4M174.9 937H184.9M174.9 950.4H184.9" fill="none" stroke="#000" stroke-width="1.3"/>
<path d="M179.9 937V991.6M174.9 937H184.9M174.9 991.6H184.9" fill="none" stroke="#000" stroke-width="1.3"/>
<path d="M179.9 1012.5V1034.9M174.9 1012.5H184.9M174.9 1034.9H184.9" fill="none" stroke="#000" stroke-width="1.3"/>
<path d="M179.9 1031V1041M174.9 1031H184.9M174.9 1041H184.9" fill="none" stroke="#000" stroke-width="1.3"/>
<path d="M194.15 922.8V979.8M189.15 922.8H199.15M189.15 979.8H199.15" fill="none" stroke="#000" stroke-width="1.3"/>
<path d="M194.15 1012V1033M189.15 1012H199.15M189.15 1033H199.15" fill="none" stroke="#000" stroke-width="1.3"/>
<path d="M194.15 1027.7V1039.7M189.15 1027.7H199.15M189.15 1039.7H199.15" fill="none" stroke="#000" stroke-width="1.3"/>
<path d="M208.4 911.7V971.7M203.4 911.7H213.4M203.4 971.7H213.4" fill="none" stroke="#000" stroke-width="1.3"/>
<path d="M208.4 1013.7V1032.3M203.4 1013.7H213.4M203.4 1032.3H213.4" fill="none" stroke="#000" stroke-width="1.3"/>
<path d="M208.4 1028.5V1040.5M203.4 1028.5H213.4M203.4 1040.5H213.4" fill="none" stroke="#000" stroke-width="1.3"/>
<path d="M222.65 904.8V962.4M217.65 904.8H227.65M217.65 962.4H227.65" fill="none" stroke="#000" stroke-width="1.3"/>
<path d="M222.65 1018V1032M217.65 1018H227.65M217.65 1032H227.65" fill="none" stroke="#000" stroke-width="1.3"/>
<path d="M222.65 1029V1041M217.65 1029H227.65M217.65 1041H227.65" fill="none" stroke="#000" stroke-width="1.3"/>
<path d="M236.9 895V951.6M231.9 895H241.9M231.9 951.6H241.9" fill="none" stroke="#000" stroke-width="1.3"/>
<path d="M236.9 1021V1036.4M231.9 1021H241.9M231.9 1036.4H241.9" fill="none" stroke="#000" stroke-width="1.3"/>
<path d="M236.9 1033V1043M231.9 1033H241.9M231.9 1043H241.9" fill="none" stroke="#000" stroke-width="1.3"/>
<path d="M68.75 1040L80.15 1035.7L94.4 1024.5L108.65 1002.5L122.9 985.5L137.15 973.7L151.4 961.6L165.65 949.6L179.9 943.7L194.15 936.2L208.4 927.5L222.65 920L236.9 919.2" fill="none" stroke="#000" stroke-width="1.35" stroke-linejoin="round"/>
<path d="M68.75 1041L80.15 1039L94.4 1035.5L108.65 1027.5L122.9 1016.5L137.15 1003.5L151.4 988.5L165.65 976.3L179.9 964.3L194.15 951.3L208.4 941.7L222.65 933.6L236.9 923.3" fill="none" stroke="#000" stroke-width="1.35" stroke-linejoin="round"/>
<path d="M68.75 1041.5L80.15 1039.5L94.4 1035L108.65 1028L122.9 1026L137.15 1026.5L151.4 1027.5L165.65 1025.7L179.9 1023.7L194.15 1022.5L208.4 1023L222.65 1025L236.9 1028.7" fill="none" stroke="#000" stroke-width="1.35" stroke-linejoin="round"/>
<path d="M68.75 1042L80.15 1041.5L94.4 1041L108.65 1041L122.9 1040L137.15 1038.5L151.4 1037L165.65 1036L179.9 1036L194.15 1033.7L208.4 1034.5L222.65 1035L236.9 1038" fill="none" stroke="#000" stroke-width="1.35" stroke-linejoin="round"/>
<rect x="63.65" y="1034.9" width="10.2" height="10.2"/>
<rect x="75.05" y="1030.6" width="10.2" height="10.2"/>
<rect x="89.3" y="1019.4" width="10.2" height="10.2"/>
<rect x="103.55" y="997.4" width="10.2" height="10.2"/>
<rect x="117.8" y="980.4" width="10.2" height="10.2"/>
<rect x="132.05" y="968.6" width="10.2" height="10.2"/>
<rect x="146.3" y="956.5" width="10.2" height="10.2"/>
<rect x="160.55" y="944.5" width="10.2" height="10.2"/>
<rect x="174.8" y="938.6" width="10.2" height="10.2"/>
<rect x="189.05" y="931.1" width="10.2" height="10.2"/>
<rect x="203.3" y="922.4" width="10.2" height="10.2"/>
<rect x="217.55" y="914.9" width="10.2" height="10.2"/>
<rect x="231.8" y="914.1" width="10.2" height="10.2"/>
<path d="M68.75 1045.75L73.5 1037.01H64Z"/>
<path d="M80.15 1043.75L84.9 1035.01H75.4Z"/>
<path d="M94.4 1040.25L99.15 1031.51H89.65Z"/>
<path d="M108.65 1032.25L113.4 1023.51H103.9Z"/>
<path d="M122.9 1021.25L127.65 1012.51H118.15Z"/>
<path d="M137.15 1008.25L141.9 999.51H132.4Z"/>
<path d="M151.4 993.25L156.15 984.51H146.65Z"/>
<path d="M165.65 981.05L170.4 972.31H160.9Z"/>
<path d="M179.9 969.05L184.65 960.31H175.15Z"/>
<path d="M194.15 956.05L198.9 947.31H189.4Z"/>
<path d="M208.4 946.45L213.15 937.71H203.65Z"/>
<path d="M222.65 938.35L227.4 929.61H217.9Z"/>
<path d="M236.9 928.05L241.65 919.31H232.15Z"/>
<path d="M68.75 1036.5L73.75 1045.7H63.75Z"/>
<path d="M80.15 1034.5L85.15 1043.7H75.15Z"/>
<path d="M94.4 1030L99.4 1039.2H89.4Z"/>
<path d="M108.65 1023L113.65 1032.2H103.65Z"/>
<path d="M122.9 1021L127.9 1030.2H117.9Z"/>
<path d="M137.15 1021.5L142.15 1030.7H132.15Z"/>
<path d="M151.4 1022.5L156.4 1031.7H146.4Z"/>
<path d="M165.65 1020.7L170.65 1029.9H160.65Z"/>
<path d="M179.9 1018.7L184.9 1027.9H174.9Z"/>
<path d="M194.15 1017.5L199.15 1026.7H189.15Z"/>
<path d="M208.4 1018L213.4 1027.2H203.4Z"/>
<path d="M222.65 1020L227.65 1029.2H217.65Z"/>
<path d="M236.9 1023.7L241.9 1032.9H231.9Z"/>
<path d="M68.75 1037.25L72.82 1042L68.75 1046.75L64.68 1042Z"/>
<path d="M80.15 1036.75L84.22 1041.5L80.15 1046.25L76.08 1041.5Z"/>
<path d="M94.4 1036.25L98.47 1041L94.4 1045.75L90.33 1041Z"/>
<path d="M108.65 1036.25L112.72 1041L108.65 1045.75L104.58 1041Z"/>
<path d="M122.9 1035.25L126.97 1040L122.9 1044.75L118.83 1040Z"/>
<path d="M137.15 1033.75L141.22 1038.5L137.15 1043.25L133.08 1038.5Z"/>
<path d="M151.4 1032.25L155.47 1037L151.4 1041.75L147.33 1037Z"/>
<path d="M165.65 1031.25L169.72 1036L165.65 1040.75L161.58 1036Z"/>
<path d="M179.9 1031.25L183.97 1036L179.9 1040.75L175.83 1036Z"/>
<path d="M194.15 1028.95L198.22 1033.7L194.15 1038.45L190.08 1033.7Z"/>
<path d="M208.4 1029.75L212.47 1034.5L208.4 1039.25L204.33 1034.5Z"/>
<path d="M222.65 1030.25L226.72 1035L222.65 1039.75L218.58 1035Z"/>
<path d="M236.9 1033.25L240.97 1038L236.9 1042.75L232.83 1038Z"/>
<text transform="translate(247 1028.71) scale(0.86 1)" font-size="16.5">#</text>
<text transform="translate(247 1043.01) scale(0.86 1)" font-size="16.5">#</text>
<path d="M326.4 865.6V1043.2H503.8" fill="none" stroke="#000" stroke-width="1.35" stroke-linecap="square"/>
<line x1="322.2" y1="865.6" x2="326.4" y2="865.6" stroke="#000" stroke-width="1.35"/>
<text x="321.7" y="870.75" font-size="14.3" text-anchor="end">5</text>
<line x1="322.2" y1="901.1" x2="326.4" y2="901.1" stroke="#000" stroke-width="1.35"/>
<text x="321.7" y="906.25" font-size="14.3" text-anchor="end">4</text>
<line x1="322.2" y1="936.7" x2="326.4" y2="936.7" stroke="#000" stroke-width="1.35"/>
<text x="321.7" y="941.85" font-size="14.3" text-anchor="end">3</text>
<line x1="322.2" y1="972.4" x2="326.4" y2="972.4" stroke="#000" stroke-width="1.35"/>
<text x="321.7" y="977.55" font-size="14.3" text-anchor="end">2</text>
<line x1="322.2" y1="1008" x2="326.4" y2="1008" stroke="#000" stroke-width="1.35"/>
<text x="321.7" y="1013.15" font-size="14.3" text-anchor="end">1</text>
<line x1="322.2" y1="1043.2" x2="326.4" y2="1043.2" stroke="#000" stroke-width="1.35"/>
<text x="321.7" y="1048.35" font-size="14.3" text-anchor="end">0</text>
<line x1="326.3" y1="1043.2" x2="326.3" y2="1047" stroke="#000" stroke-width="1.35"/>
<text x="326.3" y="1061.8" font-size="14.3" text-anchor="middle">0</text>
<line x1="361.8" y1="1043.2" x2="361.8" y2="1047" stroke="#000" stroke-width="1.35"/>
<text x="361.8" y="1061.8" font-size="14.3" text-anchor="middle">25</text>
<line x1="397.3" y1="1043.2" x2="397.3" y2="1047" stroke="#000" stroke-width="1.35"/>
<text x="397.3" y="1061.8" font-size="14.3" text-anchor="middle">50</text>
<line x1="432.8" y1="1043.2" x2="432.8" y2="1047" stroke="#000" stroke-width="1.35"/>
<text x="432.8" y="1061.8" font-size="14.3" text-anchor="middle">75</text>
<line x1="468.3" y1="1043.2" x2="468.3" y2="1047" stroke="#000" stroke-width="1.35"/>
<text x="468.3" y="1061.8" font-size="14.3" text-anchor="middle">100</text>
<line x1="503.8" y1="1043.2" x2="503.8" y2="1047" stroke="#000" stroke-width="1.35"/>
<text x="503.8" y="1061.8" font-size="14.3" text-anchor="middle">125</text>
<path d="M340.5 1025V1031M335.5 1025H345.5M335.5 1031H345.5" fill="none" stroke="#000" stroke-width="1.3"/>
<path d="M340.5 1033.5V1039.5M335.5 1033.5H345.5M335.5 1039.5H345.5" fill="none" stroke="#000" stroke-width="1.3"/>
<path d="M354.7 979.7V992.7M349.7 979.7H359.7M349.7 992.7H359.7" fill="none" stroke="#000" stroke-width="1.3"/>
<path d="M354.7 1001V1009M349.7 1001H359.7M349.7 1009H359.7" fill="none" stroke="#000" stroke-width="1.3"/>
<path d="M354.7 1024.9V1038.5M349.7 1024.9H359.7M349.7 1038.5H359.7" fill="none" stroke="#000" stroke-width="1.3"/>
<path d="M368.9 944.6V963.2M363.9 944.6H373.9M363.9 963.2H373.9" fill="none" stroke="#000" stroke-width="1.3"/>
<path d="M368.9 972.2V985.2M363.9 972.2H373.9M363.9 985.2H373.9" fill="none" stroke="#000" stroke-width="1.3"/>
<path d="M368.9 1022.3V1036.7M363.9 1022.3H373.9M363.9 1036.7H373.9" fill="none" stroke="#000" stroke-width="1.3"/>
<path d="M383.1 915.9V939.1M378.1 915.9H388.1M378.1 939.1H388.1" fill="none" stroke="#000" stroke-width="1.3"/>
<path d="M383.1 951.7V967.7M378.1 951.7H388.1M378.1 967.7H388.1" fill="none" stroke="#000" stroke-width="1.3"/>
<path d="M383.1 1021.3V1035.7M378.1 1021.3H388.1M378.1 1035.7H388.1" fill="none" stroke="#000" stroke-width="1.3"/>
<path d="M397.3 897.7V925.7M392.3 897.7H402.3M392.3 925.7H402.3" fill="none" stroke="#000" stroke-width="1.3"/>
<path d="M397.3 939.7V958.3M392.3 939.7H402.3M392.3 958.3H402.3" fill="none" stroke="#000" stroke-width="1.3"/>
<path d="M397.3 1019.7V1034.3M392.3 1019.7H402.3M392.3 1034.3H402.3" fill="none" stroke="#000" stroke-width="1.3"/>
<path d="M411.5 891.1V922.3M406.5 891.1H416.5M406.5 922.3H416.5" fill="none" stroke="#000" stroke-width="1.3"/>
<path d="M411.5 937.3V956.3M406.5 937.3H416.5M406.5 956.3H416.5" fill="none" stroke="#000" stroke-width="1.3"/>
<path d="M411.5 1017.8V1030.8M406.5 1017.8H416.5M406.5 1030.8H416.5" fill="none" stroke="#000" stroke-width="1.3"/>
<path d="M425.7 888.5V922.5M420.7 888.5H430.7M420.7 922.5H430.7" fill="none" stroke="#000" stroke-width="1.3"/>
<path d="M425.7 937.2V956.2M420.7 937.2H430.7M420.7 956.2H430.7" fill="none" stroke="#000" stroke-width="1.3"/>
<path d="M425.7 1017.1V1028.9M420.7 1017.1H430.7M420.7 1028.9H430.7" fill="none" stroke="#000" stroke-width="1.3"/>
<path d="M439.9 889.7V922.7M434.9 889.7H444.9M434.9 922.7H444.9" fill="none" stroke="#000" stroke-width="1.3"/>
<path d="M439.9 938.8V957.2M434.9 938.8H444.9M434.9 957.2H444.9" fill="none" stroke="#000" stroke-width="1.3"/>
<path d="M439.9 1015V1027.4M434.9 1015H444.9M434.9 1027.4H444.9" fill="none" stroke="#000" stroke-width="1.3"/>
<path d="M454.1 891.7V925.7M449.1 891.7H459.1M449.1 925.7H459.1" fill="none" stroke="#000" stroke-width="1.3"/>
<path d="M454.1 941.5V960.5M449.1 941.5H459.1M449.1 960.5H459.1" fill="none" stroke="#000" stroke-width="1.3"/>
<path d="M454.1 1011.1V1024.9M449.1 1011.1H459.1M449.1 1024.9H459.1" fill="none" stroke="#000" stroke-width="1.3"/>
<path d="M468.3 892.7V929.7M463.3 892.7H473.3M463.3 929.7H473.3" fill="none" stroke="#000" stroke-width="1.3"/>
<path d="M468.3 945.4V962M463.3 945.4H473.3M463.3 962H473.3" fill="none" stroke="#000" stroke-width="1.3"/>
<path d="M468.3 1009.5V1024.5M463.3 1009.5H473.3M463.3 1024.5H473.3" fill="none" stroke="#000" stroke-width="1.3"/>
<path d="M482.5 895.2V932.2M477.5 895.2H487.5M477.5 932.2H487.5" fill="none" stroke="#000" stroke-width="1.3"/>
<path d="M482.5 947.3V964.7M477.5 947.3H487.5M477.5 964.7H487.5" fill="none" stroke="#000" stroke-width="1.3"/>
<path d="M482.5 1008V1024.4M477.5 1008H487.5M477.5 1024.4H487.5" fill="none" stroke="#000" stroke-width="1.3"/>
<path d="M496.7 901V939M491.7 901H501.7M491.7 939H501.7" fill="none" stroke="#000" stroke-width="1.3"/>
<path d="M496.7 950V967.4M491.7 950H501.7M491.7 967.4H501.7" fill="none" stroke="#000" stroke-width="1.3"/>
<path d="M496.7 1006.3V1025.1M491.7 1006.3H501.7M491.7 1025.1H501.7" fill="none" stroke="#000" stroke-width="1.3"/>
<path d="M329.14 1037.5L340.5 1028L354.7 986.2L368.9 953.9L383.1 927.5L397.3 911.7L411.5 906.7L425.7 905.5L439.9 906.2L454.1 908.7L468.3 911.2L482.5 913.7L496.7 920" fill="none" stroke="#000" stroke-width="1.35" stroke-linejoin="round"/>
<path d="M329.14 1041L340.5 1033L354.7 1005L368.9 978.7L383.1 959.7L397.3 949L411.5 946.8L425.7 946.7L439.9 948L454.1 951L468.3 953.7L482.5 956L496.7 958.7" fill="none" stroke="#000" stroke-width="1.35" stroke-linejoin="round"/>
<path d="M329.14 1040.5L340.5 1034L354.7 1022.5L368.9 1015.5L383.1 1009.5L397.3 1006.8L411.5 1005.6L425.7 1004.6L439.9 1003.2L454.1 1002L468.3 998.8L482.5 997.5L496.7 996.2" fill="none" stroke="#000" stroke-width="1.35" stroke-linejoin="round"/>
<path d="M329.14 1041.5L340.5 1036.5L354.7 1031.7L368.9 1029.5L383.1 1028.5L397.3 1027L411.5 1024.3L425.7 1023L439.9 1021.2L454.1 1018L468.3 1017L482.5 1016.2L496.7 1015.7" fill="none" stroke="#000" stroke-width="1.35" stroke-linejoin="round"/>
<rect x="324.04" y="1032.4" width="10.2" height="10.2"/>
<rect x="335.4" y="1022.9" width="10.2" height="10.2"/>
<rect x="349.6" y="981.1" width="10.2" height="10.2"/>
<rect x="363.8" y="948.8" width="10.2" height="10.2"/>
<rect x="378" y="922.4" width="10.2" height="10.2"/>
<rect x="392.2" y="906.6" width="10.2" height="10.2"/>
<rect x="406.4" y="901.6" width="10.2" height="10.2"/>
<rect x="420.6" y="900.4" width="10.2" height="10.2"/>
<rect x="434.8" y="901.1" width="10.2" height="10.2"/>
<rect x="449" y="903.6" width="10.2" height="10.2"/>
<rect x="463.2" y="906.1" width="10.2" height="10.2"/>
<rect x="477.4" y="908.6" width="10.2" height="10.2"/>
<rect x="491.6" y="914.9" width="10.2" height="10.2"/>
<path d="M329.14 1036L334.14 1045.2H324.14Z"/>
<path d="M340.5 1028L345.5 1037.2H335.5Z"/>
<path d="M354.7 1000L359.7 1009.2H349.7Z"/>
<path d="M368.9 973.7L373.9 982.9H363.9Z"/>
<path d="M383.1 954.7L388.1 963.9H378.1Z"/>
<path d="M397.3 944L402.3 953.2H392.3Z"/>
<path d="M411.5 941.8L416.5 951H406.5Z"/>
<path d="M425.7 941.7L430.7 950.9H420.7Z"/>
<path d="M439.9 943L444.9 952.2H434.9Z"/>
<path d="M454.1 946L459.1 955.2H449.1Z"/>
<path d="M468.3 948.7L473.3 957.9H463.3Z"/>
<path d="M482.5 951L487.5 960.2H477.5Z"/>
<path d="M496.7 953.7L501.7 962.9H491.7Z"/>
<path d="M329.14 1045.25L333.89 1036.51H324.39Z"/>
<path d="M340.5 1038.75L345.25 1030.01H335.75Z"/>
<path d="M354.7 1027.25L359.45 1018.51H349.95Z"/>
<path d="M368.9 1020.25L373.65 1011.51H364.15Z"/>
<path d="M383.1 1014.25L387.85 1005.51H378.35Z"/>
<path d="M397.3 1011.55L402.05 1002.81H392.55Z"/>
<path d="M411.5 1010.35L416.25 1001.61H406.75Z"/>
<path d="M425.7 1009.35L430.45 1000.61H420.95Z"/>
<path d="M439.9 1007.95L444.65 999.21H435.15Z"/>
<path d="M454.1 1006.75L458.85 998.01H449.35Z"/>
<path d="M468.3 1003.55L473.05 994.81H463.55Z"/>
<path d="M482.5 1002.25L487.25 993.51H477.75Z"/>
<path d="M496.7 1000.95L501.45 992.21H491.95Z"/>
<path d="M329.14 1036.75L333.21 1041.5L329.14 1046.25L325.07 1041.5Z"/>
<path d="M340.5 1031.75L344.57 1036.5L340.5 1041.25L336.43 1036.5Z"/>
<path d="M354.7 1026.95L358.77 1031.7L354.7 1036.45L350.63 1031.7Z"/>
<path d="M368.9 1024.75L372.97 1029.5L368.9 1034.25L364.83 1029.5Z"/>
<path d="M383.1 1023.75L387.17 1028.5L383.1 1033.25L379.03 1028.5Z"/>
<path d="M397.3 1022.25L401.37 1027L397.3 1031.75L393.23 1027Z"/>
<path d="M411.5 1019.55L415.57 1024.3L411.5 1029.05L407.43 1024.3Z"/>
<path d="M425.7 1018.25L429.77 1023L425.7 1027.75L421.63 1023Z"/>
<path d="M439.9 1016.45L443.97 1021.2L439.9 1025.95L435.83 1021.2Z"/>
<path d="M454.1 1013.25L458.17 1018L454.1 1022.75L450.03 1018Z"/>
<path d="M468.3 1012.25L472.37 1017L468.3 1021.75L464.23 1017Z"/>
<path d="M482.5 1011.45L486.57 1016.2L482.5 1020.95L478.43 1016.2Z"/>
<path d="M496.7 1010.95L500.77 1015.7L496.7 1020.45L492.63 1015.7Z"/>
<text transform="translate(505.3 964.81) scale(0.86 1)" font-size="16.5">#</text>
<text transform="translate(505.3 1002.01) scale(0.86 1)" font-size="16.5">#</text>
<text transform="translate(505.3 1016.31) scale(0.86 1)" font-size="16.5">#</text>
</svg>
</body>
</html>
